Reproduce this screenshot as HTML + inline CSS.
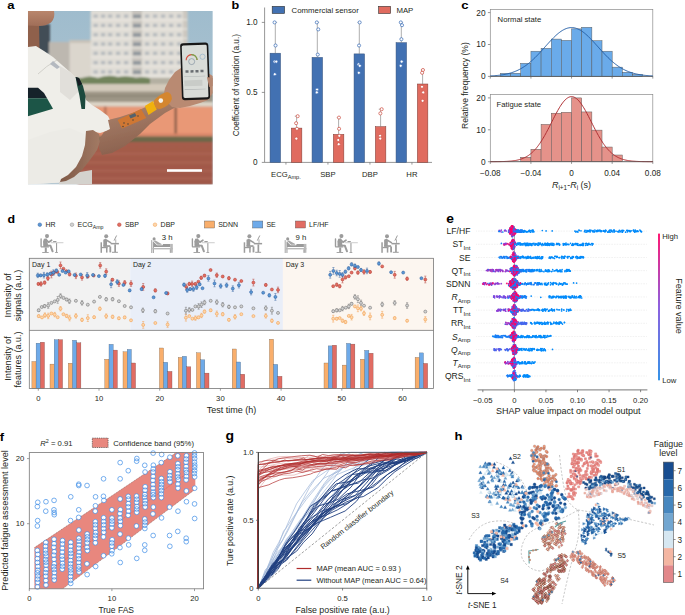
<!DOCTYPE html>
<html><head><meta charset="utf-8"><style>
html,body{margin:0;padding:0;background:#fff;}
svg{display:block;}
text{font-family:"Liberation Sans", sans-serif;}
</style></head><body>
<svg width="685" height="615" viewBox="0 0 685 615" font-family='"Liberation Sans", sans-serif'>
<rect width="685" height="615" fill="#fff"/>
<text transform="translate(7.3,9.2) scale(1.13,1)" font-size="11.6" font-weight="bold" fill="#000">a</text>
<defs><clipPath id="pc"><rect x="27.9" y="10.9" width="184.9" height="173.7"/></clipPath><filter id="bl1" x="-5%" y="-5%" width="110%" height="110%"><feGaussianBlur stdDeviation="0.8"/></filter><filter id="bl2" x="-5%" y="-5%" width="110%" height="110%"><feGaussianBlur stdDeviation="0.4"/></filter><linearGradient id="sky" x1="0" y1="0" x2="0" y2="1"><stop offset="0" stop-color="#9fbccd"/><stop offset="1" stop-color="#b6c8d2"/></linearGradient><linearGradient id="trk" x1="0" y1="0" x2="0" y2="1"><stop offset="0" stop-color="#a55c4b"/><stop offset="1" stop-color="#a05849"/></linearGradient><linearGradient id="farm" x1="0" y1="0" x2="0.3" y2="1"><stop offset="0" stop-color="#b38b74"/><stop offset="1" stop-color="#8a604d"/></linearGradient><linearGradient id="larm" x1="0" y1="0" x2="1" y2="0"><stop offset="0" stop-color="#7e5846"/><stop offset="1" stop-color="#a27a64"/></linearGradient><linearGradient id="chin" x1="0" y1="0" x2="0" y2="1"><stop offset="0" stop-color="#b9866c"/><stop offset="1" stop-color="#a06e58"/></linearGradient></defs>
<g clip-path="url(#pc)">
<rect x="27.9" y="10.9" width="184.9" height="173.7" fill="url(#sky)" stroke="none" stroke-width="0" />
<g filter="url(#bl1)">
<rect x="36.5" y="24" width="13.5" height="30" fill="#434d57" stroke="none" stroke-width="0" />
<rect x="49" y="42" width="22" height="40" fill="#bdb8b0" stroke="none" stroke-width="0" />
<rect x="69.6" y="40" width="21.5" height="42" fill="#dbd6cd" stroke="none" stroke-width="0" />
<rect x="69.6" y="40" width="21.5" height="3" fill="#c8c2b8" stroke="none" stroke-width="0" />
<rect x="90.7" y="10" width="96.5" height="74" fill="#e0ddd6" stroke="none" stroke-width="0" />
<rect x="132" y="10" width="10" height="74" fill="#c9c5be" stroke="none" stroke-width="0" />
<rect x="183" y="10" width="4.5" height="74" fill="#ccc7bf" stroke="none" stroke-width="0" />
<rect x="93.5" y="14.5" width="4.2" height="3.2" fill="#b3b8bc" stroke="none" stroke-width="0" />
<rect x="101" y="14.5" width="4.2" height="3.2" fill="#b3b8bc" stroke="none" stroke-width="0" />
<rect x="108" y="14.5" width="4.2" height="3.2" fill="#b3b8bc" stroke="none" stroke-width="0" />
<rect x="116" y="14.5" width="4.2" height="3.2" fill="#b3b8bc" stroke="none" stroke-width="0" />
<rect x="124" y="14.5" width="4.2" height="3.2" fill="#b3b8bc" stroke="none" stroke-width="0" />
<rect x="145" y="14.5" width="4.2" height="3.2" fill="#b3b8bc" stroke="none" stroke-width="0" />
<rect x="153" y="14.5" width="4.2" height="3.2" fill="#b3b8bc" stroke="none" stroke-width="0" />
<rect x="161" y="14.5" width="4.2" height="3.2" fill="#b3b8bc" stroke="none" stroke-width="0" />
<rect x="169" y="14.5" width="4.2" height="3.2" fill="#b3b8bc" stroke="none" stroke-width="0" />
<rect x="177" y="14.5" width="4.2" height="3.2" fill="#b3b8bc" stroke="none" stroke-width="0" />
<rect x="133" y="14.5" width="8" height="3.6" fill="#8f969c" stroke="none" stroke-width="0" />
<rect x="90.7" y="19.1" width="96.5" height="1.2" fill="#ebe8e2" stroke="none" stroke-width="0" />
<rect x="93.5" y="23.8" width="4.2" height="3.2" fill="#b3b8bc" stroke="none" stroke-width="0" />
<rect x="101" y="23.8" width="4.2" height="3.2" fill="#b3b8bc" stroke="none" stroke-width="0" />
<rect x="108" y="23.8" width="4.2" height="3.2" fill="#b3b8bc" stroke="none" stroke-width="0" />
<rect x="116" y="23.8" width="4.2" height="3.2" fill="#b3b8bc" stroke="none" stroke-width="0" />
<rect x="124" y="23.8" width="4.2" height="3.2" fill="#b3b8bc" stroke="none" stroke-width="0" />
<rect x="145" y="23.8" width="4.2" height="3.2" fill="#b3b8bc" stroke="none" stroke-width="0" />
<rect x="153" y="23.8" width="4.2" height="3.2" fill="#b3b8bc" stroke="none" stroke-width="0" />
<rect x="161" y="23.8" width="4.2" height="3.2" fill="#b3b8bc" stroke="none" stroke-width="0" />
<rect x="169" y="23.8" width="4.2" height="3.2" fill="#b3b8bc" stroke="none" stroke-width="0" />
<rect x="177" y="23.8" width="4.2" height="3.2" fill="#b3b8bc" stroke="none" stroke-width="0" />
<rect x="133" y="23.8" width="8" height="3.6" fill="#8f969c" stroke="none" stroke-width="0" />
<rect x="90.7" y="28.4" width="96.5" height="1.2" fill="#ebe8e2" stroke="none" stroke-width="0" />
<rect x="93.5" y="33.1" width="4.2" height="3.2" fill="#b3b8bc" stroke="none" stroke-width="0" />
<rect x="101" y="33.1" width="4.2" height="3.2" fill="#b3b8bc" stroke="none" stroke-width="0" />
<rect x="108" y="33.1" width="4.2" height="3.2" fill="#b3b8bc" stroke="none" stroke-width="0" />
<rect x="116" y="33.1" width="4.2" height="3.2" fill="#b3b8bc" stroke="none" stroke-width="0" />
<rect x="124" y="33.1" width="4.2" height="3.2" fill="#b3b8bc" stroke="none" stroke-width="0" />
<rect x="145" y="33.1" width="4.2" height="3.2" fill="#b3b8bc" stroke="none" stroke-width="0" />
<rect x="153" y="33.1" width="4.2" height="3.2" fill="#b3b8bc" stroke="none" stroke-width="0" />
<rect x="161" y="33.1" width="4.2" height="3.2" fill="#b3b8bc" stroke="none" stroke-width="0" />
<rect x="169" y="33.1" width="4.2" height="3.2" fill="#b3b8bc" stroke="none" stroke-width="0" />
<rect x="177" y="33.1" width="4.2" height="3.2" fill="#b3b8bc" stroke="none" stroke-width="0" />
<rect x="133" y="33.1" width="8" height="3.6" fill="#8f969c" stroke="none" stroke-width="0" />
<rect x="90.7" y="37.7" width="96.5" height="1.2" fill="#ebe8e2" stroke="none" stroke-width="0" />
<rect x="93.5" y="42.4" width="4.2" height="3.2" fill="#b3b8bc" stroke="none" stroke-width="0" />
<rect x="101" y="42.4" width="4.2" height="3.2" fill="#b3b8bc" stroke="none" stroke-width="0" />
<rect x="108" y="42.4" width="4.2" height="3.2" fill="#b3b8bc" stroke="none" stroke-width="0" />
<rect x="116" y="42.4" width="4.2" height="3.2" fill="#b3b8bc" stroke="none" stroke-width="0" />
<rect x="124" y="42.4" width="4.2" height="3.2" fill="#b3b8bc" stroke="none" stroke-width="0" />
<rect x="145" y="42.4" width="4.2" height="3.2" fill="#b3b8bc" stroke="none" stroke-width="0" />
<rect x="153" y="42.4" width="4.2" height="3.2" fill="#b3b8bc" stroke="none" stroke-width="0" />
<rect x="161" y="42.4" width="4.2" height="3.2" fill="#b3b8bc" stroke="none" stroke-width="0" />
<rect x="169" y="42.4" width="4.2" height="3.2" fill="#b3b8bc" stroke="none" stroke-width="0" />
<rect x="177" y="42.4" width="4.2" height="3.2" fill="#b3b8bc" stroke="none" stroke-width="0" />
<rect x="133" y="42.4" width="8" height="3.6" fill="#8f969c" stroke="none" stroke-width="0" />
<rect x="90.7" y="47" width="96.5" height="1.2" fill="#ebe8e2" stroke="none" stroke-width="0" />
<rect x="93.5" y="51.7" width="4.2" height="3.2" fill="#b3b8bc" stroke="none" stroke-width="0" />
<rect x="101" y="51.7" width="4.2" height="3.2" fill="#b3b8bc" stroke="none" stroke-width="0" />
<rect x="108" y="51.7" width="4.2" height="3.2" fill="#b3b8bc" stroke="none" stroke-width="0" />
<rect x="116" y="51.7" width="4.2" height="3.2" fill="#b3b8bc" stroke="none" stroke-width="0" />
<rect x="124" y="51.7" width="4.2" height="3.2" fill="#b3b8bc" stroke="none" stroke-width="0" />
<rect x="145" y="51.7" width="4.2" height="3.2" fill="#b3b8bc" stroke="none" stroke-width="0" />
<rect x="153" y="51.7" width="4.2" height="3.2" fill="#b3b8bc" stroke="none" stroke-width="0" />
<rect x="161" y="51.7" width="4.2" height="3.2" fill="#b3b8bc" stroke="none" stroke-width="0" />
<rect x="169" y="51.7" width="4.2" height="3.2" fill="#b3b8bc" stroke="none" stroke-width="0" />
<rect x="177" y="51.7" width="4.2" height="3.2" fill="#b3b8bc" stroke="none" stroke-width="0" />
<rect x="133" y="51.7" width="8" height="3.6" fill="#8f969c" stroke="none" stroke-width="0" />
<rect x="90.7" y="56.3" width="96.5" height="1.2" fill="#ebe8e2" stroke="none" stroke-width="0" />
<rect x="93.5" y="61" width="4.2" height="3.2" fill="#b3b8bc" stroke="none" stroke-width="0" />
<rect x="101" y="61" width="4.2" height="3.2" fill="#b3b8bc" stroke="none" stroke-width="0" />
<rect x="108" y="61" width="4.2" height="3.2" fill="#b3b8bc" stroke="none" stroke-width="0" />
<rect x="116" y="61" width="4.2" height="3.2" fill="#b3b8bc" stroke="none" stroke-width="0" />
<rect x="124" y="61" width="4.2" height="3.2" fill="#b3b8bc" stroke="none" stroke-width="0" />
<rect x="145" y="61" width="4.2" height="3.2" fill="#b3b8bc" stroke="none" stroke-width="0" />
<rect x="153" y="61" width="4.2" height="3.2" fill="#b3b8bc" stroke="none" stroke-width="0" />
<rect x="161" y="61" width="4.2" height="3.2" fill="#b3b8bc" stroke="none" stroke-width="0" />
<rect x="169" y="61" width="4.2" height="3.2" fill="#b3b8bc" stroke="none" stroke-width="0" />
<rect x="177" y="61" width="4.2" height="3.2" fill="#b3b8bc" stroke="none" stroke-width="0" />
<rect x="133" y="61" width="8" height="3.6" fill="#8f969c" stroke="none" stroke-width="0" />
<rect x="90.7" y="65.6" width="96.5" height="1.2" fill="#ebe8e2" stroke="none" stroke-width="0" />
<rect x="93.5" y="70.3" width="4.2" height="3.2" fill="#b3b8bc" stroke="none" stroke-width="0" />
<rect x="101" y="70.3" width="4.2" height="3.2" fill="#b3b8bc" stroke="none" stroke-width="0" />
<rect x="108" y="70.3" width="4.2" height="3.2" fill="#b3b8bc" stroke="none" stroke-width="0" />
<rect x="116" y="70.3" width="4.2" height="3.2" fill="#b3b8bc" stroke="none" stroke-width="0" />
<rect x="124" y="70.3" width="4.2" height="3.2" fill="#b3b8bc" stroke="none" stroke-width="0" />
<rect x="145" y="70.3" width="4.2" height="3.2" fill="#b3b8bc" stroke="none" stroke-width="0" />
<rect x="153" y="70.3" width="4.2" height="3.2" fill="#b3b8bc" stroke="none" stroke-width="0" />
<rect x="161" y="70.3" width="4.2" height="3.2" fill="#b3b8bc" stroke="none" stroke-width="0" />
<rect x="169" y="70.3" width="4.2" height="3.2" fill="#b3b8bc" stroke="none" stroke-width="0" />
<rect x="177" y="70.3" width="4.2" height="3.2" fill="#b3b8bc" stroke="none" stroke-width="0" />
<rect x="133" y="70.3" width="8" height="3.6" fill="#8f969c" stroke="none" stroke-width="0" />
<rect x="90.7" y="74.9" width="96.5" height="1.2" fill="#ebe8e2" stroke="none" stroke-width="0" />
<rect x="93.5" y="79.6" width="4.2" height="3.2" fill="#b3b8bc" stroke="none" stroke-width="0" />
<rect x="101" y="79.6" width="4.2" height="3.2" fill="#b3b8bc" stroke="none" stroke-width="0" />
<rect x="108" y="79.6" width="4.2" height="3.2" fill="#b3b8bc" stroke="none" stroke-width="0" />
<rect x="116" y="79.6" width="4.2" height="3.2" fill="#b3b8bc" stroke="none" stroke-width="0" />
<rect x="124" y="79.6" width="4.2" height="3.2" fill="#b3b8bc" stroke="none" stroke-width="0" />
<rect x="145" y="79.6" width="4.2" height="3.2" fill="#b3b8bc" stroke="none" stroke-width="0" />
<rect x="153" y="79.6" width="4.2" height="3.2" fill="#b3b8bc" stroke="none" stroke-width="0" />
<rect x="161" y="79.6" width="4.2" height="3.2" fill="#b3b8bc" stroke="none" stroke-width="0" />
<rect x="169" y="79.6" width="4.2" height="3.2" fill="#b3b8bc" stroke="none" stroke-width="0" />
<rect x="177" y="79.6" width="4.2" height="3.2" fill="#b3b8bc" stroke="none" stroke-width="0" />
<rect x="133" y="79.6" width="8" height="3.6" fill="#8f969c" stroke="none" stroke-width="0" />
<rect x="90.7" y="84.2" width="96.5" height="1.2" fill="#ebe8e2" stroke="none" stroke-width="0" />
<path d="M70,84 Q74,77 82,78 Q90,75 98,78 Q108,74 118,77 Q128,75 136,78 Q146,76 152,79 L160,82 L160,86 L70,86 Z" fill="#72845c" stroke="none" stroke-width="0" />
<rect x="150" y="78" width="63" height="8" fill="#b4b0a2" stroke="none" stroke-width="0" />
<rect x="78" y="84" width="135" height="8" fill="#d3cabb" stroke="none" stroke-width="0" />
<rect x="78" y="91.5" width="135" height="10.5" fill="#9d9686" stroke="none" stroke-width="0" />
<rect x="78" y="95" width="135" height="2" fill="#8f8878" stroke="none" stroke-width="0" />
<rect x="78" y="102" width="135" height="4.5" fill="#ddd4c6" stroke="none" stroke-width="0" />
<rect x="78" y="106.5" width="135" height="30" fill="#e99876" stroke="none" stroke-width="0" />
<rect x="104" y="106.5" width="2.5" height="30" fill="#b77259" stroke="none" stroke-width="0" />
<rect x="174.5" y="106.5" width="2.4" height="30" fill="#8a5e4c" stroke="none" stroke-width="0" />
<rect x="78" y="133.5" width="135" height="3" fill="#d88468" stroke="none" stroke-width="0" />
<rect x="78" y="136.5" width="135" height="5.5" fill="#6c6849" stroke="none" stroke-width="0" />
<rect x="78" y="142" width="135" height="43" fill="url(#trk)" stroke="none" stroke-width="0" />
<rect x="78" y="153.5" width="135" height="0.9" fill="#b46e5e" stroke="none" stroke-width="0" />
<rect x="78" y="162" width="135" height="0.9" fill="#b46e5e" stroke="none" stroke-width="0" />
<rect x="78" y="170.5" width="135" height="0.9" fill="#b46e5e" stroke="none" stroke-width="0" />
<rect x="78" y="178" width="135" height="0.9" fill="#b46e5e" stroke="none" stroke-width="0" />
</g>
<g filter="url(#bl2)">
<path d="M27.9,22 L39,22 L39.5,49 L27.9,50 Z" fill="#8f604c" stroke="none" stroke-width="0" />
<path d="M27.9,10.9 L54,10.9 Q55.5,18 51,22.5 Q45,26.5 38,26 L27.9,25.5 Z" fill="url(#chin)" stroke="none" stroke-width="0" />
<path d="M27.9,47 L36,46 L44,51 L53,57 L62,65 L70,72 L77,79 L82,88 L86,100 L92,105 L100,110 L108,116 L111,122 L110,130 L100,133 L90,131 L86,134 L86,148 L79,164 L68,176 L59,182.5 L27.9,184.6 Z" fill="#efeee9" stroke="none" stroke-width="0" />
<path d="M60,66 L70,72 L77,79 L80,90 L70,100 L60,92 Z" fill="#e1dfda" stroke="none" stroke-width="0" />
<path d="M27.9,140 L50,132 L70,128 L84,134 L86,148 L79,164 L68,176 L59,182.5 L27.9,184.6 Z" fill="#ecebe6" stroke="none" stroke-width="0" />
<path d="M38,74 Q46,66 57,60" fill="none" stroke="#c9c8c2" stroke-width="0.8" />
<path d="M50,64 L53,61 L60,67 L57,69 Z" fill="#b4b9c0" stroke="none" stroke-width="0" />
<path d="M27.9,87.7 L38,87.7 L44,93 L47,98.2 L27.9,98.2 Z" fill="#17202a" stroke="none" stroke-width="0" />
<path d="M27.9,98.2 L47,98.2 L53,108.8 L27.9,116.3 Z" fill="#1c5546" stroke="none" stroke-width="0" />
<path d="M75.6,77 L79,78 L83,86 L85.5,96 L85,109 L81.5,109 L79.5,96 L77,85 Z" fill="#1e4a3e" stroke="none" stroke-width="0" />
<path d="M75.6,77 L79,78 L82,84 L78.5,86 Z" fill="#141c20" stroke="none" stroke-width="0" />
<path d="M59,182.5 L68,176 L80,172 L92,170 L92,184.6 L59,184.6 Z" fill="#d4d2cd" stroke="none" stroke-width="0" />
<path d="M86,131 L93,130 L99,134 L100,142 L97,150 L90,160 L82,170 L74,177 L66,181 L60,182 L61,179 L68,175 L76,167 L82,156 L85,145 Z" fill="url(#larm)" stroke="none" stroke-width="0" />
<path d="M108,120 L120,117 L135,112 L150,105 L165,97 L172,95 L177,100 L176,107 L165,113 L150,124 L140,134 L125,146 L112,153 L102,155 L99,148 L100,138 L104,132 L110,129 Z" fill="url(#farm)" stroke="none" stroke-width="0" />
<path d="M163,98 L165,88 L169,80 L175,72 L181,68 L190,67 L200,70 L208,73 L212.8,76 L212.8,93 L208,100 L200,103 L190,106 L180,108 L172,107 Z" fill="#b98a72" stroke="none" stroke-width="0" />
</g>
<g transform="rotate(-2 195 71)">
<rect x="181" y="42.8" width="28.2" height="57" fill="#171717" stroke="none" stroke-width="0" rx="3"/>
<rect x="182.6" y="45" width="25" height="52.6" fill="#d9dcd8" stroke="none" stroke-width="0" rx="1.5"/>
<path d="M186.5,60 A5.5,5.5 0 0 1 197.5,60" fill="none" stroke="#d84a3a" stroke-width="1.1" />
<path d="M192,54.5 A5.5,5.5 0 0 1 197.5,60" fill="none" stroke="#6ab04c" stroke-width="1.1" />
<circle cx="192" cy="61.5" r="3" fill="none" stroke="#7a8a9a" stroke-width="0.6" />
<circle cx="203" cy="57" r="2.6" fill="none" stroke="#8aaec8" stroke-width="0.6" />
<rect x="185.5" y="70" width="3" height="2.5" fill="#6a6e72" stroke="none" stroke-width="0" />
<rect x="190.5" y="70" width="3" height="2.5" fill="#6a6e72" stroke="none" stroke-width="0" />
<rect x="195.5" y="70" width="3" height="2.5" fill="#6a6e72" stroke="none" stroke-width="0" />
<rect x="200.5" y="70" width="3" height="2.5" fill="#6a6e72" stroke="none" stroke-width="0" />
<rect x="184" y="76" width="21" height="0.6" fill="#b0b4b4" stroke="none" stroke-width="0" />
<rect x="184" y="89" width="21" height="0.6" fill="#b0b4b4" stroke="none" stroke-width="0" />
<rect x="184" y="80" width="18" height="6" fill="#c9ccc8" stroke="none" stroke-width="0" />
</g>
<path d="M207,77 L212.8,78 L212.8,86 L209,87 Z" fill="#b48670" stroke="none" stroke-width="0" />
<path d="M117.7,120 L141,109 L146.3,118 L122,128.5 Z" fill="#cf7733" stroke="none" stroke-width="0" />
<path d="M129,115.5 L135,113 L136.5,116 L130.5,118.5 Z" fill="#55626c" stroke="none" stroke-width="0" />
<circle cx="124" cy="123" r="0.7" fill="#3a3a3a" stroke="none" stroke-width="0" />
<circle cx="128" cy="124" r="0.7" fill="#3a3a3a" stroke="none" stroke-width="0" />
<circle cx="133" cy="120" r="0.7" fill="#3a3a3a" stroke="none" stroke-width="0" />
<circle cx="123" cy="126.5" r="0.7" fill="#3a3a3a" stroke="none" stroke-width="0" />
<circle cx="138" cy="116" r="0.7" fill="#3a3a3a" stroke="none" stroke-width="0" />
<path d="M144.8,106 L153,101 L156.8,109.5 L148.5,115 Z" fill="#f0b10e" stroke="none" stroke-width="0" />
<path d="M153.5,101 Q160,93.5 167,92 Q172,93 171.9,99 Q170,105.5 161,108.8 Q156,109.5 155,106 Z" fill="#d4862f" stroke="none" stroke-width="0" />
<circle cx="160.8" cy="100.6" r="2.3" fill="#f5f2ec" stroke="none" stroke-width="0" />
<rect x="167" y="169.2" width="35" height="2.6" fill="#ffffff" stroke="none" stroke-width="0" />
</g>
<text transform="translate(231.6,8.7) scale(1.13,1)" font-size="11.2" font-weight="bold" fill="#000">b</text>
<line x1="264.6" y1="7.5" x2="264.6" y2="162.4" stroke="#6a6a6a" stroke-width="0.7" />
<line x1="264.6" y1="162.4" x2="432" y2="162.4" stroke="#6a6a6a" stroke-width="0.7" />
<line x1="261.8" y1="22.4" x2="264.6" y2="22.4" stroke="#6a6a6a" stroke-width="0.7" />
<text x="257.6" y="25.3" font-size="8.2" text-anchor="end" fill="#231f20" font-weight="normal" >1.0</text>
<line x1="261.8" y1="92.4" x2="264.6" y2="92.4" stroke="#6a6a6a" stroke-width="0.7" />
<text x="257.6" y="95.3" font-size="8.2" text-anchor="end" fill="#231f20" font-weight="normal" >0.5</text>
<line x1="261.8" y1="162.4" x2="264.6" y2="162.4" stroke="#6a6a6a" stroke-width="0.7" />
<text x="257.6" y="165.3" font-size="8.2" text-anchor="end" fill="#231f20" font-weight="normal" >0</text>
<rect x="270.05" y="53.2" width="10.5" height="109.2" fill="#4271b2" stroke="#34507a" stroke-width="0.5" />
<rect x="291.35" y="128.1" width="10.5" height="34.3" fill="#e06b5f" stroke="#7a3a34" stroke-width="0.5" />
<line x1="275.3" y1="53.2" x2="275.3" y2="22.4" stroke="#777" stroke-width="0.6" />
<line x1="273.5" y1="22.4" x2="277.1" y2="22.4" stroke="#777" stroke-width="0.6" />
<line x1="296.6" y1="128.1" x2="296.6" y2="116.2" stroke="#777" stroke-width="0.6" />
<line x1="294.8" y1="116.2" x2="298.4" y2="116.2" stroke="#777" stroke-width="0.6" />
<circle cx="274.58" cy="22.4" r="1.55" fill="white" stroke="#3f70b8" stroke-width="0.75" />
<circle cx="275.54" cy="45.5" r="1.55" fill="white" stroke="#3f70b8" stroke-width="0.75" />
<circle cx="274.58" cy="61.6" r="1.55" fill="white" stroke="#3f70b8" stroke-width="0.75" />
<circle cx="276.26" cy="61.6" r="1.55" fill="white" stroke="#3f70b8" stroke-width="0.75" />
<circle cx="274.82" cy="74.2" r="1.55" fill="white" stroke="#3f70b8" stroke-width="0.75" />
<circle cx="297.68" cy="116.2" r="1.55" fill="white" stroke="#d0554a" stroke-width="0.75" />
<circle cx="296.12" cy="123.2" r="1.55" fill="white" stroke="#d0554a" stroke-width="0.75" />
<circle cx="296.96" cy="128.8" r="1.55" fill="white" stroke="#d0554a" stroke-width="0.75" />
<circle cx="296.36" cy="138.6" r="1.55" fill="white" stroke="#d0554a" stroke-width="0.75" />
<line x1="285.95" y1="162.4" x2="285.95" y2="164.6" stroke="#6a6a6a" stroke-width="0.7" />
<rect x="312.05" y="57.4" width="10.5" height="105" fill="#4271b2" stroke="#34507a" stroke-width="0.5" />
<rect x="333.35" y="134.4" width="10.5" height="28" fill="#e06b5f" stroke="#7a3a34" stroke-width="0.5" />
<line x1="317.3" y1="57.4" x2="317.3" y2="22.4" stroke="#777" stroke-width="0.6" />
<line x1="315.5" y1="22.4" x2="319.1" y2="22.4" stroke="#777" stroke-width="0.6" />
<line x1="338.6" y1="134.4" x2="338.6" y2="117.6" stroke="#777" stroke-width="0.6" />
<line x1="336.8" y1="117.6" x2="340.4" y2="117.6" stroke="#777" stroke-width="0.6" />
<circle cx="316.82" cy="22.4" r="1.55" fill="white" stroke="#3f70b8" stroke-width="0.75" />
<circle cx="318.26" cy="29.4" r="1.55" fill="white" stroke="#3f70b8" stroke-width="0.75" />
<circle cx="317.78" cy="54.6" r="1.55" fill="white" stroke="#3f70b8" stroke-width="0.75" />
<circle cx="317.06" cy="89.6" r="1.55" fill="white" stroke="#3f70b8" stroke-width="0.75" />
<circle cx="316.82" cy="92.4" r="1.55" fill="white" stroke="#3f70b8" stroke-width="0.75" />
<circle cx="338.96" cy="117.6" r="1.55" fill="white" stroke="#d0554a" stroke-width="0.75" />
<circle cx="339.08" cy="128.8" r="1.55" fill="white" stroke="#d0554a" stroke-width="0.75" />
<circle cx="339.32" cy="135.8" r="1.55" fill="white" stroke="#d0554a" stroke-width="0.75" />
<circle cx="338.24" cy="140" r="1.55" fill="white" stroke="#d0554a" stroke-width="0.75" />
<circle cx="338.72" cy="144.2" r="1.55" fill="white" stroke="#d0554a" stroke-width="0.75" />
<line x1="327.95" y1="162.4" x2="327.95" y2="164.6" stroke="#6a6a6a" stroke-width="0.7" />
<rect x="354.05" y="53.9" width="10.5" height="108.5" fill="#4271b2" stroke="#34507a" stroke-width="0.5" />
<rect x="375.35" y="126.7" width="10.5" height="35.7" fill="#e06b5f" stroke="#7a3a34" stroke-width="0.5" />
<line x1="359.3" y1="53.9" x2="359.3" y2="22.4" stroke="#777" stroke-width="0.6" />
<line x1="357.5" y1="22.4" x2="361.1" y2="22.4" stroke="#777" stroke-width="0.6" />
<line x1="380.6" y1="126.7" x2="380.6" y2="109.2" stroke="#777" stroke-width="0.6" />
<line x1="378.8" y1="109.2" x2="382.4" y2="109.2" stroke="#777" stroke-width="0.6" />
<circle cx="359.66" cy="22.4" r="1.55" fill="white" stroke="#3f70b8" stroke-width="0.75" />
<circle cx="359.06" cy="45.5" r="1.55" fill="white" stroke="#3f70b8" stroke-width="0.75" />
<circle cx="358.58" cy="64.4" r="1.55" fill="white" stroke="#3f70b8" stroke-width="0.75" />
<circle cx="359.78" cy="65.8" r="1.55" fill="white" stroke="#3f70b8" stroke-width="0.75" />
<circle cx="358.82" cy="72.8" r="1.55" fill="white" stroke="#3f70b8" stroke-width="0.75" />
<circle cx="381.68" cy="109.2" r="1.55" fill="white" stroke="#d0554a" stroke-width="0.75" />
<circle cx="380.36" cy="113.4" r="1.55" fill="white" stroke="#d0554a" stroke-width="0.75" />
<circle cx="380.12" cy="135.8" r="1.55" fill="white" stroke="#d0554a" stroke-width="0.75" />
<circle cx="380.24" cy="138.6" r="1.55" fill="white" stroke="#d0554a" stroke-width="0.75" />
<line x1="369.95" y1="162.4" x2="369.95" y2="164.6" stroke="#6a6a6a" stroke-width="0.7" />
<rect x="396.05" y="42.7" width="10.5" height="119.7" fill="#4271b2" stroke="#34507a" stroke-width="0.5" />
<rect x="417.35" y="84" width="10.5" height="78.4" fill="#e06b5f" stroke="#7a3a34" stroke-width="0.5" />
<line x1="401.3" y1="42.7" x2="401.3" y2="22.4" stroke="#777" stroke-width="0.6" />
<line x1="399.5" y1="22.4" x2="403.1" y2="22.4" stroke="#777" stroke-width="0.6" />
<line x1="422.6" y1="84" x2="422.6" y2="70" stroke="#777" stroke-width="0.6" />
<line x1="420.8" y1="70" x2="424.4" y2="70" stroke="#777" stroke-width="0.6" />
<circle cx="400.82" cy="22.4" r="1.55" fill="white" stroke="#3f70b8" stroke-width="0.75" />
<circle cx="402.02" cy="25.2" r="1.55" fill="white" stroke="#3f70b8" stroke-width="0.75" />
<circle cx="401.42" cy="39.2" r="1.55" fill="white" stroke="#3f70b8" stroke-width="0.75" />
<circle cx="401.66" cy="61.6" r="1.55" fill="white" stroke="#3f70b8" stroke-width="0.75" />
<circle cx="400.7" cy="65.8" r="1.55" fill="white" stroke="#3f70b8" stroke-width="0.75" />
<circle cx="422.96" cy="70" r="1.55" fill="white" stroke="#d0554a" stroke-width="0.75" />
<circle cx="422.12" cy="72.8" r="1.55" fill="white" stroke="#d0554a" stroke-width="0.75" />
<circle cx="422" cy="86.8" r="1.55" fill="white" stroke="#d0554a" stroke-width="0.75" />
<circle cx="423.2" cy="92.4" r="1.55" fill="white" stroke="#d0554a" stroke-width="0.75" />
<circle cx="422.6" cy="100.8" r="1.55" fill="white" stroke="#d0554a" stroke-width="0.75" />
<line x1="411.95" y1="162.4" x2="411.95" y2="164.6" stroke="#6a6a6a" stroke-width="0.7" />
<text x="285.9" y="177.3" font-size="7.7" text-anchor="middle" fill="#231f20" font-weight="normal" >ECG<tspan font-size="5.6" dy="1.8">Amp.</tspan></text>
<text x="327.9" y="177.3" font-size="7.7" text-anchor="middle" fill="#231f20" font-weight="normal" >SBP</text>
<text x="369.9" y="177.3" font-size="7.7" text-anchor="middle" fill="#231f20" font-weight="normal" >DBP</text>
<text x="411.9" y="177.3" font-size="7.7" text-anchor="middle" fill="#231f20" font-weight="normal" >HR</text>
<text x="0" y="0" font-size="8.2" text-anchor="middle" fill="#231f20" font-weight="normal" transform="translate(238.6,85.2) rotate(-90)">Coefficient of variation (a.u.)</text>
<rect x="272.2" y="6.3" width="12.4" height="7.2" fill="#4271b2" stroke="#333" stroke-width="0.6" />
<text x="291.6" y="12.7" font-size="7.8" text-anchor="start" fill="#231f20" font-weight="normal" >Commercial sensor</text>
<rect x="378.6" y="6.3" width="12" height="7.2" fill="#e06b5f" stroke="#333" stroke-width="0.6" />
<text x="396.4" y="12.7" font-size="7.8" text-anchor="start" fill="#231f20" font-weight="normal" >MAP</text>
<text transform="translate(461.3,9.2) scale(1.13,1)" font-size="11.6" font-weight="bold" fill="#000">c</text>
<rect x="490.3" y="9.6" width="162.5" height="66.8" fill="white" stroke="#8a8a8a" stroke-width="0.7" />
<rect x="500.46" y="73.37" width="10.16" height="3.03" fill="#6aabea" stroke="#555" stroke-width="0.45" />
<rect x="510.61" y="73.21" width="10.16" height="3.19" fill="#6aabea" stroke="#555" stroke-width="0.45" />
<rect x="520.77" y="63.32" width="10.16" height="13.08" fill="#6aabea" stroke="#555" stroke-width="0.45" />
<rect x="530.93" y="51.2" width="10.16" height="25.2" fill="#6aabea" stroke="#555" stroke-width="0.45" />
<rect x="541.08" y="48.33" width="10.16" height="28.07" fill="#6aabea" stroke="#555" stroke-width="0.45" />
<rect x="551.24" y="39.08" width="10.16" height="37.32" fill="#6aabea" stroke="#555" stroke-width="0.45" />
<rect x="561.39" y="40.35" width="10.16" height="36.05" fill="#6aabea" stroke="#555" stroke-width="0.45" />
<rect x="571.55" y="28.87" width="10.16" height="47.53" fill="#6aabea" stroke="#555" stroke-width="0.45" />
<rect x="581.71" y="27.27" width="10.16" height="49.13" fill="#6aabea" stroke="#555" stroke-width="0.45" />
<rect x="591.86" y="40.67" width="10.16" height="35.73" fill="#6aabea" stroke="#555" stroke-width="0.45" />
<rect x="602.02" y="51.2" width="10.16" height="25.2" fill="#6aabea" stroke="#555" stroke-width="0.45" />
<rect x="612.17" y="67.15" width="10.16" height="9.25" fill="#6aabea" stroke="#555" stroke-width="0.45" />
<rect x="622.33" y="72.25" width="10.16" height="4.15" fill="#6aabea" stroke="#555" stroke-width="0.45" />
<rect x="632.49" y="74.49" width="10.16" height="1.91" fill="#6aabea" stroke="#555" stroke-width="0.45" />
<polyline points="490.3,75.97 491.11,75.93 491.93,75.88 492.74,75.83 493.55,75.78 494.36,75.72 495.18,75.66 495.99,75.59 496.8,75.51 497.61,75.43 498.43,75.34 499.24,75.25 500.05,75.15 500.86,75.04 501.68,74.93 502.49,74.8 503.3,74.67 504.11,74.53 504.93,74.38 505.74,74.21 506.55,74.04 507.36,73.86 508.18,73.66 508.99,73.45 509.8,73.23 510.61,73 511.43,72.75 512.24,72.48 513.05,72.2 513.86,71.91 514.68,71.6 515.49,71.27 516.3,70.93 517.11,70.57 517.93,70.19 518.74,69.79 519.55,69.38 520.36,68.94 521.18,68.49 521.99,68.01 522.8,67.52 523.61,67.01 524.43,66.47 525.24,65.92 526.05,65.34 526.86,64.74 527.68,64.13 528.49,63.49 529.3,62.83 530.11,62.15 530.93,61.45 531.74,60.74 532.55,60 533.36,59.25 534.18,58.47 534.99,57.69 535.8,56.88 536.61,56.06 537.43,55.22 538.24,54.38 539.05,53.52 539.86,52.64 540.68,51.76 541.49,50.87 542.3,49.97 543.11,49.07 543.93,48.16 544.74,47.25 545.55,46.34 546.36,45.43 547.18,44.52 547.99,43.62 548.8,42.73 549.61,41.84 550.43,40.96 551.24,40.09 552.05,39.24 552.86,38.4 553.68,37.59 554.49,36.79 555.3,36.01 556.11,35.26 556.93,34.53 557.74,33.83 558.55,33.16 559.36,32.52 560.18,31.92 560.99,31.35 561.8,30.81 562.61,30.31 563.43,29.85 564.24,29.43 565.05,29.05 565.86,28.71 566.68,28.42 567.49,28.17 568.3,27.96 569.11,27.8 569.93,27.69 570.74,27.62 571.55,27.59 572.36,27.62 573.17,27.69 573.99,27.8 574.8,27.96 575.61,28.17 576.42,28.42 577.24,28.71 578.05,29.05 578.86,29.43 579.67,29.85 580.49,30.31 581.3,30.81 582.11,31.35 582.92,31.92 583.74,32.52 584.55,33.16 585.36,33.83 586.17,34.53 586.99,35.26 587.8,36.01 588.61,36.79 589.42,37.59 590.24,38.4 591.05,39.24 591.86,40.09 592.67,40.96 593.49,41.84 594.3,42.73 595.11,43.62 595.92,44.52 596.74,45.43 597.55,46.34 598.36,47.25 599.17,48.16 599.99,49.07 600.8,49.97 601.61,50.87 602.42,51.76 603.24,52.64 604.05,53.52 604.86,54.38 605.67,55.22 606.49,56.06 607.3,56.88 608.11,57.69 608.92,58.47 609.74,59.25 610.55,60 611.36,60.74 612.17,61.45 612.99,62.15 613.8,62.83 614.61,63.49 615.42,64.13 616.24,64.74 617.05,65.34 617.86,65.92 618.67,66.47 619.49,67.01 620.3,67.52 621.11,68.01 621.92,68.49 622.74,68.94 623.55,69.38 624.36,69.79 625.17,70.19 625.99,70.57 626.8,70.93 627.61,71.27 628.42,71.6 629.24,71.91 630.05,72.2 630.86,72.48 631.67,72.75 632.49,73 633.3,73.23 634.11,73.45 634.92,73.66 635.74,73.86 636.55,74.04 637.36,74.21 638.17,74.38 638.99,74.53 639.8,74.67 640.61,74.8 641.42,74.93 642.24,75.04 643.05,75.15 643.86,75.25 644.67,75.34 645.49,75.43 646.3,75.51 647.11,75.59 647.92,75.66 648.74,75.72 649.55,75.78 650.36,75.83 651.17,75.88 651.99,75.93 652.8,75.97" fill="none" stroke="#2560a8" stroke-width="1.0" />
<line x1="490.3" y1="76.4" x2="652.8" y2="76.4" stroke="#555" stroke-width="0.7" />
<line x1="487.9" y1="12.6" x2="490.3" y2="12.6" stroke="#6a6a6a" stroke-width="0.7" />
<text x="485.6" y="15.5" font-size="8.3" text-anchor="end" fill="#231f20" font-weight="normal" >20</text>
<line x1="487.9" y1="44.5" x2="490.3" y2="44.5" stroke="#6a6a6a" stroke-width="0.7" />
<text x="485.6" y="47.4" font-size="8.3" text-anchor="end" fill="#231f20" font-weight="normal" >10</text>
<line x1="487.9" y1="76.4" x2="490.3" y2="76.4" stroke="#6a6a6a" stroke-width="0.7" />
<text x="485.6" y="79.3" font-size="8.3" text-anchor="end" fill="#231f20" font-weight="normal" >0</text>
<line x1="490.3" y1="76.4" x2="490.3" y2="78.6" stroke="#6a6a6a" stroke-width="0.7" />
<line x1="530.93" y1="76.4" x2="530.93" y2="78.6" stroke="#6a6a6a" stroke-width="0.7" />
<line x1="571.55" y1="76.4" x2="571.55" y2="78.6" stroke="#6a6a6a" stroke-width="0.7" />
<line x1="612.17" y1="76.4" x2="612.17" y2="78.6" stroke="#6a6a6a" stroke-width="0.7" />
<line x1="652.8" y1="76.4" x2="652.8" y2="78.6" stroke="#6a6a6a" stroke-width="0.7" />
<text x="497.6" y="22.2" font-size="7.7" text-anchor="start" fill="#231f20" font-weight="normal" >Normal state</text>
<rect x="490.3" y="94.5" width="162.5" height="67.2" fill="white" stroke="#8a8a8a" stroke-width="0.7" />
<rect x="520.77" y="157.23" width="10.16" height="4.47" fill="#e5928a" stroke="#555" stroke-width="0.45" />
<rect x="530.93" y="149.26" width="10.16" height="12.44" fill="#e5928a" stroke="#555" stroke-width="0.45" />
<rect x="541.08" y="124.38" width="10.16" height="37.32" fill="#e5928a" stroke="#555" stroke-width="0.45" />
<rect x="551.24" y="113.21" width="10.16" height="48.49" fill="#e5928a" stroke="#555" stroke-width="0.45" />
<rect x="561.39" y="112.25" width="10.16" height="49.44" fill="#e5928a" stroke="#555" stroke-width="0.45" />
<rect x="571.55" y="97.9" width="10.16" height="63.8" fill="#e5928a" stroke="#555" stroke-width="0.45" />
<rect x="581.71" y="111.94" width="10.16" height="49.76" fill="#e5928a" stroke="#555" stroke-width="0.45" />
<rect x="591.86" y="130.12" width="10.16" height="31.58" fill="#e5928a" stroke="#555" stroke-width="0.45" />
<rect x="602.02" y="147.03" width="10.16" height="14.67" fill="#e5928a" stroke="#555" stroke-width="0.45" />
<rect x="612.17" y="155" width="10.16" height="6.7" fill="#e5928a" stroke="#555" stroke-width="0.45" />
<polyline points="490.3,161.68 491.11,161.68 491.93,161.68 492.74,161.67 493.55,161.67 494.36,161.66 495.18,161.66 495.99,161.65 496.8,161.64 497.61,161.63 498.43,161.62 499.24,161.61 500.05,161.6 500.86,161.58 501.68,161.56 502.49,161.54 503.3,161.52 504.11,161.49 504.93,161.46 505.74,161.42 506.55,161.39 507.36,161.34 508.18,161.29 508.99,161.23 509.8,161.17 510.61,161.1 511.43,161.02 512.24,160.93 513.05,160.83 513.86,160.72 514.68,160.6 515.49,160.47 516.3,160.32 517.11,160.15 517.93,159.97 518.74,159.77 519.55,159.55 520.36,159.31 521.18,159.05 521.99,158.77 522.8,158.46 523.61,158.12 524.43,157.75 525.24,157.35 526.05,156.93 526.86,156.46 527.68,155.97 528.49,155.43 529.3,154.86 530.11,154.24 530.93,153.59 531.74,152.89 532.55,152.15 533.36,151.37 534.18,150.53 534.99,149.65 535.8,148.73 536.61,147.75 537.43,146.73 538.24,145.66 539.05,144.54 539.86,143.37 540.68,142.15 541.49,140.89 542.3,139.59 543.11,138.24 543.93,136.86 544.74,135.43 545.55,133.97 546.36,132.47 547.18,130.95 547.99,129.4 548.8,127.83 549.61,126.24 550.43,124.64 551.24,123.03 552.05,121.42 552.86,119.82 553.68,118.22 554.49,116.63 555.3,115.06 556.11,113.52 556.93,112.02 557.74,110.55 558.55,109.12 559.36,107.75 560.18,106.43 560.99,105.17 561.8,103.98 562.61,102.86 563.43,101.83 564.24,100.87 565.05,100 565.86,99.23 566.68,98.55 567.49,97.97 568.3,97.49 569.11,97.11 569.93,96.84 570.74,96.68 571.55,96.62 572.36,96.68 573.17,96.84 573.99,97.11 574.8,97.49 575.61,97.97 576.42,98.55 577.24,99.23 578.05,100 578.86,100.87 579.67,101.83 580.49,102.86 581.3,103.98 582.11,105.17 582.92,106.43 583.74,107.75 584.55,109.12 585.36,110.55 586.17,112.02 586.99,113.52 587.8,115.06 588.61,116.63 589.42,118.22 590.24,119.82 591.05,121.42 591.86,123.03 592.67,124.64 593.49,126.24 594.3,127.83 595.11,129.4 595.92,130.95 596.74,132.47 597.55,133.97 598.36,135.43 599.17,136.86 599.99,138.24 600.8,139.59 601.61,140.89 602.42,142.15 603.24,143.37 604.05,144.54 604.86,145.66 605.67,146.73 606.49,147.75 607.3,148.73 608.11,149.65 608.92,150.53 609.74,151.37 610.55,152.15 611.36,152.89 612.17,153.59 612.99,154.24 613.8,154.86 614.61,155.43 615.42,155.97 616.24,156.46 617.05,156.93 617.86,157.35 618.67,157.75 619.49,158.12 620.3,158.46 621.11,158.77 621.92,159.05 622.74,159.31 623.55,159.55 624.36,159.77 625.17,159.97 625.99,160.15 626.8,160.32 627.61,160.47 628.42,160.6 629.24,160.72 630.05,160.83 630.86,160.93 631.67,161.02 632.49,161.1 633.3,161.17 634.11,161.23 634.92,161.29 635.74,161.34 636.55,161.39 637.36,161.42 638.17,161.46 638.99,161.49 639.8,161.52 640.61,161.54 641.42,161.56 642.24,161.58 643.05,161.6 643.86,161.61 644.67,161.62 645.49,161.63 646.3,161.64 647.11,161.65 647.92,161.66 648.74,161.66 649.55,161.67 650.36,161.67 651.17,161.68 651.99,161.68 652.8,161.68" fill="none" stroke="#b02f33" stroke-width="1.0" />
<line x1="490.3" y1="161.7" x2="652.8" y2="161.7" stroke="#555" stroke-width="0.7" />
<line x1="487.9" y1="97.9" x2="490.3" y2="97.9" stroke="#6a6a6a" stroke-width="0.7" />
<text x="485.6" y="100.8" font-size="8.3" text-anchor="end" fill="#231f20" font-weight="normal" >20</text>
<line x1="487.9" y1="129.8" x2="490.3" y2="129.8" stroke="#6a6a6a" stroke-width="0.7" />
<text x="485.6" y="132.7" font-size="8.3" text-anchor="end" fill="#231f20" font-weight="normal" >10</text>
<line x1="487.9" y1="161.7" x2="490.3" y2="161.7" stroke="#6a6a6a" stroke-width="0.7" />
<text x="485.6" y="164.6" font-size="8.3" text-anchor="end" fill="#231f20" font-weight="normal" >0</text>
<line x1="490.3" y1="161.7" x2="490.3" y2="163.9" stroke="#6a6a6a" stroke-width="0.7" />
<line x1="530.93" y1="161.7" x2="530.93" y2="163.9" stroke="#6a6a6a" stroke-width="0.7" />
<line x1="571.55" y1="161.7" x2="571.55" y2="163.9" stroke="#6a6a6a" stroke-width="0.7" />
<line x1="612.17" y1="161.7" x2="612.17" y2="163.9" stroke="#6a6a6a" stroke-width="0.7" />
<line x1="652.8" y1="161.7" x2="652.8" y2="163.9" stroke="#6a6a6a" stroke-width="0.7" />
<text x="496.6" y="107.1" font-size="7.7" text-anchor="start" fill="#231f20" font-weight="normal" >Fatigue state</text>
<text x="490.3" y="175.6" font-size="8.2" text-anchor="middle" fill="#231f20" font-weight="normal" >−0.08</text>
<text x="530.93" y="175.6" font-size="8.2" text-anchor="middle" fill="#231f20" font-weight="normal" >−0.04</text>
<text x="571.55" y="175.6" font-size="8.2" text-anchor="middle" fill="#231f20" font-weight="normal" >0</text>
<text x="612.17" y="175.6" font-size="8.2" text-anchor="middle" fill="#231f20" font-weight="normal" >0.04</text>
<text x="652.8" y="175.6" font-size="8.2" text-anchor="middle" fill="#231f20" font-weight="normal" >0.08</text>
<text x="571.5" y="188.2" font-size="9.0" text-anchor="middle" fill="#231f20" font-weight="normal" ><tspan font-style="italic">R</tspan><tspan font-size="6.4" dy="2.0">i+1</tspan><tspan dy="-2.0">-</tspan><tspan font-style="italic">R</tspan><tspan font-size="6.4" dy="2.0">i</tspan><tspan dy="-2.0" font-style="normal"> (s)</tspan></text>
<text x="0" y="0" font-size="8.6" text-anchor="middle" fill="#231f20" font-weight="normal" transform="translate(468.3,85.6) rotate(-90)">Relative frequency (%)</text>
<text transform="translate(7.5,223) scale(1.13,1)" font-size="11.0" font-weight="bold" fill="#000">d</text>
<rect x="29.3" y="258.3" width="100.9" height="72.1" fill="#f2f2f2" stroke="none" stroke-width="0" />
<rect x="130.2" y="258.3" width="152.7" height="72.1" fill="#e9eef8" stroke="none" stroke-width="0" />
<rect x="282.9" y="258.3" width="150.7" height="72.1" fill="#fcf6f0" stroke="none" stroke-width="0" />
<text x="32" y="266.9" font-size="7.0" text-anchor="start" fill="#231f20" font-weight="normal" >Day 1</text>
<text x="132.9" y="266.9" font-size="7.0" text-anchor="start" fill="#231f20" font-weight="normal" >Day 2</text>
<text x="285.8" y="266.9" font-size="7.0" text-anchor="start" fill="#231f20" font-weight="normal" >Day 3</text>
<path d="M38.7 309.1V311.5M37.6 309.1h2.2M37.6 311.5h2.2M44.6 304.5V307.7M43.5 304.5h2.2M43.5 307.7h2.2M48.2 302.7V308.3M47.1 302.7h2.2M47.1 308.3h2.2M57.7 296.5V303.3M56.6 296.5h2.2M56.6 303.3h2.2M60.5 293.8V298.2M59.4 293.8h2.2M59.4 298.2h2.2M66.6 298.3V300.7M65.5 298.3h2.2M65.5 300.7h2.2M69.4 299V303.4M68.3 299h2.2M68.3 303.4h2.2M82 300.7V305.1M80.9 300.7h2.2M80.9 305.1h2.2M106.2 297.7V300.9M105.1 297.7h2.2M105.1 300.9h2.2M112.6 297.6V300.8M111.5 297.6h2.2M111.5 300.8h2.2M142.9 308.1V312.5M141.8 308.1h2.2M141.8 312.5h2.2M155.3 309.6V312.8M154.2 309.6h2.2M154.2 312.8h2.2M185.9 307.3V314.1M184.8 307.3h2.2M184.8 314.1h2.2M189.3 307.7V312.1M188.2 307.7h2.2M188.2 312.1h2.2M198.6 303.6V309.2M197.5 303.6h2.2M197.5 309.2h2.2M201.5 301.9V307.5M200.4 301.9h2.2M200.4 307.5h2.2M204.5 300.3V304.7M203.4 300.3h2.2M203.4 304.7h2.2M216.8 299.9V304.3M215.7 299.9h2.2M215.7 304.3h2.2M222.7 302.5V306.9M221.6 302.5h2.2M221.6 306.9h2.2M228.9 305.2V308.4M227.8 305.2h2.2M227.8 308.4h2.2M265.8 305.9V310.3M264.7 305.9h2.2M264.7 310.3h2.2M271.9 307.3V314.1M270.8 307.3h2.2M270.8 314.1h2.2M333.2 310V312.4M332.1 310h2.2M332.1 312.4h2.2M336.7 308.7V311.9M335.6 308.7h2.2M335.6 311.9h2.2M342.5 306.4V310.8M341.4 306.4h2.2M341.4 310.8h2.2M348.8 304.2V308.6M347.7 304.2h2.2M347.7 308.6h2.2M351.6 302.6V305M350.5 302.6h2.2M350.5 305h2.2M354.9 294.7V299.1M353.8 294.7h2.2M353.8 299.1h2.2M357.9 295.8V302.6M356.8 295.8h2.2M356.8 302.6h2.2M361 300.1V305.7M359.9 300.1h2.2M359.9 305.7h2.2M382.2 302.2V306.6M381.1 302.2h2.2M381.1 306.6h2.2M394.7 300.7V305.1M393.6 300.7h2.2M393.6 305.1h2.2M407.1 302.7V308.3M406 302.7h2.2M406 308.3h2.2" stroke="#6e6e6e" stroke-width="0.45" fill="none"/>
<path d="M37.2 310.3a1.5 1.5 0 1 0 3.0 0a1.5 1.5 0 1 0 -3.0 0M40.2 307a1.5 1.5 0 1 0 3.0 0a1.5 1.5 0 1 0 -3.0 0M43.1 306.1a1.5 1.5 0 1 0 3.0 0a1.5 1.5 0 1 0 -3.0 0M46.7 305.5a1.5 1.5 0 1 0 3.0 0a1.5 1.5 0 1 0 -3.0 0M49.9 302.9a1.5 1.5 0 1 0 3.0 0a1.5 1.5 0 1 0 -3.0 0M53.2 301.4a1.5 1.5 0 1 0 3.0 0a1.5 1.5 0 1 0 -3.0 0M56.2 299.9a1.5 1.5 0 1 0 3.0 0a1.5 1.5 0 1 0 -3.0 0M59 296a1.5 1.5 0 1 0 3.0 0a1.5 1.5 0 1 0 -3.0 0M62 297.9a1.5 1.5 0 1 0 3.0 0a1.5 1.5 0 1 0 -3.0 0M65.1 299.5a1.5 1.5 0 1 0 3.0 0a1.5 1.5 0 1 0 -3.0 0M67.9 301.2a1.5 1.5 0 1 0 3.0 0a1.5 1.5 0 1 0 -3.0 0M74.4 300.8a1.5 1.5 0 1 0 3.0 0a1.5 1.5 0 1 0 -3.0 0M80.5 302.9a1.5 1.5 0 1 0 3.0 0a1.5 1.5 0 1 0 -3.0 0M86.3 304.7a1.5 1.5 0 1 0 3.0 0a1.5 1.5 0 1 0 -3.0 0M92.6 301.6a1.5 1.5 0 1 0 3.0 0a1.5 1.5 0 1 0 -3.0 0M98.4 296.9a1.5 1.5 0 1 0 3.0 0a1.5 1.5 0 1 0 -3.0 0M104.7 299.3a1.5 1.5 0 1 0 3.0 0a1.5 1.5 0 1 0 -3.0 0M111.1 299.2a1.5 1.5 0 1 0 3.0 0a1.5 1.5 0 1 0 -3.0 0M117.4 301.2a1.5 1.5 0 1 0 3.0 0a1.5 1.5 0 1 0 -3.0 0M123.2 306a1.5 1.5 0 1 0 3.0 0a1.5 1.5 0 1 0 -3.0 0M129.5 307.3a1.5 1.5 0 1 0 3.0 0a1.5 1.5 0 1 0 -3.0 0M141.4 310.3a1.5 1.5 0 1 0 3.0 0a1.5 1.5 0 1 0 -3.0 0M153.8 311.2a1.5 1.5 0 1 0 3.0 0a1.5 1.5 0 1 0 -3.0 0M166.1 313.5a1.5 1.5 0 1 0 3.0 0a1.5 1.5 0 1 0 -3.0 0M184.4 310.7a1.5 1.5 0 1 0 3.0 0a1.5 1.5 0 1 0 -3.0 0M187.8 309.9a1.5 1.5 0 1 0 3.0 0a1.5 1.5 0 1 0 -3.0 0M190.9 309.9a1.5 1.5 0 1 0 3.0 0a1.5 1.5 0 1 0 -3.0 0M193.9 306.4a1.5 1.5 0 1 0 3.0 0a1.5 1.5 0 1 0 -3.0 0M197.1 306.4a1.5 1.5 0 1 0 3.0 0a1.5 1.5 0 1 0 -3.0 0M200 304.7a1.5 1.5 0 1 0 3.0 0a1.5 1.5 0 1 0 -3.0 0M203 302.5a1.5 1.5 0 1 0 3.0 0a1.5 1.5 0 1 0 -3.0 0M209.2 300.8a1.5 1.5 0 1 0 3.0 0a1.5 1.5 0 1 0 -3.0 0M215.3 302.1a1.5 1.5 0 1 0 3.0 0a1.5 1.5 0 1 0 -3.0 0M221.2 304.7a1.5 1.5 0 1 0 3.0 0a1.5 1.5 0 1 0 -3.0 0M227.4 306.8a1.5 1.5 0 1 0 3.0 0a1.5 1.5 0 1 0 -3.0 0M233.5 307.3a1.5 1.5 0 1 0 3.0 0a1.5 1.5 0 1 0 -3.0 0M239.8 306.4a1.5 1.5 0 1 0 3.0 0a1.5 1.5 0 1 0 -3.0 0M251.9 308.3a1.5 1.5 0 1 0 3.0 0a1.5 1.5 0 1 0 -3.0 0M264.3 308.1a1.5 1.5 0 1 0 3.0 0a1.5 1.5 0 1 0 -3.0 0M270.4 310.7a1.5 1.5 0 1 0 3.0 0a1.5 1.5 0 1 0 -3.0 0M276.5 312.9a1.5 1.5 0 1 0 3.0 0a1.5 1.5 0 1 0 -3.0 0M331.7 311.2a1.5 1.5 0 1 0 3.0 0a1.5 1.5 0 1 0 -3.0 0M335.2 310.3a1.5 1.5 0 1 0 3.0 0a1.5 1.5 0 1 0 -3.0 0M338.2 310.3a1.5 1.5 0 1 0 3.0 0a1.5 1.5 0 1 0 -3.0 0M341 308.6a1.5 1.5 0 1 0 3.0 0a1.5 1.5 0 1 0 -3.0 0M344.3 307.7a1.5 1.5 0 1 0 3.0 0a1.5 1.5 0 1 0 -3.0 0M347.3 306.4a1.5 1.5 0 1 0 3.0 0a1.5 1.5 0 1 0 -3.0 0M350.1 303.8a1.5 1.5 0 1 0 3.0 0a1.5 1.5 0 1 0 -3.0 0M353.4 296.9a1.5 1.5 0 1 0 3.0 0a1.5 1.5 0 1 0 -3.0 0M356.4 299.2a1.5 1.5 0 1 0 3.0 0a1.5 1.5 0 1 0 -3.0 0M359.5 302.9a1.5 1.5 0 1 0 3.0 0a1.5 1.5 0 1 0 -3.0 0M362.5 305.7a1.5 1.5 0 1 0 3.0 0a1.5 1.5 0 1 0 -3.0 0M368.6 307.7a1.5 1.5 0 1 0 3.0 0a1.5 1.5 0 1 0 -3.0 0M380.7 304.4a1.5 1.5 0 1 0 3.0 0a1.5 1.5 0 1 0 -3.0 0M393.2 302.9a1.5 1.5 0 1 0 3.0 0a1.5 1.5 0 1 0 -3.0 0M405.6 305.5a1.5 1.5 0 1 0 3.0 0a1.5 1.5 0 1 0 -3.0 0M423.8 311.6a1.5 1.5 0 1 0 3.0 0a1.5 1.5 0 1 0 -3.0 0" fill="#d2d2d2" stroke="#6e6e6e" stroke-width="0.55"/>
<path d="M38.7 314.9V317.3M37.6 314.9h2.2M37.6 317.3h2.2M44.9 312.9V317.3M43.8 312.9h2.2M43.8 317.3h2.2M48.2 313.1V318.7M47.1 313.1h2.2M47.1 318.7h2.2M54.7 312.4V316.8M53.6 312.4h2.2M53.6 316.8h2.2M60.5 306.5V310.9M59.4 306.5h2.2M59.4 310.9h2.2M66.6 314.3V317.5M65.5 314.3h2.2M65.5 317.5h2.2M69.6 315.3V320.9M68.5 315.3h2.2M68.5 320.9h2.2M75.9 313.7V318.1M74.8 313.7h2.2M74.8 318.1h2.2M82 318.2V321.4M80.9 318.2h2.2M80.9 321.4h2.2M87.8 314.7V321.5M86.7 314.7h2.2M86.7 321.5h2.2M94.1 316V318.4M93 316h2.2M93 318.4h2.2M99.9 307.1V310.3M98.8 307.1h2.2M98.8 310.3h2.2M106.2 313.9V318.3M105.1 313.9h2.2M105.1 318.3h2.2M112.6 315.2V318.4M111.5 315.2h2.2M111.5 318.4h2.2M118.9 317.1V319.5M117.8 317.1h2.2M117.8 319.5h2.2M124.7 316.2V318.6M123.6 316.2h2.2M123.6 318.6h2.2M143.2 321.5V328.3M142.1 321.5h2.2M142.1 328.3h2.2M167.6 321.8V327.4M166.5 321.8h2.2M166.5 327.4h2.2M185.9 314.3V321.1M184.8 314.3h2.2M184.8 321.1h2.2M195.4 315.9V320.3M194.3 315.9h2.2M194.3 320.3h2.2M198.4 316.2V318.6M197.3 316.2h2.2M197.3 318.6h2.2M201.5 313.3V317.7M200.4 313.3h2.2M200.4 317.7h2.2M204.5 310V313.2M203.4 310h2.2M203.4 313.2h2.2M210.7 309.1V311.5M209.6 309.1h2.2M209.6 311.5h2.2M216.8 311V316.6M215.7 311h2.2M215.7 316.6h2.2M222.7 312.6V315.8M221.6 312.6h2.2M221.6 315.8h2.2M228.9 318.6V321M227.8 318.6h2.2M227.8 321h2.2M235 314.6V319M233.9 314.6h2.2M233.9 319h2.2M265.8 313.7V318.1M264.7 313.7h2.2M264.7 318.1h2.2M271.9 319.1V322.3M270.8 319.1h2.2M270.8 322.3h2.2M333.2 315.3V322.1M332.1 315.3h2.2M332.1 322.1h2.2M336.7 317.5V319.9M335.6 317.5h2.2M335.6 319.9h2.2M342.5 319.1V322.3M341.4 319.1h2.2M341.4 322.3h2.2M345.5 320.4V323.6M344.4 320.4h2.2M344.4 323.6h2.2M351.6 314.4V320M350.5 314.4h2.2M350.5 320h2.2M357.9 304.9V311.7M356.8 304.9h2.2M356.8 311.7h2.2M361 306.4V310.8M359.9 306.4h2.2M359.9 310.8h2.2M364 311.1V315.5M362.9 311.1h2.2M362.9 315.5h2.2M370.1 313V319.8M369 313h2.2M369 319.8h2.2M382.2 311.4V318.2M381.1 311.4h2.2M381.1 318.2h2.2M394.7 316.9V319.3M393.6 316.9h2.2M393.6 319.3h2.2M407.1 319.5V321.9M406 319.5h2.2M406 321.9h2.2M425.3 316.6V322.2M424.2 316.6h2.2M424.2 322.2h2.2" stroke="#f39c4a" stroke-width="0.45" fill="none"/>
<path d="M37.2 316.1a1.5 1.5 0 1 0 3.0 0a1.5 1.5 0 1 0 -3.0 0M40.5 317.4a1.5 1.5 0 1 0 3.0 0a1.5 1.5 0 1 0 -3.0 0M43.4 315.1a1.5 1.5 0 1 0 3.0 0a1.5 1.5 0 1 0 -3.0 0M46.7 315.9a1.5 1.5 0 1 0 3.0 0a1.5 1.5 0 1 0 -3.0 0M49.9 313.5a1.5 1.5 0 1 0 3.0 0a1.5 1.5 0 1 0 -3.0 0M53.2 314.6a1.5 1.5 0 1 0 3.0 0a1.5 1.5 0 1 0 -3.0 0M56.2 317.2a1.5 1.5 0 1 0 3.0 0a1.5 1.5 0 1 0 -3.0 0M59 308.7a1.5 1.5 0 1 0 3.0 0a1.5 1.5 0 1 0 -3.0 0M61.9 314.2a1.5 1.5 0 1 0 3.0 0a1.5 1.5 0 1 0 -3.0 0M65.1 315.9a1.5 1.5 0 1 0 3.0 0a1.5 1.5 0 1 0 -3.0 0M68.1 318.1a1.5 1.5 0 1 0 3.0 0a1.5 1.5 0 1 0 -3.0 0M74.4 315.9a1.5 1.5 0 1 0 3.0 0a1.5 1.5 0 1 0 -3.0 0M80.5 319.8a1.5 1.5 0 1 0 3.0 0a1.5 1.5 0 1 0 -3.0 0M86.3 318.1a1.5 1.5 0 1 0 3.0 0a1.5 1.5 0 1 0 -3.0 0M92.6 317.2a1.5 1.5 0 1 0 3.0 0a1.5 1.5 0 1 0 -3.0 0M98.4 308.7a1.5 1.5 0 1 0 3.0 0a1.5 1.5 0 1 0 -3.0 0M104.7 316.1a1.5 1.5 0 1 0 3.0 0a1.5 1.5 0 1 0 -3.0 0M111.1 316.8a1.5 1.5 0 1 0 3.0 0a1.5 1.5 0 1 0 -3.0 0M117.4 318.3a1.5 1.5 0 1 0 3.0 0a1.5 1.5 0 1 0 -3.0 0M123.2 317.4a1.5 1.5 0 1 0 3.0 0a1.5 1.5 0 1 0 -3.0 0M129.5 320.3a1.5 1.5 0 1 0 3.0 0a1.5 1.5 0 1 0 -3.0 0M141.7 324.9a1.5 1.5 0 1 0 3.0 0a1.5 1.5 0 1 0 -3.0 0M153.8 323a1.5 1.5 0 1 0 3.0 0a1.5 1.5 0 1 0 -3.0 0M166.1 324.6a1.5 1.5 0 1 0 3.0 0a1.5 1.5 0 1 0 -3.0 0M184.4 317.7a1.5 1.5 0 1 0 3.0 0a1.5 1.5 0 1 0 -3.0 0M187.8 316.1a1.5 1.5 0 1 0 3.0 0a1.5 1.5 0 1 0 -3.0 0M190.9 318.7a1.5 1.5 0 1 0 3.0 0a1.5 1.5 0 1 0 -3.0 0M193.9 318.1a1.5 1.5 0 1 0 3.0 0a1.5 1.5 0 1 0 -3.0 0M196.9 317.4a1.5 1.5 0 1 0 3.0 0a1.5 1.5 0 1 0 -3.0 0M200 315.5a1.5 1.5 0 1 0 3.0 0a1.5 1.5 0 1 0 -3.0 0M203 311.6a1.5 1.5 0 1 0 3.0 0a1.5 1.5 0 1 0 -3.0 0M209.2 310.3a1.5 1.5 0 1 0 3.0 0a1.5 1.5 0 1 0 -3.0 0M215.3 313.8a1.5 1.5 0 1 0 3.0 0a1.5 1.5 0 1 0 -3.0 0M221.2 314.2a1.5 1.5 0 1 0 3.0 0a1.5 1.5 0 1 0 -3.0 0M227.4 319.8a1.5 1.5 0 1 0 3.0 0a1.5 1.5 0 1 0 -3.0 0M233.5 316.8a1.5 1.5 0 1 0 3.0 0a1.5 1.5 0 1 0 -3.0 0M239.8 314.2a1.5 1.5 0 1 0 3.0 0a1.5 1.5 0 1 0 -3.0 0M251.9 316.1a1.5 1.5 0 1 0 3.0 0a1.5 1.5 0 1 0 -3.0 0M264.3 315.9a1.5 1.5 0 1 0 3.0 0a1.5 1.5 0 1 0 -3.0 0M270.4 320.7a1.5 1.5 0 1 0 3.0 0a1.5 1.5 0 1 0 -3.0 0M276.5 322.9a1.5 1.5 0 1 0 3.0 0a1.5 1.5 0 1 0 -3.0 0M331.7 318.7a1.5 1.5 0 1 0 3.0 0a1.5 1.5 0 1 0 -3.0 0M335.2 318.7a1.5 1.5 0 1 0 3.0 0a1.5 1.5 0 1 0 -3.0 0M338.2 318.1a1.5 1.5 0 1 0 3.0 0a1.5 1.5 0 1 0 -3.0 0M341 320.7a1.5 1.5 0 1 0 3.0 0a1.5 1.5 0 1 0 -3.0 0M344 322a1.5 1.5 0 1 0 3.0 0a1.5 1.5 0 1 0 -3.0 0M347.3 315.9a1.5 1.5 0 1 0 3.0 0a1.5 1.5 0 1 0 -3.0 0M350.1 317.2a1.5 1.5 0 1 0 3.0 0a1.5 1.5 0 1 0 -3.0 0M353.4 306.4a1.5 1.5 0 1 0 3.0 0a1.5 1.5 0 1 0 -3.0 0M356.4 308.3a1.5 1.5 0 1 0 3.0 0a1.5 1.5 0 1 0 -3.0 0M359.5 308.6a1.5 1.5 0 1 0 3.0 0a1.5 1.5 0 1 0 -3.0 0M362.5 313.3a1.5 1.5 0 1 0 3.0 0a1.5 1.5 0 1 0 -3.0 0M368.6 316.4a1.5 1.5 0 1 0 3.0 0a1.5 1.5 0 1 0 -3.0 0M380.7 314.8a1.5 1.5 0 1 0 3.0 0a1.5 1.5 0 1 0 -3.0 0M393.2 318.1a1.5 1.5 0 1 0 3.0 0a1.5 1.5 0 1 0 -3.0 0M405.6 320.7a1.5 1.5 0 1 0 3.0 0a1.5 1.5 0 1 0 -3.0 0M423.8 319.4a1.5 1.5 0 1 0 3.0 0a1.5 1.5 0 1 0 -3.0 0" fill="#fdd6ab" stroke="#f39c4a" stroke-width="0.55"/>
<path d="M38.4 282.7V285.1M37.3 282.7h2.2M37.3 285.1h2.2M41 281.7V286.1M39.9 281.7h2.2M39.9 286.1h2.2M44.6 281V284.2M43.5 281h2.2M43.5 284.2h2.2M47.9 276V280.4M46.8 276h2.2M46.8 280.4h2.2M51.4 271.1V277.9M50.3 271.1h2.2M50.3 277.9h2.2M54 271V274.2M52.9 271h2.2M52.9 274.2h2.2M60.5 262V268.8M59.4 262h2.2M59.4 268.8h2.2M66.4 270.1V272.5M65.3 270.1h2.2M65.3 272.5h2.2M69.6 272.7V275.9M68.5 272.7h2.2M68.5 275.9h2.2M75.9 273V278.6M74.8 273h2.2M74.8 278.6h2.2M82 274.6V280.2M80.9 274.6h2.2M80.9 280.2h2.2M100.2 262.6V268.2M99.1 262.6h2.2M99.1 268.2h2.2M106.2 268.8V274.4M105.1 268.8h2.2M105.1 274.4h2.2M112.4 278.5V280.9M111.3 278.5h2.2M111.3 280.9h2.2M118.9 280.8V286.4M117.8 280.8h2.2M117.8 286.4h2.2M124.7 280.5V284.9M123.6 280.5h2.2M123.6 284.9h2.2M131 280.8V286.4M129.9 280.8h2.2M129.9 286.4h2.2M143.2 283.5V290.3M142.1 283.5h2.2M142.1 290.3h2.2M155.3 288.8V292M154.2 288.8h2.2M154.2 292h2.2M167.6 292.2V294.6M166.5 292.2h2.2M166.5 294.6h2.2M186.3 284.1V289.7M185.2 284.1h2.2M185.2 289.7h2.2M189.3 282.3V285.5M188.2 282.3h2.2M188.2 285.5h2.2M192.1 281.1V286.7M191 281.1h2.2M191 286.7h2.2M195.4 282.7V285.1M194.3 282.7h2.2M194.3 285.1h2.2M201.2 276.2V279.4M200.1 276.2h2.2M200.1 279.4h2.2M204.5 274.4V276.8M203.4 274.4h2.2M203.4 276.8h2.2M216.8 273V277.4M215.7 273h2.2M215.7 277.4h2.2M228.9 276.6V279.8M227.8 276.6h2.2M227.8 279.8h2.2M253.4 279.2V286M252.3 279.2h2.2M252.3 286h2.2M265.8 283.7V286.1M264.7 283.7h2.2M264.7 286.1h2.2M278 287.1V292.7M276.9 287.1h2.2M276.9 292.7h2.2M336.7 283.1V286.3M335.6 283.1h2.2M335.6 286.3h2.2M339.7 284.6V287.8M338.6 284.6h2.2M338.6 287.8h2.2M342.5 276.1V282.9M341.4 276.1h2.2M341.4 282.9h2.2M345.5 275.8V279M344.4 275.8h2.2M344.4 279h2.2M354.9 266.7V269.9M353.8 266.7h2.2M353.8 269.9h2.2M357.9 271V274.2M356.8 271h2.2M356.8 274.2h2.2M364 269.7V274.1M362.9 269.7h2.2M362.9 274.1h2.2M370.1 270.7V273.1M369 270.7h2.2M369 273.1h2.2M394.7 271.4V278.2M393.6 271.4h2.2M393.6 278.2h2.2M407.1 277.1V280.3M406 277.1h2.2M406 280.3h2.2M425.3 276.1V282.9M424.2 276.1h2.2M424.2 282.9h2.2" stroke="#b23a31" stroke-width="0.45" fill="none"/>
<path d="M36.9 283.9a1.5 1.5 0 1 0 3.0 0a1.5 1.5 0 1 0 -3.0 0M39.5 283.9a1.5 1.5 0 1 0 3.0 0a1.5 1.5 0 1 0 -3.0 0M43.1 282.6a1.5 1.5 0 1 0 3.0 0a1.5 1.5 0 1 0 -3.0 0M46.4 278.2a1.5 1.5 0 1 0 3.0 0a1.5 1.5 0 1 0 -3.0 0M49.9 274.5a1.5 1.5 0 1 0 3.0 0a1.5 1.5 0 1 0 -3.0 0M52.5 272.6a1.5 1.5 0 1 0 3.0 0a1.5 1.5 0 1 0 -3.0 0M55.8 271.9a1.5 1.5 0 1 0 3.0 0a1.5 1.5 0 1 0 -3.0 0M59 265.4a1.5 1.5 0 1 0 3.0 0a1.5 1.5 0 1 0 -3.0 0M61.9 268.7a1.5 1.5 0 1 0 3.0 0a1.5 1.5 0 1 0 -3.0 0M64.9 271.3a1.5 1.5 0 1 0 3.0 0a1.5 1.5 0 1 0 -3.0 0M68.1 274.3a1.5 1.5 0 1 0 3.0 0a1.5 1.5 0 1 0 -3.0 0M74.4 275.8a1.5 1.5 0 1 0 3.0 0a1.5 1.5 0 1 0 -3.0 0M80.5 277.4a1.5 1.5 0 1 0 3.0 0a1.5 1.5 0 1 0 -3.0 0M86.3 276.5a1.5 1.5 0 1 0 3.0 0a1.5 1.5 0 1 0 -3.0 0M92.2 275.6a1.5 1.5 0 1 0 3.0 0a1.5 1.5 0 1 0 -3.0 0M98.7 265.4a1.5 1.5 0 1 0 3.0 0a1.5 1.5 0 1 0 -3.0 0M104.7 271.6a1.5 1.5 0 1 0 3.0 0a1.5 1.5 0 1 0 -3.0 0M110.9 279.7a1.5 1.5 0 1 0 3.0 0a1.5 1.5 0 1 0 -3.0 0M117.4 283.6a1.5 1.5 0 1 0 3.0 0a1.5 1.5 0 1 0 -3.0 0M123.2 282.7a1.5 1.5 0 1 0 3.0 0a1.5 1.5 0 1 0 -3.0 0M129.5 283.6a1.5 1.5 0 1 0 3.0 0a1.5 1.5 0 1 0 -3.0 0M141.7 286.9a1.5 1.5 0 1 0 3.0 0a1.5 1.5 0 1 0 -3.0 0M153.8 290.4a1.5 1.5 0 1 0 3.0 0a1.5 1.5 0 1 0 -3.0 0M166.1 293.4a1.5 1.5 0 1 0 3.0 0a1.5 1.5 0 1 0 -3.0 0M184.8 286.9a1.5 1.5 0 1 0 3.0 0a1.5 1.5 0 1 0 -3.0 0M187.8 283.9a1.5 1.5 0 1 0 3.0 0a1.5 1.5 0 1 0 -3.0 0M190.6 283.9a1.5 1.5 0 1 0 3.0 0a1.5 1.5 0 1 0 -3.0 0M193.9 283.9a1.5 1.5 0 1 0 3.0 0a1.5 1.5 0 1 0 -3.0 0M196.9 281.7a1.5 1.5 0 1 0 3.0 0a1.5 1.5 0 1 0 -3.0 0M199.7 277.8a1.5 1.5 0 1 0 3.0 0a1.5 1.5 0 1 0 -3.0 0M203 275.6a1.5 1.5 0 1 0 3.0 0a1.5 1.5 0 1 0 -3.0 0M209.1 270a1.5 1.5 0 1 0 3.0 0a1.5 1.5 0 1 0 -3.0 0M215.3 275.2a1.5 1.5 0 1 0 3.0 0a1.5 1.5 0 1 0 -3.0 0M221.2 276.5a1.5 1.5 0 1 0 3.0 0a1.5 1.5 0 1 0 -3.0 0M227.4 278.2a1.5 1.5 0 1 0 3.0 0a1.5 1.5 0 1 0 -3.0 0M233.5 279.7a1.5 1.5 0 1 0 3.0 0a1.5 1.5 0 1 0 -3.0 0M239.8 281a1.5 1.5 0 1 0 3.0 0a1.5 1.5 0 1 0 -3.0 0M251.9 282.6a1.5 1.5 0 1 0 3.0 0a1.5 1.5 0 1 0 -3.0 0M264.3 284.9a1.5 1.5 0 1 0 3.0 0a1.5 1.5 0 1 0 -3.0 0M270.4 289.5a1.5 1.5 0 1 0 3.0 0a1.5 1.5 0 1 0 -3.0 0M276.5 289.9a1.5 1.5 0 1 0 3.0 0a1.5 1.5 0 1 0 -3.0 0M331.7 286.2a1.5 1.5 0 1 0 3.0 0a1.5 1.5 0 1 0 -3.0 0M335.2 284.7a1.5 1.5 0 1 0 3.0 0a1.5 1.5 0 1 0 -3.0 0M338.2 286.2a1.5 1.5 0 1 0 3.0 0a1.5 1.5 0 1 0 -3.0 0M341 279.5a1.5 1.5 0 1 0 3.0 0a1.5 1.5 0 1 0 -3.0 0M344 277.4a1.5 1.5 0 1 0 3.0 0a1.5 1.5 0 1 0 -3.0 0M347.3 276.2a1.5 1.5 0 1 0 3.0 0a1.5 1.5 0 1 0 -3.0 0M350.1 272.6a1.5 1.5 0 1 0 3.0 0a1.5 1.5 0 1 0 -3.0 0M353.4 268.3a1.5 1.5 0 1 0 3.0 0a1.5 1.5 0 1 0 -3.0 0M356.4 272.6a1.5 1.5 0 1 0 3.0 0a1.5 1.5 0 1 0 -3.0 0M362.5 271.9a1.5 1.5 0 1 0 3.0 0a1.5 1.5 0 1 0 -3.0 0M368.6 271.9a1.5 1.5 0 1 0 3.0 0a1.5 1.5 0 1 0 -3.0 0M380.7 266.4a1.5 1.5 0 1 0 3.0 0a1.5 1.5 0 1 0 -3.0 0M393.2 274.8a1.5 1.5 0 1 0 3.0 0a1.5 1.5 0 1 0 -3.0 0M405.6 278.7a1.5 1.5 0 1 0 3.0 0a1.5 1.5 0 1 0 -3.0 0M423.8 279.5a1.5 1.5 0 1 0 3.0 0a1.5 1.5 0 1 0 -3.0 0" fill="#e36e62" stroke="#b23a31" stroke-width="0.55"/>
<path d="M37.8 273.2V277.6M36.7 273.2h2.2M36.7 277.6h2.2M40.6 274.2V276.6M39.5 274.2h2.2M39.5 276.6h2.2M43.9 272.4V278M42.8 272.4h2.2M42.8 278h2.2M47.3 272.9V276.1M46.2 272.9h2.2M46.2 276.1h2.2M50.4 272.4V274.8M49.3 272.4h2.2M49.3 274.8h2.2M53.4 269.8V275.4M52.3 269.8h2.2M52.3 275.4h2.2M56.4 269V272.2M55.3 269h2.2M55.3 272.2h2.2M87.2 272.6V278.2M86.1 272.6h2.2M86.1 278.2h2.2M105 274.2V277.4M103.9 274.2h2.2M103.9 277.4h2.2M111.1 280.9V287.7M110 280.9h2.2M110 287.7h2.2M117.2 279.7V284.1M116.1 279.7h2.2M116.1 284.1h2.2M129.7 289.2V291.6M128.6 289.2h2.2M128.6 291.6h2.2M141.6 287.9V290.3M140.5 287.9h2.2M140.5 290.3h2.2M184 283.1V286.3M182.9 283.1h2.2M182.9 286.3h2.2M187.2 287.9V292.3M186.1 287.9h2.2M186.1 292.3h2.2M190.2 287.9V290.3M189.1 287.9h2.2M189.1 290.3h2.2M193.4 286.9V291.3M192.3 286.9h2.2M192.3 291.3h2.2M196.7 285.1V289.5M195.6 285.1h2.2M195.6 289.5h2.2M199.7 283.1V285.5M198.6 283.1h2.2M198.6 285.5h2.2M208.4 275.6V281.2M207.3 275.6h2.2M207.3 281.2h2.2M214.5 280V286.8M213.4 280h2.2M213.4 286.8h2.2M220.7 283.8V288.2M219.6 283.8h2.2M219.6 288.2h2.2M226.6 283V287.4M225.5 283h2.2M225.5 287.4h2.2M232.8 285.8V291.4M231.7 285.8h2.2M231.7 291.4h2.2M238.9 282.4V288M237.8 282.4h2.2M237.8 288h2.2M251.1 289.3V294.9M250 289.3h2.2M250 294.9h2.2M269.3 293.7V296.9M268.2 293.7h2.2M268.2 296.9h2.2M275.4 293.5V300.3M274.3 293.5h2.2M274.3 300.3h2.2M330.2 271.4V278.2M329.1 271.4h2.2M329.1 278.2h2.2M333.4 267.5V274.3M332.3 267.5h2.2M332.3 274.3h2.2M336.7 270.2V275.8M335.6 270.2h2.2M335.6 275.8h2.2M339.7 270.5V277.3M338.6 270.5h2.2M338.6 277.3h2.2M342.5 272.6V277M341.4 272.6h2.2M341.4 277h2.2M345.4 270.1V273.3M344.3 270.1h2.2M344.3 273.3h2.2M348.6 266.7V269.9M347.5 266.7h2.2M347.5 269.9h2.2M351.6 262.8V266M350.5 262.8h2.2M350.5 266h2.2M354.9 264.1V267.3M353.8 264.1h2.2M353.8 267.3h2.2M361 268.4V271.6M359.9 268.4h2.2M359.9 271.6h2.2M367 268.1V273.7M365.9 268.1h2.2M365.9 273.7h2.2M378.9 261.9V265.1M377.8 261.9h2.2M377.8 265.1h2.2" stroke="#2c5d9e" stroke-width="0.45" fill="none"/>
<path d="M36.3 275.4a1.5 1.5 0 1 0 3.0 0a1.5 1.5 0 1 0 -3.0 0M39.1 275.4a1.5 1.5 0 1 0 3.0 0a1.5 1.5 0 1 0 -3.0 0M42.4 275.2a1.5 1.5 0 1 0 3.0 0a1.5 1.5 0 1 0 -3.0 0M45.8 274.5a1.5 1.5 0 1 0 3.0 0a1.5 1.5 0 1 0 -3.0 0M48.9 273.6a1.5 1.5 0 1 0 3.0 0a1.5 1.5 0 1 0 -3.0 0M51.9 272.6a1.5 1.5 0 1 0 3.0 0a1.5 1.5 0 1 0 -3.0 0M54.9 270.6a1.5 1.5 0 1 0 3.0 0a1.5 1.5 0 1 0 -3.0 0M57.7 274.8a1.5 1.5 0 1 0 3.0 0a1.5 1.5 0 1 0 -3.0 0M61 271a1.5 1.5 0 1 0 3.0 0a1.5 1.5 0 1 0 -3.0 0M64.2 272.6a1.5 1.5 0 1 0 3.0 0a1.5 1.5 0 1 0 -3.0 0M67.2 271.3a1.5 1.5 0 1 0 3.0 0a1.5 1.5 0 1 0 -3.0 0M73.1 274.9a1.5 1.5 0 1 0 3.0 0a1.5 1.5 0 1 0 -3.0 0M79.2 274.5a1.5 1.5 0 1 0 3.0 0a1.5 1.5 0 1 0 -3.0 0M85.7 275.4a1.5 1.5 0 1 0 3.0 0a1.5 1.5 0 1 0 -3.0 0M91.5 274.9a1.5 1.5 0 1 0 3.0 0a1.5 1.5 0 1 0 -3.0 0M97.4 276.1a1.5 1.5 0 1 0 3.0 0a1.5 1.5 0 1 0 -3.0 0M103.5 275.8a1.5 1.5 0 1 0 3.0 0a1.5 1.5 0 1 0 -3.0 0M109.6 284.3a1.5 1.5 0 1 0 3.0 0a1.5 1.5 0 1 0 -3.0 0M115.7 281.9a1.5 1.5 0 1 0 3.0 0a1.5 1.5 0 1 0 -3.0 0M121.9 284.9a1.5 1.5 0 1 0 3.0 0a1.5 1.5 0 1 0 -3.0 0M128.2 290.4a1.5 1.5 0 1 0 3.0 0a1.5 1.5 0 1 0 -3.0 0M140.1 289.1a1.5 1.5 0 1 0 3.0 0a1.5 1.5 0 1 0 -3.0 0M152.1 297.3a1.5 1.5 0 1 0 3.0 0a1.5 1.5 0 1 0 -3.0 0M164.6 293a1.5 1.5 0 1 0 3.0 0a1.5 1.5 0 1 0 -3.0 0M182.5 284.7a1.5 1.5 0 1 0 3.0 0a1.5 1.5 0 1 0 -3.0 0M185.7 290.1a1.5 1.5 0 1 0 3.0 0a1.5 1.5 0 1 0 -3.0 0M188.7 289.1a1.5 1.5 0 1 0 3.0 0a1.5 1.5 0 1 0 -3.0 0M191.9 289.1a1.5 1.5 0 1 0 3.0 0a1.5 1.5 0 1 0 -3.0 0M195.2 287.3a1.5 1.5 0 1 0 3.0 0a1.5 1.5 0 1 0 -3.0 0M198.2 284.3a1.5 1.5 0 1 0 3.0 0a1.5 1.5 0 1 0 -3.0 0M201 288.2a1.5 1.5 0 1 0 3.0 0a1.5 1.5 0 1 0 -3.0 0M206.9 278.4a1.5 1.5 0 1 0 3.0 0a1.5 1.5 0 1 0 -3.0 0M213 283.4a1.5 1.5 0 1 0 3.0 0a1.5 1.5 0 1 0 -3.0 0M219.2 286a1.5 1.5 0 1 0 3.0 0a1.5 1.5 0 1 0 -3.0 0M225.1 285.2a1.5 1.5 0 1 0 3.0 0a1.5 1.5 0 1 0 -3.0 0M231.3 288.6a1.5 1.5 0 1 0 3.0 0a1.5 1.5 0 1 0 -3.0 0M237.4 285.2a1.5 1.5 0 1 0 3.0 0a1.5 1.5 0 1 0 -3.0 0M249.6 292.1a1.5 1.5 0 1 0 3.0 0a1.5 1.5 0 1 0 -3.0 0M261.7 292.7a1.5 1.5 0 1 0 3.0 0a1.5 1.5 0 1 0 -3.0 0M267.8 295.3a1.5 1.5 0 1 0 3.0 0a1.5 1.5 0 1 0 -3.0 0M273.9 296.9a1.5 1.5 0 1 0 3.0 0a1.5 1.5 0 1 0 -3.0 0M328.7 274.8a1.5 1.5 0 1 0 3.0 0a1.5 1.5 0 1 0 -3.0 0M331.9 270.9a1.5 1.5 0 1 0 3.0 0a1.5 1.5 0 1 0 -3.0 0M335.2 273a1.5 1.5 0 1 0 3.0 0a1.5 1.5 0 1 0 -3.0 0M338.2 273.9a1.5 1.5 0 1 0 3.0 0a1.5 1.5 0 1 0 -3.0 0M341 274.8a1.5 1.5 0 1 0 3.0 0a1.5 1.5 0 1 0 -3.0 0M343.9 271.7a1.5 1.5 0 1 0 3.0 0a1.5 1.5 0 1 0 -3.0 0M347.1 268.3a1.5 1.5 0 1 0 3.0 0a1.5 1.5 0 1 0 -3.0 0M350.1 264.4a1.5 1.5 0 1 0 3.0 0a1.5 1.5 0 1 0 -3.0 0M353.4 265.7a1.5 1.5 0 1 0 3.0 0a1.5 1.5 0 1 0 -3.0 0M356.4 267a1.5 1.5 0 1 0 3.0 0a1.5 1.5 0 1 0 -3.0 0M359.5 270a1.5 1.5 0 1 0 3.0 0a1.5 1.5 0 1 0 -3.0 0M365.5 270.9a1.5 1.5 0 1 0 3.0 0a1.5 1.5 0 1 0 -3.0 0M377.4 263.5a1.5 1.5 0 1 0 3.0 0a1.5 1.5 0 1 0 -3.0 0M389.6 272.2a1.5 1.5 0 1 0 3.0 0a1.5 1.5 0 1 0 -3.0 0M401.7 272.6a1.5 1.5 0 1 0 3.0 0a1.5 1.5 0 1 0 -3.0 0M419.9 278.2a1.5 1.5 0 1 0 3.0 0a1.5 1.5 0 1 0 -3.0 0" fill="#5b98d6" stroke="#2c5d9e" stroke-width="0.55"/>
<rect x="31.9" y="361.5" width="4.2" height="27" fill="#f9ae6b" stroke="#6b5a4a" stroke-width="0.3" />
<rect x="36.1" y="343.2" width="4.2" height="45.3" fill="#6eaae9" stroke="#4a5a6b" stroke-width="0.3" />
<rect x="40.3" y="342.2" width="4.2" height="46.3" fill="#e16c63" stroke="#6b4a4a" stroke-width="0.3" />
<rect x="50" y="364.1" width="4.2" height="24.4" fill="#f9ae6b" stroke="#6b5a4a" stroke-width="0.3" />
<rect x="54.2" y="339.7" width="4.2" height="48.8" fill="#6eaae9" stroke="#4a5a6b" stroke-width="0.3" />
<rect x="58.4" y="339.7" width="4.2" height="48.8" fill="#e16c63" stroke="#6b4a4a" stroke-width="0.3" />
<rect x="68.3" y="363.2" width="4.2" height="25.3" fill="#f9ae6b" stroke="#6b5a4a" stroke-width="0.3" />
<rect x="72.5" y="340.3" width="4.2" height="48.2" fill="#6eaae9" stroke="#4a5a6b" stroke-width="0.3" />
<rect x="76.7" y="342.8" width="4.2" height="45.7" fill="#e16c63" stroke="#6b4a4a" stroke-width="0.3" />
<rect x="104.8" y="359.3" width="4.2" height="29.2" fill="#f9ae6b" stroke="#6b5a4a" stroke-width="0.3" />
<rect x="109" y="344.3" width="4.2" height="44.2" fill="#6eaae9" stroke="#4a5a6b" stroke-width="0.3" />
<rect x="113.2" y="350.1" width="4.2" height="38.4" fill="#e16c63" stroke="#6b4a4a" stroke-width="0.3" />
<rect x="123" y="351.8" width="4.2" height="36.7" fill="#f9ae6b" stroke="#6b5a4a" stroke-width="0.3" />
<rect x="127.2" y="349.4" width="4.2" height="39.1" fill="#6eaae9" stroke="#4a5a6b" stroke-width="0.3" />
<rect x="131.4" y="363" width="4.2" height="25.5" fill="#e16c63" stroke="#6b4a4a" stroke-width="0.3" />
<rect x="159.4" y="348" width="4.2" height="40.5" fill="#f9ae6b" stroke="#6b5a4a" stroke-width="0.3" />
<rect x="163.6" y="362.3" width="4.2" height="26.2" fill="#6eaae9" stroke="#4a5a6b" stroke-width="0.3" />
<rect x="167.8" y="371.4" width="4.2" height="17.1" fill="#e16c63" stroke="#6b4a4a" stroke-width="0.3" />
<rect x="178.2" y="357.4" width="4.2" height="31.1" fill="#f9ae6b" stroke="#6b5a4a" stroke-width="0.3" />
<rect x="182.4" y="356.3" width="4.2" height="32.2" fill="#6eaae9" stroke="#4a5a6b" stroke-width="0.3" />
<rect x="186.6" y="366.8" width="4.2" height="21.7" fill="#e16c63" stroke="#6b4a4a" stroke-width="0.3" />
<rect x="196.4" y="352.8" width="4.2" height="35.7" fill="#f9ae6b" stroke="#6b5a4a" stroke-width="0.3" />
<rect x="200.6" y="359.8" width="4.2" height="28.7" fill="#6eaae9" stroke="#4a5a6b" stroke-width="0.3" />
<rect x="204.8" y="373.1" width="4.2" height="15.4" fill="#e16c63" stroke="#6b4a4a" stroke-width="0.3" />
<rect x="232.2" y="349" width="4.2" height="39.5" fill="#f9ae6b" stroke="#6b5a4a" stroke-width="0.3" />
<rect x="236.4" y="362" width="4.2" height="26.5" fill="#6eaae9" stroke="#4a5a6b" stroke-width="0.3" />
<rect x="240.6" y="374.2" width="4.2" height="14.3" fill="#e16c63" stroke="#6b4a4a" stroke-width="0.3" />
<rect x="269.4" y="339.2" width="4.2" height="49.3" fill="#f9ae6b" stroke="#6b5a4a" stroke-width="0.3" />
<rect x="273.6" y="364.4" width="4.2" height="24.1" fill="#6eaae9" stroke="#4a5a6b" stroke-width="0.3" />
<rect x="277.8" y="376.3" width="4.2" height="12.2" fill="#e16c63" stroke="#6b4a4a" stroke-width="0.3" />
<rect x="324" y="363" width="4.2" height="25.5" fill="#f9ae6b" stroke="#6b5a4a" stroke-width="0.3" />
<rect x="328.2" y="345.9" width="4.2" height="42.6" fill="#6eaae9" stroke="#4a5a6b" stroke-width="0.3" />
<rect x="332.4" y="345.2" width="4.2" height="43.3" fill="#e16c63" stroke="#6b4a4a" stroke-width="0.3" />
<rect x="342.3" y="365.1" width="4.2" height="23.4" fill="#f9ae6b" stroke="#6b5a4a" stroke-width="0.3" />
<rect x="346.5" y="343.4" width="4.2" height="45.1" fill="#6eaae9" stroke="#4a5a6b" stroke-width="0.3" />
<rect x="350.7" y="344.1" width="4.2" height="44.4" fill="#e16c63" stroke="#6b4a4a" stroke-width="0.3" />
<rect x="360.5" y="359.2" width="4.2" height="29.3" fill="#f9ae6b" stroke="#6b5a4a" stroke-width="0.3" />
<rect x="364.7" y="350.4" width="4.2" height="38.1" fill="#6eaae9" stroke="#4a5a6b" stroke-width="0.3" />
<rect x="368.9" y="353.2" width="4.2" height="35.3" fill="#e16c63" stroke="#6b4a4a" stroke-width="0.3" />
<rect x="415.1" y="357.4" width="4.2" height="31.1" fill="#f9ae6b" stroke="#6b5a4a" stroke-width="0.3" />
<rect x="419.3" y="352.9" width="4.2" height="35.6" fill="#6eaae9" stroke="#4a5a6b" stroke-width="0.3" />
<rect x="423.5" y="363.4" width="4.2" height="25.1" fill="#e16c63" stroke="#6b4a4a" stroke-width="0.3" />
<rect x="29.3" y="258.3" width="404.3" height="130.2" fill="none" stroke="#777" stroke-width="0.8" />
<line x1="29.3" y1="330.4" x2="433.6" y2="330.4" stroke="#777" stroke-width="0.8" />
<line x1="38.3" y1="388.5" x2="38.3" y2="390.7" stroke="#777" stroke-width="0.7" />
<text x="38.3" y="401.2" font-size="7.7" text-anchor="middle" fill="#231f20" font-weight="normal" >0</text>
<line x1="99" y1="388.5" x2="99" y2="390.7" stroke="#777" stroke-width="0.7" />
<text x="99" y="401.2" font-size="7.7" text-anchor="middle" fill="#231f20" font-weight="normal" >10</text>
<line x1="159.7" y1="388.5" x2="159.7" y2="390.7" stroke="#777" stroke-width="0.7" />
<text x="159.7" y="401.2" font-size="7.7" text-anchor="middle" fill="#231f20" font-weight="normal" >20</text>
<line x1="220.4" y1="388.5" x2="220.4" y2="390.7" stroke="#777" stroke-width="0.7" />
<text x="220.4" y="401.2" font-size="7.7" text-anchor="middle" fill="#231f20" font-weight="normal" >30</text>
<line x1="281.1" y1="388.5" x2="281.1" y2="390.7" stroke="#777" stroke-width="0.7" />
<text x="281.1" y="401.2" font-size="7.7" text-anchor="middle" fill="#231f20" font-weight="normal" >40</text>
<line x1="341.8" y1="388.5" x2="341.8" y2="390.7" stroke="#777" stroke-width="0.7" />
<text x="341.8" y="401.2" font-size="7.7" text-anchor="middle" fill="#231f20" font-weight="normal" >50</text>
<line x1="402.5" y1="388.5" x2="402.5" y2="390.7" stroke="#777" stroke-width="0.7" />
<text x="402.5" y="401.2" font-size="7.7" text-anchor="middle" fill="#231f20" font-weight="normal" >60</text>
<text x="231.4" y="413" font-size="9.0" text-anchor="middle" fill="#231f20" font-weight="normal" >Test time (h)</text>
<text x="0" y="0" font-size="9.2" text-anchor="middle" fill="#231f20" font-weight="normal" transform="translate(10.9,295.3) rotate(-90)">Intensity of</text>
<text x="0" y="0" font-size="9.0" text-anchor="middle" fill="#231f20" font-weight="normal" transform="translate(20.8,295.4) rotate(-90)">signals (a.u.)</text>
<text x="0" y="0" font-size="9.2" text-anchor="middle" fill="#231f20" font-weight="normal" transform="translate(10.9,358.5) rotate(-90)">Intensity of</text>
<text x="0" y="0" font-size="9.0" text-anchor="middle" fill="#231f20" font-weight="normal" transform="translate(20.8,359.5) rotate(-90)">features (a.u.)</text>
<circle cx="39.8" cy="224.7" r="1.8" fill="#5b98d6" stroke="#2c5d9e" stroke-width="0.5" />
<text x="45.4" y="227.3" font-size="7.0" text-anchor="start" fill="#231f20" font-weight="normal" >HR</text>
<circle cx="72" cy="224.7" r="1.8" fill="#d2d2d2" stroke="#8a8a8a" stroke-width="0.5" />
<text x="77.6" y="227.3" font-size="7.0" text-anchor="start" fill="#231f20" font-weight="normal" >ECG<tspan font-size="5.2" dy="2.0">Amp</tspan></text>
<circle cx="119.3" cy="224.7" r="1.8" fill="#e36e62" stroke="#b23a31" stroke-width="0.5" />
<text x="124.9" y="227.3" font-size="7.0" text-anchor="start" fill="#231f20" font-weight="normal" >SBP</text>
<circle cx="155" cy="224.7" r="1.8" fill="#fdd6ab" stroke="#f39c4a" stroke-width="0.5" />
<text x="160.6" y="227.3" font-size="7.0" text-anchor="start" fill="#231f20" font-weight="normal" >DBP</text>
<rect x="204.4" y="221" width="10.2" height="7" fill="#f9ae6b" stroke="#555" stroke-width="0.4" />
<text x="218.2" y="227.3" font-size="7.0" text-anchor="start" fill="#231f20" font-weight="normal" >SDNN</text>
<rect x="252.6" y="221" width="10.2" height="7" fill="#6eaae9" stroke="#555" stroke-width="0.4" />
<text x="266.4" y="227.3" font-size="7.0" text-anchor="start" fill="#231f20" font-weight="normal" >SE</text>
<rect x="295.3" y="221" width="10.2" height="7" fill="#e16c63" stroke="#555" stroke-width="0.4" />
<text x="309.1" y="227.3" font-size="7.0" text-anchor="start" fill="#231f20" font-weight="normal" >LF/HF</text>
<g transform="translate(40.2,233.9)" fill="#9c9c9c" stroke="none"><circle cx="6.8" cy="2.2" r="2.05"/><path d="M3.7,4.9 L6.3,4.6 L7.0,6.2 L7.9,11.4 L3.1,11.6 L2.8,7.5 Z"/><path d="M5.8,5.6 L8.4,8.3 L11.4,6.3" fill="none" stroke="#9c9c9c" stroke-width="1.7" stroke-linejoin="round" stroke-linecap="round"/><path d="M3.1,10.6 L10.3,10.8 L11.0,12.4 L3.1,13.0 Z"/><path d="M10.3,12.0 L12.4,17.4" stroke="#9c9c9c" stroke-width="2.0" stroke-linecap="round"/><rect x="0.2" y="4.4" width="1.4" height="8.6" rx="0.6"/><rect x="0.6" y="12.3" width="8.2" height="1.4" rx="0.6"/><rect x="4.6" y="13.6" width="2.0" height="4.6"/><rect x="2.0" y="18.2" width="6.5" height="0.9"/><rect x="10.5" y="8.4" width="12.7" height="0.9" fill="#c6c6c6"/><rect x="15.8" y="9.2" width="1.1" height="9.1"/><rect x="14.9" y="18.2" width="2.8" height="0.9"/><rect x="12.9" y="7.1" width="3.3" height="1.1"/></g>
<g transform="translate(100.2,234)" fill="#9c9c9c" stroke="none"><circle cx="6.0" cy="2.3" r="2.0"/><path d="M3.1,5.7 L5.6,4.5 L6.9,7.0 L6.7,12.1 L3.1,12.1 Z"/><path d="M6.0,6.0 L10.4,8.6" stroke="#9c9c9c" stroke-width="1.6" stroke-linecap="round"/><rect x="3.1" y="11.2" width="7.0" height="1.7"/><rect x="9.2" y="12.5" width="1.8" height="5.9"/><rect x="0.3" y="8.3" width="1.5" height="10.5"/><rect x="1.6" y="12.9" width="5.9" height="1.3"/><rect x="5.8" y="13.7" width="1.5" height="4.9"/><path d="M16.4,1.5 L13.9,6.6" stroke="#9c9c9c" stroke-width="1.0"/><rect x="15.2" y="5.4" width="0.8" height="3.5"/><rect x="10.5" y="8.9" width="8.2" height="1.5"/><rect x="14.1" y="10.4" width="1.7" height="7.6"/><rect x="11.8" y="17.8" width="5.9" height="1.0"/></g>
<g transform="translate(151,237.5)" fill="#b9b9b9" stroke="none"><rect x="0" y="2.6" width="1.3" height="12.9"/><rect x="1.8" y="4.2" width="1.1" height="11.3" fill="#a4a4a4"/><rect x="19.3" y="6.4" width="2.5" height="8.9"/><rect x="1.3" y="10.5" width="20.5" height="1.4"/><path d="M2.4,4.2 L6.1,7.8 L11.6,7.8 L12,6.4 L19.3,6.4 L19.3,9.6 L2.4,9.6 Z" fill="#9a9a9a"/><circle cx="3.1" cy="1.4" r="1.55" fill="#9a9a9a"/><path d="M2.6,3.4 L4.4,2.9 L10.6,6.6 L10.6,7.3 L6.5,7.3 Z" fill="#a8a8a8"/><rect x="18.8" y="11.9" width="1.0" height="3.4" fill="#a4a4a4"/></g>
<text x="161.8" y="239.8" font-size="7.8" text-anchor="start" fill="#231f20" font-weight="normal" >3 h</text>
<g transform="translate(191.5,233.9)" fill="#9c9c9c" stroke="none"><circle cx="6.8" cy="2.2" r="2.05"/><path d="M3.7,4.9 L6.3,4.6 L7.0,6.2 L7.9,11.4 L3.1,11.6 L2.8,7.5 Z"/><path d="M5.8,5.6 L8.4,8.3 L11.4,6.3" fill="none" stroke="#9c9c9c" stroke-width="1.7" stroke-linejoin="round" stroke-linecap="round"/><path d="M3.1,10.6 L10.3,10.8 L11.0,12.4 L3.1,13.0 Z"/><path d="M10.3,12.0 L12.4,17.4" stroke="#9c9c9c" stroke-width="2.0" stroke-linecap="round"/><rect x="0.2" y="4.4" width="1.4" height="8.6" rx="0.6"/><rect x="0.6" y="12.3" width="8.2" height="1.4" rx="0.6"/><rect x="4.6" y="13.6" width="2.0" height="4.6"/><rect x="2.0" y="18.2" width="6.5" height="0.9"/><rect x="10.5" y="8.4" width="12.7" height="0.9" fill="#c6c6c6"/><rect x="15.8" y="9.2" width="1.1" height="9.1"/><rect x="14.9" y="18.2" width="2.8" height="0.9"/><rect x="12.9" y="7.1" width="3.3" height="1.1"/></g>
<g transform="translate(243.4,234)" fill="#9c9c9c" stroke="none"><circle cx="6.0" cy="2.3" r="2.0"/><path d="M3.1,5.7 L5.6,4.5 L6.9,7.0 L6.7,12.1 L3.1,12.1 Z"/><path d="M6.0,6.0 L10.4,8.6" stroke="#9c9c9c" stroke-width="1.6" stroke-linecap="round"/><rect x="3.1" y="11.2" width="7.0" height="1.7"/><rect x="9.2" y="12.5" width="1.8" height="5.9"/><rect x="0.3" y="8.3" width="1.5" height="10.5"/><rect x="1.6" y="12.9" width="5.9" height="1.3"/><rect x="5.8" y="13.7" width="1.5" height="4.9"/><path d="M16.4,1.5 L13.9,6.6" stroke="#9c9c9c" stroke-width="1.0"/><rect x="15.2" y="5.4" width="0.8" height="3.5"/><rect x="10.5" y="8.9" width="8.2" height="1.5"/><rect x="14.1" y="10.4" width="1.7" height="7.6"/><rect x="11.8" y="17.8" width="5.9" height="1.0"/></g>
<g transform="translate(284.6,237.5)" fill="#b9b9b9" stroke="none"><rect x="0" y="2.6" width="1.3" height="12.9"/><rect x="1.8" y="4.2" width="1.1" height="11.3" fill="#a4a4a4"/><rect x="19.3" y="6.4" width="2.5" height="8.9"/><rect x="1.3" y="10.5" width="20.5" height="1.4"/><path d="M2.4,4.2 L6.1,7.8 L11.6,7.8 L12,6.4 L19.3,6.4 L19.3,9.6 L2.4,9.6 Z" fill="#9a9a9a"/><circle cx="3.1" cy="1.4" r="1.55" fill="#9a9a9a"/><path d="M2.6,3.4 L4.4,2.9 L10.6,6.6 L10.6,7.3 L6.5,7.3 Z" fill="#a8a8a8"/><rect x="18.8" y="11.9" width="1.0" height="3.4" fill="#a4a4a4"/></g>
<text x="295.5" y="239.8" font-size="7.8" text-anchor="start" fill="#231f20" font-weight="normal" >9 h</text>
<g transform="translate(334.6,233.9)" fill="#9c9c9c" stroke="none"><circle cx="6.8" cy="2.2" r="2.05"/><path d="M3.7,4.9 L6.3,4.6 L7.0,6.2 L7.9,11.4 L3.1,11.6 L2.8,7.5 Z"/><path d="M5.8,5.6 L8.4,8.3 L11.4,6.3" fill="none" stroke="#9c9c9c" stroke-width="1.7" stroke-linejoin="round" stroke-linecap="round"/><path d="M3.1,10.6 L10.3,10.8 L11.0,12.4 L3.1,13.0 Z"/><path d="M10.3,12.0 L12.4,17.4" stroke="#9c9c9c" stroke-width="2.0" stroke-linecap="round"/><rect x="0.2" y="4.4" width="1.4" height="8.6" rx="0.6"/><rect x="0.6" y="12.3" width="8.2" height="1.4" rx="0.6"/><rect x="4.6" y="13.6" width="2.0" height="4.6"/><rect x="2.0" y="18.2" width="6.5" height="0.9"/><rect x="10.5" y="8.4" width="12.7" height="0.9" fill="#c6c6c6"/><rect x="15.8" y="9.2" width="1.1" height="9.1"/><rect x="14.9" y="18.2" width="2.8" height="0.9"/><rect x="12.9" y="7.1" width="3.3" height="1.1"/></g>
<g transform="translate(381,234)" fill="#9c9c9c" stroke="none"><circle cx="6.0" cy="2.3" r="2.0"/><path d="M3.1,5.7 L5.6,4.5 L6.9,7.0 L6.7,12.1 L3.1,12.1 Z"/><path d="M6.0,6.0 L10.4,8.6" stroke="#9c9c9c" stroke-width="1.6" stroke-linecap="round"/><rect x="3.1" y="11.2" width="7.0" height="1.7"/><rect x="9.2" y="12.5" width="1.8" height="5.9"/><rect x="0.3" y="8.3" width="1.5" height="10.5"/><rect x="1.6" y="12.9" width="5.9" height="1.3"/><rect x="5.8" y="13.7" width="1.5" height="4.9"/><path d="M16.4,1.5 L13.9,6.6" stroke="#9c9c9c" stroke-width="1.0"/><rect x="15.2" y="5.4" width="0.8" height="3.5"/><rect x="10.5" y="8.9" width="8.2" height="1.5"/><rect x="14.1" y="10.4" width="1.7" height="7.6"/><rect x="11.8" y="17.8" width="5.9" height="1.0"/></g>
<text transform="translate(446.3,223.3) scale(1.13,1)" font-size="12.2" font-weight="bold" fill="#000">e</text>
<line x1="476.5" y1="231.1" x2="647" y2="231.1" stroke="#c8c8c8" stroke-width="0.5" stroke-dasharray="0.5 1.1"/>
<text x="470.4" y="234.2" font-size="8.6" text-anchor="end" fill="#231f20" font-weight="normal" >LF/HF</text>
<line x1="476.5" y1="244.27" x2="647" y2="244.27" stroke="#c8c8c8" stroke-width="0.5" stroke-dasharray="0.5 1.1"/>
<text x="470.4" y="247.37" font-size="8.6" text-anchor="end" fill="#231f20" font-weight="normal" >ST<tspan font-size="6.2" dy="2.5">Int</tspan></text>
<line x1="476.5" y1="257.44" x2="647" y2="257.44" stroke="#c8c8c8" stroke-width="0.5" stroke-dasharray="0.5 1.1"/>
<text x="470.4" y="260.54" font-size="8.6" text-anchor="end" fill="#231f20" font-weight="normal" >SE</text>
<line x1="476.5" y1="270.61" x2="647" y2="270.61" stroke="#c8c8c8" stroke-width="0.5" stroke-dasharray="0.5 1.1"/>
<text x="470.4" y="273.71" font-size="8.6" text-anchor="end" fill="#231f20" font-weight="normal" >QT<tspan font-size="6.2" dy="2.5">Int</tspan></text>
<line x1="476.5" y1="283.78" x2="647" y2="283.78" stroke="#c8c8c8" stroke-width="0.5" stroke-dasharray="0.5 1.1"/>
<text x="470.4" y="286.88" font-size="8.6" text-anchor="end" fill="#231f20" font-weight="normal" >SDNN</text>
<line x1="476.5" y1="296.95" x2="647" y2="296.95" stroke="#c8c8c8" stroke-width="0.5" stroke-dasharray="0.5 1.1"/>
<text x="470.4" y="300.05" font-size="8.6" text-anchor="end" fill="#231f20" font-weight="normal" ><tspan font-style="italic">R</tspan><tspan font-size="6.2" dy="2.5">Amp</tspan></text>
<line x1="476.5" y1="310.12" x2="647" y2="310.12" stroke="#c8c8c8" stroke-width="0.5" stroke-dasharray="0.5 1.1"/>
<text x="470.4" y="313.22" font-size="8.6" text-anchor="end" fill="#231f20" font-weight="normal" >TT<tspan font-size="6.2" dy="2.5">Int</tspan></text>
<line x1="476.5" y1="323.29" x2="647" y2="323.29" stroke="#c8c8c8" stroke-width="0.5" stroke-dasharray="0.5 1.1"/>
<text x="470.4" y="326.39" font-size="8.6" text-anchor="end" fill="#231f20" font-weight="normal" >RR<tspan font-size="6.2" dy="2.5">Int</tspan></text>
<line x1="476.5" y1="336.46" x2="647" y2="336.46" stroke="#c8c8c8" stroke-width="0.5" stroke-dasharray="0.5 1.1"/>
<text x="470.4" y="339.56" font-size="8.6" text-anchor="end" fill="#231f20" font-weight="normal" ><tspan font-style="italic">S</tspan><tspan font-size="6.2" dy="2.5">Amp</tspan></text>
<line x1="476.5" y1="349.63" x2="647" y2="349.63" stroke="#c8c8c8" stroke-width="0.5" stroke-dasharray="0.5 1.1"/>
<text x="470.4" y="352.73" font-size="8.6" text-anchor="end" fill="#231f20" font-weight="normal" ><tspan font-style="italic">Q</tspan><tspan font-size="6.2" dy="2.5">Amp</tspan></text>
<line x1="476.5" y1="362.8" x2="647" y2="362.8" stroke="#c8c8c8" stroke-width="0.5" stroke-dasharray="0.5 1.1"/>
<text x="470.4" y="365.9" font-size="8.6" text-anchor="end" fill="#231f20" font-weight="normal" ><tspan font-style="italic">T</tspan><tspan font-size="6.2" dy="2.5">Amp</tspan></text>
<line x1="476.5" y1="375.97" x2="647" y2="375.97" stroke="#c8c8c8" stroke-width="0.5" stroke-dasharray="0.5 1.1"/>
<text x="470.4" y="379.07" font-size="8.6" text-anchor="end" fill="#231f20" font-weight="normal" >QRS<tspan font-size="6.2" dy="2.5">Int</tspan></text>
<line x1="514.4" y1="226" x2="514.4" y2="389.9" stroke="#9a9a9a" stroke-width="0.9" />
<path d="M589.8 231h0M597.4 230.4h0M533.4 231.2h0M524.9 230.9h0M609.5 231h0M627.5 231.8h0M622.5 231.8h0M532.2 230.2h0M577.4 231.6h0M512.3 226h0M520.9 230.7h0M515.5 232h0M611.3 230.5h0M612.8 231.8h0M635.3 231.2h0M524 230.8h0M623.7 230.5h0M519.6 231.6h0M627.6 230.8h0M614.2 230.2h0" stroke="#008afa" stroke-width="1.7" stroke-linecap="round" fill="none" />
<path d="M518.3 231.8h0M521.1 231.8h0M514.3 235h0M512.9 229.6h0M513.7 228.6h0M522.3 231.2h0" stroke="#177df5" stroke-width="1.7" stroke-linecap="round" fill="none" />
<path d="M498.9 231.4h0M513.8 234h0M513.8 232.3h0" stroke="#2f71f0" stroke-width="1.7" stroke-linecap="round" fill="none" />
<path d="M508.8 230.2h0" stroke="#4664ec" stroke-width="1.7" stroke-linecap="round" fill="none" />
<path d="M510.3 230.4h0M511.7 235.3h0M509.8 229.4h0" stroke="#764ce3" stroke-width="1.7" stroke-linecap="round" fill="none" />
<path d="M499.2 230.4h0M509.1 230.5h0" stroke="#8d3fd5" stroke-width="1.7" stroke-linecap="round" fill="none" />
<path d="M513 232.9h0" stroke="#ba26a8" stroke-width="1.7" stroke-linecap="round" fill="none" />
<path d="M510.3 231.9h0M514.4 231.1h0M513.2 232.3h0M512 230.8h0M515.4 230.3h0M513.9 231.3h0M514.2 232h0M511 231.8h0M512.6 231.2h0" stroke="#ff0064" stroke-width="1.7" stroke-linecap="round" fill="none" />
<path d="M516.5 230.1h0M526.6 231.6h0M577.3 231.5h0M604.7 231.6h0M600 231.3h0M630.3 231.7h0M514.3 230.6h0M588.9 230.7h0M641.5 231.8h0M529.4 231.2h0M598 231.3h0M511 230.2h0M620.7 231.7h0M614.4 231.7h0M604.2 231.1h0M597.7 231.1h0M619.4 230.3h0M552.2 230.9h0M610.3 232.1h0M608.2 231.9h0M524.8 231.5h0M542.3 230.5h0M594.7 231.5h0M513.7 231.2h0M516.2 231.2h0M584.9 230.4h0" stroke="#008afa" stroke-width="1.7" stroke-linecap="round" fill="none" />
<path d="M519.7 231.3h0M521.6 230.9h0M516.5 230.4h0M516 231.7h0M517.8 230.6h0M518.7 230.6h0M516.6 231.6h0M523.6 231.5h0" stroke="#177df5" stroke-width="1.7" stroke-linecap="round" fill="none" />
<path d="M512.9 233.3h0M515.3 233h0M511.9 234.8h0" stroke="#8d3fd5" stroke-width="1.7" stroke-linecap="round" fill="none" />
<path d="M514.9 230.7h0" stroke="#ba26a8" stroke-width="1.7" stroke-linecap="round" fill="none" />
<path d="M509.1 232.5h0M511.4 231.5h0M511.6 226.2h0M510.1 233.4h0M511.4 227.4h0M512.8 232.1h0M510.6 230.7h0" stroke="#ff0064" stroke-width="1.7" stroke-linecap="round" fill="none" />
<path d="M512.9 227.8h0M584.5 231.7h0M546.1 230.9h0M587.3 231h0M523 231h0M593.1 230.6h0M527.9 231.8h0M639.9 230.1h0M581 230.8h0M526.5 231.9h0M635.5 231.3h0M530.1 230.6h0M640.7 231h0M605.7 230.9h0M635.3 230.2h0" stroke="#008afa" stroke-width="1.7" stroke-linecap="round" fill="none" />
<path d="M519.6 232.1h0M521.5 230.4h0M523.5 231.4h0M520.6 232.2h0M515.4 230.4h0M513.4 228.8h0M522 230.1h0" stroke="#177df5" stroke-width="1.7" stroke-linecap="round" fill="none" />
<path d="M512.4 230.2h0M515.4 229.6h0M511.9 230.6h0M512.9 230.8h0" stroke="#2f71f0" stroke-width="1.7" stroke-linecap="round" fill="none" />
<path d="M511.7 227.2h0M506.4 231h0M513.2 231.2h0" stroke="#764ce3" stroke-width="1.7" stroke-linecap="round" fill="none" />
<path d="M500.3 231h0M511.4 228.1h0" stroke="#8d3fd5" stroke-width="1.7" stroke-linecap="round" fill="none" />
<path d="M510 229.3h0" stroke="#ba26a8" stroke-width="1.7" stroke-linecap="round" fill="none" />
<path d="M511.6 226.9h0M514.1 230.9h0M510.6 230.6h0M511.1 234.1h0M513.9 233.1h0M512.4 236.1h0M512.7 226.1h0M514 228.9h0M512.9 232.5h0M512.3 236.5h0M512.5 226.2h0M511.7 228.8h0M511.5 232.9h0" stroke="#ff0064" stroke-width="1.7" stroke-linecap="round" fill="none" />
<path d="M528.7 231h0M523.8 232.1h0M529.3 230.3h0M605.3 230.3h0M575.8 232h0M592.6 231.4h0M530.3 232.2h0M598.4 230.6h0M598.3 230.3h0M532.2 231.9h0M516.9 232h0M640.6 231.3h0M627.7 230.5h0M579.4 230.5h0M637 231.1h0M517.9 231.8h0M611.6 231.4h0M629.4 231.3h0M609.2 232.1h0M594.2 232h0M529.6 231h0M594.9 230.1h0M586 232.2h0" stroke="#008afa" stroke-width="1.7" stroke-linecap="round" fill="none" />
<path d="M513.2 235.2h0M521.7 230.4h0M515.2 231.2h0M517.3 231.6h0M518.4 230.3h0M521.9 230.2h0M515.9 230.3h0M521.3 230.8h0" stroke="#177df5" stroke-width="1.7" stroke-linecap="round" fill="none" />
<path d="M510.6 227.9h0" stroke="#2f71f0" stroke-width="1.7" stroke-linecap="round" fill="none" />
<path d="M511.4 232.4h0M513.1 229.6h0" stroke="#764ce3" stroke-width="1.7" stroke-linecap="round" fill="none" />
<path d="M513.7 233.6h0" stroke="#8d3fd5" stroke-width="1.7" stroke-linecap="round" fill="none" />
<path d="M515.1 232.7h0" stroke="#ba26a8" stroke-width="1.7" stroke-linecap="round" fill="none" />
<path d="M510.2 227.9h0M511.4 231.1h0M510.5 230.6h0M512.1 232.7h0M509.9 233.5h0M512.8 234.3h0M511.8 226.9h0M516.3 230.8h0M513.4 233.6h0" stroke="#ff0064" stroke-width="1.7" stroke-linecap="round" fill="none" />
<path d="M609.1 230.6h0M634 231.3h0M603.3 231.2h0M616 231.2h0M637.6 231h0M633.7 230.1h0M597.1 231.5h0M611 230.2h0M621.2 230.7h0M622.3 232.2h0M588.8 231.3h0M518.7 231.3h0M601.7 230.8h0M637.3 230.8h0M587.5 231.4h0M623.2 230.7h0M634.8 232.2h0M593.1 231.7h0M523.7 232h0M587 231.8h0M590 230.7h0" stroke="#008afa" stroke-width="1.7" stroke-linecap="round" fill="none" />
<path d="M508.6 232.1h0M519.6 231.4h0M516.8 231.8h0M511.9 233.3h0M519.8 232.1h0M521.4 232h0" stroke="#177df5" stroke-width="1.7" stroke-linecap="round" fill="none" />
<path d="M512.4 229.3h0" stroke="#2f71f0" stroke-width="1.7" stroke-linecap="round" fill="none" />
<path d="M513.6 227.5h0" stroke="#764ce3" stroke-width="1.7" stroke-linecap="round" fill="none" />
<path d="M508.9 231.6h0M512.3 232.3h0M510.4 233.8h0" stroke="#8d3fd5" stroke-width="1.7" stroke-linecap="round" fill="none" />
<path d="M511 231.5h0M510.5 230.1h0" stroke="#ba26a8" stroke-width="1.7" stroke-linecap="round" fill="none" />
<path d="M514.1 231.1h0M512.3 228.7h0M512.6 226.7h0M511.1 233.5h0M510.3 234.1h0M510.1 233.8h0M510.4 229.7h0M512.4 228.2h0M511.6 233.9h0M511.4 226.3h0M511 228.8h0" stroke="#ff0064" stroke-width="1.7" stroke-linecap="round" fill="none" />
<path d="M609.9 230.1h0M522.5 231.8h0M591.1 230.4h0M613.8 230.2h0M617.8 231.7h0M627.6 230.5h0M513.3 227.4h0M592.7 231.2h0M533.1 230.2h0M510.5 227.6h0M512.7 226h0M601.2 231.4h0M603.8 230.6h0M590.3 230.7h0M599.8 230.2h0M605.9 230.4h0M578 232h0M513.9 235.4h0M622.3 230.3h0M631.2 230.8h0M532.5 230.7h0M527.8 231.5h0M626.8 230.4h0" stroke="#008afa" stroke-width="1.7" stroke-linecap="round" fill="none" />
<path d="M519.6 231.8h0M514.5 228.8h0M515.5 231.8h0M518 231.2h0M516.3 230.1h0M515.1 230.2h0" stroke="#177df5" stroke-width="1.7" stroke-linecap="round" fill="none" />
<path d="M512.9 226.7h0M512 236.4h0" stroke="#2f71f0" stroke-width="1.7" stroke-linecap="round" fill="none" />
<path d="M505.2 230.1h0" stroke="#4664ec" stroke-width="1.7" stroke-linecap="round" fill="none" />
<path d="M509 231.2h0" stroke="#5e58e7" stroke-width="1.7" stroke-linecap="round" fill="none" />
<path d="M512.8 231.6h0M512.1 231h0M510.4 230.6h0" stroke="#764ce3" stroke-width="1.7" stroke-linecap="round" fill="none" />
<path d="M511.2 234.3h0M504.6 230.6h0" stroke="#8d3fd5" stroke-width="1.7" stroke-linecap="round" fill="none" />
<path d="M509.7 232.5h0" stroke="#ba26a8" stroke-width="1.7" stroke-linecap="round" fill="none" />
<path d="M511.8 228.2h0M511 227.4h0M516.7 230.9h0M513.1 235.5h0M511.8 232.5h0M510.7 229.4h0" stroke="#ff0064" stroke-width="1.7" stroke-linecap="round" fill="none" />
<path d="M605.2 231.7h0M517.9 230.2h0M619.1 231.9h0M589.8 230.2h0M634.1 231h0M524.6 230.7h0M625.6 232.2h0M596.3 230.8h0M578.9 230.1h0M532.3 230.7h0M520.4 230.3h0M618.6 231.7h0M525.9 231.6h0M513.6 227.2h0M641.4 231.5h0M600.5 230.7h0M529.3 230.7h0M586.1 230.6h0M513.8 229.4h0M614.1 231.8h0M586 230.5h0" stroke="#008afa" stroke-width="1.7" stroke-linecap="round" fill="none" />
<path d="M512.5 236.5h0M518 230.4h0M515 230.6h0M518.9 230.5h0M513.9 231.6h0M518.4 231.7h0M521.6 231.9h0M517.3 230.3h0M517.1 230.3h0M521.4 231.8h0" stroke="#177df5" stroke-width="1.7" stroke-linecap="round" fill="none" />
<path d="M512 227.6h0" stroke="#2f71f0" stroke-width="1.7" stroke-linecap="round" fill="none" />
<path d="M511.4 227.5h0" stroke="#764ce3" stroke-width="1.7" stroke-linecap="round" fill="none" />
<path d="M505 230.8h0M513 229.9h0M501.3 232h0" stroke="#8d3fd5" stroke-width="1.7" stroke-linecap="round" fill="none" />
<path d="M512.6 231.1h0" stroke="#ba26a8" stroke-width="1.7" stroke-linecap="round" fill="none" />
<path d="M512.6 226.5h0M511 231.7h0M512.3 232.5h0M511 232.3h0M512 232.2h0M511.4 233h0M514.8 234.2h0M511.8 226.4h0" stroke="#ff0064" stroke-width="1.7" stroke-linecap="round" fill="none" />
<path d="M596.3 231.4h0M533.6 231.8h0M590.1 232h0M587.8 230.6h0M633.2 230.4h0M574.9 231.1h0M516.7 230.5h0M636.7 231.6h0M638.1 231.4h0M514.6 230.4h0M502.8 232h0M629.9 230.6h0M601 231.5h0M611.9 230.6h0M531.1 230.8h0M518.4 230.6h0M628.6 230.5h0M596.3 230.9h0M533.9 231.8h0" stroke="#008afa" stroke-width="1.7" stroke-linecap="round" fill="none" />
<path d="M520.3 230.2h0M516.4 231.5h0M521.7 230.5h0M517.8 230.9h0M521.1 231.3h0M516.6 230h0M519.5 231.6h0" stroke="#177df5" stroke-width="1.7" stroke-linecap="round" fill="none" />
<path d="M514.3 234.5h0" stroke="#2f71f0" stroke-width="1.7" stroke-linecap="round" fill="none" />
<path d="M512.1 228.5h0M513.2 232.5h0" stroke="#764ce3" stroke-width="1.7" stroke-linecap="round" fill="none" />
<path d="M514 231.4h0M510.9 233.4h0M501.3 230.1h0M515.4 229.5h0" stroke="#8d3fd5" stroke-width="1.7" stroke-linecap="round" fill="none" />
<path d="M511.6 235.8h0M513.5 227.3h0M513.3 235h0" stroke="#ba26a8" stroke-width="1.7" stroke-linecap="round" fill="none" />
<path d="M512 228.9h0M510 228.4h0M515.6 233.2h0M511.1 228.7h0M510.4 233.1h0M511.7 229.9h0M510.5 230.5h0M514.4 234.6h0M515.5 229.3h0" stroke="#ff0064" stroke-width="1.7" stroke-linecap="round" fill="none" />
<path d="M607.7 232.1h0M499.4 231.3h0M576.1 231.3h0M618.7 231.3h0M517.4 230.9h0M513.9 231.4h0M605.6 230.7h0" stroke="#008afa" stroke-width="1.7" stroke-linecap="round" fill="none" />
<path d="M514.6 231.1h0M515.6 231h0M517 232.2h0M516.8 230.8h0M515.5 231.4h0" stroke="#177df5" stroke-width="1.7" stroke-linecap="round" fill="none" />
<path d="M514.6 230.3h0" stroke="#8d3fd5" stroke-width="1.7" stroke-linecap="round" fill="none" />
<path d="M513.3 232.7h0" stroke="#ba26a8" stroke-width="1.7" stroke-linecap="round" fill="none" />
<path d="M511.4 232.1h0M512.6 227.4h0M512.5 225.8h0" stroke="#ff0064" stroke-width="1.7" stroke-linecap="round" fill="none" />
<path d="M518.8 243.9h0M558.9 243.7h0M581.4 245.1h0M548.8 244.9h0M564.7 243.9h0M566.4 244.7h0M582.9 243.4h0M545.6 243.7h0M525.7 244.4h0M588 244h0M542.1 244.1h0M554.1 244.1h0M563.5 245.1h0M531.7 244h0M567.9 244.5h0M538.2 243.2h0M526.2 243.6h0M545.2 243.7h0M540.3 243.3h0M521.5 244.2h0M525.5 244.1h0M593 244h0M544.1 244.9h0M518.4 244.5h0M534 243.4h0M572.7 243.6h0M527 244.2h0M551.5 244.6h0M588.1 243.8h0M556.9 243.3h0M577.8 243.7h0M513.4 248.6h0M520.1 245.1h0" stroke="#008afa" stroke-width="1.7" stroke-linecap="round" fill="none" />
<path d="M515.1 242.4h0" stroke="#177df5" stroke-width="1.7" stroke-linecap="round" fill="none" />
<path d="M513.2 240.1h0" stroke="#2f71f0" stroke-width="1.7" stroke-linecap="round" fill="none" />
<path d="M514.6 246.2h0M512.9 249.5h0M512.6 243.1h0" stroke="#764ce3" stroke-width="1.7" stroke-linecap="round" fill="none" />
<path d="M511.6 246.3h0" stroke="#8d3fd5" stroke-width="1.7" stroke-linecap="round" fill="none" />
<path d="M513.8 242.5h0" stroke="#ba26a8" stroke-width="1.7" stroke-linecap="round" fill="none" />
<path d="M515.7 243.5h0M511.9 242.1h0M510.9 243.2h0M514.9 242.4h0M513.4 244.4h0" stroke="#ff0064" stroke-width="1.7" stroke-linecap="round" fill="none" />
<path d="M577.6 244.1h0M583.2 244.5h0M513.6 248.8h0M572.4 244.5h0M592.2 245.1h0M537 244.4h0M585.5 245.3h0M592.7 243.6h0M512 240.4h0M519 243.3h0M543.4 244.8h0M567.9 244.1h0M529.7 243.7h0M531.8 245.2h0M517.5 243.5h0M519.4 243.2h0M535.3 244.3h0M547.5 244.6h0M547.2 244.6h0M556.4 244.4h0M524.5 243.7h0M573.5 244.6h0M524.1 243.9h0M518.2 244h0" stroke="#008afa" stroke-width="1.7" stroke-linecap="round" fill="none" />
<path d="M510.6 246.1h0M513.6 242.4h0M513.4 240.9h0" stroke="#764ce3" stroke-width="1.7" stroke-linecap="round" fill="none" />
<path d="M504.1 243.9h0M506 243.7h0M513.2 245.9h0M512.7 242.9h0" stroke="#8d3fd5" stroke-width="1.7" stroke-linecap="round" fill="none" />
<path d="M513.4 245.6h0M513.3 242.8h0" stroke="#ba26a8" stroke-width="1.7" stroke-linecap="round" fill="none" />
<path d="M504.7 244.5h0" stroke="#d11991" stroke-width="1.7" stroke-linecap="round" fill="none" />
<path d="M507.1 243.5h0" stroke="#e80c7a" stroke-width="1.7" stroke-linecap="round" fill="none" />
<path d="M510.9 245.3h0M512.8 244.5h0M512.5 247.3h0M511.8 241.1h0M512.1 242.6h0M512.9 246h0M512.7 245.5h0M511.6 242.4h0M512.2 248.7h0M514.4 244.4h0" stroke="#ff0064" stroke-width="1.7" stroke-linecap="round" fill="none" />
<path d="M591.6 243.7h0M580.3 245.3h0M538.2 243.7h0M514.4 247.8h0M545.8 243.9h0M588.9 243.3h0M572.7 245.1h0M520.4 243.2h0M519.9 243.3h0M534.2 244.8h0M512.7 240.2h0M533.6 243.6h0M587.5 244.6h0M578.2 245.3h0M589.3 244.3h0M530.7 244.6h0M582.2 245.1h0M520.6 244.1h0M542 245.4h0M523 244.9h0M540.9 244.5h0M548.3 244.5h0M547.5 243.2h0M566 243.2h0M542.2 244.6h0M588.1 244.7h0M535.4 244.9h0M517.1 243.4h0" stroke="#008afa" stroke-width="1.7" stroke-linecap="round" fill="none" />
<path d="M513.3 247.7h0M516 244.6h0" stroke="#177df5" stroke-width="1.7" stroke-linecap="round" fill="none" />
<path d="M512.7 239.4h0" stroke="#2f71f0" stroke-width="1.7" stroke-linecap="round" fill="none" />
<path d="M514.4 241.2h0" stroke="#764ce3" stroke-width="1.7" stroke-linecap="round" fill="none" />
<path d="M511.9 245.1h0M512.2 242.2h0" stroke="#8d3fd5" stroke-width="1.7" stroke-linecap="round" fill="none" />
<path d="M505.7 243.7h0" stroke="#a432be" stroke-width="1.7" stroke-linecap="round" fill="none" />
<path d="M512.2 249.3h0M513.1 239.6h0M512.9 243.5h0M514.5 243.2h0" stroke="#ba26a8" stroke-width="1.7" stroke-linecap="round" fill="none" />
<path d="M510.2 244.3h0M505.9 244.5h0" stroke="#e80c7a" stroke-width="1.7" stroke-linecap="round" fill="none" />
<path d="M513.6 244.2h0M512.2 244.3h0M510.4 243.1h0M511.5 247.4h0" stroke="#ff0064" stroke-width="1.7" stroke-linecap="round" fill="none" />
<path d="M538.9 243.3h0M517.7 243.6h0M545.9 245.2h0M513 249.1h0M547.8 245.3h0M568.9 244.6h0M518.5 243.2h0M552.3 244.7h0M535.9 243.5h0M546.2 244.7h0M585.3 243.7h0M527.5 245.3h0M582.5 244.1h0M588.1 243.9h0M546 244.3h0M525.3 243.5h0M512.2 247.9h0M531.5 244.6h0M573.6 244.7h0M529.8 244h0M523.7 243.5h0M546.2 244h0M540 243.2h0M522.5 243.9h0M565.7 244.7h0M582.9 245.4h0M521 244h0M531.6 245.4h0M580 244.7h0M557.3 243.8h0M513.8 244.8h0M571.7 245.1h0M537.9 245.1h0" stroke="#008afa" stroke-width="1.7" stroke-linecap="round" fill="none" />
<path d="M513.4 246.7h0" stroke="#2f71f0" stroke-width="1.7" stroke-linecap="round" fill="none" />
<path d="M514.9 246.7h0M513 246.8h0M513.7 245.8h0" stroke="#8d3fd5" stroke-width="1.7" stroke-linecap="round" fill="none" />
<path d="M513.6 240h0" stroke="#ba26a8" stroke-width="1.7" stroke-linecap="round" fill="none" />
<path d="M511.5 244.2h0M513.8 247.9h0M512.1 241h0M514.1 241.1h0M512.6 241.3h0M511.6 248.4h0M512.3 247.1h0" stroke="#ff0064" stroke-width="1.7" stroke-linecap="round" fill="none" />
<path d="M516.7 245.2h0M542.6 243.5h0M538.1 245.3h0M536 244.1h0M532.3 243.7h0M559.7 244.4h0M527 243.7h0M525.5 245.3h0M528.9 245.3h0M522 244.7h0M575.9 244.6h0M570.5 243.3h0M553.3 243.7h0M509.2 244.7h0M587.4 245.1h0M544.9 243.4h0M574.1 244.3h0M528.6 244.1h0M579.9 245.3h0M539.3 244.6h0M581.2 244.9h0M514.3 242.1h0M590.5 244.6h0M563.2 243.6h0M548.7 243.6h0M586.4 243.4h0M563.3 244.7h0" stroke="#008afa" stroke-width="1.7" stroke-linecap="round" fill="none" />
<path d="M512.9 246h0" stroke="#2f71f0" stroke-width="1.7" stroke-linecap="round" fill="none" />
<path d="M514 242.7h0" stroke="#8d3fd5" stroke-width="1.7" stroke-linecap="round" fill="none" />
<path d="M511.8 242.7h0M511.3 246h0M511.2 244.3h0" stroke="#ba26a8" stroke-width="1.7" stroke-linecap="round" fill="none" />
<path d="M508 243.9h0" stroke="#e80c7a" stroke-width="1.7" stroke-linecap="round" fill="none" />
<path d="M514.1 240.6h0M513.5 244.7h0M511.4 248h0M514.4 243.3h0M511.9 245.7h0M510.8 246.3h0M513.5 243.2h0M514.2 240.5h0M510.6 245.8h0M512.5 239.8h0M510.3 242.7h0M512.2 244.6h0" stroke="#ff0064" stroke-width="1.7" stroke-linecap="round" fill="none" />
<path d="M576.3 243.7h0M553.8 245.3h0M551.9 244.7h0M527.3 243.6h0M549.6 245.3h0M587.1 244.9h0M525.4 244.8h0M528 243.4h0M551 243.3h0M564.8 243.8h0M531.4 245.2h0M583.1 245.3h0M564.8 244.6h0M525.4 245.3h0M525.4 243.6h0M530.2 244.7h0M551.3 244.4h0M514.6 244.2h0M557.8 244.4h0M519.3 243.5h0M513.2 242.1h0M521.2 244.7h0M575.5 243.7h0M559.5 245.1h0M526.3 245.4h0M551.2 244.7h0M557.2 244.1h0M536 244.3h0M550.1 244.5h0M552.4 244.4h0M549.6 243.8h0" stroke="#008afa" stroke-width="1.7" stroke-linecap="round" fill="none" />
<path d="M512.8 246.2h0" stroke="#177df5" stroke-width="1.7" stroke-linecap="round" fill="none" />
<path d="M512.5 245.2h0M513.6 241.4h0" stroke="#764ce3" stroke-width="1.7" stroke-linecap="round" fill="none" />
<path d="M513.6 240.8h0M504.2 243.5h0M504.6 244.8h0" stroke="#8d3fd5" stroke-width="1.7" stroke-linecap="round" fill="none" />
<path d="M512.7 248.8h0M510.4 245.1h0M509.2 244.6h0M512.5 246h0M513 241.5h0M513 240.1h0M511.4 241.8h0M512.9 243.9h0" stroke="#ff0064" stroke-width="1.7" stroke-linecap="round" fill="none" />
<path d="M530.2 243.6h0M583.2 243.5h0M580.3 244.8h0M546.5 244h0M577.5 245.2h0M524.7 243.4h0M517.8 243.7h0M558.3 243.5h0M575.2 243.5h0M546 245h0M527.8 244.9h0M552.5 245.1h0M526.9 243.3h0M572.9 245.3h0M577 244.5h0M528.7 245.3h0M531.1 244.4h0M526.4 244h0M581.3 244.4h0M552.2 243.4h0" stroke="#008afa" stroke-width="1.7" stroke-linecap="round" fill="none" />
<path d="M513.3 248.1h0M501.4 243.4h0" stroke="#177df5" stroke-width="1.7" stroke-linecap="round" fill="none" />
<path d="M514.9 243.3h0" stroke="#2f71f0" stroke-width="1.7" stroke-linecap="round" fill="none" />
<path d="M511.5 243.6h0" stroke="#764ce3" stroke-width="1.7" stroke-linecap="round" fill="none" />
<path d="M505.9 243.4h0M510.6 244.2h0M511.6 243.2h0" stroke="#8d3fd5" stroke-width="1.7" stroke-linecap="round" fill="none" />
<path d="M503.9 244.8h0" stroke="#e80c7a" stroke-width="1.7" stroke-linecap="round" fill="none" />
<path d="M512.1 245.3h0M511 245.7h0" stroke="#ff0064" stroke-width="1.7" stroke-linecap="round" fill="none" />
<path d="M554.5 258.5h0M513.7 257.4h0M514.4 255.3h0M570.7 258.4h0M568.1 256.6h0M552 257.1h0M527.9 257.2h0M580.7 256.5h0M567.7 257.9h0M575.9 257.6h0M515.8 257h0M513 260.6h0M530.6 258.1h0M536.9 258.2h0M514.4 257.5h0M558.9 257.6h0M567.3 256.9h0M542.4 258.2h0M541.7 258.4h0M582 256.6h0M522.2 256.5h0M522.1 257.5h0M577.8 257.5h0M573.2 257.3h0M580.8 257.8h0M583.3 257.6h0M517 256.8h0M533.6 257.8h0M537.7 256.5h0" stroke="#008afa" stroke-width="1.7" stroke-linecap="round" fill="none" />
<path d="M507.9 257.9h0M510.5 258.4h0M503.3 257.1h0M506 256.6h0M502 258h0" stroke="#177df5" stroke-width="1.7" stroke-linecap="round" fill="none" />
<path d="M514 261.5h0" stroke="#2f71f0" stroke-width="1.7" stroke-linecap="round" fill="none" />
<path d="M514.1 255h0M515.1 259h0" stroke="#764ce3" stroke-width="1.7" stroke-linecap="round" fill="none" />
<path d="M514.2 257.9h0" stroke="#8d3fd5" stroke-width="1.7" stroke-linecap="round" fill="none" />
<path d="M513.2 260.8h0" stroke="#ba26a8" stroke-width="1.7" stroke-linecap="round" fill="none" />
<path d="M512.3 259.5h0M513.3 258.9h0M514.4 259h0M511.8 258.6h0M515.7 255.5h0M515 258.8h0" stroke="#ff0064" stroke-width="1.7" stroke-linecap="round" fill="none" />
<path d="M516.5 257.7h0M550.1 257.7h0M578 257.9h0M577.1 258.5h0M515.7 257.3h0M532.8 257.9h0M530.5 256.7h0M580 257.1h0M511.7 258.8h0M539.5 256.5h0M528.4 257.1h0M526.1 257.5h0M506.2 256.6h0M537.4 258.4h0M514.3 260.9h0M527.8 258h0M552.5 257.5h0M522.7 256.4h0M535 258.1h0M517.3 258.1h0M542 256.8h0M582.7 257.5h0M569.3 256.5h0M527.3 257.8h0M572.2 258.3h0M542.6 257h0M515.4 257.4h0" stroke="#008afa" stroke-width="1.7" stroke-linecap="round" fill="none" />
<path d="M504.1 256.7h0M510.3 257.1h0M507.1 258.3h0M507.1 258.1h0M499.1 257.3h0M503.5 257.2h0" stroke="#177df5" stroke-width="1.7" stroke-linecap="round" fill="none" />
<path d="M511.9 259.4h0" stroke="#2f71f0" stroke-width="1.7" stroke-linecap="round" fill="none" />
<path d="M513.2 255.7h0" stroke="#764ce3" stroke-width="1.7" stroke-linecap="round" fill="none" />
<path d="M514.1 260.3h0" stroke="#ba26a8" stroke-width="1.7" stroke-linecap="round" fill="none" />
<path d="M513 260.9h0M514.6 252.5h0M514.4 260.8h0M513.7 255.5h0M514.9 261.3h0M512.7 261.1h0M513.4 258.8h0M516.6 257.8h0M513.9 261.4h0" stroke="#ff0064" stroke-width="1.7" stroke-linecap="round" fill="none" />
<path d="M512.7 259h0M528 256.4h0M580.7 257.8h0M523 257.3h0M515.8 259.8h0M536.7 258.3h0M527 257.5h0M514.2 261.4h0M527.8 258.1h0M520.2 258.3h0M535.3 257h0M520.9 256.9h0M550.6 258.3h0M531.4 258.3h0M532.7 257.7h0M515.6 256.5h0M540 257.9h0M517.8 256.7h0M564.4 258.1h0M522.9 256.6h0M518.5 256.4h0M541.6 257h0M523.6 257.7h0M525.4 257.1h0M540 258.3h0M527.8 257.3h0M549.5 257.1h0" stroke="#008afa" stroke-width="1.7" stroke-linecap="round" fill="none" />
<path d="M507.1 256.9h0M504 257.8h0M500.2 256.6h0" stroke="#177df5" stroke-width="1.7" stroke-linecap="round" fill="none" />
<path d="M514.7 258.4h0" stroke="#2f71f0" stroke-width="1.7" stroke-linecap="round" fill="none" />
<path d="M515.9 259.7h0M512.9 254.5h0" stroke="#764ce3" stroke-width="1.7" stroke-linecap="round" fill="none" />
<path d="M514.3 261.8h0M512.9 260.8h0" stroke="#8d3fd5" stroke-width="1.7" stroke-linecap="round" fill="none" />
<path d="M515.5 258.7h0" stroke="#ba26a8" stroke-width="1.7" stroke-linecap="round" fill="none" />
<path d="M512.5 254.5h0M510.8 256.7h0M512.8 261.2h0M514.3 256.4h0M514.7 258.1h0M513.5 255.7h0M515.8 259.5h0M513.8 259.5h0M513.7 253.8h0" stroke="#ff0064" stroke-width="1.7" stroke-linecap="round" fill="none" />
<path d="M527.6 257.6h0M542.6 256.8h0M577.7 256.9h0M561.9 258.4h0M514.5 259.7h0M526.3 258.4h0M576.6 256.3h0M529 257.9h0M517.5 257.1h0M535.2 257.1h0M529.5 257.6h0M549.1 258.1h0M523.9 257.4h0M527.4 257.4h0M557 256.4h0M562.8 256.6h0M570.8 257.7h0M576 256.7h0M554.8 256.4h0M536.2 257.6h0M519.8 257h0M535.9 258.1h0M541.6 258.4h0M518 257.1h0M565.1 256.4h0M563.8 258.1h0M577.4 258h0M567.4 256.9h0M579.2 258h0" stroke="#008afa" stroke-width="1.7" stroke-linecap="round" fill="none" />
<path d="M509.6 257.4h0M507.9 257.7h0M513.4 256h0" stroke="#177df5" stroke-width="1.7" stroke-linecap="round" fill="none" />
<path d="M514.9 258.7h0M514.5 259.8h0" stroke="#2f71f0" stroke-width="1.7" stroke-linecap="round" fill="none" />
<path d="M514.8 253.8h0" stroke="#ba26a8" stroke-width="1.7" stroke-linecap="round" fill="none" />
<path d="M514.9 260h0M512.8 261.3h0M513.8 260.5h0M513.4 260.5h0M513.6 255.3h0M513 254.8h0M513.3 258.8h0M512.8 253h0M513.1 258.3h0M513.7 254.5h0" stroke="#ff0064" stroke-width="1.7" stroke-linecap="round" fill="none" />
<path d="M515.3 257h0M530.8 257.5h0M520.8 258h0M514.2 253.7h0M523 257.3h0M550.5 257.5h0M583.2 257.6h0M514.1 254.2h0M539.8 258.5h0M533.5 257.4h0M553.1 257.9h0M529.9 257.2h0M520.2 257.3h0M517.4 256.4h0M524.8 257.7h0M553.6 258h0M567.9 256.5h0M583.5 257.2h0M573.5 256.9h0M530.4 256.7h0M564.1 257.7h0M583.5 257.4h0M579.2 257.7h0M536.5 257.1h0M556.8 257.3h0M517.4 256.6h0M538.2 257.2h0M557.2 256.8h0M516.2 256.5h0" stroke="#008afa" stroke-width="1.7" stroke-linecap="round" fill="none" />
<path d="M504.1 257.1h0M511.5 257.7h0M504.6 257.7h0M502.3 257.9h0M514.9 256.4h0M504.9 258.1h0" stroke="#177df5" stroke-width="1.7" stroke-linecap="round" fill="none" />
<path d="M514.5 253.1h0" stroke="#2f71f0" stroke-width="1.7" stroke-linecap="round" fill="none" />
<path d="M514.7 254.4h0" stroke="#8d3fd5" stroke-width="1.7" stroke-linecap="round" fill="none" />
<path d="M513.1 254h0M514.3 261.1h0" stroke="#ba26a8" stroke-width="1.7" stroke-linecap="round" fill="none" />
<path d="M513.9 261.6h0M512.4 257.3h0M513.5 252.2h0M512.9 258.6h0M514.1 259h0M512.5 254.6h0" stroke="#ff0064" stroke-width="1.7" stroke-linecap="round" fill="none" />
<path d="M527.5 256.9h0M523.2 256.6h0M572.2 256.5h0M556.9 256.8h0M561.4 257.1h0M516.1 258.4h0M583 256.8h0M562.9 256.9h0M527.1 256.9h0M555.7 256.3h0M500 258.1h0M517.4 258.3h0M564.6 256.4h0M579.9 258.1h0M581.1 256.9h0M517.3 258.5h0M515.9 258h0M538.5 258.1h0M559.6 257.7h0M512.5 259.1h0M583.1 257.2h0M572.3 256.9h0M515.6 256.9h0M561.7 256.4h0M516.7 257.3h0M550.1 257.4h0M518.9 257.5h0M518.9 258.2h0" stroke="#008afa" stroke-width="1.7" stroke-linecap="round" fill="none" />
<path d="M507.6 258.2h0M509.1 257.7h0M501.3 257h0M503.6 256.6h0" stroke="#177df5" stroke-width="1.7" stroke-linecap="round" fill="none" />
<path d="M514.2 260.7h0M514.9 253.4h0M514.1 254.8h0" stroke="#2f71f0" stroke-width="1.7" stroke-linecap="round" fill="none" />
<path d="M513.2 255.2h0" stroke="#764ce3" stroke-width="1.7" stroke-linecap="round" fill="none" />
<path d="M516 255h0M513.2 258.5h0" stroke="#8d3fd5" stroke-width="1.7" stroke-linecap="round" fill="none" />
<path d="M515.8 258.2h0" stroke="#ba26a8" stroke-width="1.7" stroke-linecap="round" fill="none" />
<path d="M510.4 257.4h0M513.8 261.9h0M511.1 256.4h0M515.1 260.4h0M517.7 257.6h0M513.9 259.4h0" stroke="#ff0064" stroke-width="1.7" stroke-linecap="round" fill="none" />
<path d="M516.5 257.9h0M551.4 257.1h0M522.1 256.5h0M580.2 257h0M571.3 258.2h0M541.1 258.4h0M573.1 256.6h0" stroke="#008afa" stroke-width="1.7" stroke-linecap="round" fill="none" />
<path d="M511.5 257.1h0M508.8 257.7h0M501.2 256.6h0" stroke="#177df5" stroke-width="1.7" stroke-linecap="round" fill="none" />
<path d="M514.1 252.4h0" stroke="#2f71f0" stroke-width="1.7" stroke-linecap="round" fill="none" />
<path d="M513.2 256.7h0M513.1 257.1h0" stroke="#764ce3" stroke-width="1.7" stroke-linecap="round" fill="none" />
<path d="M514.4 254.5h0" stroke="#ba26a8" stroke-width="1.7" stroke-linecap="round" fill="none" />
<path d="M511 257h0M513.9 253.3h0M513.5 254.9h0M510.5 257h0M512.9 259.7h0M515.1 257.8h0" stroke="#ff0064" stroke-width="1.7" stroke-linecap="round" fill="none" />
<path d="M516.7 273.9h0M516.5 268.9h0M548.9 270h0M512.9 273.6h0M518 270h0M519.2 270.6h0M548 270.2h0M560.7 271.6h0M545.8 270h0M549.9 271.3h0M548.5 271.3h0M541.1 269.7h0M534.4 270.3h0M548.9 271.5h0M558.2 271.3h0M570.1 271.2h0" stroke="#008afa" stroke-width="1.7" stroke-linecap="round" fill="none" />
<path d="M521.3 271.4h0M531.8 269.8h0M528.7 270.2h0M525.5 271.1h0M514.9 266.1h0M528.1 269.7h0M525.4 270.1h0M517.2 271.5h0" stroke="#177df5" stroke-width="1.7" stroke-linecap="round" fill="none" />
<path d="M499.5 269.6h0M517.1 274.7h0" stroke="#2f71f0" stroke-width="1.7" stroke-linecap="round" fill="none" />
<path d="M514.2 267.9h0M515.2 270.5h0M515.1 273.2h0" stroke="#764ce3" stroke-width="1.7" stroke-linecap="round" fill="none" />
<path d="M514.8 270.2h0M515.3 271.1h0M496.5 270.6h0" stroke="#8d3fd5" stroke-width="1.7" stroke-linecap="round" fill="none" />
<path d="M488.7 269.9h0M492.1 270.9h0M487.6 269.7h0" stroke="#a432be" stroke-width="1.7" stroke-linecap="round" fill="none" />
<path d="M515.3 270.8h0" stroke="#ba26a8" stroke-width="1.7" stroke-linecap="round" fill="none" />
<path d="M512.5 267.6h0M518 267.8h0M515.4 271.2h0M513.8 274.5h0M512.7 271.3h0M509.9 271.6h0M516 273.6h0M513.2 269.2h0M515.3 269.6h0" stroke="#ff0064" stroke-width="1.7" stroke-linecap="round" fill="none" />
<path d="M516.1 271.6h0M561.9 271.7h0M523.6 270.7h0M515.1 270.7h0M565.1 270.6h0M559.9 270.7h0M536.4 270.7h0M567.8 269.8h0M518 268.3h0M534.3 270.5h0" stroke="#008afa" stroke-width="1.7" stroke-linecap="round" fill="none" />
<path d="M514.5 270.3h0M512.4 273.5h0M530.9 270h0M518.4 270h0M528.3 270.3h0M518.9 270.1h0M532.7 270.2h0M529 271.1h0" stroke="#177df5" stroke-width="1.7" stroke-linecap="round" fill="none" />
<path d="M517.1 270.8h0M516.8 272.2h0M520.9 271.5h0" stroke="#2f71f0" stroke-width="1.7" stroke-linecap="round" fill="none" />
<path d="M492.2 269.5h0" stroke="#4664ec" stroke-width="1.7" stroke-linecap="round" fill="none" />
<path d="M514.5 274.9h0M507.5 270.7h0M516.8 266.7h0" stroke="#764ce3" stroke-width="1.7" stroke-linecap="round" fill="none" />
<path d="M507.1 270.4h0M513.8 274h0M511.5 269.1h0M519.1 272.1h0M518.1 272.6h0M516.7 266.4h0" stroke="#8d3fd5" stroke-width="1.7" stroke-linecap="round" fill="none" />
<path d="M495.8 269.8h0M505.3 271.5h0M492.7 269.6h0" stroke="#a432be" stroke-width="1.7" stroke-linecap="round" fill="none" />
<path d="M517.1 271.9h0M515.9 265.5h0" stroke="#ba26a8" stroke-width="1.7" stroke-linecap="round" fill="none" />
<path d="M515 274h0M512.1 271.2h0M512.5 270.1h0M513.7 275.4h0M521.6 271.1h0M513.3 274.1h0M515 274.6h0M515.7 274.3h0M514.1 268.2h0" stroke="#ff0064" stroke-width="1.7" stroke-linecap="round" fill="none" />
<path d="M570.3 271.1h0M548.1 270.1h0M551.6 271.6h0M512.4 272h0M542.1 271.3h0M521.5 270.7h0M558.1 270.9h0M516.4 270h0M562.1 269.7h0M525.5 271.5h0M541.9 271h0M512.6 270.9h0M534.6 269.8h0" stroke="#008afa" stroke-width="1.7" stroke-linecap="round" fill="none" />
<path d="M513.6 271.3h0M523.5 269.6h0M518.7 269.6h0M526.6 271.6h0M533 270.3h0M514.9 270.3h0" stroke="#177df5" stroke-width="1.7" stroke-linecap="round" fill="none" />
<path d="M515.1 268.8h0M521.6 270.5h0M514.9 266.3h0" stroke="#2f71f0" stroke-width="1.7" stroke-linecap="round" fill="none" />
<path d="M518 272.1h0" stroke="#764ce3" stroke-width="1.7" stroke-linecap="round" fill="none" />
<path d="M513.5 268.6h0M518.5 269.5h0M515.7 270.7h0M493.5 270.2h0M512.8 269.4h0M515.8 266.7h0M512.7 267.6h0M512.2 268.9h0" stroke="#8d3fd5" stroke-width="1.7" stroke-linecap="round" fill="none" />
<path d="M490.6 270.4h0M495.4 271.6h0" stroke="#a432be" stroke-width="1.7" stroke-linecap="round" fill="none" />
<path d="M517.2 268.5h0M517.1 274.6h0" stroke="#ba26a8" stroke-width="1.7" stroke-linecap="round" fill="none" />
<path d="M512 267.8h0M512.7 270.5h0M515.9 273.8h0M514.4 268h0M517.7 271.7h0M515.5 273.5h0M516.8 270h0M510.6 270.9h0M511.6 269.8h0M513.8 270.7h0" stroke="#ff0064" stroke-width="1.7" stroke-linecap="round" fill="none" />
<path d="M567.5 270.3h0M533.2 271.1h0M518.6 273.3h0M515.6 271.7h0M540.5 271.4h0M566.4 270.7h0M566.4 271.4h0M561 270.8h0M537.8 270.6h0M512.2 272.1h0M530.2 270.5h0M534.7 270.7h0M556.5 270.6h0M518.3 269.7h0M522 269.5h0" stroke="#008afa" stroke-width="1.7" stroke-linecap="round" fill="none" />
<path d="M516.7 270.2h0M529.8 271.5h0M531.1 271.6h0M518 270.2h0M518.7 273.2h0M519.2 270.1h0M516.6 265.9h0" stroke="#177df5" stroke-width="1.7" stroke-linecap="round" fill="none" />
<path d="M515.9 269.3h0M514.3 265.4h0" stroke="#2f71f0" stroke-width="1.7" stroke-linecap="round" fill="none" />
<path d="M512.4 270.3h0M515.1 270.4h0M515.6 268.9h0M511.8 269.8h0" stroke="#764ce3" stroke-width="1.7" stroke-linecap="round" fill="none" />
<path d="M490.9 270h0M515.6 271.1h0M514.3 267.8h0" stroke="#8d3fd5" stroke-width="1.7" stroke-linecap="round" fill="none" />
<path d="M499.3 269.8h0M506 269.9h0M487.6 270.4h0M501 270.1h0M498.5 270.9h0M487.9 270.9h0M502.5 270.3h0" stroke="#a432be" stroke-width="1.7" stroke-linecap="round" fill="none" />
<path d="M512.4 268.8h0M513.4 268.6h0M514.3 274.4h0M515.5 273.3h0M514.5 267h0M513.8 268.4h0M516.9 268.2h0" stroke="#ff0064" stroke-width="1.7" stroke-linecap="round" fill="none" />
<path d="M514.8 275.4h0M539.4 271.5h0M543.9 271.7h0M517.3 274.5h0M560.4 270.3h0M526.3 271.1h0M560.7 271.1h0M567.8 269.6h0M516 265.7h0M559.9 271.4h0M526 271.5h0M559.7 270.6h0M569.1 269.7h0M545.4 270.2h0M564.9 271.6h0M569.4 270.9h0M556.9 269.7h0M518.7 270.6h0M536.3 269.8h0" stroke="#008afa" stroke-width="1.7" stroke-linecap="round" fill="none" />
<path d="M519 271.7h0M516.6 269.3h0M522.7 270h0M515.2 268.3h0M529 270.2h0M532.2 269.6h0M531.7 270.7h0" stroke="#177df5" stroke-width="1.7" stroke-linecap="round" fill="none" />
<path d="M515.9 268.3h0M488.5 269.7h0" stroke="#2f71f0" stroke-width="1.7" stroke-linecap="round" fill="none" />
<path d="M493.4 271.2h0" stroke="#4664ec" stroke-width="1.7" stroke-linecap="round" fill="none" />
<path d="M508.4 271.2h0M513.1 274.3h0M516.7 274.5h0" stroke="#764ce3" stroke-width="1.7" stroke-linecap="round" fill="none" />
<path d="M514.8 270.9h0M498.9 269.9h0M493.3 269.9h0" stroke="#8d3fd5" stroke-width="1.7" stroke-linecap="round" fill="none" />
<path d="M500.4 271.5h0" stroke="#a432be" stroke-width="1.7" stroke-linecap="round" fill="none" />
<path d="M513.4 273.1h0M510.4 268.7h0" stroke="#ba26a8" stroke-width="1.7" stroke-linecap="round" fill="none" />
<path d="M512.8 268.3h0M514.6 275.6h0M512.7 269.6h0M516 267.4h0M520.3 271.4h0M514.3 274.1h0M511.5 268.2h0" stroke="#ff0064" stroke-width="1.7" stroke-linecap="round" fill="none" />
<path d="M553 271h0M512.8 267.8h0M539.2 271h0M510.9 270.1h0M516.6 271.9h0M530.2 271.3h0M560 270h0M520.1 271.6h0M546.4 270.6h0M555.7 270.4h0M568.8 270.5h0M514.2 273h0M549.3 270.8h0M516.7 266.2h0M537.2 269.7h0M539.5 270h0M532.1 270.2h0M515.1 270h0M516.7 270.4h0" stroke="#008afa" stroke-width="1.7" stroke-linecap="round" fill="none" />
<path d="M515.2 266h0M526.2 269.8h0M521.9 271.4h0M514.9 275.7h0M515.8 270.5h0M517.2 269.7h0" stroke="#177df5" stroke-width="1.7" stroke-linecap="round" fill="none" />
<path d="M513.2 270.6h0M510.3 268.9h0" stroke="#2f71f0" stroke-width="1.7" stroke-linecap="round" fill="none" />
<path d="M512.4 269.5h0M516 268.6h0" stroke="#764ce3" stroke-width="1.7" stroke-linecap="round" fill="none" />
<path d="M497.5 270.7h0M515.6 266.1h0M486.4 270.5h0" stroke="#8d3fd5" stroke-width="1.7" stroke-linecap="round" fill="none" />
<path d="M492 271.6h0M500.5 270.3h0" stroke="#a432be" stroke-width="1.7" stroke-linecap="round" fill="none" />
<path d="M513.9 271.4h0M518.1 269.1h0M517 266.5h0M516.2 270.5h0" stroke="#ba26a8" stroke-width="1.7" stroke-linecap="round" fill="none" />
<path d="M514.8 274.5h0M516.4 268.5h0M511.5 273.3h0M513.4 274.7h0M515.8 270h0M514.2 275.3h0M510.3 270.9h0" stroke="#ff0064" stroke-width="1.7" stroke-linecap="round" fill="none" />
<path d="M557.9 271.6h0M548.8 270.2h0M521 270h0M545.4 271.1h0M566.7 271.2h0M548.8 270.6h0M514.5 268.4h0M567.9 269.8h0M569.2 270.9h0M545.9 270.5h0M567.9 270.5h0M524.7 270.9h0M531.5 271.3h0M547.8 271.7h0" stroke="#008afa" stroke-width="1.7" stroke-linecap="round" fill="none" />
<path d="M518.4 269.9h0M528.4 271h0M532.9 271.6h0M519.5 270.7h0M514.5 271.5h0M518.1 270.8h0M517.7 271.4h0M520.7 269.9h0M522.7 269.7h0M519.3 270.8h0M518.7 272.4h0M518.6 271h0" stroke="#177df5" stroke-width="1.7" stroke-linecap="round" fill="none" />
<path d="M517.8 273.2h0" stroke="#2f71f0" stroke-width="1.7" stroke-linecap="round" fill="none" />
<path d="M502.2 270.6h0" stroke="#764ce3" stroke-width="1.7" stroke-linecap="round" fill="none" />
<path d="M517.4 273.1h0M513.6 269.3h0M517.7 271.6h0M518.4 271.2h0" stroke="#8d3fd5" stroke-width="1.7" stroke-linecap="round" fill="none" />
<path d="M506.1 270.9h0M491 269.6h0M489.6 269.8h0" stroke="#a432be" stroke-width="1.7" stroke-linecap="round" fill="none" />
<path d="M512.5 270.8h0M514.3 265.5h0M517.7 272h0" stroke="#ba26a8" stroke-width="1.7" stroke-linecap="round" fill="none" />
<path d="M516.5 271.8h0M513.5 266.4h0M515 269.8h0M514 269.4h0M514.3 265.7h0M513.2 270.5h0M514.1 271.8h0" stroke="#ff0064" stroke-width="1.7" stroke-linecap="round" fill="none" />
<path d="M567.2 271.2h0M523.6 271.4h0M533.2 270.1h0M557.2 270.3h0M552.7 269.5h0M511.3 267.9h0M539.3 269.6h0M530.2 271h0M529.7 269.6h0M566.6 269.5h0M541.2 270.9h0M546.7 271.3h0M558.7 271.1h0" stroke="#008afa" stroke-width="1.7" stroke-linecap="round" fill="none" />
<path d="M514.2 270.6h0M522.5 270.8h0M516.2 270.1h0M519.7 269.7h0M516.1 270.2h0M517 268.7h0M526.9 269.6h0M521 270.2h0M529.8 269.8h0M526.5 271.6h0M529.4 271.1h0" stroke="#177df5" stroke-width="1.7" stroke-linecap="round" fill="none" />
<path d="M511.5 271h0" stroke="#2f71f0" stroke-width="1.7" stroke-linecap="round" fill="none" />
<path d="M494.1 271.5h0" stroke="#5e58e7" stroke-width="1.7" stroke-linecap="round" fill="none" />
<path d="M512.5 269.9h0M511.9 272.3h0M498.5 271.5h0" stroke="#764ce3" stroke-width="1.7" stroke-linecap="round" fill="none" />
<path d="M496.4 270.2h0M518.1 269.9h0M505.6 271.5h0M502.9 271h0M500.6 269.6h0M517.5 272.8h0M498.1 269.7h0" stroke="#8d3fd5" stroke-width="1.7" stroke-linecap="round" fill="none" />
<path d="M497.2 270h0M502.8 271.4h0M490.4 270.9h0" stroke="#a432be" stroke-width="1.7" stroke-linecap="round" fill="none" />
<path d="M513.7 274.2h0" stroke="#ba26a8" stroke-width="1.7" stroke-linecap="round" fill="none" />
<path d="M514.9 274h0M514.2 267h0M516.5 272.9h0M513.8 272.2h0M517.7 271.3h0" stroke="#ff0064" stroke-width="1.7" stroke-linecap="round" fill="none" />
<path d="M539.3 269.6h0M554.6 270.9h0M510.4 270.2h0M518 270.5h0M517 270.1h0" stroke="#008afa" stroke-width="1.7" stroke-linecap="round" fill="none" />
<path d="M514.8 273.1h0" stroke="#764ce3" stroke-width="1.7" stroke-linecap="round" fill="none" />
<path d="M514.3 268.8h0M498.2 270.4h0" stroke="#8d3fd5" stroke-width="1.7" stroke-linecap="round" fill="none" />
<path d="M496.7 269.7h0" stroke="#a432be" stroke-width="1.7" stroke-linecap="round" fill="none" />
<path d="M514.4 274.3h0" stroke="#ff0064" stroke-width="1.7" stroke-linecap="round" fill="none" />
<path d="M556 283h0M552.6 284.2h0M516.5 283.3h0M544.5 283.4h0M545.3 284.7h0M525.2 282.8h0M546.9 284.8h0M547.8 283.5h0M511.8 280.7h0M566.8 284.2h0M515.1 288h0M552 283.8h0M548.4 282.9h0M518.4 285h0M512.8 287.5h0M517.4 281.8h0M510.5 281.7h0" stroke="#008afa" stroke-width="1.7" stroke-linecap="round" fill="none" />
<path d="M515.2 282.2h0M515 283.2h0M517.4 283.2h0M509.6 281.5h0M509.8 281.4h0" stroke="#177df5" stroke-width="1.7" stroke-linecap="round" fill="none" />
<path d="M515 282.3h0" stroke="#2f71f0" stroke-width="1.7" stroke-linecap="round" fill="none" />
<path d="M510.3 282.2h0" stroke="#764ce3" stroke-width="1.7" stroke-linecap="round" fill="none" />
<path d="M492.9 283.7h0M489.6 284.3h0M515.1 286.8h0M485 283.1h0M501.2 283.7h0" stroke="#8d3fd5" stroke-width="1.7" stroke-linecap="round" fill="none" />
<path d="M497.3 283.8h0M497.9 283.7h0" stroke="#a432be" stroke-width="1.7" stroke-linecap="round" fill="none" />
<path d="M514.9 283.6h0" stroke="#ba26a8" stroke-width="1.7" stroke-linecap="round" fill="none" />
<path d="M483.4 284h0" stroke="#e80c7a" stroke-width="1.7" stroke-linecap="round" fill="none" />
<path d="M515.7 279.3h0M512.6 287.1h0M513.2 279.6h0M513.1 287.1h0M513.8 284.7h0M511.7 283.5h0M519.5 284.8h0M512.1 286.6h0M515.9 281.7h0M511.8 286.3h0M516.9 284.1h0M516 286h0" stroke="#ff0064" stroke-width="1.7" stroke-linecap="round" fill="none" />
<path d="M552.3 283.6h0M553.4 283.3h0M518.2 283.2h0M560.7 283.8h0M558.5 284.8h0M539.6 282.9h0M546.7 284.8h0M515.2 287.6h0M556.8 283.7h0M542.1 284.6h0M516.5 280.6h0M520.1 284.7h0M515.5 286.1h0M565.2 284.1h0M576.6 283.1h0M573.6 282.9h0" stroke="#008afa" stroke-width="1.7" stroke-linecap="round" fill="none" />
<path d="M522.5 284h0M521.6 283.9h0M538.3 284.7h0M515.1 284.9h0M538 284.5h0" stroke="#177df5" stroke-width="1.7" stroke-linecap="round" fill="none" />
<path d="M513.1 288.5h0" stroke="#2f71f0" stroke-width="1.7" stroke-linecap="round" fill="none" />
<path d="M510.6 285.4h0M511.4 285.6h0" stroke="#764ce3" stroke-width="1.7" stroke-linecap="round" fill="none" />
<path d="M494.9 284.4h0M514.9 281.2h0M508.7 284.1h0M515.7 280.5h0M484.5 283.5h0" stroke="#8d3fd5" stroke-width="1.7" stroke-linecap="round" fill="none" />
<path d="M495.3 283.3h0" stroke="#a432be" stroke-width="1.7" stroke-linecap="round" fill="none" />
<path d="M512.3 287.1h0" stroke="#ba26a8" stroke-width="1.7" stroke-linecap="round" fill="none" />
<path d="M511.3 285.2h0M518.1 282.4h0M512.7 286.4h0M513.4 286h0M517 283.3h0M512.1 282.1h0M509 283.8h0M515.7 284.8h0M512.1 287.7h0M518 284.1h0M511.7 283.2h0M510.7 281h0M510.2 286.4h0M517 281.4h0" stroke="#ff0064" stroke-width="1.7" stroke-linecap="round" fill="none" />
<path d="M553.1 283.3h0M544.6 284.2h0M565.4 283.1h0M515.9 281.8h0M526.5 283.8h0M515.2 280.6h0M516 285.4h0M516.6 286.2h0M561.1 283.6h0M517.5 282.3h0M518.5 284.2h0M529.6 283.4h0M517.4 281.2h0" stroke="#008afa" stroke-width="1.7" stroke-linecap="round" fill="none" />
<path d="M535.8 282.9h0M518.1 283.3h0M535.1 283.1h0M516.9 282.3h0M531.3 283.9h0M514.2 286.3h0M516.7 283.9h0" stroke="#177df5" stroke-width="1.7" stroke-linecap="round" fill="none" />
<path d="M498.2 283.7h0" stroke="#5e58e7" stroke-width="1.7" stroke-linecap="round" fill="none" />
<path d="M512.5 285.2h0M516.7 285.2h0M513.9 280h0M516 281.2h0" stroke="#764ce3" stroke-width="1.7" stroke-linecap="round" fill="none" />
<path d="M519.7 284.6h0M513.4 281.8h0M510.9 286.8h0M513 281.3h0" stroke="#8d3fd5" stroke-width="1.7" stroke-linecap="round" fill="none" />
<path d="M514 285.5h0M511.5 282.1h0" stroke="#ba26a8" stroke-width="1.7" stroke-linecap="round" fill="none" />
<path d="M489.4 284.8h0" stroke="#e80c7a" stroke-width="1.7" stroke-linecap="round" fill="none" />
<path d="M515.2 280.8h0M512.7 280.7h0M514.7 282.9h0M514.2 280.4h0M517.1 287h0M511.5 283.5h0M509.9 282.3h0M510.5 280.9h0M514.9 288.8h0M512.9 288.7h0M517.3 282.3h0M511.5 286.8h0M511.1 282.1h0" stroke="#ff0064" stroke-width="1.7" stroke-linecap="round" fill="none" />
<path d="M553 284.7h0M515.3 279.3h0M515.9 283.4h0M520.2 282.9h0M559.4 283.9h0M527.1 283.9h0M531.2 283.9h0M511.9 282.6h0M562.3 284.9h0" stroke="#008afa" stroke-width="1.7" stroke-linecap="round" fill="none" />
<path d="M537 283.7h0M522.1 283.5h0M513.5 282.5h0M537.5 283.5h0M516.7 284.7h0M512 279.9h0M527.6 284.2h0M531.2 284.1h0" stroke="#177df5" stroke-width="1.7" stroke-linecap="round" fill="none" />
<path d="M514.9 282.6h0M514.5 287.6h0" stroke="#2f71f0" stroke-width="1.7" stroke-linecap="round" fill="none" />
<path d="M510.7 286.6h0M519.7 283.9h0M509.3 283.3h0M514.1 284.9h0M514.3 287.4h0" stroke="#764ce3" stroke-width="1.7" stroke-linecap="round" fill="none" />
<path d="M515.2 280.9h0M514.2 288.1h0M518.4 283.6h0M517.2 281.1h0M483.6 282.9h0" stroke="#8d3fd5" stroke-width="1.7" stroke-linecap="round" fill="none" />
<path d="M499.1 283.8h0" stroke="#a432be" stroke-width="1.7" stroke-linecap="round" fill="none" />
<path d="M490.8 283.2h0M514 287.1h0M513.5 287.1h0M517.3 280.9h0" stroke="#ba26a8" stroke-width="1.7" stroke-linecap="round" fill="none" />
<path d="M483.5 284.2h0M492.9 282.8h0M485.6 282.9h0M491.3 284.5h0" stroke="#e80c7a" stroke-width="1.7" stroke-linecap="round" fill="none" />
<path d="M513.6 288.6h0M512.5 286.1h0M513.6 279.5h0M515.6 284h0M516.1 284.9h0M510.9 283.6h0M512.2 286.6h0" stroke="#ff0064" stroke-width="1.7" stroke-linecap="round" fill="none" />
<path d="M545.9 283.1h0M512.7 281.8h0M512.9 282.8h0M538.9 282.9h0M547.9 284.3h0M550.6 282.7h0M512.6 281h0M550.5 284.8h0M518.9 283.8h0M556.4 284.2h0M559.8 283.6h0M531.1 282.7h0M518 283.4h0M517 281.2h0" stroke="#008afa" stroke-width="1.7" stroke-linecap="round" fill="none" />
<path d="M534.6 283h0M524.2 284.5h0M528.6 284.1h0M511.1 287.6h0M539.3 283.5h0M526.3 284.8h0M530.3 282.8h0M531.2 284.6h0M517 284.7h0M515.5 283.3h0M519.1 284.5h0" stroke="#177df5" stroke-width="1.7" stroke-linecap="round" fill="none" />
<path d="M491.7 283.3h0" stroke="#5e58e7" stroke-width="1.7" stroke-linecap="round" fill="none" />
<path d="M495.2 284.1h0M483.4 283.1h0M510.5 286.4h0" stroke="#8d3fd5" stroke-width="1.7" stroke-linecap="round" fill="none" />
<path d="M515 282.5h0M516.4 287.4h0M511.7 286h0M513.3 278.5h0" stroke="#ba26a8" stroke-width="1.7" stroke-linecap="round" fill="none" />
<path d="M484.5 284.1h0M491.3 284.6h0M482.9 283.9h0" stroke="#e80c7a" stroke-width="1.7" stroke-linecap="round" fill="none" />
<path d="M512.8 289h0M510.1 282.3h0M514.4 285.2h0M512.2 279.6h0M516.4 287h0M515.1 279.4h0M514.7 280.8h0M512.7 280.5h0M512.1 281.6h0" stroke="#ff0064" stroke-width="1.7" stroke-linecap="round" fill="none" />
<path d="M516 280.3h0M552.2 283.3h0M519.9 283.9h0M508.7 285.5h0M528.1 283.7h0M564.3 282.8h0M540.6 283.9h0M560.8 284.1h0M515 279.9h0M567.1 284.1h0M514.2 280.7h0M528 283.6h0M562.8 284.2h0M516.4 282.8h0" stroke="#008afa" stroke-width="1.7" stroke-linecap="round" fill="none" />
<path d="M516.3 283.7h0M537.7 284.4h0M538.2 283.3h0M516 284.5h0M513.8 278.6h0M515 283.5h0M536.9 284.8h0M514.6 285.2h0M534.1 284.6h0M520.4 283.3h0M521.9 283.6h0" stroke="#177df5" stroke-width="1.7" stroke-linecap="round" fill="none" />
<path d="M511.3 285.8h0M514.1 280.5h0M491.7 284.9h0" stroke="#2f71f0" stroke-width="1.7" stroke-linecap="round" fill="none" />
<path d="M511.4 285.3h0M516.4 287.3h0" stroke="#764ce3" stroke-width="1.7" stroke-linecap="round" fill="none" />
<path d="M517.3 285.7h0" stroke="#8d3fd5" stroke-width="1.7" stroke-linecap="round" fill="none" />
<path d="M510.1 285.3h0" stroke="#ba26a8" stroke-width="1.7" stroke-linecap="round" fill="none" />
<path d="M491.3 284.3h0M490.7 284.1h0M486.6 284.4h0" stroke="#e80c7a" stroke-width="1.7" stroke-linecap="round" fill="none" />
<path d="M513.4 285.5h0M513.3 282.4h0M514.1 287.4h0M513.1 279.3h0M514 285.6h0M506.9 283.4h0M513.7 281.6h0M510.9 281.3h0M513.2 283.9h0M513.2 288.2h0" stroke="#ff0064" stroke-width="1.7" stroke-linecap="round" fill="none" />
<path d="M512.6 288.4h0M514.8 284.6h0M540.5 284.4h0M541.8 283.3h0M559.4 283.2h0M555.3 283.2h0M515.3 279.4h0M563.3 283.8h0M513.2 280.7h0M546.5 284.8h0M553.4 283.3h0M519.2 284.9h0M537.5 282.9h0M489.2 283.4h0" stroke="#008afa" stroke-width="1.7" stroke-linecap="round" fill="none" />
<path d="M528 283.2h0M533.1 284.7h0M524.5 283.5h0M515.6 284.5h0M539.1 284.2h0M520.3 284.5h0" stroke="#177df5" stroke-width="1.7" stroke-linecap="round" fill="none" />
<path d="M514.7 279.6h0M514.4 288.5h0" stroke="#2f71f0" stroke-width="1.7" stroke-linecap="round" fill="none" />
<path d="M516.2 284.2h0M510.9 281h0M517.8 283.9h0" stroke="#764ce3" stroke-width="1.7" stroke-linecap="round" fill="none" />
<path d="M491.2 284.3h0M496.7 283.4h0M497.7 282.9h0M487.5 283.7h0M512.8 286.3h0" stroke="#8d3fd5" stroke-width="1.7" stroke-linecap="round" fill="none" />
<path d="M484.5 283.7h0" stroke="#e80c7a" stroke-width="1.7" stroke-linecap="round" fill="none" />
<path d="M513 280.7h0M510.8 285.2h0M510.4 283.7h0M512.6 278.8h0M517.8 285.7h0M510.8 282.2h0M516.7 284.3h0M509.5 286.1h0M510.3 283.3h0M511.3 284.3h0M515.3 287.4h0M513.1 280.3h0M511.7 284.3h0M511.9 281.6h0" stroke="#ff0064" stroke-width="1.7" stroke-linecap="round" fill="none" />
<path d="M522.7 283.8h0M526.5 284.2h0M545 284.6h0M537.9 282.8h0M554 282.8h0M562.7 284.8h0M515.2 284.3h0M545.3 283.8h0M513.2 286.3h0M563.6 283h0M553.8 282.7h0M515 285.5h0" stroke="#008afa" stroke-width="1.7" stroke-linecap="round" fill="none" />
<path d="M525.1 283.6h0M529.5 283.7h0M513.3 285.4h0" stroke="#177df5" stroke-width="1.7" stroke-linecap="round" fill="none" />
<path d="M512.3 282h0M513.9 284.9h0" stroke="#2f71f0" stroke-width="1.7" stroke-linecap="round" fill="none" />
<path d="M513.9 279.8h0" stroke="#764ce3" stroke-width="1.7" stroke-linecap="round" fill="none" />
<path d="M484.5 284.6h0M484.7 283.3h0M490.1 283.5h0" stroke="#8d3fd5" stroke-width="1.7" stroke-linecap="round" fill="none" />
<path d="M511.2 281.1h0" stroke="#ba26a8" stroke-width="1.7" stroke-linecap="round" fill="none" />
<path d="M492.8 283.6h0M488.8 284.8h0" stroke="#e80c7a" stroke-width="1.7" stroke-linecap="round" fill="none" />
<path d="M510 281.4h0M520.4 283.2h0M513.4 283.4h0" stroke="#ff0064" stroke-width="1.7" stroke-linecap="round" fill="none" />
<path d="M576.5 296.6h0M512.3 296.1h0M563.2 296.7h0M568.9 296.3h0M561.9 297.6h0M517.4 296.3h0M581.7 298h0M517.5 297.3h0M553.9 296.3h0M512.2 298.2h0M576.3 296.5h0M576 297.9h0M571.5 297.5h0M572.7 297h0" stroke="#008afa" stroke-width="1.7" stroke-linecap="round" fill="none" />
<path d="M518.8 297.1h0M523.8 297.3h0M519.9 296.7h0M524.1 296.3h0M524.9 295.9h0M522.7 296.6h0" stroke="#177df5" stroke-width="1.7" stroke-linecap="round" fill="none" />
<path d="M493.7 296.1h0M515.3 295.2h0M514.9 302.1h0" stroke="#2f71f0" stroke-width="1.7" stroke-linecap="round" fill="none" />
<path d="M509.2 296.5h0M516.6 297.4h0M509.8 296h0M514.4 297.8h0M504 297.1h0M515.8 301.4h0" stroke="#764ce3" stroke-width="1.7" stroke-linecap="round" fill="none" />
<path d="M515.3 298.4h0M513.5 301.1h0M518.5 296.9h0M505.2 297.9h0M513.6 294.4h0M499.3 297.8h0M499.3 296.7h0M496.9 296.4h0" stroke="#8d3fd5" stroke-width="1.7" stroke-linecap="round" fill="none" />
<path d="M512.4 294.9h0M515.8 295.7h0M515.9 301.1h0M515.8 297.5h0M514.6 296.6h0M515.4 291.7h0M513.1 298.5h0M515 296.6h0" stroke="#ff0064" stroke-width="1.7" stroke-linecap="round" fill="none" />
<path d="M551.2 297.9h0M560.5 296.5h0M514.5 297.8h0M580.4 295.9h0M579.6 296.6h0M549.2 296.6h0M550 296.2h0M515.8 298.4h0M569.5 297.5h0M571.1 297.6h0M552.7 297h0M515.1 298.1h0M549.2 297.6h0M573.7 297.6h0M556.8 296.4h0M512 298h0M557.8 296.3h0M580.1 297.7h0" stroke="#008afa" stroke-width="1.7" stroke-linecap="round" fill="none" />
<path d="M517.3 299.6h0M522.3 296.5h0M521.9 296.7h0M522.6 297.4h0M515.9 296.2h0M525.2 296.5h0M525.9 297.8h0M522.8 297h0" stroke="#177df5" stroke-width="1.7" stroke-linecap="round" fill="none" />
<path d="M515.1 296.1h0" stroke="#2f71f0" stroke-width="1.7" stroke-linecap="round" fill="none" />
<path d="M503.3 297.7h0" stroke="#5e58e7" stroke-width="1.7" stroke-linecap="round" fill="none" />
<path d="M498.5 296.5h0M514 296.1h0M513.7 300.3h0M516.1 293.8h0M499.7 296.1h0" stroke="#764ce3" stroke-width="1.7" stroke-linecap="round" fill="none" />
<path d="M516.5 299.5h0M515.3 300.8h0M507.8 297.4h0" stroke="#8d3fd5" stroke-width="1.7" stroke-linecap="round" fill="none" />
<path d="M513 300.6h0M515.1 301.2h0M515.3 292.9h0" stroke="#ba26a8" stroke-width="1.7" stroke-linecap="round" fill="none" />
<path d="M512.5 296.8h0M515.5 296.6h0M513.2 293.4h0M515.7 295.6h0M515.3 296.8h0M513.9 298.9h0" stroke="#ff0064" stroke-width="1.7" stroke-linecap="round" fill="none" />
<path d="M550.9 296.7h0M568.4 296.8h0M579.5 296.3h0M552.5 297.3h0M549.2 296h0M516.7 297.1h0M550.9 296.9h0M574.4 296.2h0M574.4 297.7h0M540.8 297.3h0M516.3 293.6h0M564 296.4h0M563.1 296.9h0M514.8 300.2h0M525.1 296h0" stroke="#008afa" stroke-width="1.7" stroke-linecap="round" fill="none" />
<path d="M519.7 297.3h0M520.1 296.8h0M515.6 297.2h0M515.9 297.6h0M516.1 296.4h0M516.2 296h0M521.5 296.3h0M521.3 297.5h0" stroke="#177df5" stroke-width="1.7" stroke-linecap="round" fill="none" />
<path d="M515.3 291.8h0M517.5 296.3h0M511.9 299h0" stroke="#2f71f0" stroke-width="1.7" stroke-linecap="round" fill="none" />
<path d="M510 297.6h0M494.1 296.5h0M500.1 296.2h0M502.1 297.4h0" stroke="#764ce3" stroke-width="1.7" stroke-linecap="round" fill="none" />
<path d="M510.2 297.1h0M504.2 296.4h0M504.3 296.1h0M494.7 296.2h0" stroke="#8d3fd5" stroke-width="1.7" stroke-linecap="round" fill="none" />
<path d="M516.2 296.7h0M517.1 298.8h0M517 298.1h0M513.4 295.3h0" stroke="#ba26a8" stroke-width="1.7" stroke-linecap="round" fill="none" />
<path d="M514.5 297.5h0M510.7 296.3h0M515.1 293.8h0M515.2 300.8h0M514.7 296.6h0M516.7 296.4h0M514.5 299.8h0" stroke="#ff0064" stroke-width="1.7" stroke-linecap="round" fill="none" />
<path d="M560 297.2h0M517.3 297.1h0M522.2 297.9h0M552.7 296.5h0M515.8 296.3h0M517 300.6h0M556.2 296.7h0M565.8 296.4h0M558.8 296.4h0M516.1 297.7h0M553.4 297.1h0M561 297.5h0M516.7 300.5h0M515.1 297.3h0M575 297.1h0M514.8 300.2h0M572.1 295.9h0M560.8 296.9h0M508.3 297.9h0M556.4 296.5h0M514.4 293.4h0M565.9 297.9h0" stroke="#008afa" stroke-width="1.7" stroke-linecap="round" fill="none" />
<path d="M516.2 300.3h0M514.1 292.3h0M519.7 297.9h0M515.9 295.2h0M514.4 297.2h0M526.4 296.7h0M517.9 297.9h0M519.3 296.3h0M524 296.4h0" stroke="#177df5" stroke-width="1.7" stroke-linecap="round" fill="none" />
<path d="M509.2 296h0" stroke="#5e58e7" stroke-width="1.7" stroke-linecap="round" fill="none" />
<path d="M513.8 298.7h0" stroke="#764ce3" stroke-width="1.7" stroke-linecap="round" fill="none" />
<path d="M518.9 297.1h0M510.8 297.8h0M493.9 296.2h0" stroke="#8d3fd5" stroke-width="1.7" stroke-linecap="round" fill="none" />
<path d="M512.2 296.3h0M516.9 295.1h0M514.7 299.8h0M512.7 295.4h0" stroke="#ba26a8" stroke-width="1.7" stroke-linecap="round" fill="none" />
<path d="M515.5 295.5h0M515.5 299h0M515.7 293.1h0M511.7 298.8h0M512.5 294.8h0" stroke="#ff0064" stroke-width="1.7" stroke-linecap="round" fill="none" />
<path d="M552.5 297.7h0M563.7 297.4h0M565.9 296.8h0M516.6 297.8h0M564.1 296.6h0M560.8 296.7h0M553.3 297.4h0M561.2 296.3h0M578 297.6h0M555.9 297.7h0M516.7 297.9h0M574.9 297h0M565.3 297.6h0M552.7 296.8h0M518 295.2h0M516.8 297.6h0M579.2 297.2h0M561.1 297.4h0M562.9 296.4h0" stroke="#008afa" stroke-width="1.7" stroke-linecap="round" fill="none" />
<path d="M513.7 300h0M520.6 296.1h0" stroke="#177df5" stroke-width="1.7" stroke-linecap="round" fill="none" />
<path d="M510.4 297.4h0M513.9 298.4h0" stroke="#2f71f0" stroke-width="1.7" stroke-linecap="round" fill="none" />
<path d="M497.2 297.2h0M499.4 296.2h0M493.7 297.2h0M494.7 297.8h0M515.5 297.4h0M496.8 296.1h0M511.9 296.5h0" stroke="#764ce3" stroke-width="1.7" stroke-linecap="round" fill="none" />
<path d="M511.5 296.6h0M507.3 297.4h0M497.3 296.3h0M514.3 298.8h0M516.3 295.4h0M513.6 295.2h0M518.3 298.6h0" stroke="#8d3fd5" stroke-width="1.7" stroke-linecap="round" fill="none" />
<path d="M518.8 296.3h0M514 300.2h0M512.4 295.1h0M514.6 295.8h0M515.1 291.6h0M514.9 293.2h0M516.9 298.9h0M516.4 297.5h0" stroke="#ff0064" stroke-width="1.7" stroke-linecap="round" fill="none" />
<path d="M554.3 296.8h0M559.6 297.4h0M531.2 296.1h0M570.1 296.6h0M570.4 297.8h0M563.9 297.7h0M558.6 297.7h0M553.1 296.7h0M581.1 296.7h0M579.9 296h0M511.8 295.7h0M553 296.3h0M520.9 296.1h0" stroke="#008afa" stroke-width="1.7" stroke-linecap="round" fill="none" />
<path d="M520.4 297.3h0M517.6 297.8h0M516.2 301.4h0M524.9 297.4h0M516.8 296.7h0M522.7 296.2h0" stroke="#177df5" stroke-width="1.7" stroke-linecap="round" fill="none" />
<path d="M515.6 293.1h0M513.2 295.6h0M512.8 293.9h0M515.5 300.9h0" stroke="#2f71f0" stroke-width="1.7" stroke-linecap="round" fill="none" />
<path d="M499.5 296.8h0" stroke="#4664ec" stroke-width="1.7" stroke-linecap="round" fill="none" />
<path d="M503.4 296.2h0" stroke="#5e58e7" stroke-width="1.7" stroke-linecap="round" fill="none" />
<path d="M514.3 293h0M501.1 296.8h0M499.9 296.8h0M517.6 294.8h0" stroke="#764ce3" stroke-width="1.7" stroke-linecap="round" fill="none" />
<path d="M518.6 297.5h0M515.3 294.7h0" stroke="#8d3fd5" stroke-width="1.7" stroke-linecap="round" fill="none" />
<path d="M520.3 296.6h0M513.1 294.1h0M516.8 296.9h0" stroke="#ba26a8" stroke-width="1.7" stroke-linecap="round" fill="none" />
<path d="M512.7 296.5h0M515.7 293.8h0M514.1 297.1h0M514.9 300.4h0M516.5 295.5h0M518.4 295.6h0M514 299.6h0M512.7 296.8h0M513.6 293.6h0M516.6 293.1h0M513.4 298.1h0" stroke="#ff0064" stroke-width="1.7" stroke-linecap="round" fill="none" />
<path d="M560.5 297.3h0M519.5 297.7h0M515.2 296.8h0M564.1 296.9h0M579.8 297.5h0M552.5 297.2h0M556.4 297.1h0M565.5 296h0M580.1 296.6h0M572.2 296.7h0M519.3 298h0M569.8 297.5h0M517.3 299.6h0M572.6 296h0M578.7 296.7h0M566.7 296.3h0M566.3 297.8h0M563.7 298h0" stroke="#008afa" stroke-width="1.7" stroke-linecap="round" fill="none" />
<path d="M517.1 297.5h0M521.4 297.2h0M526.1 298h0M516.9 296.8h0M505.5 297.9h0" stroke="#177df5" stroke-width="1.7" stroke-linecap="round" fill="none" />
<path d="M514.5 297.3h0" stroke="#2f71f0" stroke-width="1.7" stroke-linecap="round" fill="none" />
<path d="M507.8 296.2h0M505.3 297.5h0M505.4 296.8h0M515.2 298.7h0" stroke="#764ce3" stroke-width="1.7" stroke-linecap="round" fill="none" />
<path d="M504.5 296.9h0" stroke="#8d3fd5" stroke-width="1.7" stroke-linecap="round" fill="none" />
<path d="M515.4 301.3h0" stroke="#ba26a8" stroke-width="1.7" stroke-linecap="round" fill="none" />
<path d="M514.4 296.9h0M514.5 297.7h0M511.4 298.4h0M516.6 293.9h0M511.6 295.6h0M517.4 295.4h0M517 300.5h0" stroke="#ff0064" stroke-width="1.7" stroke-linecap="round" fill="none" />
<path d="M539.2 309.9h0M546.6 309.5h0M552.6 310.8h0M564 310.1h0M548.8 310.7h0M515.8 310h0M537.8 309.4h0M551 310.3h0M536 310.1h0M568.9 309.8h0M563.8 309.9h0M551.7 309.2h0M547.1 309.2h0M539.6 310.5h0M514.5 307.5h0M535.4 310h0M534.2 310.4h0" stroke="#008afa" stroke-width="1.7" stroke-linecap="round" fill="none" />
<path d="M514.6 310.9h0M514.5 305.3h0M513.3 313.5h0M515.1 311.8h0M512.3 306.9h0" stroke="#177df5" stroke-width="1.7" stroke-linecap="round" fill="none" />
<path d="M514.4 313h0M516.4 309.9h0M511.9 312.1h0M513.4 308.5h0" stroke="#2f71f0" stroke-width="1.7" stroke-linecap="round" fill="none" />
<path d="M524.5 310.8h0M515.5 311.1h0M526.4 309.5h0" stroke="#4664ec" stroke-width="1.7" stroke-linecap="round" fill="none" />
<path d="M498.2 309.6h0" stroke="#5e58e7" stroke-width="1.7" stroke-linecap="round" fill="none" />
<path d="M505.7 309.1h0M497.2 310.7h0" stroke="#8d3fd5" stroke-width="1.7" stroke-linecap="round" fill="none" />
<path d="M514.8 309.5h0M514.3 314.4h0M516 314h0" stroke="#ba26a8" stroke-width="1.7" stroke-linecap="round" fill="none" />
<path d="M516.1 313.9h0M512 312.3h0M513.1 313.6h0M514.9 305.3h0M511.8 312.4h0M515.7 311.5h0M519 310.2h0M514.8 306.3h0M514.2 307h0M514.8 310.8h0" stroke="#ff0064" stroke-width="1.7" stroke-linecap="round" fill="none" />
<path d="M516.2 306.9h0M542.9 309.6h0M515.4 306.8h0M511.7 309.3h0M569.7 310.3h0M549.5 310.2h0M552.5 310.4h0M568.7 310.8h0M545.5 309.7h0M514.8 306.9h0M510.7 311.6h0" stroke="#008afa" stroke-width="1.7" stroke-linecap="round" fill="none" />
<path d="M514.4 312.4h0M523.2 310.1h0M514.9 311.5h0M517.9 311.1h0M514.3 309.7h0M513.7 305.1h0M514.7 309.1h0" stroke="#177df5" stroke-width="1.7" stroke-linecap="round" fill="none" />
<path d="M518.3 311.1h0M514 313.4h0" stroke="#2f71f0" stroke-width="1.7" stroke-linecap="round" fill="none" />
<path d="M523 309.4h0M528 310.7h0M517.8 311.2h0M514.6 309.3h0" stroke="#4664ec" stroke-width="1.7" stroke-linecap="round" fill="none" />
<path d="M512.5 308.6h0" stroke="#764ce3" stroke-width="1.7" stroke-linecap="round" fill="none" />
<path d="M508.2 309.2h0M512.7 309.2h0M499.3 309.8h0M504 310h0M503.8 309.5h0M515 308.3h0" stroke="#8d3fd5" stroke-width="1.7" stroke-linecap="round" fill="none" />
<path d="M514.6 311.1h0" stroke="#ba26a8" stroke-width="1.7" stroke-linecap="round" fill="none" />
<path d="M514.1 307.6h0M514.3 314h0M513.7 305.1h0M517.4 309.5h0M513.3 309.8h0M515.8 307.1h0M517.8 311.6h0M513.5 305.9h0M514.5 305.9h0M515.8 310.9h0M516.7 311.6h0M513 308.6h0M513.8 312h0" stroke="#ff0064" stroke-width="1.7" stroke-linecap="round" fill="none" />
<path d="M548.4 311.1h0M530.8 309.8h0M542.6 311h0M561.7 309.8h0M528.2 309.1h0M534 309.9h0M570.9 310h0M517 311.3h0M538.6 310.3h0M568.3 309.5h0M516.8 310.3h0M545.5 311h0M558.1 309.8h0M551.6 309.1h0M513.1 311.1h0" stroke="#008afa" stroke-width="1.7" stroke-linecap="round" fill="none" />
<path d="M516.4 312.3h0M528.5 309.5h0M515.3 314.9h0" stroke="#177df5" stroke-width="1.7" stroke-linecap="round" fill="none" />
<path d="M515.3 309.2h0M513.5 312.5h0M516.7 307.9h0" stroke="#2f71f0" stroke-width="1.7" stroke-linecap="round" fill="none" />
<path d="M514.6 310.8h0M518.9 309.7h0M516.8 310h0M519.4 309.1h0M521.4 309.6h0" stroke="#4664ec" stroke-width="1.7" stroke-linecap="round" fill="none" />
<path d="M515 305.2h0" stroke="#764ce3" stroke-width="1.7" stroke-linecap="round" fill="none" />
<path d="M503.9 309.5h0M508.3 311.1h0M498.6 309.8h0M514.1 307.2h0M508.3 310h0M504.2 309.7h0" stroke="#8d3fd5" stroke-width="1.7" stroke-linecap="round" fill="none" />
<path d="M515.5 309.5h0M513.2 310.3h0M513.6 313.7h0" stroke="#ba26a8" stroke-width="1.7" stroke-linecap="round" fill="none" />
<path d="M509.7 309.4h0M514.4 310.9h0M517.9 308.5h0M514.5 309h0M514.3 308.1h0M513.4 313.7h0M518 309.6h0M513 310.7h0M514.6 313.6h0" stroke="#ff0064" stroke-width="1.7" stroke-linecap="round" fill="none" />
<path d="M561.7 309.1h0M512.7 309h0M515.3 307.9h0M515.5 306.1h0M554.4 309.7h0M543 311.1h0M498.8 309.5h0M513.5 314.6h0M539 310.3h0M545.6 310.3h0M544.9 309.1h0M554.4 310.8h0M561.6 311h0M515.4 313.5h0M569.1 310.1h0M549 310.9h0M538.5 309.6h0M543.4 309.7h0M515.6 306.3h0" stroke="#008afa" stroke-width="1.7" stroke-linecap="round" fill="none" />
<path d="M517 309h0M511.8 311.9h0" stroke="#177df5" stroke-width="1.7" stroke-linecap="round" fill="none" />
<path d="M521 310.9h0M520.1 309.9h0M525.5 310.9h0M522.3 310.2h0M521.4 309.9h0M517.6 309.8h0M529.5 309.5h0" stroke="#4664ec" stroke-width="1.7" stroke-linecap="round" fill="none" />
<path d="M512.6 306.9h0M517.3 311h0M515.9 314.4h0M513.9 307.5h0" stroke="#764ce3" stroke-width="1.7" stroke-linecap="round" fill="none" />
<path d="M500.1 309.2h0M510.3 309.9h0M498.3 309.4h0M500.1 310.6h0M499.7 309.5h0" stroke="#8d3fd5" stroke-width="1.7" stroke-linecap="round" fill="none" />
<path d="M515 311.6h0M514.5 306.2h0M514.4 310.2h0" stroke="#ba26a8" stroke-width="1.7" stroke-linecap="round" fill="none" />
<path d="M513.5 313h0M512.9 314.3h0M516.4 311.9h0M514.4 307.1h0M514 308.2h0" stroke="#ff0064" stroke-width="1.7" stroke-linecap="round" fill="none" />
<path d="M515.7 308.3h0M539.4 309.8h0M544.8 309.2h0M512.2 313h0M570.2 309.1h0M551.2 309.6h0M551.1 310.1h0M556.9 309.4h0M532 309.8h0M510.4 311.3h0M513.6 309.4h0M544.8 310.1h0M513.6 310.9h0M537.3 309.4h0" stroke="#008afa" stroke-width="1.7" stroke-linecap="round" fill="none" />
<path d="M505 309.5h0M522.3 310.5h0M514.2 309h0" stroke="#177df5" stroke-width="1.7" stroke-linecap="round" fill="none" />
<path d="M514.9 309.2h0" stroke="#2f71f0" stroke-width="1.7" stroke-linecap="round" fill="none" />
<path d="M528.5 311h0M518.5 310.1h0M521.6 310.9h0M522.5 310.6h0M527.2 310.9h0M516 309.9h0M501.6 309.7h0M530 310.4h0" stroke="#4664ec" stroke-width="1.7" stroke-linecap="round" fill="none" />
<path d="M514.6 308.4h0M517.3 308.9h0" stroke="#764ce3" stroke-width="1.7" stroke-linecap="round" fill="none" />
<path d="M503.5 309.9h0M511.1 310.2h0M497.1 310.9h0M505.2 310.6h0M496.8 310.9h0M500.3 310.7h0M503.6 309.9h0M498.5 310.6h0M505.8 311.2h0" stroke="#8d3fd5" stroke-width="1.7" stroke-linecap="round" fill="none" />
<path d="M515 306.6h0M513.9 314.5h0M514.1 305h0M513.7 313.4h0M514.9 306.5h0" stroke="#ba26a8" stroke-width="1.7" stroke-linecap="round" fill="none" />
<path d="M513.7 311.3h0M514.9 314.7h0M515.2 308.5h0" stroke="#ff0064" stroke-width="1.7" stroke-linecap="round" fill="none" />
<path d="M554 309.9h0M568.7 310.3h0M538.3 309.3h0M517.8 311.9h0M533.5 309.6h0M545.3 309.5h0M542.6 309.4h0M514.9 309.8h0M552.9 310h0M570.8 310.3h0M537 310.2h0M514.7 309.3h0M532.1 309.4h0M515.9 310.1h0M538.5 309.3h0M566.5 311.1h0M512.5 308.2h0" stroke="#008afa" stroke-width="1.7" stroke-linecap="round" fill="none" />
<path d="M514.7 308.2h0M515.2 305.8h0" stroke="#177df5" stroke-width="1.7" stroke-linecap="round" fill="none" />
<path d="M516.4 311.2h0M513.3 313.7h0" stroke="#2f71f0" stroke-width="1.7" stroke-linecap="round" fill="none" />
<path d="M524 310.7h0M522.4 309.6h0M516 309.7h0M515.8 311h0M523.1 309.7h0" stroke="#4664ec" stroke-width="1.7" stroke-linecap="round" fill="none" />
<path d="M500.7 310.7h0" stroke="#5e58e7" stroke-width="1.7" stroke-linecap="round" fill="none" />
<path d="M514.4 313.8h0M512.1 312.4h0M515.4 314.2h0" stroke="#764ce3" stroke-width="1.7" stroke-linecap="round" fill="none" />
<path d="M514.1 305.8h0M498 310.9h0M512.4 309.1h0M508.6 309.2h0M503.3 309.7h0M503.8 310.4h0" stroke="#8d3fd5" stroke-width="1.7" stroke-linecap="round" fill="none" />
<path d="M514.2 305.3h0M514.7 305.4h0M513.1 313.6h0" stroke="#ba26a8" stroke-width="1.7" stroke-linecap="round" fill="none" />
<path d="M514.6 310.5h0M512 309.2h0M519.4 310.3h0M513.7 313.9h0M513.2 306.1h0M514 308.1h0" stroke="#ff0064" stroke-width="1.7" stroke-linecap="round" fill="none" />
<path d="M511.5 312.3h0M566.9 309.4h0M541.5 310.1h0M513.3 312.3h0M559.5 309.8h0M531.4 310h0M538.6 309.6h0" stroke="#008afa" stroke-width="1.7" stroke-linecap="round" fill="none" />
<path d="M517.8 310.7h0" stroke="#177df5" stroke-width="1.7" stroke-linecap="round" fill="none" />
<path d="M513 314.5h0" stroke="#2f71f0" stroke-width="1.7" stroke-linecap="round" fill="none" />
<path d="M518.2 309.7h0" stroke="#4664ec" stroke-width="1.7" stroke-linecap="round" fill="none" />
<path d="M503.8 310h0M514.5 312.6h0M512.3 307h0" stroke="#8d3fd5" stroke-width="1.7" stroke-linecap="round" fill="none" />
<path d="M516.9 310.5h0" stroke="#ba26a8" stroke-width="1.7" stroke-linecap="round" fill="none" />
<path d="M509 310.4h0" stroke="#ff0064" stroke-width="1.7" stroke-linecap="round" fill="none" />
<path d="M553.5 323.4h0M556.2 324h0M544.8 322.6h0M539.5 323.9h0M557.6 323.3h0M514.9 321.6h0M531.4 323.5h0M515 326.3h0M559.8 322.6h0M540.6 322.5h0M514.2 325.1h0M514 318.2h0M542.1 324.3h0M556.5 322.8h0M550.9 324.3h0M564.5 322.6h0M538 323h0M560.5 322.6h0" stroke="#008afa" stroke-width="1.7" stroke-linecap="round" fill="none" />
<path d="M513.4 328.3h0M514.4 328.2h0" stroke="#177df5" stroke-width="1.7" stroke-linecap="round" fill="none" />
<path d="M521.8 324h0M513.6 318.4h0" stroke="#2f71f0" stroke-width="1.7" stroke-linecap="round" fill="none" />
<path d="M525.2 324h0M518.5 322.2h0M517.2 323.9h0M514.8 323.5h0M522.1 324.2h0M526.1 324.3h0M521 322.3h0M526.5 323.8h0" stroke="#4664ec" stroke-width="1.7" stroke-linecap="round" fill="none" />
<path d="M513.3 322.5h0M512.7 326.8h0M513.9 327.8h0" stroke="#764ce3" stroke-width="1.7" stroke-linecap="round" fill="none" />
<path d="M509.1 323.2h0" stroke="#8d3fd5" stroke-width="1.7" stroke-linecap="round" fill="none" />
<path d="M514.1 319.5h0M513.5 326.6h0M516.9 321.8h0M515.7 319.7h0M509.9 324.1h0M514.3 324h0M510.9 321.6h0M512 322.1h0M515.2 322.2h0M514.2 326.3h0M515 327.9h0" stroke="#ff0064" stroke-width="1.7" stroke-linecap="round" fill="none" />
<path d="M537.9 322.6h0M546.6 322.9h0M530.7 322.6h0M535 324.1h0M515.2 323.1h0M514.6 322.7h0M548 323.2h0M544.3 322.5h0M548 324.1h0M560.9 322.7h0M544.5 324.1h0M531.3 322.9h0M514.9 324h0M547 323h0M524.4 322.3h0" stroke="#008afa" stroke-width="1.7" stroke-linecap="round" fill="none" />
<path d="M512.5 325.3h0M517.7 324h0" stroke="#177df5" stroke-width="1.7" stroke-linecap="round" fill="none" />
<path d="M512.7 324.2h0M512.4 326.3h0M521.5 322.9h0M514.1 328.3h0M521.3 322.9h0" stroke="#2f71f0" stroke-width="1.7" stroke-linecap="round" fill="none" />
<path d="M505.3 324.2h0M524 323.9h0M518.7 323h0M520.1 323h0M523.1 323.1h0M525.6 323.3h0M520.4 323.6h0" stroke="#4664ec" stroke-width="1.7" stroke-linecap="round" fill="none" />
<path d="M516.4 324.1h0" stroke="#764ce3" stroke-width="1.7" stroke-linecap="round" fill="none" />
<path d="M513.6 320h0M510.2 324.4h0M511.4 323.4h0" stroke="#8d3fd5" stroke-width="1.7" stroke-linecap="round" fill="none" />
<path d="M511.5 324.2h0" stroke="#a432be" stroke-width="1.7" stroke-linecap="round" fill="none" />
<path d="M513 319.7h0M515 319.2h0" stroke="#ba26a8" stroke-width="1.7" stroke-linecap="round" fill="none" />
<path d="M514.5 319.8h0M513.3 321h0M513.2 318.8h0M512.5 319.2h0M517 324.3h0M511.5 322.8h0M514.5 327.6h0M511.7 325.4h0M512.7 323.6h0" stroke="#ff0064" stroke-width="1.7" stroke-linecap="round" fill="none" />
<path d="M513.1 325.2h0M555.1 323.1h0M536.8 323.3h0M514.6 320.9h0M564.4 322.3h0M515.1 319.8h0M544.7 322.4h0M542.7 323.6h0M516.5 325.4h0M540.1 323.1h0M542.4 324.2h0M559 322.6h0M557.3 323h0M557.8 323.6h0M559 324h0M539 322.4h0" stroke="#008afa" stroke-width="1.7" stroke-linecap="round" fill="none" />
<path d="M511.4 321.6h0M514 319.8h0" stroke="#177df5" stroke-width="1.7" stroke-linecap="round" fill="none" />
<path d="M513.9 323.4h0M514 328.3h0M513.9 320.1h0M516 321.6h0" stroke="#2f71f0" stroke-width="1.7" stroke-linecap="round" fill="none" />
<path d="M524.9 323.2h0M523.3 324.1h0M525.2 324.1h0M524.7 323.2h0M522 322.5h0M516.5 322.6h0M521.6 324.3h0M518 324.4h0" stroke="#4664ec" stroke-width="1.7" stroke-linecap="round" fill="none" />
<path d="M514.7 327.4h0" stroke="#764ce3" stroke-width="1.7" stroke-linecap="round" fill="none" />
<path d="M515.6 326.8h0M513.8 326h0M512.2 324.5h0M514.2 322.2h0M513.4 323.9h0M507.5 324.3h0M510.2 323.9h0" stroke="#8d3fd5" stroke-width="1.7" stroke-linecap="round" fill="none" />
<path d="M506.2 324.3h0" stroke="#a432be" stroke-width="1.7" stroke-linecap="round" fill="none" />
<path d="M513.6 327.1h0M512.8 327.6h0M511.5 322.4h0M513 318.9h0M512.9 324.5h0M514.1 327.1h0" stroke="#ff0064" stroke-width="1.7" stroke-linecap="round" fill="none" />
<path d="M514.1 318.4h0M515.1 319.8h0M555.4 322.9h0M532 323.9h0M514.1 323.2h0M550.9 323.3h0M541.5 322.7h0M545.6 323.8h0M547.6 322.2h0M537.1 322.2h0M562.5 324.1h0M534.7 322.3h0M510.8 321.9h0M540.8 322.8h0M531.1 323h0M560.1 322.4h0M513 324h0M542 322.6h0" stroke="#008afa" stroke-width="1.7" stroke-linecap="round" fill="none" />
<path d="M512.1 325.5h0M513.1 318.6h0M516.2 321.1h0M514.4 327.1h0" stroke="#177df5" stroke-width="1.7" stroke-linecap="round" fill="none" />
<path d="M513.8 318.2h0" stroke="#2f71f0" stroke-width="1.7" stroke-linecap="round" fill="none" />
<path d="M526.7 322.9h0M517.1 323h0M514.9 323h0" stroke="#4664ec" stroke-width="1.7" stroke-linecap="round" fill="none" />
<path d="M514.3 321.4h0M514.2 325.9h0M514.3 328.1h0M514.6 327.8h0M512.6 322.3h0" stroke="#764ce3" stroke-width="1.7" stroke-linecap="round" fill="none" />
<path d="M512.3 320.9h0M516.4 325.5h0" stroke="#8d3fd5" stroke-width="1.7" stroke-linecap="round" fill="none" />
<path d="M510.3 324h0M508.1 322.9h0" stroke="#a432be" stroke-width="1.7" stroke-linecap="round" fill="none" />
<path d="M514.1 324.9h0M515.6 325.3h0" stroke="#ba26a8" stroke-width="1.7" stroke-linecap="round" fill="none" />
<path d="M512.6 325.2h0M511 321.5h0M512.7 320.4h0M512.2 326.7h0M513 321.3h0M516.8 321.7h0M514.9 320.6h0M512.5 327.5h0" stroke="#ff0064" stroke-width="1.7" stroke-linecap="round" fill="none" />
<path d="M561.6 323.1h0M515 327.6h0M535.5 323.1h0M552 324.1h0M512.5 319.1h0M559.3 323.9h0M536.2 323.1h0M516 324.9h0M556.9 322.8h0M534.2 323.1h0M539.7 323.7h0M551 323.3h0M513.6 323.1h0M559.2 322.2h0M513.4 326.4h0M545.8 324.2h0M539.2 322.8h0M556.4 322.2h0M515.3 322.8h0M515.1 323.5h0M553.9 322.2h0" stroke="#008afa" stroke-width="1.7" stroke-linecap="round" fill="none" />
<path d="M512.9 321.7h0M512.7 319.3h0" stroke="#177df5" stroke-width="1.7" stroke-linecap="round" fill="none" />
<path d="M516.5 324.5h0M513.8 319.3h0M524.8 323.1h0M509.6 323.9h0" stroke="#2f71f0" stroke-width="1.7" stroke-linecap="round" fill="none" />
<path d="M520.9 323.7h0M526.1 323.2h0M524.7 322.6h0M522.8 322.4h0" stroke="#4664ec" stroke-width="1.7" stroke-linecap="round" fill="none" />
<path d="M514.3 323.8h0M512.7 325.5h0" stroke="#764ce3" stroke-width="1.7" stroke-linecap="round" fill="none" />
<path d="M515.2 326.1h0" stroke="#8d3fd5" stroke-width="1.7" stroke-linecap="round" fill="none" />
<path d="M506.9 322.9h0" stroke="#a432be" stroke-width="1.7" stroke-linecap="round" fill="none" />
<path d="M514 319.2h0M516.4 321h0" stroke="#ba26a8" stroke-width="1.7" stroke-linecap="round" fill="none" />
<path d="M514.9 323.7h0M512.9 323.4h0M510.8 325.3h0M513.9 319.8h0M514.3 322.4h0M512.4 318.9h0M515.5 323.9h0M517 324.1h0" stroke="#ff0064" stroke-width="1.7" stroke-linecap="round" fill="none" />
<path d="M548.2 322.7h0M542.1 324.2h0M550.2 322.3h0M538.3 323.3h0M543.8 323.6h0M560.8 322.2h0M511.3 321.4h0" stroke="#008afa" stroke-width="1.7" stroke-linecap="round" fill="none" />
<path d="M519.5 323.9h0" stroke="#2f71f0" stroke-width="1.7" stroke-linecap="round" fill="none" />
<path d="M517.2 324.2h0" stroke="#4664ec" stroke-width="1.7" stroke-linecap="round" fill="none" />
<path d="M515 322h0M512.7 320.6h0" stroke="#8d3fd5" stroke-width="1.7" stroke-linecap="round" fill="none" />
<path d="M505.8 322.3h0M509.1 323.5h0" stroke="#a432be" stroke-width="1.7" stroke-linecap="round" fill="none" />
<path d="M512.4 322.3h0M514.1 327.7h0" stroke="#ba26a8" stroke-width="1.7" stroke-linecap="round" fill="none" />
<path d="M515.1 324.5h0M513.7 321.4h0M515.9 320.6h0M514.9 319.6h0" stroke="#ff0064" stroke-width="1.7" stroke-linecap="round" fill="none" />
<path d="M543.7 337.1h0M516.5 336.4h0M515.5 335.5h0M542.5 337.3h0M518.4 335.9h0M517.1 336.2h0M514.6 335.9h0M529.3 336.6h0M512.5 335.8h0M542.1 337.4h0M545 335.7h0M540.7 337.5h0M514.7 337h0M524.9 337h0M516.3 336.3h0M534.1 336.9h0M539.1 337.1h0M515.3 338.7h0M531 337.1h0M521.2 335.7h0M522.2 337.4h0" stroke="#008afa" stroke-width="1.7" stroke-linecap="round" fill="none" />
<path d="M497.9 335.7h0M500 336.3h0M497 337.4h0M509.5 337.5h0M508.1 336.5h0M505.4 335.6h0M506.2 336.8h0M513.9 337.1h0M495.7 336.6h0M514.5 336.9h0M516 338h0M512.3 337.7h0" stroke="#177df5" stroke-width="1.7" stroke-linecap="round" fill="none" />
<path d="M511.1 336.3h0" stroke="#764ce3" stroke-width="1.7" stroke-linecap="round" fill="none" />
<path d="M513 336.5h0M513.1 335.4h0M516.2 336.7h0M511.6 334.1h0" stroke="#8d3fd5" stroke-width="1.7" stroke-linecap="round" fill="none" />
<path d="M514.7 332.9h0M515.2 334.7h0" stroke="#ba26a8" stroke-width="1.7" stroke-linecap="round" fill="none" />
<path d="M511.8 333.5h0M510.4 335.4h0M514.6 338.7h0M509.1 336.5h0M512.6 337.7h0" stroke="#ff0064" stroke-width="1.7" stroke-linecap="round" fill="none" />
<path d="M512.9 338.2h0M531 337.5h0M524.2 337.1h0M515.2 336h0M547 336h0M517.7 337.5h0M532.7 336h0M511.9 335.2h0M535.3 336.8h0M532.2 337.2h0M526.4 337.5h0M529.3 336h0M521.6 337.2h0M539.1 336.3h0M523.1 336.4h0M529.2 337.3h0M514.7 333h0M516.4 336.1h0" stroke="#008afa" stroke-width="1.7" stroke-linecap="round" fill="none" />
<path d="M495.8 337.3h0M513.4 335.4h0M515.9 338.8h0M517.7 337.2h0M506.7 336.7h0M509.3 336.7h0M500.9 337.5h0M502.5 337.4h0" stroke="#177df5" stroke-width="1.7" stroke-linecap="round" fill="none" />
<path d="M513.2 341.2h0" stroke="#2f71f0" stroke-width="1.7" stroke-linecap="round" fill="none" />
<path d="M513 336.6h0M512.4 333.8h0" stroke="#764ce3" stroke-width="1.7" stroke-linecap="round" fill="none" />
<path d="M513.4 339.8h0" stroke="#8d3fd5" stroke-width="1.7" stroke-linecap="round" fill="none" />
<path d="M512.4 340.3h0M513.2 335.9h0M513.6 335h0" stroke="#ba26a8" stroke-width="1.7" stroke-linecap="round" fill="none" />
<path d="M515.6 337.4h0M511.4 338.5h0M514.7 331.8h0M513.2 339.7h0M511.9 333.1h0M513.4 341.2h0M513.2 332.1h0M514.5 333.3h0M513.1 340.7h0M513.7 339.9h0M514.7 338.8h0M515.3 340.1h0" stroke="#ff0064" stroke-width="1.7" stroke-linecap="round" fill="none" />
<path d="M520.6 336.5h0M514.5 333.9h0M514.6 336.2h0M535.7 337.4h0M543.6 335.5h0M527.7 336.1h0M492.9 336.2h0M510 336h0M544.9 337.6h0M528.5 337.4h0M516.5 336h0M532.9 335.8h0M514.7 339.1h0M522.1 336h0" stroke="#008afa" stroke-width="1.7" stroke-linecap="round" fill="none" />
<path d="M507.7 336.8h0M495.5 335.4h0M508.9 336.1h0M498 335.6h0M502.2 337.4h0M494.1 336.5h0M511.8 333.7h0" stroke="#177df5" stroke-width="1.7" stroke-linecap="round" fill="none" />
<path d="M515.7 334.6h0M517.5 336.8h0M515.4 335.5h0" stroke="#2f71f0" stroke-width="1.7" stroke-linecap="round" fill="none" />
<path d="M515.4 334.4h0M513.7 341.8h0M515.4 336.8h0M514.6 333.6h0M516.9 336.5h0" stroke="#764ce3" stroke-width="1.7" stroke-linecap="round" fill="none" />
<path d="M512.9 337h0M514.1 340.5h0M511.7 335.6h0M513.2 332.9h0" stroke="#8d3fd5" stroke-width="1.7" stroke-linecap="round" fill="none" />
<path d="M514.2 341.3h0M516.7 335.3h0M515.2 335.6h0M513 335.5h0" stroke="#ba26a8" stroke-width="1.7" stroke-linecap="round" fill="none" />
<path d="M512 338.1h0M513.7 339.1h0M510.4 335.2h0M516.7 335.2h0M515.1 333.5h0M514.3 336.3h0M514.4 340.5h0M510.6 337.6h0" stroke="#ff0064" stroke-width="1.7" stroke-linecap="round" fill="none" />
<path d="M517.8 336.3h0M513.3 340.2h0M535.9 336.3h0M544.7 337.3h0M534.3 336.4h0M524.6 337.4h0M533.7 336h0M536.2 335.9h0M519.5 337.1h0M518.5 336.3h0M544.8 336h0M512 336.3h0M511.3 338h0M529 336.1h0M515 334.4h0M515.6 337h0M536.2 335.5h0M525.3 336.8h0M494.7 337h0M526.7 336.2h0" stroke="#008afa" stroke-width="1.7" stroke-linecap="round" fill="none" />
<path d="M504.8 336h0M493.2 336.6h0M509.9 336.9h0M499.7 337.3h0M504.1 335.7h0M503.1 335.6h0M497 336.6h0M501.3 335.9h0M513.1 341.4h0" stroke="#177df5" stroke-width="1.7" stroke-linecap="round" fill="none" />
<path d="M515.6 337.8h0" stroke="#2f71f0" stroke-width="1.7" stroke-linecap="round" fill="none" />
<path d="M515.5 333.4h0M513.1 341.1h0" stroke="#764ce3" stroke-width="1.7" stroke-linecap="round" fill="none" />
<path d="M512.7 341.2h0" stroke="#8d3fd5" stroke-width="1.7" stroke-linecap="round" fill="none" />
<path d="M511.8 333.9h0M512.7 334.5h0M514 333h0" stroke="#ba26a8" stroke-width="1.7" stroke-linecap="round" fill="none" />
<path d="M514.2 333h0M513.4 331.3h0M513.2 340.1h0M513.8 338.2h0M513.1 333.8h0M516 335.3h0M513.5 334.5h0M512.6 332.9h0M513.6 333.4h0" stroke="#ff0064" stroke-width="1.7" stroke-linecap="round" fill="none" />
<path d="M514.6 332.1h0M548.6 336.4h0M527.2 337.1h0M514.4 338.4h0M539.9 336.5h0M537.3 337.1h0M544.9 337.4h0M537 337.4h0M538 336.9h0M541 337.3h0M550.5 335.6h0M518.3 337.1h0M520.7 337h0M536 335.8h0M534.9 336.1h0M529.7 336.5h0M539.7 336.4h0M541.4 336.4h0M523 336h0" stroke="#008afa" stroke-width="1.7" stroke-linecap="round" fill="none" />
<path d="M514.1 332.8h0M507.7 336.7h0M498.5 337.4h0M498.7 336.2h0M500.1 337h0M500.3 337h0M496.6 335.5h0M495.4 335.4h0M505.8 336.4h0" stroke="#177df5" stroke-width="1.7" stroke-linecap="round" fill="none" />
<path d="M513.3 339.9h0M516.4 336.7h0" stroke="#8d3fd5" stroke-width="1.7" stroke-linecap="round" fill="none" />
<path d="M514.4 337.9h0" stroke="#ba26a8" stroke-width="1.7" stroke-linecap="round" fill="none" />
<path d="M516.3 336.7h0M513.6 337h0M513.1 337.6h0M514.6 334.1h0M513.8 333.8h0M513.2 335.9h0M513.2 337.5h0M513.8 334.4h0M513.7 337.5h0M513.4 339.1h0M512.2 332.8h0M515.3 339.5h0M513.9 331.8h0M513.3 336.2h0" stroke="#ff0064" stroke-width="1.7" stroke-linecap="round" fill="none" />
<path d="M543.8 335.9h0M520.3 337.4h0M547.5 335.6h0M549.5 336.2h0M546.8 337.2h0M540.5 335.5h0M539 335.7h0M527.8 335.6h0M550.9 335.9h0" stroke="#008afa" stroke-width="1.7" stroke-linecap="round" fill="none" />
<path d="M496.6 337.1h0M502.1 335.8h0" stroke="#177df5" stroke-width="1.7" stroke-linecap="round" fill="none" />
<path d="M513.8 334.2h0" stroke="#2f71f0" stroke-width="1.7" stroke-linecap="round" fill="none" />
<path d="M516 336.9h0" stroke="#8d3fd5" stroke-width="1.7" stroke-linecap="round" fill="none" />
<path d="M512.8 340.1h0M513.2 333.3h0" stroke="#ff0064" stroke-width="1.7" stroke-linecap="round" fill="none" />
<path d="M515.2 351.3h0M519.1 349.7h0M515.3 351.7h0M514.4 353.7h0M521.9 350.1h0M515.8 349.2h0M524.9 349.1h0M534 348.6h0M529.7 350.4h0M523.7 349.5h0M520 348.9h0M540.8 348.9h0M545.4 350.7h0M543.8 349.4h0M522 350.3h0M514.9 353.2h0M524.2 349.2h0M516.2 347.1h0M532.3 348.6h0" stroke="#008afa" stroke-width="1.7" stroke-linecap="round" fill="none" />
<path d="M515 347.8h0M514.4 346.6h0M515.6 346.6h0" stroke="#177df5" stroke-width="1.7" stroke-linecap="round" fill="none" />
<path d="M494.7 350.5h0M514.5 344.9h0M505.8 350.3h0" stroke="#2f71f0" stroke-width="1.7" stroke-linecap="round" fill="none" />
<path d="M499.1 348.8h0M500.1 349h0M511.2 349.7h0M499.3 350.5h0M507.1 349.1h0M509.1 349.5h0" stroke="#5e58e7" stroke-width="1.7" stroke-linecap="round" fill="none" />
<path d="M513.5 351.7h0M518.6 349.1h0" stroke="#764ce3" stroke-width="1.7" stroke-linecap="round" fill="none" />
<path d="M512.7 352.6h0M514.5 354.6h0M512.1 349.9h0M516.3 349.4h0" stroke="#8d3fd5" stroke-width="1.7" stroke-linecap="round" fill="none" />
<path d="M516 348.3h0M515.3 347.8h0M514.8 353.8h0" stroke="#ba26a8" stroke-width="1.7" stroke-linecap="round" fill="none" />
<path d="M513.2 348.7h0M516.6 352.5h0M513 350.6h0M514.7 353.8h0M514.9 347.5h0" stroke="#ff0064" stroke-width="1.7" stroke-linecap="round" fill="none" />
<path d="M524.3 349.7h0M515.7 350.5h0M517 350.3h0M541.5 350.7h0M540.8 348.7h0M532.2 349.5h0M529 348.7h0M516.8 350.6h0M514.9 351.5h0M516.1 348.8h0M512.7 352.9h0M543.4 350.6h0M541.8 350.6h0M518.6 349.5h0M516.7 350.6h0M523 348.6h0M501.2 349.5h0M515.6 346.4h0" stroke="#008afa" stroke-width="1.7" stroke-linecap="round" fill="none" />
<path d="M500.6 349.4h0M499.2 349.1h0M516.9 348.3h0M515.5 347.6h0" stroke="#2f71f0" stroke-width="1.7" stroke-linecap="round" fill="none" />
<path d="M494 348.9h0" stroke="#4664ec" stroke-width="1.7" stroke-linecap="round" fill="none" />
<path d="M494.8 348.9h0M498.4 349h0M494 350.1h0M505 349.7h0M496.8 349h0M506.6 349.2h0M495.4 349.8h0M508.3 349.6h0" stroke="#5e58e7" stroke-width="1.7" stroke-linecap="round" fill="none" />
<path d="M511.7 347.5h0M517.6 349.4h0M517.7 348.4h0M514.2 344.7h0" stroke="#764ce3" stroke-width="1.7" stroke-linecap="round" fill="none" />
<path d="M514.9 349.1h0" stroke="#8d3fd5" stroke-width="1.7" stroke-linecap="round" fill="none" />
<path d="M514.9 347.6h0M515.5 345h0M512.8 351.4h0M514 348.4h0" stroke="#ba26a8" stroke-width="1.7" stroke-linecap="round" fill="none" />
<path d="M514.3 345.2h0M513.4 345.3h0M515.3 348.8h0M512.6 346.5h0M515.2 345h0" stroke="#ff0064" stroke-width="1.7" stroke-linecap="round" fill="none" />
<path d="M515.6 345.4h0M541.7 350.5h0M519.7 350.1h0M516 347.4h0M527.5 350.1h0M528.1 350.3h0M525.5 349.8h0M534.1 349.2h0M537.2 349.6h0M536.8 350.2h0M512.7 347.1h0M542 348.6h0M531.6 348.9h0M521.3 349.7h0M514.2 351.6h0M529 350.6h0M518.1 349.3h0M538 350h0" stroke="#008afa" stroke-width="1.7" stroke-linecap="round" fill="none" />
<path d="M512.4 347.5h0M515.6 349.3h0M513.1 349.2h0M515.3 352.8h0" stroke="#177df5" stroke-width="1.7" stroke-linecap="round" fill="none" />
<path d="M513.6 344.7h0M507.3 349.2h0M517.3 349.7h0M516.6 351.8h0" stroke="#2f71f0" stroke-width="1.7" stroke-linecap="round" fill="none" />
<path d="M499.3 350.5h0M509.9 348.8h0M507.8 350.3h0" stroke="#5e58e7" stroke-width="1.7" stroke-linecap="round" fill="none" />
<path d="M515.9 348h0M512.8 352.2h0M513.1 354h0" stroke="#764ce3" stroke-width="1.7" stroke-linecap="round" fill="none" />
<path d="M517.3 349.9h0M514.2 351.5h0" stroke="#8d3fd5" stroke-width="1.7" stroke-linecap="round" fill="none" />
<path d="M512.7 350.8h0M515.4 347.6h0M516.4 353.1h0" stroke="#ba26a8" stroke-width="1.7" stroke-linecap="round" fill="none" />
<path d="M513.9 346.9h0M514.2 346.3h0M514.3 353.2h0M513.6 347.8h0M512.3 350.9h0M515.4 350.5h0M515 353.4h0M517.6 348.8h0" stroke="#ff0064" stroke-width="1.7" stroke-linecap="round" fill="none" />
<path d="M515.9 348.1h0M531.5 349.6h0M528.6 349.5h0M525.8 349.8h0M525.8 349.9h0M537.8 350.3h0M521.3 349.5h0M534.2 349.3h0M517.6 348.7h0M530 350.3h0M515.8 354h0M528.6 349.8h0M524.9 349.4h0M516.8 349.7h0M544.3 348.8h0M542.1 348.8h0M531.8 350.7h0M541.8 349.8h0M526.5 348.8h0M543.8 350.2h0M521.3 348.6h0M539.9 350h0M534.2 349.3h0M534.5 349.3h0" stroke="#008afa" stroke-width="1.7" stroke-linecap="round" fill="none" />
<path d="M514.3 352.5h0M495.3 350h0M514 348.2h0" stroke="#177df5" stroke-width="1.7" stroke-linecap="round" fill="none" />
<path d="M496.1 350.4h0M500.8 349.4h0" stroke="#5e58e7" stroke-width="1.7" stroke-linecap="round" fill="none" />
<path d="M515.8 350.1h0M513.9 346.5h0M514 352.1h0" stroke="#764ce3" stroke-width="1.7" stroke-linecap="round" fill="none" />
<path d="M513.9 352h0" stroke="#8d3fd5" stroke-width="1.7" stroke-linecap="round" fill="none" />
<path d="M517.4 347.9h0M516.4 350.1h0M512.7 348.4h0" stroke="#ba26a8" stroke-width="1.7" stroke-linecap="round" fill="none" />
<path d="M515.4 346.2h0M514.1 353.3h0M513.2 346.9h0M513.9 346.8h0M514.3 349.9h0M514.9 346.9h0M513 350.7h0M514.1 347.3h0M516.1 352.6h0" stroke="#ff0064" stroke-width="1.7" stroke-linecap="round" fill="none" />
<path d="M532.4 349.8h0M529.8 350.5h0M513.8 351h0M538.9 349.6h0M515.2 350.1h0M515.4 350.9h0M518.2 350.3h0M537.3 349.4h0M519.9 348.9h0M545.2 349.9h0M541 350.4h0M531.6 349.3h0M530.8 348.7h0M552.5 349.4h0M514.5 351.7h0M514 348h0" stroke="#008afa" stroke-width="1.7" stroke-linecap="round" fill="none" />
<path d="M514.5 347.6h0M516.8 352.1h0" stroke="#177df5" stroke-width="1.7" stroke-linecap="round" fill="none" />
<path d="M507.9 350.7h0M515.2 350.3h0M514 353.8h0" stroke="#2f71f0" stroke-width="1.7" stroke-linecap="round" fill="none" />
<path d="M499.3 349.3h0M498.8 349.3h0" stroke="#5e58e7" stroke-width="1.7" stroke-linecap="round" fill="none" />
<path d="M513.8 349h0M513.4 352.1h0M514.6 351.7h0M517.4 348.9h0" stroke="#764ce3" stroke-width="1.7" stroke-linecap="round" fill="none" />
<path d="M514.5 344.9h0M515.6 352.9h0M515.9 349h0" stroke="#ba26a8" stroke-width="1.7" stroke-linecap="round" fill="none" />
<path d="M516.2 349.3h0M516.1 350.8h0M513.2 354.2h0M511.4 348.6h0M514.5 345.7h0M513.6 347.9h0M517.2 349.5h0M513.8 350.8h0M513.4 351.5h0M516.2 351.8h0M515.3 347h0" stroke="#ff0064" stroke-width="1.7" stroke-linecap="round" fill="none" />
<path d="M512 363h0M516.9 363.8h0M519.8 362.9h0M512.5 366.2h0M516.8 363h0M513 358.3h0M514.9 367.2h0M528.4 362.6h0M529.4 362.7h0M535 361.9h0M526.2 363.9h0M533.7 362.3h0M528.2 363.2h0M528.6 361.8h0M526.3 363.3h0M521.1 363.7h0M512.1 363.1h0M515.2 364.3h0M533.6 363.2h0M524.7 361.9h0" stroke="#008afa" stroke-width="1.7" stroke-linecap="round" fill="none" />
<path d="M513.2 360.4h0" stroke="#177df5" stroke-width="1.7" stroke-linecap="round" fill="none" />
<path d="M513.9 363.3h0M516.7 363.8h0" stroke="#2f71f0" stroke-width="1.7" stroke-linecap="round" fill="none" />
<path d="M510.7 363.7h0M515.3 360.7h0M513.4 368.1h0M513.4 359.6h0" stroke="#764ce3" stroke-width="1.7" stroke-linecap="round" fill="none" />
<path d="M514.7 358.5h0M515.7 364.6h0M513.5 367h0M506.7 363h0M513.9 367.6h0" stroke="#8d3fd5" stroke-width="1.7" stroke-linecap="round" fill="none" />
<path d="M511.8 360h0" stroke="#ba26a8" stroke-width="1.7" stroke-linecap="round" fill="none" />
<path d="M508.2 363.8h0M505.2 362.3h0M505.3 361.8h0M505.6 363.3h0" stroke="#d11991" stroke-width="1.7" stroke-linecap="round" fill="none" />
<path d="M514.6 363.9h0M514.4 364h0M513.2 362.7h0M514.6 361h0M513.9 366.3h0M512.7 363.9h0M512.7 358.8h0M514.5 359.2h0" stroke="#ff0064" stroke-width="1.7" stroke-linecap="round" fill="none" />
<path d="M523.1 362.9h0M512 360.6h0M519.5 362.8h0M510.9 362.8h0M515.2 360.2h0M524.9 363.6h0M520.1 363.2h0M524.8 362.9h0M521.5 362.3h0M525.1 362.8h0M522.5 361.8h0M527.3 363.3h0M514.7 358.4h0M522.9 363.6h0M530.9 363.1h0M527.7 362.4h0M525 363.8h0M529.8 363.3h0M510.5 361.7h0M522.6 363.3h0M518.6 361.8h0M532.1 363.1h0" stroke="#008afa" stroke-width="1.7" stroke-linecap="round" fill="none" />
<path d="M514.2 363.8h0" stroke="#177df5" stroke-width="1.7" stroke-linecap="round" fill="none" />
<path d="M515.8 362.6h0" stroke="#2f71f0" stroke-width="1.7" stroke-linecap="round" fill="none" />
<path d="M515.2 363.8h0" stroke="#764ce3" stroke-width="1.7" stroke-linecap="round" fill="none" />
<path d="M511.5 363.6h0M515.8 363.5h0M512.5 359.5h0M512.7 361.6h0" stroke="#8d3fd5" stroke-width="1.7" stroke-linecap="round" fill="none" />
<path d="M512.8 365.6h0M513.7 364.9h0M511.5 365h0M512.7 362.8h0M514 364.8h0" stroke="#ba26a8" stroke-width="1.7" stroke-linecap="round" fill="none" />
<path d="M505 362.4h0" stroke="#d11991" stroke-width="1.7" stroke-linecap="round" fill="none" />
<path d="M511.6 362.6h0M513.3 365.4h0M512 359.4h0M515.1 365.1h0M514.9 366.7h0M515 365.2h0M513.2 364.6h0M514 367.8h0M515.2 360h0M512 362.9h0" stroke="#ff0064" stroke-width="1.7" stroke-linecap="round" fill="none" />
<path d="M531.4 363.6h0M521.7 362.5h0M517.6 361.9h0M519 363.2h0M513.1 367.2h0M519.7 363.8h0M529.8 361.9h0M517 362.8h0M515.5 365h0M518.5 362.2h0M514.7 365.4h0M527.6 362.3h0M520.1 363h0M514 366.9h0M527.7 362.8h0M519.2 363.6h0M513.3 364.6h0M515 362.2h0M515.2 359.8h0M525.3 361.8h0" stroke="#008afa" stroke-width="1.7" stroke-linecap="round" fill="none" />
<path d="M513.8 357.7h0M514.6 360h0" stroke="#177df5" stroke-width="1.7" stroke-linecap="round" fill="none" />
<path d="M515.8 363.7h0M513.3 364.1h0M514.3 365.8h0M513.7 357.9h0" stroke="#2f71f0" stroke-width="1.7" stroke-linecap="round" fill="none" />
<path d="M516.1 363.8h0" stroke="#764ce3" stroke-width="1.7" stroke-linecap="round" fill="none" />
<path d="M514.7 367.1h0M507.8 361.7h0M511.7 365.3h0M509.1 362.3h0M513.9 357.4h0M508.5 363.6h0" stroke="#8d3fd5" stroke-width="1.7" stroke-linecap="round" fill="none" />
<path d="M511.7 360.3h0" stroke="#ba26a8" stroke-width="1.7" stroke-linecap="round" fill="none" />
<path d="M509.4 363.5h0M505 362.6h0" stroke="#d11991" stroke-width="1.7" stroke-linecap="round" fill="none" />
<path d="M512.4 359.6h0M512.7 361.5h0M512.2 364.8h0M514.3 367.6h0M514.3 358.7h0M511.2 361.4h0M513.7 359.5h0M515.3 362.1h0M514.2 359.9h0" stroke="#ff0064" stroke-width="1.7" stroke-linecap="round" fill="none" />
<path d="M532.2 361.8h0M524.9 362.9h0M511.5 362.7h0M514.7 362.4h0M534 362.9h0M514.2 360.1h0M521.5 363.2h0M515.7 362.3h0" stroke="#008afa" stroke-width="1.7" stroke-linecap="round" fill="none" />
<path d="M515.4 363.8h0" stroke="#177df5" stroke-width="1.7" stroke-linecap="round" fill="none" />
<path d="M513.3 362.4h0" stroke="#2f71f0" stroke-width="1.7" stroke-linecap="round" fill="none" />
<path d="M514.1 359.7h0M515.7 365.9h0" stroke="#764ce3" stroke-width="1.7" stroke-linecap="round" fill="none" />
<path d="M515.9 361.3h0M514.2 364.5h0M510.6 362.6h0M512.7 364.7h0M505.7 363.7h0M507.1 362.9h0" stroke="#8d3fd5" stroke-width="1.7" stroke-linecap="round" fill="none" />
<path d="M515.8 364.1h0" stroke="#ba26a8" stroke-width="1.7" stroke-linecap="round" fill="none" />
<path d="M512.9 363.6h0M512.2 363.6h0M510.5 363.5h0M514.4 358.2h0M512.2 359.9h0M512.8 359.8h0" stroke="#ff0064" stroke-width="1.7" stroke-linecap="round" fill="none" />
<path d="M514.8 376.7h0M517.6 376.8h0M523.7 375.6h0M527.6 375h0M525.8 375h0M523.3 376.2h0M515.5 378.7h0M529.4 376.1h0M513.8 377.8h0M509.3 375.9h0M513.3 376.5h0M528.1 375.4h0M527.2 376.7h0M523.7 376.7h0M514.8 377.2h0M513.9 371.5h0M523.6 375.3h0M515.4 379.5h0M525.5 376h0M527.7 376.9h0M513.1 375.5h0M529 376.7h0M512.5 375.4h0M514.7 376.7h0M525.6 377h0" stroke="#008afa" stroke-width="1.7" stroke-linecap="round" fill="none" />
<path d="M514.5 377.2h0M514.7 377.5h0M510.1 376.1h0M514.9 372.9h0M507.7 375.7h0M513.6 380.5h0M512.9 379.1h0" stroke="#177df5" stroke-width="1.7" stroke-linecap="round" fill="none" />
<path d="M516.8 375.8h0M514 373.7h0M513.7 372.3h0M514.6 376.5h0M514.2 372.5h0" stroke="#2f71f0" stroke-width="1.7" stroke-linecap="round" fill="none" />
<path d="M513.2 371.7h0M515.4 373.2h0M514.7 370.7h0" stroke="#764ce3" stroke-width="1.7" stroke-linecap="round" fill="none" />
<path d="M514.9 374h0" stroke="#8d3fd5" stroke-width="1.7" stroke-linecap="round" fill="none" />
<path d="M513.8 373.5h0" stroke="#ba26a8" stroke-width="1.7" stroke-linecap="round" fill="none" />
<path d="M513.7 375.5h0M514.7 373.9h0M514 378.8h0" stroke="#ff0064" stroke-width="1.7" stroke-linecap="round" fill="none" />
<path d="M526.8 375.2h0M515.3 376.4h0M515.4 380h0M511.8 375.8h0M524.8 375.8h0M516.2 375.2h0M529.9 376.4h0M523.6 375.7h0M514.6 373.5h0M524.3 375h0M513.6 380.1h0M511.2 376.3h0M517 376.2h0M515.6 376.1h0M528.1 377.1h0M512 374.8h0M527.1 376.6h0M520 375.4h0M523.5 376.7h0M511.3 374.9h0M513.9 373.7h0M515.5 376.8h0M526.7 375.9h0M520.3 376.2h0" stroke="#008afa" stroke-width="1.7" stroke-linecap="round" fill="none" />
<path d="M509.6 375.6h0M511.1 376.7h0M506.9 375.7h0M511.8 376.9h0M514.3 378.9h0M515 376.2h0M510.8 376.3h0M510.6 375.6h0M507.8 375.2h0M508 375.9h0" stroke="#177df5" stroke-width="1.7" stroke-linecap="round" fill="none" />
<path d="M514.4 373.1h0M515.3 379.3h0" stroke="#2f71f0" stroke-width="1.7" stroke-linecap="round" fill="none" />
<path d="M514.2 380.5h0" stroke="#764ce3" stroke-width="1.7" stroke-linecap="round" fill="none" />
<path d="M516.5 376.5h0" stroke="#8d3fd5" stroke-width="1.7" stroke-linecap="round" fill="none" />
<path d="M515 375.4h0M517.5 376.2h0M513.7 376.7h0" stroke="#ba26a8" stroke-width="1.7" stroke-linecap="round" fill="none" />
<path d="M512.4 378h0M516.1 375.8h0M516.4 378h0M513.7 373.1h0" stroke="#ff0064" stroke-width="1.7" stroke-linecap="round" fill="none" />
<path d="M516 379.4h0M519.2 376.9h0M517.1 376.1h0M527.6 375h0M512.2 375.5h0M527.3 375h0M514 371.1h0M515.6 372.8h0M523.3 376.3h0M513.7 372.8h0M514.6 380.1h0M517.6 376.7h0M527.7 375.5h0M526.9 376.3h0M512.2 376.9h0M525.4 375.9h0M524.3 375.2h0M526.2 376h0M519.5 375.4h0M519.1 375.9h0M524 376.4h0M515.8 379.3h0M519.2 376.7h0" stroke="#008afa" stroke-width="1.7" stroke-linecap="round" fill="none" />
<path d="M513.2 378.8h0M507.8 376.8h0M509.9 375.1h0M515.2 375.3h0M508.5 376.1h0M513.2 376.3h0M514.5 370.6h0M514.8 376.3h0" stroke="#177df5" stroke-width="1.7" stroke-linecap="round" fill="none" />
<path d="M515.1 372.6h0M515.9 375.4h0M515.6 374.6h0M513.1 374.8h0M513.7 372.9h0M514 372.8h0M516.2 375.1h0" stroke="#2f71f0" stroke-width="1.7" stroke-linecap="round" fill="none" />
<path d="M514 374h0M512.8 373.2h0" stroke="#8d3fd5" stroke-width="1.7" stroke-linecap="round" fill="none" />
<path d="M514.1 372.5h0M514.8 375.9h0" stroke="#ba26a8" stroke-width="1.7" stroke-linecap="round" fill="none" />
<path d="M513.6 373.3h0M512.4 378.6h0M512.6 377.1h0" stroke="#ff0064" stroke-width="1.7" stroke-linecap="round" fill="none" />
<path d="M511.4 376.3h0" stroke="#008afa" stroke-width="1.7" stroke-linecap="round" fill="none" />
<path d="M515 380h0" stroke="#177df5" stroke-width="1.7" stroke-linecap="round" fill="none" />
<path d="M513.8 375.2h0M514.9 370.9h0" stroke="#764ce3" stroke-width="1.7" stroke-linecap="round" fill="none" />
<path d="M514.4 374.2h0" stroke="#ba26a8" stroke-width="1.7" stroke-linecap="round" fill="none" />
<line x1="477.6" y1="389.9" x2="647.4" y2="389.9" stroke="#555" stroke-width="0.8" />
<line x1="482.85" y1="389.9" x2="482.85" y2="392.2" stroke="#555" stroke-width="0.7" />
<text x="482.85" y="402.6" font-size="7.7" text-anchor="middle" fill="#231f20" font-weight="normal" >−0.05</text>
<line x1="514.4" y1="389.9" x2="514.4" y2="392.2" stroke="#555" stroke-width="0.7" />
<text x="514.4" y="402.6" font-size="7.7" text-anchor="middle" fill="#231f20" font-weight="normal" >0</text>
<line x1="545.95" y1="389.9" x2="545.95" y2="392.2" stroke="#555" stroke-width="0.7" />
<text x="545.95" y="402.6" font-size="7.7" text-anchor="middle" fill="#231f20" font-weight="normal" >0.05</text>
<line x1="577.5" y1="389.9" x2="577.5" y2="392.2" stroke="#555" stroke-width="0.7" />
<text x="577.5" y="402.6" font-size="7.7" text-anchor="middle" fill="#231f20" font-weight="normal" >0.10</text>
<line x1="609.05" y1="389.9" x2="609.05" y2="392.2" stroke="#555" stroke-width="0.7" />
<text x="609.05" y="402.6" font-size="7.7" text-anchor="middle" fill="#231f20" font-weight="normal" >0.15</text>
<line x1="640.6" y1="389.9" x2="640.6" y2="392.2" stroke="#555" stroke-width="0.7" />
<text x="640.6" y="402.6" font-size="7.7" text-anchor="middle" fill="#231f20" font-weight="normal" >0.20</text>
<text x="568.3" y="414.4" font-size="9.0" text-anchor="middle" fill="#231f20" font-weight="normal" >SHAP value impact on model output</text>
<defs><linearGradient id="shapg" x1="0" y1="0" x2="0" y2="1"><stop offset="0" stop-color="#ff0064"/><stop offset="0.5" stop-color="#8050dc"/><stop offset="1" stop-color="#1e88e5"/></linearGradient></defs>
<rect x="658.1" y="233.6" width="1.8" height="146.7" fill="url(#shapg)" stroke="none" stroke-width="0" />
<text x="662.3" y="239.2" font-size="7.7" text-anchor="start" fill="#231f20" font-weight="normal" >High</text>
<text x="662.3" y="383.2" font-size="7.7" text-anchor="start" fill="#231f20" font-weight="normal" >Low</text>
<text x="0" y="0" font-size="9.1" text-anchor="middle" fill="#231f20" font-weight="normal" transform="translate(676.2,306.0) rotate(90)">Feature value</text>
<text transform="translate(-0.3,440.6) scale(1.13,1)" font-size="11.4" font-weight="bold" fill="#000">f</text>
<polygon points="34.42,547.59 176.33,452.6 195.33,452.6 195.33,489.2 62.67,588.8 34.42,588.8" fill="#e8877e" stroke="none" stroke-width="0" />
<polyline points="34.42,547.59 176.33,452.6" fill="none" stroke="#6a4a48" stroke-width="0.45" stroke-dasharray="1.2 0.8"/>
<polyline points="195.33,489.2 62.67,588.8" fill="none" stroke="#6a4a48" stroke-width="0.45" stroke-dasharray="1.2 0.8"/>
<line x1="34.42" y1="580.99" x2="195.33" y2="467.71" stroke="#e0443a" stroke-width="0.45" stroke-dasharray="1.2 1"/>
<path d="M35.4 502.3a2.35 2.35 0 1 0 4.7 0a2.35 2.35 0 1 0 -4.7 0M35 506.6a2.35 2.35 0 1 0 4.7 0a2.35 2.35 0 1 0 -4.7 0M35.3 520.6a2.35 2.35 0 1 0 4.7 0a2.35 2.35 0 1 0 -4.7 0M35 526a2.35 2.35 0 1 0 4.7 0a2.35 2.35 0 1 0 -4.7 0M35 550.4a2.35 2.35 0 1 0 4.7 0a2.35 2.35 0 1 0 -4.7 0M35.4 554.4a2.35 2.35 0 1 0 4.7 0a2.35 2.35 0 1 0 -4.7 0M35.1 558.7a2.35 2.35 0 1 0 4.7 0a2.35 2.35 0 1 0 -4.7 0M35.1 562.5a2.35 2.35 0 1 0 4.7 0a2.35 2.35 0 1 0 -4.7 0M35.5 566.5a2.35 2.35 0 1 0 4.7 0a2.35 2.35 0 1 0 -4.7 0M35.4 570.3a2.35 2.35 0 1 0 4.7 0a2.35 2.35 0 1 0 -4.7 0M35.1 572.8a2.35 2.35 0 1 0 4.7 0a2.35 2.35 0 1 0 -4.7 0M35.4 575.9a2.35 2.35 0 1 0 4.7 0a2.35 2.35 0 1 0 -4.7 0M35.2 579.2a2.35 2.35 0 1 0 4.7 0a2.35 2.35 0 1 0 -4.7 0M35.3 582.4a2.35 2.35 0 1 0 4.7 0a2.35 2.35 0 1 0 -4.7 0M35.1 586.9a2.35 2.35 0 1 0 4.7 0a2.35 2.35 0 1 0 -4.7 0M43.6 501.7a2.35 2.35 0 1 0 4.7 0a2.35 2.35 0 1 0 -4.7 0M43.4 511.2a2.35 2.35 0 1 0 4.7 0a2.35 2.35 0 1 0 -4.7 0M43.5 542.5a2.35 2.35 0 1 0 4.7 0a2.35 2.35 0 1 0 -4.7 0M43.2 546.3a2.35 2.35 0 1 0 4.7 0a2.35 2.35 0 1 0 -4.7 0M43.2 550.1a2.35 2.35 0 1 0 4.7 0a2.35 2.35 0 1 0 -4.7 0M43.3 553.3a2.35 2.35 0 1 0 4.7 0a2.35 2.35 0 1 0 -4.7 0M43.7 556.1a2.35 2.35 0 1 0 4.7 0a2.35 2.35 0 1 0 -4.7 0M43.3 559.6a2.35 2.35 0 1 0 4.7 0a2.35 2.35 0 1 0 -4.7 0M43.6 562.2a2.35 2.35 0 1 0 4.7 0a2.35 2.35 0 1 0 -4.7 0M43.7 565.2a2.35 2.35 0 1 0 4.7 0a2.35 2.35 0 1 0 -4.7 0M43.7 569.4a2.35 2.35 0 1 0 4.7 0a2.35 2.35 0 1 0 -4.7 0M43.4 572.6a2.35 2.35 0 1 0 4.7 0a2.35 2.35 0 1 0 -4.7 0M43.4 576.2a2.35 2.35 0 1 0 4.7 0a2.35 2.35 0 1 0 -4.7 0M43.5 580.5a2.35 2.35 0 1 0 4.7 0a2.35 2.35 0 1 0 -4.7 0M43.6 585a2.35 2.35 0 1 0 4.7 0a2.35 2.35 0 1 0 -4.7 0M51.7 500.4a2.35 2.35 0 1 0 4.7 0a2.35 2.35 0 1 0 -4.7 0M51.6 509.8a2.35 2.35 0 1 0 4.7 0a2.35 2.35 0 1 0 -4.7 0M51.8 512.5a2.35 2.35 0 1 0 4.7 0a2.35 2.35 0 1 0 -4.7 0M51.9 514.7a2.35 2.35 0 1 0 4.7 0a2.35 2.35 0 1 0 -4.7 0M51.7 539.3a2.35 2.35 0 1 0 4.7 0a2.35 2.35 0 1 0 -4.7 0M51.7 543.6a2.35 2.35 0 1 0 4.7 0a2.35 2.35 0 1 0 -4.7 0M51.5 547.3a2.35 2.35 0 1 0 4.7 0a2.35 2.35 0 1 0 -4.7 0M51.9 551.7a2.35 2.35 0 1 0 4.7 0a2.35 2.35 0 1 0 -4.7 0M51.5 555.2a2.35 2.35 0 1 0 4.7 0a2.35 2.35 0 1 0 -4.7 0M51.7 559.3a2.35 2.35 0 1 0 4.7 0a2.35 2.35 0 1 0 -4.7 0M51.9 563.7a2.35 2.35 0 1 0 4.7 0a2.35 2.35 0 1 0 -4.7 0M51.5 566.7a2.35 2.35 0 1 0 4.7 0a2.35 2.35 0 1 0 -4.7 0M51.8 569.5a2.35 2.35 0 1 0 4.7 0a2.35 2.35 0 1 0 -4.7 0M52 572.7a2.35 2.35 0 1 0 4.7 0a2.35 2.35 0 1 0 -4.7 0M51.8 576.8a2.35 2.35 0 1 0 4.7 0a2.35 2.35 0 1 0 -4.7 0M51.9 580a2.35 2.35 0 1 0 4.7 0a2.35 2.35 0 1 0 -4.7 0M60.2 540.6a2.35 2.35 0 1 0 4.7 0a2.35 2.35 0 1 0 -4.7 0M60.1 544a2.35 2.35 0 1 0 4.7 0a2.35 2.35 0 1 0 -4.7 0M60 548.2a2.35 2.35 0 1 0 4.7 0a2.35 2.35 0 1 0 -4.7 0M59.9 552.1a2.35 2.35 0 1 0 4.7 0a2.35 2.35 0 1 0 -4.7 0M59.8 556.2a2.35 2.35 0 1 0 4.7 0a2.35 2.35 0 1 0 -4.7 0M59.9 559.3a2.35 2.35 0 1 0 4.7 0a2.35 2.35 0 1 0 -4.7 0M60.1 563.2a2.35 2.35 0 1 0 4.7 0a2.35 2.35 0 1 0 -4.7 0M60.2 566.3a2.35 2.35 0 1 0 4.7 0a2.35 2.35 0 1 0 -4.7 0M59.9 569.2a2.35 2.35 0 1 0 4.7 0a2.35 2.35 0 1 0 -4.7 0M68.4 496.8a2.35 2.35 0 1 0 4.7 0a2.35 2.35 0 1 0 -4.7 0M68.2 520.6a2.35 2.35 0 1 0 4.7 0a2.35 2.35 0 1 0 -4.7 0M68.4 542.4a2.35 2.35 0 1 0 4.7 0a2.35 2.35 0 1 0 -4.7 0M68.4 546.3a2.35 2.35 0 1 0 4.7 0a2.35 2.35 0 1 0 -4.7 0M68.3 550.2a2.35 2.35 0 1 0 4.7 0a2.35 2.35 0 1 0 -4.7 0M68.5 553.4a2.35 2.35 0 1 0 4.7 0a2.35 2.35 0 1 0 -4.7 0M68.5 556.4a2.35 2.35 0 1 0 4.7 0a2.35 2.35 0 1 0 -4.7 0M68.3 560.5a2.35 2.35 0 1 0 4.7 0a2.35 2.35 0 1 0 -4.7 0M68.3 563.8a2.35 2.35 0 1 0 4.7 0a2.35 2.35 0 1 0 -4.7 0M68.1 567.3a2.35 2.35 0 1 0 4.7 0a2.35 2.35 0 1 0 -4.7 0M68.4 569.9a2.35 2.35 0 1 0 4.7 0a2.35 2.35 0 1 0 -4.7 0M68.5 573a2.35 2.35 0 1 0 4.7 0a2.35 2.35 0 1 0 -4.7 0M68.2 576.5a2.35 2.35 0 1 0 4.7 0a2.35 2.35 0 1 0 -4.7 0M68.3 580.3a2.35 2.35 0 1 0 4.7 0a2.35 2.35 0 1 0 -4.7 0M68.4 583.4a2.35 2.35 0 1 0 4.7 0a2.35 2.35 0 1 0 -4.7 0M76.4 484.2a2.35 2.35 0 1 0 4.7 0a2.35 2.35 0 1 0 -4.7 0M76.4 485.5a2.35 2.35 0 1 0 4.7 0a2.35 2.35 0 1 0 -4.7 0M76.4 509.8a2.35 2.35 0 1 0 4.7 0a2.35 2.35 0 1 0 -4.7 0M76.3 517.4a2.35 2.35 0 1 0 4.7 0a2.35 2.35 0 1 0 -4.7 0M76.5 530.1a2.35 2.35 0 1 0 4.7 0a2.35 2.35 0 1 0 -4.7 0M76.5 538.3a2.35 2.35 0 1 0 4.7 0a2.35 2.35 0 1 0 -4.7 0M76.6 541.2a2.35 2.35 0 1 0 4.7 0a2.35 2.35 0 1 0 -4.7 0M76.6 544.8a2.35 2.35 0 1 0 4.7 0a2.35 2.35 0 1 0 -4.7 0M76.4 548.2a2.35 2.35 0 1 0 4.7 0a2.35 2.35 0 1 0 -4.7 0M76.7 552.2a2.35 2.35 0 1 0 4.7 0a2.35 2.35 0 1 0 -4.7 0M76.3 555.7a2.35 2.35 0 1 0 4.7 0a2.35 2.35 0 1 0 -4.7 0M76.5 558.8a2.35 2.35 0 1 0 4.7 0a2.35 2.35 0 1 0 -4.7 0M76.4 562.5a2.35 2.35 0 1 0 4.7 0a2.35 2.35 0 1 0 -4.7 0M76.5 566.5a2.35 2.35 0 1 0 4.7 0a2.35 2.35 0 1 0 -4.7 0M76.3 569.1a2.35 2.35 0 1 0 4.7 0a2.35 2.35 0 1 0 -4.7 0M76.7 571.9a2.35 2.35 0 1 0 4.7 0a2.35 2.35 0 1 0 -4.7 0M84.7 485.5a2.35 2.35 0 1 0 4.7 0a2.35 2.35 0 1 0 -4.7 0M84.6 563.8a2.35 2.35 0 1 0 4.7 0a2.35 2.35 0 1 0 -4.7 0M84.8 574.6a2.35 2.35 0 1 0 4.7 0a2.35 2.35 0 1 0 -4.7 0M84.8 534a2.35 2.35 0 1 0 4.7 0a2.35 2.35 0 1 0 -4.7 0M85 536.8a2.35 2.35 0 1 0 4.7 0a2.35 2.35 0 1 0 -4.7 0M85 539.6a2.35 2.35 0 1 0 4.7 0a2.35 2.35 0 1 0 -4.7 0M84.8 542.8a2.35 2.35 0 1 0 4.7 0a2.35 2.35 0 1 0 -4.7 0M84.7 547.3a2.35 2.35 0 1 0 4.7 0a2.35 2.35 0 1 0 -4.7 0M85 550.6a2.35 2.35 0 1 0 4.7 0a2.35 2.35 0 1 0 -4.7 0M93.2 496.8a2.35 2.35 0 1 0 4.7 0a2.35 2.35 0 1 0 -4.7 0M93.1 505.8a2.35 2.35 0 1 0 4.7 0a2.35 2.35 0 1 0 -4.7 0M92.9 511.2a2.35 2.35 0 1 0 4.7 0a2.35 2.35 0 1 0 -4.7 0M93.3 566.5a2.35 2.35 0 1 0 4.7 0a2.35 2.35 0 1 0 -4.7 0M93 521.7a2.35 2.35 0 1 0 4.7 0a2.35 2.35 0 1 0 -4.7 0M93 524.8a2.35 2.35 0 1 0 4.7 0a2.35 2.35 0 1 0 -4.7 0M92.9 528.3a2.35 2.35 0 1 0 4.7 0a2.35 2.35 0 1 0 -4.7 0M93.3 532.4a2.35 2.35 0 1 0 4.7 0a2.35 2.35 0 1 0 -4.7 0M93 535.4a2.35 2.35 0 1 0 4.7 0a2.35 2.35 0 1 0 -4.7 0M92.9 538.4a2.35 2.35 0 1 0 4.7 0a2.35 2.35 0 1 0 -4.7 0M93 542.8a2.35 2.35 0 1 0 4.7 0a2.35 2.35 0 1 0 -4.7 0M101.2 478.8a2.35 2.35 0 1 0 4.7 0a2.35 2.35 0 1 0 -4.7 0M101.1 496.3a2.35 2.35 0 1 0 4.7 0a2.35 2.35 0 1 0 -4.7 0M101.5 500.4a2.35 2.35 0 1 0 4.7 0a2.35 2.35 0 1 0 -4.7 0M101.2 555.7a2.35 2.35 0 1 0 4.7 0a2.35 2.35 0 1 0 -4.7 0M101.3 517.7a2.35 2.35 0 1 0 4.7 0a2.35 2.35 0 1 0 -4.7 0M101.3 521.6a2.35 2.35 0 1 0 4.7 0a2.35 2.35 0 1 0 -4.7 0M101.4 524.9a2.35 2.35 0 1 0 4.7 0a2.35 2.35 0 1 0 -4.7 0M101.3 528.6a2.35 2.35 0 1 0 4.7 0a2.35 2.35 0 1 0 -4.7 0M101.4 532.3a2.35 2.35 0 1 0 4.7 0a2.35 2.35 0 1 0 -4.7 0M101.1 536.9a2.35 2.35 0 1 0 4.7 0a2.35 2.35 0 1 0 -4.7 0M109.5 509.8a2.35 2.35 0 1 0 4.7 0a2.35 2.35 0 1 0 -4.7 0M109.6 518.1a2.35 2.35 0 1 0 4.7 0a2.35 2.35 0 1 0 -4.7 0M109.7 521.1a2.35 2.35 0 1 0 4.7 0a2.35 2.35 0 1 0 -4.7 0M109.6 524.1a2.35 2.35 0 1 0 4.7 0a2.35 2.35 0 1 0 -4.7 0M109.5 527.8a2.35 2.35 0 1 0 4.7 0a2.35 2.35 0 1 0 -4.7 0M109.8 539.7a2.35 2.35 0 1 0 4.7 0a2.35 2.35 0 1 0 -4.7 0M109.5 542.9a2.35 2.35 0 1 0 4.7 0a2.35 2.35 0 1 0 -4.7 0M109.5 546.2a2.35 2.35 0 1 0 4.7 0a2.35 2.35 0 1 0 -4.7 0M109.7 550.7a2.35 2.35 0 1 0 4.7 0a2.35 2.35 0 1 0 -4.7 0M109.4 553.8a2.35 2.35 0 1 0 4.7 0a2.35 2.35 0 1 0 -4.7 0M117.8 462.6a2.35 2.35 0 1 0 4.7 0a2.35 2.35 0 1 0 -4.7 0M117.8 478.8a2.35 2.35 0 1 0 4.7 0a2.35 2.35 0 1 0 -4.7 0M117.8 499a2.35 2.35 0 1 0 4.7 0a2.35 2.35 0 1 0 -4.7 0M117.7 534.1a2.35 2.35 0 1 0 4.7 0a2.35 2.35 0 1 0 -4.7 0M117.6 547.6a2.35 2.35 0 1 0 4.7 0a2.35 2.35 0 1 0 -4.7 0M117.9 562.5a2.35 2.35 0 1 0 4.7 0a2.35 2.35 0 1 0 -4.7 0M118 509.7a2.35 2.35 0 1 0 4.7 0a2.35 2.35 0 1 0 -4.7 0M117.6 513.6a2.35 2.35 0 1 0 4.7 0a2.35 2.35 0 1 0 -4.7 0M117.7 518.1a2.35 2.35 0 1 0 4.7 0a2.35 2.35 0 1 0 -4.7 0M118 521.3a2.35 2.35 0 1 0 4.7 0a2.35 2.35 0 1 0 -4.7 0M118 525.6a2.35 2.35 0 1 0 4.7 0a2.35 2.35 0 1 0 -4.7 0M125.9 470.7a2.35 2.35 0 1 0 4.7 0a2.35 2.35 0 1 0 -4.7 0M126 538.2a2.35 2.35 0 1 0 4.7 0a2.35 2.35 0 1 0 -4.7 0M126.3 544.9a2.35 2.35 0 1 0 4.7 0a2.35 2.35 0 1 0 -4.7 0M125.9 496.4a2.35 2.35 0 1 0 4.7 0a2.35 2.35 0 1 0 -4.7 0M126.1 499.1a2.35 2.35 0 1 0 4.7 0a2.35 2.35 0 1 0 -4.7 0M126 503.6a2.35 2.35 0 1 0 4.7 0a2.35 2.35 0 1 0 -4.7 0M125.9 506.9a2.35 2.35 0 1 0 4.7 0a2.35 2.35 0 1 0 -4.7 0M126.1 511.1a2.35 2.35 0 1 0 4.7 0a2.35 2.35 0 1 0 -4.7 0M125.8 515.3a2.35 2.35 0 1 0 4.7 0a2.35 2.35 0 1 0 -4.7 0M134.5 458.5a2.35 2.35 0 1 0 4.7 0a2.35 2.35 0 1 0 -4.7 0M134.3 461.2a2.35 2.35 0 1 0 4.7 0a2.35 2.35 0 1 0 -4.7 0M134.1 526a2.35 2.35 0 1 0 4.7 0a2.35 2.35 0 1 0 -4.7 0M134.4 558.4a2.35 2.35 0 1 0 4.7 0a2.35 2.35 0 1 0 -4.7 0M134.2 496.1a2.35 2.35 0 1 0 4.7 0a2.35 2.35 0 1 0 -4.7 0M134.4 499.3a2.35 2.35 0 1 0 4.7 0a2.35 2.35 0 1 0 -4.7 0M134.3 502.3a2.35 2.35 0 1 0 4.7 0a2.35 2.35 0 1 0 -4.7 0M134.5 506.5a2.35 2.35 0 1 0 4.7 0a2.35 2.35 0 1 0 -4.7 0M134.4 509a2.35 2.35 0 1 0 4.7 0a2.35 2.35 0 1 0 -4.7 0M134.4 512.3a2.35 2.35 0 1 0 4.7 0a2.35 2.35 0 1 0 -4.7 0M142.4 465.3a2.35 2.35 0 1 0 4.7 0a2.35 2.35 0 1 0 -4.7 0M142.7 472a2.35 2.35 0 1 0 4.7 0a2.35 2.35 0 1 0 -4.7 0M142.4 544.9a2.35 2.35 0 1 0 4.7 0a2.35 2.35 0 1 0 -4.7 0M142.4 550.3a2.35 2.35 0 1 0 4.7 0a2.35 2.35 0 1 0 -4.7 0M142.8 486.7a2.35 2.35 0 1 0 4.7 0a2.35 2.35 0 1 0 -4.7 0M142.7 490.3a2.35 2.35 0 1 0 4.7 0a2.35 2.35 0 1 0 -4.7 0M142.5 494.4a2.35 2.35 0 1 0 4.7 0a2.35 2.35 0 1 0 -4.7 0M142.4 497.1a2.35 2.35 0 1 0 4.7 0a2.35 2.35 0 1 0 -4.7 0M142.8 500.7a2.35 2.35 0 1 0 4.7 0a2.35 2.35 0 1 0 -4.7 0M142.7 503.6a2.35 2.35 0 1 0 4.7 0a2.35 2.35 0 1 0 -4.7 0M142.8 507a2.35 2.35 0 1 0 4.7 0a2.35 2.35 0 1 0 -4.7 0M142.4 519a2.35 2.35 0 1 0 4.7 0a2.35 2.35 0 1 0 -4.7 0M142.7 522.1a2.35 2.35 0 1 0 4.7 0a2.35 2.35 0 1 0 -4.7 0M142.5 525.3a2.35 2.35 0 1 0 4.7 0a2.35 2.35 0 1 0 -4.7 0M142.5 528.5a2.35 2.35 0 1 0 4.7 0a2.35 2.35 0 1 0 -4.7 0M150.8 453.1a2.35 2.35 0 1 0 4.7 0a2.35 2.35 0 1 0 -4.7 0M151 507.1a2.35 2.35 0 1 0 4.7 0a2.35 2.35 0 1 0 -4.7 0M150.6 513.9a2.35 2.35 0 1 0 4.7 0a2.35 2.35 0 1 0 -4.7 0M150.8 535.5a2.35 2.35 0 1 0 4.7 0a2.35 2.35 0 1 0 -4.7 0M151 465.2a2.35 2.35 0 1 0 4.7 0a2.35 2.35 0 1 0 -4.7 0M150.9 468.9a2.35 2.35 0 1 0 4.7 0a2.35 2.35 0 1 0 -4.7 0M150.8 472a2.35 2.35 0 1 0 4.7 0a2.35 2.35 0 1 0 -4.7 0M150.8 476.4a2.35 2.35 0 1 0 4.7 0a2.35 2.35 0 1 0 -4.7 0M150.6 480.4a2.35 2.35 0 1 0 4.7 0a2.35 2.35 0 1 0 -4.7 0M150.7 484.5a2.35 2.35 0 1 0 4.7 0a2.35 2.35 0 1 0 -4.7 0M150.7 488.2a2.35 2.35 0 1 0 4.7 0a2.35 2.35 0 1 0 -4.7 0M150.8 492.1a2.35 2.35 0 1 0 4.7 0a2.35 2.35 0 1 0 -4.7 0M150.8 494.6a2.35 2.35 0 1 0 4.7 0a2.35 2.35 0 1 0 -4.7 0M151 497.6a2.35 2.35 0 1 0 4.7 0a2.35 2.35 0 1 0 -4.7 0M159.3 454.5a2.35 2.35 0 1 0 4.7 0a2.35 2.35 0 1 0 -4.7 0M158.9 462.6a2.35 2.35 0 1 0 4.7 0a2.35 2.35 0 1 0 -4.7 0M159.2 517.9a2.35 2.35 0 1 0 4.7 0a2.35 2.35 0 1 0 -4.7 0M159 478.5a2.35 2.35 0 1 0 4.7 0a2.35 2.35 0 1 0 -4.7 0M159.2 481.7a2.35 2.35 0 1 0 4.7 0a2.35 2.35 0 1 0 -4.7 0M159.2 484.6a2.35 2.35 0 1 0 4.7 0a2.35 2.35 0 1 0 -4.7 0M158.9 487.7a2.35 2.35 0 1 0 4.7 0a2.35 2.35 0 1 0 -4.7 0M159 490.6a2.35 2.35 0 1 0 4.7 0a2.35 2.35 0 1 0 -4.7 0M158.9 493.9a2.35 2.35 0 1 0 4.7 0a2.35 2.35 0 1 0 -4.7 0M159 497.6a2.35 2.35 0 1 0 4.7 0a2.35 2.35 0 1 0 -4.7 0M167.5 457.2a2.35 2.35 0 1 0 4.7 0a2.35 2.35 0 1 0 -4.7 0M167.2 507.1a2.35 2.35 0 1 0 4.7 0a2.35 2.35 0 1 0 -4.7 0M167.2 535.5a2.35 2.35 0 1 0 4.7 0a2.35 2.35 0 1 0 -4.7 0M167.5 546.3a2.35 2.35 0 1 0 4.7 0a2.35 2.35 0 1 0 -4.7 0M167.6 471.8a2.35 2.35 0 1 0 4.7 0a2.35 2.35 0 1 0 -4.7 0M167.4 475.6a2.35 2.35 0 1 0 4.7 0a2.35 2.35 0 1 0 -4.7 0M167.3 478.5a2.35 2.35 0 1 0 4.7 0a2.35 2.35 0 1 0 -4.7 0M167.6 481.9a2.35 2.35 0 1 0 4.7 0a2.35 2.35 0 1 0 -4.7 0M175.4 455.8a2.35 2.35 0 1 0 4.7 0a2.35 2.35 0 1 0 -4.7 0M175.6 511.2a2.35 2.35 0 1 0 4.7 0a2.35 2.35 0 1 0 -4.7 0M175.4 531.4a2.35 2.35 0 1 0 4.7 0a2.35 2.35 0 1 0 -4.7 0M175.5 463.6a2.35 2.35 0 1 0 4.7 0a2.35 2.35 0 1 0 -4.7 0M175.6 466.8a2.35 2.35 0 1 0 4.7 0a2.35 2.35 0 1 0 -4.7 0M175.5 469.7a2.35 2.35 0 1 0 4.7 0a2.35 2.35 0 1 0 -4.7 0M175.4 473.8a2.35 2.35 0 1 0 4.7 0a2.35 2.35 0 1 0 -4.7 0M175.4 477a2.35 2.35 0 1 0 4.7 0a2.35 2.35 0 1 0 -4.7 0M175.9 479.6a2.35 2.35 0 1 0 4.7 0a2.35 2.35 0 1 0 -4.7 0M175.5 484.1a2.35 2.35 0 1 0 4.7 0a2.35 2.35 0 1 0 -4.7 0M175.6 488.1a2.35 2.35 0 1 0 4.7 0a2.35 2.35 0 1 0 -4.7 0M184 490.9a2.35 2.35 0 1 0 4.7 0a2.35 2.35 0 1 0 -4.7 0M184.1 501.7a2.35 2.35 0 1 0 4.7 0a2.35 2.35 0 1 0 -4.7 0M183.8 538.2a2.35 2.35 0 1 0 4.7 0a2.35 2.35 0 1 0 -4.7 0M183.9 541.7a2.35 2.35 0 1 0 4.7 0a2.35 2.35 0 1 0 -4.7 0M184.1 455.7a2.35 2.35 0 1 0 4.7 0a2.35 2.35 0 1 0 -4.7 0M183.8 459.1a2.35 2.35 0 1 0 4.7 0a2.35 2.35 0 1 0 -4.7 0M183.7 462.3a2.35 2.35 0 1 0 4.7 0a2.35 2.35 0 1 0 -4.7 0M183.8 466.4a2.35 2.35 0 1 0 4.7 0a2.35 2.35 0 1 0 -4.7 0M183.7 470a2.35 2.35 0 1 0 4.7 0a2.35 2.35 0 1 0 -4.7 0M184 472.5a2.35 2.35 0 1 0 4.7 0a2.35 2.35 0 1 0 -4.7 0M184 476.3a2.35 2.35 0 1 0 4.7 0a2.35 2.35 0 1 0 -4.7 0M183.8 479.9a2.35 2.35 0 1 0 4.7 0a2.35 2.35 0 1 0 -4.7 0M192.3 488.2a2.35 2.35 0 1 0 4.7 0a2.35 2.35 0 1 0 -4.7 0M192.2 503.9a2.35 2.35 0 1 0 4.7 0a2.35 2.35 0 1 0 -4.7 0M192.3 518.5a2.35 2.35 0 1 0 4.7 0a2.35 2.35 0 1 0 -4.7 0M192.2 452.9a2.35 2.35 0 1 0 4.7 0a2.35 2.35 0 1 0 -4.7 0M192.1 455.7a2.35 2.35 0 1 0 4.7 0a2.35 2.35 0 1 0 -4.7 0M192.3 458.6a2.35 2.35 0 1 0 4.7 0a2.35 2.35 0 1 0 -4.7 0M192.2 462.1a2.35 2.35 0 1 0 4.7 0a2.35 2.35 0 1 0 -4.7 0M192.4 465.1a2.35 2.35 0 1 0 4.7 0a2.35 2.35 0 1 0 -4.7 0M192.3 467.5a2.35 2.35 0 1 0 4.7 0a2.35 2.35 0 1 0 -4.7 0M192.3 470.7a2.35 2.35 0 1 0 4.7 0a2.35 2.35 0 1 0 -4.7 0M192 473.5a2.35 2.35 0 1 0 4.7 0a2.35 2.35 0 1 0 -4.7 0M192.3 476.8a2.35 2.35 0 1 0 4.7 0a2.35 2.35 0 1 0 -4.7 0" fill="#fff" stroke="#3c8de6" stroke-width="0.7"/>
<rect x="29.3" y="452.6" width="174.3" height="136.2" fill="none" stroke="#777" stroke-width="0.8" />
<line x1="27" y1="523.7" x2="29.3" y2="523.7" stroke="#777" stroke-width="0.7" />
<text x="24.3" y="526.4" font-size="7.7" text-anchor="end" fill="#231f20" font-weight="normal" >10</text>
<line x1="27" y1="458.6" x2="29.3" y2="458.6" stroke="#777" stroke-width="0.7" />
<text x="24.3" y="461.3" font-size="7.7" text-anchor="end" fill="#231f20" font-weight="normal" >20</text>
<line x1="29.3" y1="588.8" x2="29.3" y2="591.1" stroke="#777" stroke-width="0.7" />
<text x="29.3" y="601" font-size="7.7" text-anchor="middle" fill="#231f20" font-weight="normal" >0</text>
<line x1="111.9" y1="588.8" x2="111.9" y2="591.1" stroke="#777" stroke-width="0.7" />
<text x="111.9" y="601" font-size="7.7" text-anchor="middle" fill="#231f20" font-weight="normal" >10</text>
<line x1="194.5" y1="588.8" x2="194.5" y2="591.1" stroke="#777" stroke-width="0.7" />
<text x="194.5" y="601" font-size="7.7" text-anchor="middle" fill="#231f20" font-weight="normal" >20</text>
<text x="116.2" y="613.3" font-size="8.5" text-anchor="middle" fill="#231f20" font-weight="normal" >True FAS</text>
<text x="0" y="0" font-size="9.1" text-anchor="middle" fill="#231f20" font-weight="normal" transform="translate(8.2,520.5) rotate(-90)">Predicted fatigue assessment level</text>
<text x="40.3" y="446.3" font-size="7.7" text-anchor="start" fill="#231f20" font-weight="normal" ><tspan font-style="italic">R</tspan><tspan font-size="5.4" dy="-3">2</tspan><tspan dy="3"> = 0.91</tspan></text>
<rect x="92.3" y="438.1" width="15.8" height="9.4" fill="#e8877e" stroke="#333" stroke-width="0.6" stroke-dasharray="1.3 0.9"/>
<text x="113.2" y="446.3" font-size="7.7" text-anchor="start" fill="#231f20" font-weight="normal" >Confidence band (95%)</text>
<text transform="translate(225.5,439.8) scale(1.13,1)" font-size="12.4" font-weight="bold" fill="#000">g</text>
<polyline points="258.3,588.2 262.53,580.12 264.49,578.72 269.7,569.28 272.38,562.64 276.04,557.51 279.73,552.58 282.05,549.13 287.39,541.51 300.16,521.48 306.65,510.99 318.03,495.09 324.21,484.72 334.49,473.57 348.53,463.88 362.97,460.78 376.29,458.35 390.85,453.31 397.66,453.79 405.56,452.4 415.5,452.4 424.19,452.4 426.8,452.4" fill="none" stroke="#9fb6d8" stroke-width="0.7" />
<polyline points="258.3,588.2 262.86,577.36 268.15,566.85 272.66,561.01 277.97,548.25 283.47,538.71 288.16,530.36 301.77,502.91 310.3,492.16 324.12,477.96 330.83,475.08 340.54,470.69 349.16,460.04 363.14,452.4 374.73,452.4 387.29,452.4 401.35,452.4 411.93,452.4 420.7,452.4 426.8,452.4" fill="none" stroke="#9fb6d8" stroke-width="0.7" />
<polyline points="258.3,588.2 260.64,585.23 265.98,574.8 271.71,563.63 274.98,560.13 278.86,553.99 283.05,548.46 287.35,541.32 297.95,527.79 310.52,508.55 319.21,492.52 329.93,480.06 335.94,475 347.21,470.43 358.82,465.98 365.27,464.64 375.49,460.84 384.65,455.99 397.39,452.4 403.85,452.4 418.67,452.4 426.8,452.4" fill="none" stroke="#9fb6d8" stroke-width="0.7" />
<polyline points="258.3,588.2 261.54,581.3 264.49,576.24 269.43,568.26 273.51,558.92 276.5,555.73 281.57,547.94 284.05,543.74 296.41,528.41 305.3,516.39 318.92,498.15 332.74,480.42 341.76,467.76 355.86,455.35 363.84,452.4 374.65,452.4 388.02,452.4 395.62,452.4 409,452.4 422.37,452.4 426.8,452.4" fill="none" stroke="#9fb6d8" stroke-width="0.7" />
<polyline points="258.3,588.2 261.74,579.91 265.15,570.1 267.49,567.66 273.15,552.4 278.99,542.17 284.68,530.3 292.64,518.16 306.29,499.45 317,486.54 326.06,474.59 332.58,464.64 341.14,452.96 347.46,452.4 359.78,452.4 373.99,452.4 385.23,452.4 398.04,452.4 406.71,452.4 417.48,452.4 426.8,452.4" fill="none" stroke="#9fb6d8" stroke-width="0.7" />
<polyline points="258.3,588.2 262,579.56 265.16,575.12 269.1,565.66 271.51,561.47 277.07,552.4 282.23,547.56 286.56,538.94 292.92,532.39 301.31,519.38 311.13,503.24 324.22,483.52 330.62,475.42 337.68,470.19 352.61,463.89 359.3,463.83 368.13,460.81 377.28,453.57 388.62,452.4 396.28,452.4 403.33,452.4 415.86,452.4 422.5,452.4 426.8,452.4" fill="none" stroke="#9fb6d8" stroke-width="0.7" />
<polyline points="258.3,588.2 262.61,578.1 265.86,570.58 270.51,561.12 275.12,552.11 277.84,546.9 282.45,540.25 285.92,533.02 299.97,505.6 309.34,487.65 322.57,468.08 332.77,458.75 346.2,452.4 360.32,452.4 372.4,452.4 383.53,452.4 394.87,452.4 402.1,452.4 408.41,452.4 415.23,452.4 422.78,452.4 426.8,452.4" fill="none" stroke="#9fb6d8" stroke-width="0.7" />
<polyline points="258.3,588.2 264,575.07 269.05,565.83 273.96,553.6 278.66,544.59 283.5,531.15 285.44,528.82 296.57,503.78 304.71,491.98 312.92,480.48 325.81,471.43 335.11,464.87 344.25,456.11 350.92,452.4 365.84,452.4 378.66,452.4 390.96,452.4 403.1,452.4 413.48,452.4 426.8,452.4" fill="none" stroke="#9fb6d8" stroke-width="0.7" />
<polyline points="258.3,588.2 262.16,582.07 266.88,575.19 269.69,570.45 273.84,562.93 276.5,557.01 282.21,548.1 286.86,539.55 300.67,519.15 309.04,512.9 315.16,508.1 324.6,502.84 333.84,493.29 346.91,476.4 361.99,459.64 373.44,456.66 387.08,456.39 398.14,455.91 410.71,452.4 420.32,452.4 426.8,452.4" fill="none" stroke="#9fb6d8" stroke-width="0.7" />
<polyline points="258.3,588.2 262.83,580.74 268.11,576.48 270.6,573.53 273.07,569.35 278.37,563.42 281.13,561.06 284.14,559.99 296.79,551.03 303.54,542.29 312.15,533.87 323.42,517.42 329.38,510.56 339.32,499.39 347.17,493.85 361.92,490.09 372.86,487.33 381.3,480.34 388.25,473.93 402.56,464.41 417.19,455.76 426.8,452.4" fill="none" stroke="#203f80" stroke-width="0.9" />
<polyline points="258.3,588.2 263.38,583.32 268.24,575.73 272.76,572.04 274.92,569.65 278.09,565.09 282.64,559.79 285.09,556.27 296.83,541.69 310.98,523.78 318.02,517.45 325.22,515.62 337.8,509.7 348.84,502.89 358.98,494.44 366.51,486.82 379.04,471.6 389.97,464.23 399.2,462.39 408.65,458.01 414.94,457.33 423.12,453.22 426.8,452.4" fill="none" stroke="#203f80" stroke-width="0.9" />
<polyline points="258.3,588.2 261.47,583.1 263.63,582.41 265.73,580.5 270.7,573 273.16,572.06 276.6,566.44 281.73,560.44 285.9,557.13 295.49,543.58 306.28,527.01 314.05,518.92 327.19,510.48 340.53,503.05 355.23,495.45 366.25,483.1 378.02,469.27 390.28,463.39 404.15,459.38 415.62,455.94 421.54,453.67 426.8,452.4" fill="none" stroke="#203f80" stroke-width="0.9" />
<polyline points="258.3,588.2 262.22,584.22 266.01,577.2 269.57,572.99 275.29,565.16 277.55,562.95 281.86,560.7 285.06,556.74 291.68,548.94 306.19,534.39 320.16,517.06 327.3,507.88 338.77,494.09 351.3,481.85 360.38,474.43 374.91,466.65 384.86,463.85 395.25,463.39 401.55,461.89 409.3,459.38 419.81,454.14 426.8,452.4" fill="none" stroke="#203f80" stroke-width="0.9" />
<polyline points="258.3,588.2 263.17,580.85 265.62,575.55 270.34,570.58 273.58,565.75 277.78,561.58 279.48,559.65 284.46,554.41 294.62,544.08 302.46,536.29 312.1,525.51 318.25,518 325.71,506.86 332.16,499.81 342.21,486.51 354.63,477.15 364.26,471.58 370.4,468.12 378.33,469.46 388.63,466.92 400.29,462.13 407.34,460.01 419.98,454.5 426.8,452.4" fill="none" stroke="#203f80" stroke-width="0.9" />
<polyline points="258.3,588.2 261.1,582.17 265.44,576.23 267.52,571.67 273.29,562.9 274.99,562.2 277.05,558.77 278.89,556.59 283.33,547.97 285.87,544.58 296.18,533.5 310.58,518.39 316.8,514.03 328.32,499.25 335.03,493.59 348.8,478.48 358.31,468.4 370.51,457.73 378.03,455.05 390.73,452.4 401.75,452.4 411.01,453.12 419.04,452.4 426.8,452.4" fill="none" stroke="#203f80" stroke-width="0.9" />
<polyline points="258.3,588.2 262.98,583.75 266.72,580.65 271.39,576.08 275.05,569.57 279.58,566.31 282.27,560.53 286.66,554.75 300.64,538.28 314.85,523.97 323.84,520.14 330.41,517.35 345.16,510.98 356.33,501.4 362.98,492.45 371.1,485.23 378.42,475.77 389.74,469.27 397.77,462.41 405.71,461.05 415.49,456.91 426.8,452.4" fill="none" stroke="#203f80" stroke-width="0.9" />
<polyline points="258.3,588.2 260.32,584.05 262.48,583.39 268.23,574.24 273.68,566.83 277.33,561.42 282.51,553.49 286.89,547.8 300.87,535.06 312.36,525.4 319.28,518.93 330.69,510.22 338.49,504.54 348.69,494.52 355.31,489.34 365.7,480.24 376.72,468.64 386.53,462.35 398.04,458.61 407.19,453.67 416.19,454.04 422.87,453.85 426.8,452.4" fill="none" stroke="#203f80" stroke-width="0.9" />
<polyline points="258.3,588.2 262.56,580.49 266.51,576.1 272.18,565.42 277.87,557.59 282.81,550.27 288.7,540.71 297.3,532.03 304.91,529.31 317.5,518.81 328.21,504.24 334.49,494.46 342.94,483.75 352.04,474.54 364.85,472.93 371.71,472.64 381.42,470.82 388.73,464.33 401.12,455.16 416.1,452.4 425.45,453.48 426.8,452.4" fill="none" stroke="#203f80" stroke-width="0.9" />
<polyline points="258.3,588.2 263.58,581.93 267.21,575.46 272.3,571.38 275.01,566.63 276.73,566.87 280.65,561.14 283.04,560.03 285.58,554.77 295.79,541.83 308.97,524.43 315.2,518.59 321.21,509.93 330.25,500.65 341.21,490.81 349.99,485.15 363.32,479.76 371.63,478.46 381.51,472.81 393.67,465.64 407.06,460.2 414.21,455.13 426.8,452.4" fill="none" stroke="#203f80" stroke-width="0.9" />
<polyline points="258.3,588.2 260.7,586.06 265.09,576.69 270.59,570.43 275.08,562.97 280.19,557.45 283.63,553.36 291.11,544.85 303.34,525.8 314.31,512.41 323.47,499.9 336.8,484.61 351.59,474.43 360.41,469.43 370.12,465.71 383.69,462.42 395.26,462.05 406.49,456.58 416.9,454.45 426.8,452.4" fill="none" stroke="#203f80" stroke-width="0.9" />
<polyline points="258.3,588.2 262.15,583.1 267.88,578.39 270.39,575.08 272.84,574.44 278.01,569.46 280.84,564.44 286.5,560.25 296.03,548.96 303.15,540.18 318.13,523.34 326.16,515.58 332.79,509.75 345.58,502.32 357.32,497.65 363.27,496.59 378.08,487.59 386.45,479.25 394.83,471.75 401.17,467.55 415.94,458.24 426.8,452.4" fill="none" stroke="#203f80" stroke-width="0.9" />
<polyline points="258.3,588.2 260.58,586.01 265.47,578.05 267.95,572.16 273.32,566.46 279.05,555.84 282.35,551.87 285.68,543.48 294.18,532.05 301.42,520.63 310.58,506.02 317.19,501.96 331.8,490.79 346.78,485.6 355.96,476.05 366.35,466.73 375.15,460.83 384.25,452.52 397.39,452.4 407.59,452.4 417.59,452.4 426.8,452.4" fill="none" stroke="#203f80" stroke-width="0.9" />
<polyline points="258.3,588.2 260.74,583.23 265.96,578.13 268.77,573.76 270.68,568.3 274.09,563.4 276.26,562.9 281.6,552.57 287.47,545.38 298.23,534.76 304.99,530.78 314.97,524.98 326.43,512.41 337.02,497.55 345.87,485.84 357.34,473.97 371.91,470.95 385.55,470.31 400.5,462.17 407.54,457.24 420.22,453.45 426.8,452.4" fill="none" stroke="#203f80" stroke-width="0.9" />
<polyline points="258.3,588.2 262.22,580.33 268.06,572.32 271.61,566.88 273.59,564.76 278.84,556.59 280.78,553.83 284.08,549.18 293.37,539.59 304.36,522 314.25,507.3 326.74,491.5 335.42,481.5 345.02,474.84 356.96,468.75 368.27,468.83 376.2,466.09 387.8,462.38 394.45,458.69 402.97,455.96 413.86,452.4 424.71,452.4 426.8,452.4" fill="none" stroke="#203f80" stroke-width="0.9" />
<polyline points="258.3,588.2 260.49,583.26 263.77,579.31 269.21,571.87 271.69,566.68 275.9,563.5 277.7,560.31 279.42,556.54 281.88,555.21 285.2,550.12 295.11,535.97 307.12,517.9 313.91,505.64 326.22,493.21 336.21,483.8 351.3,481.29 357.28,478.12 367.09,471.88 380.65,463.47 390.43,455.61 404.52,452.4 414.05,452.4 425.89,453.87 426.8,452.4" fill="none" stroke="#203f80" stroke-width="0.9" />
<polyline points="258.3,588.2 261.96,581.51 265.92,577.39 271.74,567.42 275.65,563.18 278.59,556.71 280.84,554.78 285.13,549.6 298.15,532.69 312,521.18 319.78,517.87 329.69,510.4 337.39,503.12 345.29,497.06 359.87,486.26 374.24,472.26 382.1,466.79 388.35,461.76 397.81,456.2 411.42,455.5 421.04,453.32 426.8,452.4" fill="none" stroke="#203f80" stroke-width="0.9" />
<polyline points="258.3,588.2 260.45,586.74 264,581.79 266.72,578.44 269.31,575.76 273.56,572.77 278.41,566.64 282.37,561.39 286.7,556.67 293.12,547.47 306.98,530.57 318.25,518.3 332.47,504.95 340.43,500.05 355.46,495.33 370.59,487.43 378.14,481.64 387.18,474.67 398.48,467.84 409.27,458.28 419.6,454.52 426.8,452.4" fill="none" stroke="#203f80" stroke-width="0.9" />
<polyline points="258.3,588.2 260.84,586.24 265.73,578.78 268.69,574.18 274.1,568.92 279.95,560.62 284.79,555.81 290.79,545.77 303.5,528.39 313.83,516.53 322.04,510.9 333.15,507.7 340.07,503.92 348.93,496.56 356.42,489.51 364.14,480.16 375.38,469.79 381.78,464.58 389.55,462.04 397,462.36 407.88,457.85 421.82,454.18 426.8,452.4" fill="none" stroke="#203f80" stroke-width="0.9" />
<polyline points="258.3,588.2 260.48,583.83 264.17,580.8 266.96,575.77 269.43,574.31 273.27,571.61 275.89,566.58 280.91,562.96 286.4,560.12 298.81,544.11 306.8,533.68 321.73,514.33 334.69,506.73 346.77,503.59 357.38,497.69 371.35,481.7 381.92,470.46 391.78,463.55 400.06,461.86 411.39,459.67 417.72,457.95 426.8,452.4" fill="none" stroke="#203f80" stroke-width="0.9" />
<polyline points="258.3,588.2 263.56,579.67 266.81,577.46 270.84,569.92 276.41,564.51 278.76,558.84 283.56,553.73 288.35,547.54 299.29,528.1 310.79,513.93 317.95,506.21 332.04,501.82 338.01,499.36 351.18,486.94 361.3,472.47 372.87,463.46 385.26,460.16 393.77,457.96 401.25,459.87 411.95,456.48 426.8,452.4" fill="none" stroke="#203f80" stroke-width="0.9" />
<polyline points="258.3,588.2 261.86,581.85 264.92,578.6 268.51,571.59 271.65,569.26 275.09,565.37 278.1,560.17 282.09,555.34 284.99,553.7 291.14,544.83 298.85,533 307.21,519.2 318.68,502.65 331.4,491.31 341.25,488.2 347.73,485.04 358.26,483.12 372.74,469.8 384.42,459.81 391.49,453.69 398.94,453.52 414.1,454.14 424.63,452.68 426.8,452.4" fill="none" stroke="#203f80" stroke-width="0.9" />
<polyline points="258.3,588.2 258.3,478.61 267.39,474.44 278.31,473.96 287.1,471.45 294.01,470.18 299.36,469.71 307.69,468.48 319.15,466.88 330.61,464.86 333.91,462.91 341.36,461.85 348.6,461.29 351.89,460.75 359.17,459.05 361.76,461.16 370.55,457.75 376.99,457.56 384.71,457.51 391.55,456.14 394.34,456.62 403.71,455.66 410.62,454.88 416.47,453.15 425.89,452.4 426.8,452.4" fill="none" stroke="#e0a0a0" stroke-width="0.6" />
<polyline points="258.3,588.2 258.3,480.82 266.49,479.36 270.7,478.84 274.88,476.92 279.78,475.02 287.54,475.26 294.06,475.1 303.38,471.83 309.28,471.05 314.33,471.7 318.97,471.09 327.12,468.69 336.39,468.77 346.02,466.27 352.05,465.26 358.59,465.04 364.78,462.82 373.93,460.58 378.26,459.92 388.21,458.71 399.81,458.25 409.54,454.45 413.2,454.62 424.5,453.39 426.8,452.4" fill="none" stroke="#e0a0a0" stroke-width="0.6" />
<polyline points="258.3,588.2 258.3,478.02 264.74,476.45 271.37,473.23 276.25,474.81 287.58,472.37 293.68,469.85 298.82,471.67 309.57,470.04 314.15,467.64 318.81,467.2 324.42,468.17 328.95,466.98 336.67,466.42 343.9,465.77 354.19,462.67 363.69,461.65 366.88,462.74 371.29,462.36 382.79,458.59 393.79,457.81 397.4,457.58 400.45,455.79 405.44,456.64 416.73,454.97 426.8,452.4" fill="none" stroke="#e0a0a0" stroke-width="0.6" />
<polyline points="258.3,588.2 258.3,471.46 264.03,470.16 272.05,470.06 275.73,468.65 278.49,467.46 284.2,468.59 289.77,468.02 295.23,466.18 301.53,465.98 306.75,464.96 316.49,463.99 326.14,462.81 329.78,463.27 340.16,461.33 346.23,460.6 356.6,459.92 362.48,459.34 365.11,458.59 372.08,458.01 378.79,457.4 387.95,457.25 399.57,456.26 410.13,455.03 420.03,453.79 423.28,452.7 426.8,452.4" fill="none" stroke="#e0a0a0" stroke-width="0.6" />
<polyline points="258.3,588.2 258.3,465.41 261.82,462.14 268.53,459.3 278.43,456.77 287.23,456.38 294.84,458.15 305.63,457.71 308.95,455.59 314.08,455.87 316.87,457 326.03,457.17 333.29,454.48 337.8,454.96 347.23,454.87 356.86,454.33 359.51,455.62 367.01,453.24 371.55,454.13 375.27,453.29 381.92,453.94 390.65,454.68 399.93,452.55 410.43,453.58 415.13,453.73 425.99,452.6 426.8,452.4" fill="none" stroke="#e0a0a0" stroke-width="0.6" />
<polyline points="258.3,588.2 258.3,470.5 268.03,468.45 271.24,466.07 280.53,465.45 286.8,463.66 293.32,464.96 296.78,464.26 304.87,463.49 316.18,461.78 322.95,461.21 331.06,460.69 338.17,460.38 345.25,458.98 349.56,458.75 354.85,458.14 358.05,458.86 364.69,457.68 369.09,458.52 372.85,457.38 380.72,458.2 384.9,457.28 396.29,455.53 404.06,455.24 412.7,452.97 421.45,454.3 426.8,452.4" fill="none" stroke="#e0a0a0" stroke-width="0.6" />
<polyline points="258.3,588.2 258.3,489.15 266.62,478.58 273.75,471.93 281.09,469.12 284.21,467.17 290.11,465.1 295.85,464.95 298.73,463.88 302.13,461.31 310.04,461.68 319.15,459.46 322.26,458.81 326.9,457.69 330.75,459.28 335.58,457.32 345.7,457.32 349.6,457.46 358.64,457.85 369.7,455.01 380.86,454.7 389.11,453.43 394.11,454.94 397.78,455.06 407.71,454.68 417.13,453.28 426.8,452.4" fill="none" stroke="#e0a0a0" stroke-width="0.6" />
<polyline points="258.3,588.2 258.3,470.84 264.24,464.93 272.98,459.73 282.37,457.9 291.35,458.67 298.58,457.19 308.66,457.74 314.48,456.82 319.12,455.89 321.65,456.42 328.68,457.35 336.49,456.27 347.94,454.67 355.9,454.38 366.62,455.84 376.81,453.6 388.52,453.31 394.68,454.55 403.26,454.18 412.81,452.79 422.99,452.95 426.8,452.4" fill="none" stroke="#e0a0a0" stroke-width="0.6" />
<polyline points="258.3,588.2 258.3,471.53 266.79,469.21 271.96,466.78 282.69,465.37 287.8,466.1 297.1,463.11 305.68,463.74 314.88,461.91 320.87,461.14 327.55,460.35 337.05,458.59 340.61,459.39 351.89,458.2 359.79,457 362.61,456.93 370.92,456.81 376.32,456.27 380.01,456.22 384.93,454.72 394.91,455.14 404.44,454.59 411.82,454.58 422.29,452.4 426.8,452.4" fill="none" stroke="#e0a0a0" stroke-width="0.6" />
<polyline points="258.3,588.2 258.3,467.06 261.38,466.86 272.13,464.98 277.57,463.87 283.39,463.05 289.63,464.67 301.16,463.66 306.04,461.35 309.63,461.67 320.12,460.7 325.87,459.79 336.05,459.47 344.39,459.52 350.69,457.21 362.23,459 366.57,458.05 376.45,457.33 380.55,455.47 384.64,454.57 391.39,454.24 401.51,455.3 411.32,453.93 415.91,454.55 424.95,452.4 426.8,452.4" fill="none" stroke="#e0a0a0" stroke-width="0.6" />
<polyline points="258.3,588.2 258.3,484.8 269.03,474.01 272.98,472.71 281.48,469.86 292.23,468.47 302.81,465.57 312.95,465.17 316.12,465.32 324.46,464.83 328.01,462.4 338.67,461.07 348.96,460.79 359.6,459.26 367.29,459.17 370.04,459.78 374.89,458.25 378.54,456.47 386.41,456.23 397.21,456.44 407.95,453.26 412.95,454.97 422.89,452.4 426.8,452.4" fill="none" stroke="#e0a0a0" stroke-width="0.6" />
<polyline points="258.3,588.2 258.3,473.25 267.73,471.8 278.86,469.89 290.37,467.76 300.49,465.01 311.86,464.74 320.87,464.3 331.11,463.75 341.83,461.33 344.93,460.06 350.39,461.87 355.32,461.46 360.45,459.07 372.14,458.04 382.58,456.4 391.73,456.6 396.59,456.69 404.19,455.72 413.57,454.37 421.47,452.87 426.8,452.4" fill="none" stroke="#e0a0a0" stroke-width="0.6" />
<polyline points="258.3,588.2 258.3,483.12 269.77,472.86 281.21,467.16 292.49,464.77 301.99,462.96 306.33,462.91 314.24,462.27 322.89,460.3 332.78,459.76 336.64,459.74 344.98,458.43 347.53,460.31 359.1,458.82 368.17,457.47 374.38,457.36 382.12,455.2 389.59,455.07 394.93,454.81 403.06,453.98 413.74,454.79 425.23,452.4 426.8,452.4" fill="none" stroke="#b02c2c" stroke-width="0.7" />
<polyline points="258.3,588.2 258.3,487.66 268.86,484.77 272.39,483.04 279.51,480 284.8,478.47 292.74,477.69 302.57,476.03 310.59,474.04 313.51,472.67 320.85,470.88 326.86,468.9 336.65,469.24 339.22,466.59 345.56,467.81 349.74,465.47 353.9,465.64 362.7,464.19 371.28,461.1 381.16,460.27 389.49,459.7 397.95,457.3 405.92,456.32 415.41,455.4 424.55,452.4 426.8,452.4" fill="none" stroke="#b02c2c" stroke-width="0.7" />
<polyline points="258.3,588.2 258.3,462.31 261.47,461.67 264.07,460.84 269.4,460.17 280.25,461.45 286.51,460.96 296.06,460.48 299.27,460.22 309.76,459.24 315.28,458.39 322.92,458.06 334.22,457.65 341.16,455.87 345.95,457.5 356.22,456.59 367.02,454.66 373,455.68 376.47,454.04 383.1,455.14 387.26,455.24 397.89,454.95 405.55,453.21 412.9,453.16 419.12,453.67 426.8,452.4" fill="none" stroke="#b02c2c" stroke-width="0.7" />
<polyline points="258.3,588.2 258.3,474.34 262.41,472.94 272.64,470.77 276.19,468.94 280.16,469.9 291.85,466.64 301.38,467.11 311.8,464.77 314.43,463.36 325.58,463.97 332.31,460.85 337.92,461.83 347.67,460.38 359.45,458.01 369.93,457.34 374.26,456.96 382.15,456.74 389.93,456.47 394.29,454.4 400.22,456.03 411.8,453.84 420.59,453.49 424.49,453.15 426.8,452.4" fill="none" stroke="#b02c2c" stroke-width="0.7" />
<polyline points="258.3,588.2 258.3,464.41 264.94,464.42 268.84,462.82 274.75,462.05 279.29,462.15 284.8,459.97 288.07,460.96 298.52,459.59 303.42,458.03 306.95,460.09 309.63,459.06 320.12,458.74 325.29,456.99 328.54,458.9 337.22,458.17 344.63,457.58 352.73,455.2 359.46,456.4 367.76,454.8 370.82,455.89 376.84,454.85 381.9,454.18 386.8,453.27 392.58,454.84 395.84,454.94 400.36,452.66 406.75,453.55 418.17,452.4 426.8,452.4" fill="none" stroke="#b02c2c" stroke-width="0.7" />
<polyline points="258.3,588.2 258.3,481.09 262.8,478.25 272.27,472.08 278.93,470.02 287.14,467.3 289.88,466.29 296.69,466.42 308.1,463.67 313.88,464.96 320.46,463.1 326.46,463.39 334.33,462.16 343.92,460.46 349.16,459.14 355.84,460.5 360.96,460.09 367.47,457.13 378.71,456.73 382.67,457.47 387.08,456.67 395.52,456.8 402.58,455.01 411.24,453.06 417.45,453.05 422.49,452.95 426.8,452.4" fill="none" stroke="#b02c2c" stroke-width="0.7" />
<polyline points="258.3,588.2 258.3,475.77 268.47,469.84 272.78,468.34 280.13,465.98 285.92,465.04 290.45,463.82 298.54,463.91 306.54,462.47 318.13,459.71 321.88,460.05 327.61,461.16 338.25,458.15 348.07,458.11 359.66,457.43 368.45,456.49 378.94,455.13 384.29,456.47 391.87,454.85 397.67,453.67 408.07,453.34 415.56,452.74 419.89,452.4 423.6,452.4 426.8,452.4" fill="none" stroke="#b02c2c" stroke-width="0.7" />
<polyline points="258.3,588.2 258.3,484.99 261.73,481.36 268.24,478.41 277.61,473.51 284.26,471.99 291.11,470.75 296,467.42 299.65,468.65 310.03,466 317.47,464.31 326.65,463.83 336.32,463.55 346.7,461.56 355.02,460.69 364.49,459.5 372.6,458.8 382.84,456.49 387.24,456.08 398.5,456.28 402.79,453.93 414.24,454.84 423.96,452.4 426.8,452.4" fill="none" stroke="#b02c2c" stroke-width="0.7" />
<polyline points="258.3,588.2 258.3,481.95 261.98,478.71 271,474.18 273.95,473.28 278.88,468.71 288.3,465.82 297.77,465.54 303.88,462.12 314.3,460.35 324.42,459.84 334.03,458.28 340.53,460.07 345.95,459.65 351.01,457.66 356.09,458.18 359.49,457.62 366.8,456.44 378.07,457.03 382.96,456.66 394.11,454.36 402.72,453.26 405.27,452.84 410.88,453.19 417.15,452.43 422.47,453.33 426.8,452.4" fill="none" stroke="#b02c2c" stroke-width="0.7" />
<polyline points="258.3,588.2 258.3,477.42 264.28,475.45 274.62,472.94 284.57,472.07 295.16,468.75 302.6,470.23 305.92,467.8 316.49,466.55 323.72,466.15 327.32,465.54 339.11,465.13 347.3,462.35 355.85,462.61 360.58,460.95 371.71,459.09 377.95,458.62 387.99,458.25 397.52,456.9 401.91,457.34 411.15,453.98 414.07,455.44 419.56,454.25 426.8,452.4" fill="none" stroke="#b02c2c" stroke-width="0.7" />
<polyline points="258.3,588.2 258.3,473.74 264.88,470.71 273.58,468.18 277.83,465.65 287.33,464.98 294.45,463.78 299.71,464.64 307.29,461.62 310.74,461.08 316.73,460.51 326.39,461.7 330.89,459.67 342.49,458.99 350.43,459.08 360.21,457.54 370.47,458.15 380.66,455.48 388.52,457.35 392.79,455.23 399.26,453.91 407.73,453.72 411.66,453.82 420.77,452.4 426.8,452.4" fill="none" stroke="#b02c2c" stroke-width="0.7" />
<polyline points="258.3,588.2 258.3,476.11 262.51,469.04 268.05,463.82 278.25,458.8 281.14,458.41 291.07,456.86 301.6,455.73 309.82,455.18 317.39,456.92 322.56,454.49 328.21,455.54 338.82,454.6 348.68,454.86 355.91,455.7 360.29,455.34 367.8,454.11 370.99,453.71 374.46,454.28 377.24,453.95 381.11,452.57 386.99,452.69 393.61,453.86 403.93,453.69 411.23,452.48 422.97,452.4 425.97,452.54 426.8,452.4" fill="none" stroke="#b02c2c" stroke-width="0.7" />
<polyline points="258.3,588.2 258.3,479.9 262.5,477.53 267.49,476.77 276.45,476.13 283.78,473.87 288.8,473.39 297.15,471.1 302.3,472.56 309.53,470.48 316.57,468.71 320.97,469.24 327.87,469.16 334.61,467.55 340.62,465.85 352.28,463.63 356.83,464.57 368.16,463.62 371.52,463.14 382.94,460.09 389.48,460.11 400.2,455.85 409.1,454.5 416.9,454.73 421.09,453.99 425,453.09 426.8,452.4" fill="none" stroke="#b02c2c" stroke-width="0.7" />
<polyline points="258.3,588.2 258.3,464.83 265,463.44 274.83,462.51 282.1,460.87 292.42,460.24 294.98,459.84 305.7,459.5 314.03,458.97 319.07,457.28 322.55,457.51 330.52,457.19 340.05,455.4 345.17,455.36 354.7,455.32 362.7,455.01 372.09,454.25 377.13,454.13 386.24,454.24 397.07,454.18 404.71,453.17 412.83,453.88 421.55,453.71 426.8,452.4" fill="none" stroke="#b02c2c" stroke-width="0.7" />
<polyline points="258.3,588.2 258.3,470.59 269.26,467.58 276.46,467.06 286.96,464.49 292.05,463.41 296.75,462.73 301.95,461.32 307.81,459.95 318.98,458.21 324.99,458.29 334.3,457.34 340.53,458.28 350.08,456.31 355.87,455.88 359.02,455.36 369.87,454.18 373.46,454.73 383.23,455.69 391.41,455.12 395.96,455.33 401.09,452.85 409.05,452.61 420.58,453.82 426.8,452.4" fill="none" stroke="#b02c2c" stroke-width="0.7" />
<polyline points="258.3,588.2 258.3,471.91 264.28,469.88 273.06,466.33 277.98,466.62 285.13,464.08 293.83,463.27 304.67,461.94 311.29,461.41 319.98,461.8 324.06,461.38 333.24,459.63 338.58,459.77 341.8,459.35 348.49,458.35 359,459.43 370.47,458.16 381.93,454.98 386.52,456.48 390.39,454.46 399.93,453.49 409.93,454.27 419.64,453.42 425.22,452.74 426.8,452.4" fill="none" stroke="#b02c2c" stroke-width="0.7" />
<line x1="258.3" y1="588.2" x2="426.8" y2="452.4" stroke="#777" stroke-width="0.7" stroke-dasharray="2.5 1.8"/>
<text x="0" y="0" font-size="7.3" text-anchor="middle" fill="#231f20" font-weight="normal" transform="translate(358.5,521.5) rotate(-38.2)">Random classifier boundary</text>
<rect x="258.3" y="452.4" width="168.5" height="135.8" fill="none" stroke="#555" stroke-width="0.8" />
<line x1="258.3" y1="452.4" x2="258.3" y2="588.2" stroke="#333" stroke-width="0.9" />
<line x1="256" y1="452.4" x2="258.3" y2="452.4" stroke="#555" stroke-width="0.7" />
<text x="253.6" y="455.1" font-size="7.7" text-anchor="end" fill="#231f20" font-weight="normal" >1.0</text>
<line x1="256" y1="520.3" x2="258.3" y2="520.3" stroke="#555" stroke-width="0.7" />
<text x="253.6" y="523" font-size="7.7" text-anchor="end" fill="#231f20" font-weight="normal" >0.5</text>
<line x1="256" y1="588.2" x2="258.3" y2="588.2" stroke="#555" stroke-width="0.7" />
<text x="253.6" y="590.9" font-size="7.7" text-anchor="end" fill="#231f20" font-weight="normal" >0</text>
<line x1="258.3" y1="588.2" x2="258.3" y2="590.5" stroke="#555" stroke-width="0.7" />
<text x="258.3" y="601" font-size="7.7" text-anchor="middle" fill="#231f20" font-weight="normal" >0</text>
<line x1="342.55" y1="588.2" x2="342.55" y2="590.5" stroke="#555" stroke-width="0.7" />
<text x="342.55" y="601" font-size="7.7" text-anchor="middle" fill="#231f20" font-weight="normal" >0.5</text>
<line x1="426.8" y1="588.2" x2="426.8" y2="590.5" stroke="#555" stroke-width="0.7" />
<text x="426.8" y="601" font-size="7.7" text-anchor="middle" fill="#231f20" font-weight="normal" >1.0</text>
<text x="342.6" y="613" font-size="8.8" text-anchor="middle" fill="#231f20" font-weight="normal" >False positive rate (a.u.)</text>
<text x="0" y="0" font-size="8.8" text-anchor="middle" fill="#231f20" font-weight="normal" transform="translate(233.0,520.8) rotate(-90)">Ture positive rate (a.u.)</text>
<line x1="296.6" y1="568.5" x2="311.3" y2="568.5" stroke="#b02c2c" stroke-width="1.2" />
<text x="316.4" y="571.3" font-size="7.5" text-anchor="start" fill="#231f20" font-weight="normal" >MAP (mean AUC = 0.93 )</text>
<line x1="296.6" y1="580.2" x2="311.3" y2="580.2" stroke="#203f80" stroke-width="1.2" />
<text x="316.4" y="583" font-size="7.5" text-anchor="start" fill="#231f20" font-weight="normal" >Without MAP (mean AUC = 0.64)</text>
<text transform="translate(454.4,440.2) scale(1.13,1)" font-size="11.5" font-weight="bold" fill="#000">h</text>
<path d="M496,462 Q520,470 527,492 Q531,506 528,518" fill="none" stroke="#a0a0a0" stroke-width="0.6" stroke-dasharray="2.2 1.6"/>
<path d="M559.5,455 Q562,480 566,497 Q570,506 578,510" fill="none" stroke="#a0a0a0" stroke-width="0.6" stroke-dasharray="2.2 1.6"/>
<path d="M578,510 Q612,515 654,525" fill="none" stroke="#a0a0a0" stroke-width="0.6" stroke-dasharray="2.2 1.6"/>
<path d="M578,510 Q565,518 552,522 Q538,526 528,534 Q519,546 522,558 Q528,570 540,571 Q552,569 557,560" fill="none" stroke="#a0a0a0" stroke-width="0.6" stroke-dasharray="2.2 1.6"/>
<path d="M578,510 Q581,530 576,547 Q569,570 562,604" fill="none" stroke="#a0a0a0" stroke-width="0.6" stroke-dasharray="2.2 1.6"/>
<path d="M469,540 Q476,526 490,522 Q505,519 515,524" fill="none" stroke="#a0a0a0" stroke-width="0.6" stroke-dasharray="2.2 1.6"/>
<path d="M487.1 494.8l1.54 2.8h-3.08zM510.1 484.3l1.54 2.8h-3.08zM488.2 462.2l1.54 2.8h-3.08zM507.5 496.8l1.54 2.8h-3.08zM499.1 478.6l1.54 2.8h-3.08zM506.3 491.5l1.54 2.8h-3.08zM494 465.5l1.54 2.8h-3.08zM517.1 479.1l1.54 2.8h-3.08zM522.3 484.9l1.54 2.8h-3.08zM497.4 472.7l1.54 2.8h-3.08zM499.9 489.4l1.54 2.8h-3.08zM494.4 462.4l1.54 2.8h-3.08zM481.4 482l1.54 2.8h-3.08zM519 496.5l1.54 2.8h-3.08zM501.3 472.1l1.54 2.8h-3.08zM503.1 496.2l1.54 2.8h-3.08zM497.9 491.1l1.54 2.8h-3.08zM515.4 483.4l1.54 2.8h-3.08zM495.4 492.4l1.54 2.8h-3.08zM515.6 498.3l1.54 2.8h-3.08zM518.9 490.6l1.54 2.8h-3.08zM509.4 483.9l1.54 2.8h-3.08zM482.3 485.9l1.54 2.8h-3.08zM489.5 462.3l1.54 2.8h-3.08zM496.3 486.9l1.54 2.8h-3.08zM518.5 505.6l1.54 2.8h-3.08zM512.3 471.2l1.54 2.8h-3.08zM500.1 479.2l1.54 2.8h-3.08zM503.5 483.4l1.54 2.8h-3.08zM520.5 504.8l1.54 2.8h-3.08zM497 470l1.54 2.8h-3.08zM513.1 481l1.54 2.8h-3.08zM510.2 492.1l1.54 2.8h-3.08zM516 492.1l1.54 2.8h-3.08z" fill="#184d90" stroke="#184d90" stroke-width="0.35"/>
<path d="M489.6 500l1.54 2.8h-3.08zM518.6 485.9l1.54 2.8h-3.08zM503.7 472.1l1.54 2.8h-3.08zM490.4 462.4l1.54 2.8h-3.08zM503.4 466.1l1.54 2.8h-3.08zM495.8 484.6l1.54 2.8h-3.08zM485 484.1l1.54 2.8h-3.08zM524.2 504.7l1.54 2.8h-3.08zM504.8 496.8l1.54 2.8h-3.08zM480.4 470.9l1.54 2.8h-3.08zM520.1 500.1l1.54 2.8h-3.08zM503.2 471.3l1.54 2.8h-3.08zM503.7 487.8l1.54 2.8h-3.08zM504.4 479.8l1.54 2.8h-3.08zM497.9 484.7l1.54 2.8h-3.08zM498.2 467.6l1.54 2.8h-3.08zM512.4 473.4l1.54 2.8h-3.08zM497.8 473.9l1.54 2.8h-3.08zM483.6 475.8l1.54 2.8h-3.08zM492.2 478l1.54 2.8h-3.08zM499 494.9l1.54 2.8h-3.08zM509.8 469l1.54 2.8h-3.08zM513.8 485l1.54 2.8h-3.08zM517.1 505.5l1.54 2.8h-3.08zM505.1 505.7l1.54 2.8h-3.08zM485.4 461.7l1.54 2.8h-3.08zM516.8 497.9l1.54 2.8h-3.08zM511.6 489.4l1.54 2.8h-3.08zM503.4 496l1.54 2.8h-3.08zM489.7 494.6l1.54 2.8h-3.08zM495.4 492.8l1.54 2.8h-3.08zM501.4 486l1.54 2.8h-3.08zM507.8 489.5l1.54 2.8h-3.08z" fill="#2768aa" stroke="#2768aa" stroke-width="0.35"/>
<path d="M479.2 478.9l1.54 2.8h-3.08zM526.5 505l1.54 2.8h-3.08zM480.3 465l1.54 2.8h-3.08zM489.9 490.8l1.54 2.8h-3.08zM487.9 468.8l1.54 2.8h-3.08zM482.4 477.2l1.54 2.8h-3.08zM515.5 484.3l1.54 2.8h-3.08zM512.6 508l1.54 2.8h-3.08zM510.5 502.9l1.54 2.8h-3.08zM480.2 482.7l1.54 2.8h-3.08zM505.4 476.5l1.54 2.8h-3.08zM497.5 495.8l1.54 2.8h-3.08zM513.8 504l1.54 2.8h-3.08zM498.1 475.8l1.54 2.8h-3.08zM508.5 485.7l1.54 2.8h-3.08zM484.3 464.1l1.54 2.8h-3.08zM510 508.5l1.54 2.8h-3.08zM522.6 499.3l1.54 2.8h-3.08zM511.7 503.3l1.54 2.8h-3.08zM513.3 494.5l1.54 2.8h-3.08zM494.3 475.9l1.54 2.8h-3.08zM486.5 494.4l1.54 2.8h-3.08zM492.6 479.3l1.54 2.8h-3.08zM518.3 502.5l1.54 2.8h-3.08zM518.2 477.2l1.54 2.8h-3.08zM493.6 491.7l1.54 2.8h-3.08zM480.8 485.1l1.54 2.8h-3.08zM512.4 493l1.54 2.8h-3.08zM517 497.3l1.54 2.8h-3.08zM483.1 480.6l1.54 2.8h-3.08zM518.9 478.4l1.54 2.8h-3.08zM522.9 486l1.54 2.8h-3.08zM510.9 473l1.54 2.8h-3.08zM515 500.9l1.54 2.8h-3.08zM497.2 501.6l1.54 2.8h-3.08zM508.3 495l1.54 2.8h-3.08zM517.3 500l1.54 2.8h-3.08zM489.7 470.7l1.54 2.8h-3.08zM485.9 463.2l1.54 2.8h-3.08zM490 499.8l1.54 2.8h-3.08z" fill="#72a6d0" stroke="#72a6d0" stroke-width="0.35"/>
<path d="M521.9 491.1l1.54 2.8h-3.08zM480.7 476.8l1.54 2.8h-3.08zM501.2 487.9l1.54 2.8h-3.08zM516 498.5l1.54 2.8h-3.08zM496 490.2l1.54 2.8h-3.08zM516.9 484.5l1.54 2.8h-3.08zM491.6 474.8l1.54 2.8h-3.08zM499.6 468.9l1.54 2.8h-3.08zM522.2 490.4l1.54 2.8h-3.08zM483.6 465l1.54 2.8h-3.08zM491.4 495.2l1.54 2.8h-3.08zM510.6 482.5l1.54 2.8h-3.08zM498.7 471.6l1.54 2.8h-3.08zM491.1 495.5l1.54 2.8h-3.08zM483.2 484.3l1.54 2.8h-3.08zM524.8 495.5l1.54 2.8h-3.08zM501.3 505l1.54 2.8h-3.08zM488.2 480.5l1.54 2.8h-3.08zM488.2 463.3l1.54 2.8h-3.08zM486.8 465.5l1.54 2.8h-3.08zM508.8 498.1l1.54 2.8h-3.08zM487.7 487.3l1.54 2.8h-3.08zM499.8 492.4l1.54 2.8h-3.08zM505.4 483.3l1.54 2.8h-3.08zM507.7 500.5l1.54 2.8h-3.08zM488.6 471.7l1.54 2.8h-3.08zM498.1 491.7l1.54 2.8h-3.08zM482.8 475.7l1.54 2.8h-3.08zM512.4 475.1l1.54 2.8h-3.08zM501.3 471.4l1.54 2.8h-3.08z" fill="#4787bf" stroke="#4787bf" stroke-width="0.35"/>
<path d="M501.1 479.6l1.54 2.8h-3.08zM512.5 494.1l1.54 2.8h-3.08zM505.2 474.1l1.54 2.8h-3.08zM507.6 473.2l1.54 2.8h-3.08zM487.1 469.5l1.54 2.8h-3.08zM516.9 499.9l1.54 2.8h-3.08zM515 508.7l1.54 2.8h-3.08zM494.2 495.3l1.54 2.8h-3.08zM491.5 502.6l1.54 2.8h-3.08zM488.8 490.2l1.54 2.8h-3.08zM500.4 491.2l1.54 2.8h-3.08zM480.9 490.7l1.54 2.8h-3.08zM513.3 472.3l1.54 2.8h-3.08zM506 471.6l1.54 2.8h-3.08zM524.3 504.5l1.54 2.8h-3.08zM514.7 486.5l1.54 2.8h-3.08zM496.2 491l1.54 2.8h-3.08zM489.3 465.7l1.54 2.8h-3.08zM485 472.3l1.54 2.8h-3.08zM497.4 472.8l1.54 2.8h-3.08zM514.5 490.1l1.54 2.8h-3.08zM500.7 485.4l1.54 2.8h-3.08zM496.9 477.6l1.54 2.8h-3.08z" fill="#d6e7f1" stroke="#d6e7f1" stroke-width="0.35"/>
<path d="M503.3 484.9l1.54 2.8h-3.08zM506 497.7l1.54 2.8h-3.08zM487.6 495.9l1.54 2.8h-3.08zM504.8 488.4l1.54 2.8h-3.08zM516.2 482.7l1.54 2.8h-3.08zM509.7 498.2l1.54 2.8h-3.08zM519.4 508.5l1.54 2.8h-3.08zM492.8 469l1.54 2.8h-3.08zM497.1 467.1l1.54 2.8h-3.08zM517.8 501.4l1.54 2.8h-3.08zM492.2 463.3l1.54 2.8h-3.08zM499.7 489.3l1.54 2.8h-3.08zM503 473.6l1.54 2.8h-3.08zM515.1 496.9l1.54 2.8h-3.08zM521.4 497.9l1.54 2.8h-3.08z" fill="#f4b6a2" stroke="#f4b6a2" stroke-width="0.35"/>
<path d="M510.5 456.8l1.54 2.8h-3.08zM513 460.8l1.54 2.8h-3.08z" fill="#184d90" stroke="#184d90" stroke-width="0.35"/>
<path d="M535.2 467.1a1.3 1.3 0 1 0 2.6 0a1.3 1.3 0 1 0 -2.6 0M534.5 449.9a1.3 1.3 0 1 0 2.6 0a1.3 1.3 0 1 0 -2.6 0M540 473.1a1.3 1.3 0 1 0 2.6 0a1.3 1.3 0 1 0 -2.6 0M544.5 479.2a1.3 1.3 0 1 0 2.6 0a1.3 1.3 0 1 0 -2.6 0M542.6 448.6a1.3 1.3 0 1 0 2.6 0a1.3 1.3 0 1 0 -2.6 0M543.9 455.8a1.3 1.3 0 1 0 2.6 0a1.3 1.3 0 1 0 -2.6 0M538.3 449.4a1.3 1.3 0 1 0 2.6 0a1.3 1.3 0 1 0 -2.6 0M551.7 477.8a1.3 1.3 0 1 0 2.6 0a1.3 1.3 0 1 0 -2.6 0M553.6 479.5a1.3 1.3 0 1 0 2.6 0a1.3 1.3 0 1 0 -2.6 0M540.8 472.7a1.3 1.3 0 1 0 2.6 0a1.3 1.3 0 1 0 -2.6 0M550.8 484.7a1.3 1.3 0 1 0 2.6 0a1.3 1.3 0 1 0 -2.6 0M539.5 478.9a1.3 1.3 0 1 0 2.6 0a1.3 1.3 0 1 0 -2.6 0M532.1 456.8a1.3 1.3 0 1 0 2.6 0a1.3 1.3 0 1 0 -2.6 0M536.7 478.6a1.3 1.3 0 1 0 2.6 0a1.3 1.3 0 1 0 -2.6 0M546.7 467.8a1.3 1.3 0 1 0 2.6 0a1.3 1.3 0 1 0 -2.6 0M549.6 469.4a1.3 1.3 0 1 0 2.6 0a1.3 1.3 0 1 0 -2.6 0M532.2 470a1.3 1.3 0 1 0 2.6 0a1.3 1.3 0 1 0 -2.6 0M539 461.1a1.3 1.3 0 1 0 2.6 0a1.3 1.3 0 1 0 -2.6 0M544.6 470.3a1.3 1.3 0 1 0 2.6 0a1.3 1.3 0 1 0 -2.6 0M538.2 475.3a1.3 1.3 0 1 0 2.6 0a1.3 1.3 0 1 0 -2.6 0M548.9 484.1a1.3 1.3 0 1 0 2.6 0a1.3 1.3 0 1 0 -2.6 0M545.4 456.6a1.3 1.3 0 1 0 2.6 0a1.3 1.3 0 1 0 -2.6 0M545.8 452.3a1.3 1.3 0 1 0 2.6 0a1.3 1.3 0 1 0 -2.6 0M543.8 479a1.3 1.3 0 1 0 2.6 0a1.3 1.3 0 1 0 -2.6 0M548.4 478.6a1.3 1.3 0 1 0 2.6 0a1.3 1.3 0 1 0 -2.6 0M542.5 478.7a1.3 1.3 0 1 0 2.6 0a1.3 1.3 0 1 0 -2.6 0M546.8 481.6a1.3 1.3 0 1 0 2.6 0a1.3 1.3 0 1 0 -2.6 0M536.3 473.6a1.3 1.3 0 1 0 2.6 0a1.3 1.3 0 1 0 -2.6 0M535.6 451.7a1.3 1.3 0 1 0 2.6 0a1.3 1.3 0 1 0 -2.6 0M547 485.8a1.3 1.3 0 1 0 2.6 0a1.3 1.3 0 1 0 -2.6 0M534.1 467.8a1.3 1.3 0 1 0 2.6 0a1.3 1.3 0 1 0 -2.6 0M536.7 446.7a1.3 1.3 0 1 0 2.6 0a1.3 1.3 0 1 0 -2.6 0M533.2 460a1.3 1.3 0 1 0 2.6 0a1.3 1.3 0 1 0 -2.6 0M537.8 461.6a1.3 1.3 0 1 0 2.6 0a1.3 1.3 0 1 0 -2.6 0M538.9 468.6a1.3 1.3 0 1 0 2.6 0a1.3 1.3 0 1 0 -2.6 0M543.9 480.8a1.3 1.3 0 1 0 2.6 0a1.3 1.3 0 1 0 -2.6 0M543.7 463.7a1.3 1.3 0 1 0 2.6 0a1.3 1.3 0 1 0 -2.6 0M542.9 471.2a1.3 1.3 0 1 0 2.6 0a1.3 1.3 0 1 0 -2.6 0M539.9 448.3a1.3 1.3 0 1 0 2.6 0a1.3 1.3 0 1 0 -2.6 0M553.6 479.7a1.3 1.3 0 1 0 2.6 0a1.3 1.3 0 1 0 -2.6 0M550.4 481.9a1.3 1.3 0 1 0 2.6 0a1.3 1.3 0 1 0 -2.6 0M545.1 480.2a1.3 1.3 0 1 0 2.6 0a1.3 1.3 0 1 0 -2.6 0M539.8 474.1a1.3 1.3 0 1 0 2.6 0a1.3 1.3 0 1 0 -2.6 0M531.7 453.9a1.3 1.3 0 1 0 2.6 0a1.3 1.3 0 1 0 -2.6 0M548.5 484.8a1.3 1.3 0 1 0 2.6 0a1.3 1.3 0 1 0 -2.6 0M550.8 481.5a1.3 1.3 0 1 0 2.6 0a1.3 1.3 0 1 0 -2.6 0M539.3 462a1.3 1.3 0 1 0 2.6 0a1.3 1.3 0 1 0 -2.6 0M544.8 464.4a1.3 1.3 0 1 0 2.6 0a1.3 1.3 0 1 0 -2.6 0M537.9 472.6a1.3 1.3 0 1 0 2.6 0a1.3 1.3 0 1 0 -2.6 0M546.9 464.7a1.3 1.3 0 1 0 2.6 0a1.3 1.3 0 1 0 -2.6 0M538.1 465.7a1.3 1.3 0 1 0 2.6 0a1.3 1.3 0 1 0 -2.6 0M544.6 463.6a1.3 1.3 0 1 0 2.6 0a1.3 1.3 0 1 0 -2.6 0M547.5 479.9a1.3 1.3 0 1 0 2.6 0a1.3 1.3 0 1 0 -2.6 0M539.1 464.1a1.3 1.3 0 1 0 2.6 0a1.3 1.3 0 1 0 -2.6 0M532.5 460.1a1.3 1.3 0 1 0 2.6 0a1.3 1.3 0 1 0 -2.6 0M545.9 464.2a1.3 1.3 0 1 0 2.6 0a1.3 1.3 0 1 0 -2.6 0M541.4 457.3a1.3 1.3 0 1 0 2.6 0a1.3 1.3 0 1 0 -2.6 0M539.8 456.9a1.3 1.3 0 1 0 2.6 0a1.3 1.3 0 1 0 -2.6 0M539.5 470.7a1.3 1.3 0 1 0 2.6 0a1.3 1.3 0 1 0 -2.6 0M542.6 458.9a1.3 1.3 0 1 0 2.6 0a1.3 1.3 0 1 0 -2.6 0M542.8 447.7a1.3 1.3 0 1 0 2.6 0a1.3 1.3 0 1 0 -2.6 0M540.9 473.1a1.3 1.3 0 1 0 2.6 0a1.3 1.3 0 1 0 -2.6 0M535 471.5a1.3 1.3 0 1 0 2.6 0a1.3 1.3 0 1 0 -2.6 0M544.3 473.1a1.3 1.3 0 1 0 2.6 0a1.3 1.3 0 1 0 -2.6 0M554.6 486a1.3 1.3 0 1 0 2.6 0a1.3 1.3 0 1 0 -2.6 0M532.9 453.8a1.3 1.3 0 1 0 2.6 0a1.3 1.3 0 1 0 -2.6 0M544 471.3a1.3 1.3 0 1 0 2.6 0a1.3 1.3 0 1 0 -2.6 0M539.3 471.6a1.3 1.3 0 1 0 2.6 0a1.3 1.3 0 1 0 -2.6 0M543.8 465.1a1.3 1.3 0 1 0 2.6 0a1.3 1.3 0 1 0 -2.6 0M533.3 453.8a1.3 1.3 0 1 0 2.6 0a1.3 1.3 0 1 0 -2.6 0M554.1 480.1a1.3 1.3 0 1 0 2.6 0a1.3 1.3 0 1 0 -2.6 0M539.7 476.3a1.3 1.3 0 1 0 2.6 0a1.3 1.3 0 1 0 -2.6 0M544.8 481.6a1.3 1.3 0 1 0 2.6 0a1.3 1.3 0 1 0 -2.6 0M541.8 460.4a1.3 1.3 0 1 0 2.6 0a1.3 1.3 0 1 0 -2.6 0M539.4 454.8a1.3 1.3 0 1 0 2.6 0a1.3 1.3 0 1 0 -2.6 0M534.5 460.9a1.3 1.3 0 1 0 2.6 0a1.3 1.3 0 1 0 -2.6 0M547.7 476a1.3 1.3 0 1 0 2.6 0a1.3 1.3 0 1 0 -2.6 0M542.3 457.2a1.3 1.3 0 1 0 2.6 0a1.3 1.3 0 1 0 -2.6 0M535.7 447.8a1.3 1.3 0 1 0 2.6 0a1.3 1.3 0 1 0 -2.6 0M545 467.9a1.3 1.3 0 1 0 2.6 0a1.3 1.3 0 1 0 -2.6 0M536.4 460.2a1.3 1.3 0 1 0 2.6 0a1.3 1.3 0 1 0 -2.6 0M535.7 448.7a1.3 1.3 0 1 0 2.6 0a1.3 1.3 0 1 0 -2.6 0M543.5 463.2a1.3 1.3 0 1 0 2.6 0a1.3 1.3 0 1 0 -2.6 0M544.4 464.5a1.3 1.3 0 1 0 2.6 0a1.3 1.3 0 1 0 -2.6 0M531.9 466.4a1.3 1.3 0 1 0 2.6 0a1.3 1.3 0 1 0 -2.6 0M550 478.5a1.3 1.3 0 1 0 2.6 0a1.3 1.3 0 1 0 -2.6 0" fill="#e8845c" stroke="#9c7a7a" stroke-width="0.3"/>
<path d="M538.8 449.9a1.3 1.3 0 1 0 2.6 0a1.3 1.3 0 1 0 -2.6 0M550 486.9a1.3 1.3 0 1 0 2.6 0a1.3 1.3 0 1 0 -2.6 0M539.4 466.4a1.3 1.3 0 1 0 2.6 0a1.3 1.3 0 1 0 -2.6 0M540.5 473.2a1.3 1.3 0 1 0 2.6 0a1.3 1.3 0 1 0 -2.6 0M542.5 456.7a1.3 1.3 0 1 0 2.6 0a1.3 1.3 0 1 0 -2.6 0M547.6 484a1.3 1.3 0 1 0 2.6 0a1.3 1.3 0 1 0 -2.6 0M538.6 454.8a1.3 1.3 0 1 0 2.6 0a1.3 1.3 0 1 0 -2.6 0M533.5 468.5a1.3 1.3 0 1 0 2.6 0a1.3 1.3 0 1 0 -2.6 0M543 483.9a1.3 1.3 0 1 0 2.6 0a1.3 1.3 0 1 0 -2.6 0M543 462.9a1.3 1.3 0 1 0 2.6 0a1.3 1.3 0 1 0 -2.6 0M535.3 452.2a1.3 1.3 0 1 0 2.6 0a1.3 1.3 0 1 0 -2.6 0M545.9 470.7a1.3 1.3 0 1 0 2.6 0a1.3 1.3 0 1 0 -2.6 0M554.6 474.6a1.3 1.3 0 1 0 2.6 0a1.3 1.3 0 1 0 -2.6 0M542.8 461.5a1.3 1.3 0 1 0 2.6 0a1.3 1.3 0 1 0 -2.6 0M542.6 473.1a1.3 1.3 0 1 0 2.6 0a1.3 1.3 0 1 0 -2.6 0M530.7 456.3a1.3 1.3 0 1 0 2.6 0a1.3 1.3 0 1 0 -2.6 0M536.5 465.9a1.3 1.3 0 1 0 2.6 0a1.3 1.3 0 1 0 -2.6 0M542.7 456.1a1.3 1.3 0 1 0 2.6 0a1.3 1.3 0 1 0 -2.6 0M544 472.3a1.3 1.3 0 1 0 2.6 0a1.3 1.3 0 1 0 -2.6 0M546.1 469.7a1.3 1.3 0 1 0 2.6 0a1.3 1.3 0 1 0 -2.6 0M541.2 456.4a1.3 1.3 0 1 0 2.6 0a1.3 1.3 0 1 0 -2.6 0M542.4 474a1.3 1.3 0 1 0 2.6 0a1.3 1.3 0 1 0 -2.6 0M531.5 459.4a1.3 1.3 0 1 0 2.6 0a1.3 1.3 0 1 0 -2.6 0M541.5 474.9a1.3 1.3 0 1 0 2.6 0a1.3 1.3 0 1 0 -2.6 0M551.7 476a1.3 1.3 0 1 0 2.6 0a1.3 1.3 0 1 0 -2.6 0M551.2 470.8a1.3 1.3 0 1 0 2.6 0a1.3 1.3 0 1 0 -2.6 0M540.4 471.7a1.3 1.3 0 1 0 2.6 0a1.3 1.3 0 1 0 -2.6 0M542.9 471.3a1.3 1.3 0 1 0 2.6 0a1.3 1.3 0 1 0 -2.6 0M546.5 471.9a1.3 1.3 0 1 0 2.6 0a1.3 1.3 0 1 0 -2.6 0M548.9 467.9a1.3 1.3 0 1 0 2.6 0a1.3 1.3 0 1 0 -2.6 0M550.3 482.7a1.3 1.3 0 1 0 2.6 0a1.3 1.3 0 1 0 -2.6 0M553.1 476.1a1.3 1.3 0 1 0 2.6 0a1.3 1.3 0 1 0 -2.6 0M532.9 464.2a1.3 1.3 0 1 0 2.6 0a1.3 1.3 0 1 0 -2.6 0M544.9 451.2a1.3 1.3 0 1 0 2.6 0a1.3 1.3 0 1 0 -2.6 0M538 463.7a1.3 1.3 0 1 0 2.6 0a1.3 1.3 0 1 0 -2.6 0M537.2 468.7a1.3 1.3 0 1 0 2.6 0a1.3 1.3 0 1 0 -2.6 0M553.3 479.2a1.3 1.3 0 1 0 2.6 0a1.3 1.3 0 1 0 -2.6 0M539.6 464.6a1.3 1.3 0 1 0 2.6 0a1.3 1.3 0 1 0 -2.6 0M547.8 475.2a1.3 1.3 0 1 0 2.6 0a1.3 1.3 0 1 0 -2.6 0M555.2 485.8a1.3 1.3 0 1 0 2.6 0a1.3 1.3 0 1 0 -2.6 0M533.3 446.2a1.3 1.3 0 1 0 2.6 0a1.3 1.3 0 1 0 -2.6 0M544.9 481.9a1.3 1.3 0 1 0 2.6 0a1.3 1.3 0 1 0 -2.6 0M542.9 446.3a1.3 1.3 0 1 0 2.6 0a1.3 1.3 0 1 0 -2.6 0M540.8 480.5a1.3 1.3 0 1 0 2.6 0a1.3 1.3 0 1 0 -2.6 0M545.7 478a1.3 1.3 0 1 0 2.6 0a1.3 1.3 0 1 0 -2.6 0M537 459.2a1.3 1.3 0 1 0 2.6 0a1.3 1.3 0 1 0 -2.6 0M550.2 484.5a1.3 1.3 0 1 0 2.6 0a1.3 1.3 0 1 0 -2.6 0M532.4 467.7a1.3 1.3 0 1 0 2.6 0a1.3 1.3 0 1 0 -2.6 0M532.7 458.9a1.3 1.3 0 1 0 2.6 0a1.3 1.3 0 1 0 -2.6 0M530.5 450.5a1.3 1.3 0 1 0 2.6 0a1.3 1.3 0 1 0 -2.6 0M540.6 463.6a1.3 1.3 0 1 0 2.6 0a1.3 1.3 0 1 0 -2.6 0M532.8 470.9a1.3 1.3 0 1 0 2.6 0a1.3 1.3 0 1 0 -2.6 0" fill="#f09c78" stroke="#9c7a7a" stroke-width="0.3"/>
<path d="M551 486.8a1.3 1.3 0 1 0 2.6 0a1.3 1.3 0 1 0 -2.6 0M542.6 472.9a1.3 1.3 0 1 0 2.6 0a1.3 1.3 0 1 0 -2.6 0M530.2 455.6a1.3 1.3 0 1 0 2.6 0a1.3 1.3 0 1 0 -2.6 0M543.8 479a1.3 1.3 0 1 0 2.6 0a1.3 1.3 0 1 0 -2.6 0M532.3 452.6a1.3 1.3 0 1 0 2.6 0a1.3 1.3 0 1 0 -2.6 0M546.1 463.9a1.3 1.3 0 1 0 2.6 0a1.3 1.3 0 1 0 -2.6 0M533.6 455.5a1.3 1.3 0 1 0 2.6 0a1.3 1.3 0 1 0 -2.6 0" fill="#4787bf" stroke="#9c7a7a" stroke-width="0.3"/>
<path d="M535.8 456.9a1.3 1.3 0 1 0 2.6 0a1.3 1.3 0 1 0 -2.6 0M547.1 473.3a1.3 1.3 0 1 0 2.6 0a1.3 1.3 0 1 0 -2.6 0M555.1 481.7a1.3 1.3 0 1 0 2.6 0a1.3 1.3 0 1 0 -2.6 0M542.8 479.9a1.3 1.3 0 1 0 2.6 0a1.3 1.3 0 1 0 -2.6 0M531.9 461.3a1.3 1.3 0 1 0 2.6 0a1.3 1.3 0 1 0 -2.6 0" fill="#2768aa" stroke="#9c7a7a" stroke-width="0.3"/>
<path d="M555.2 508.5a1.45 1.45 0 1 0 2.9 0a1.45 1.45 0 1 0 -2.9 0M531.8 492.2a1.45 1.45 0 1 0 2.9 0a1.45 1.45 0 1 0 -2.9 0M556.5 505.8a1.45 1.45 0 1 0 2.9 0a1.45 1.45 0 1 0 -2.9 0M532.9 518.8a1.45 1.45 0 1 0 2.9 0a1.45 1.45 0 1 0 -2.9 0M527.9 493.1a1.45 1.45 0 1 0 2.9 0a1.45 1.45 0 1 0 -2.9 0M521.5 518.6a1.45 1.45 0 1 0 2.9 0a1.45 1.45 0 1 0 -2.9 0M543.5 520.4a1.45 1.45 0 1 0 2.9 0a1.45 1.45 0 1 0 -2.9 0M530 492.6a1.45 1.45 0 1 0 2.9 0a1.45 1.45 0 1 0 -2.9 0M533.3 487a1.45 1.45 0 1 0 2.9 0a1.45 1.45 0 1 0 -2.9 0M529.2 500.1a1.45 1.45 0 1 0 2.9 0a1.45 1.45 0 1 0 -2.9 0M518.9 512.6a1.45 1.45 0 1 0 2.9 0a1.45 1.45 0 1 0 -2.9 0" fill="#184d90" stroke="#184d90" stroke-width="0.35"/>
<path d="M531.3 500.5a1.45 1.45 0 1 0 2.9 0a1.45 1.45 0 1 0 -2.9 0M543.3 515.1a1.45 1.45 0 1 0 2.9 0a1.45 1.45 0 1 0 -2.9 0M551.1 492.3a1.45 1.45 0 1 0 2.9 0a1.45 1.45 0 1 0 -2.9 0M527.3 514.6a1.45 1.45 0 1 0 2.9 0a1.45 1.45 0 1 0 -2.9 0M535.9 491a1.45 1.45 0 1 0 2.9 0a1.45 1.45 0 1 0 -2.9 0M543.7 498.1a1.45 1.45 0 1 0 2.9 0a1.45 1.45 0 1 0 -2.9 0M540.5 524.6a1.45 1.45 0 1 0 2.9 0a1.45 1.45 0 1 0 -2.9 0M531.7 494.7a1.45 1.45 0 1 0 2.9 0a1.45 1.45 0 1 0 -2.9 0M528.7 521.5a1.45 1.45 0 1 0 2.9 0a1.45 1.45 0 1 0 -2.9 0M528.6 487.4a1.45 1.45 0 1 0 2.9 0a1.45 1.45 0 1 0 -2.9 0M547.7 504.1a1.45 1.45 0 1 0 2.9 0a1.45 1.45 0 1 0 -2.9 0M524.3 492.4a1.45 1.45 0 1 0 2.9 0a1.45 1.45 0 1 0 -2.9 0M560.9 509.4a1.45 1.45 0 1 0 2.9 0a1.45 1.45 0 1 0 -2.9 0M535.1 508.7a1.45 1.45 0 1 0 2.9 0a1.45 1.45 0 1 0 -2.9 0M551.7 505.6a1.45 1.45 0 1 0 2.9 0a1.45 1.45 0 1 0 -2.9 0M546 495.1a1.45 1.45 0 1 0 2.9 0a1.45 1.45 0 1 0 -2.9 0M552.7 489.4a1.45 1.45 0 1 0 2.9 0a1.45 1.45 0 1 0 -2.9 0M541.9 506.2a1.45 1.45 0 1 0 2.9 0a1.45 1.45 0 1 0 -2.9 0M522.5 502.2a1.45 1.45 0 1 0 2.9 0a1.45 1.45 0 1 0 -2.9 0M551.4 513a1.45 1.45 0 1 0 2.9 0a1.45 1.45 0 1 0 -2.9 0" fill="#2768aa" stroke="#2768aa" stroke-width="0.35"/>
<path d="M546.1 508.4a1.45 1.45 0 1 0 2.9 0a1.45 1.45 0 1 0 -2.9 0M550.8 490.9a1.45 1.45 0 1 0 2.9 0a1.45 1.45 0 1 0 -2.9 0M558.2 507.5a1.45 1.45 0 1 0 2.9 0a1.45 1.45 0 1 0 -2.9 0M532.8 507.8a1.45 1.45 0 1 0 2.9 0a1.45 1.45 0 1 0 -2.9 0M547.9 497.2a1.45 1.45 0 1 0 2.9 0a1.45 1.45 0 1 0 -2.9 0M549.8 493.8a1.45 1.45 0 1 0 2.9 0a1.45 1.45 0 1 0 -2.9 0M542.7 515.8a1.45 1.45 0 1 0 2.9 0a1.45 1.45 0 1 0 -2.9 0" fill="#4787bf" stroke="#4787bf" stroke-width="0.35"/>
<path d="M557 512a1.45 1.45 0 1 0 2.9 0a1.45 1.45 0 1 0 -2.9 0M546.2 508.2a1.45 1.45 0 1 0 2.9 0a1.45 1.45 0 1 0 -2.9 0" fill="#d6e7f1" stroke="#d6e7f1" stroke-width="0.35"/>
<path d="M561.4 509.8a1.45 1.45 0 1 0 2.9 0a1.45 1.45 0 1 0 -2.9 0M535.8 520.2a1.45 1.45 0 1 0 2.9 0a1.45 1.45 0 1 0 -2.9 0M519.6 514.1a1.45 1.45 0 1 0 2.9 0a1.45 1.45 0 1 0 -2.9 0" fill="#72a6d0" stroke="#72a6d0" stroke-width="0.35"/>
<path d="M533.1 484.4a1.45 1.45 0 1 0 2.9 0a1.45 1.45 0 1 0 -2.9 0M520.6 527.7a1.45 1.45 0 1 0 2.9 0a1.45 1.45 0 1 0 -2.9 0M531.2 487.5a1.45 1.45 0 1 0 2.9 0a1.45 1.45 0 1 0 -2.9 0M529.7 503.2a1.45 1.45 0 1 0 2.9 0a1.45 1.45 0 1 0 -2.9 0M553 498a1.45 1.45 0 1 0 2.9 0a1.45 1.45 0 1 0 -2.9 0M531.5 517.7a1.45 1.45 0 1 0 2.9 0a1.45 1.45 0 1 0 -2.9 0M538.6 486.5a1.45 1.45 0 1 0 2.9 0a1.45 1.45 0 1 0 -2.9 0M521.9 497a1.45 1.45 0 1 0 2.9 0a1.45 1.45 0 1 0 -2.9 0M560.3 494.7a1.45 1.45 0 1 0 2.9 0a1.45 1.45 0 1 0 -2.9 0M529.9 502.1a1.45 1.45 0 1 0 2.9 0a1.45 1.45 0 1 0 -2.9 0M520.5 519.3a1.45 1.45 0 1 0 2.9 0a1.45 1.45 0 1 0 -2.9 0M520.7 512.4a1.45 1.45 0 1 0 2.9 0a1.45 1.45 0 1 0 -2.9 0M519.6 518a1.45 1.45 0 1 0 2.9 0a1.45 1.45 0 1 0 -2.9 0M537.8 528.3a1.45 1.45 0 1 0 2.9 0a1.45 1.45 0 1 0 -2.9 0M554.4 513.4a1.45 1.45 0 1 0 2.9 0a1.45 1.45 0 1 0 -2.9 0M525.6 509.6a1.45 1.45 0 1 0 2.9 0a1.45 1.45 0 1 0 -2.9 0M523.1 511.6a1.45 1.45 0 1 0 2.9 0a1.45 1.45 0 1 0 -2.9 0M527.2 508.3a1.45 1.45 0 1 0 2.9 0a1.45 1.45 0 1 0 -2.9 0M539.9 485.6a1.45 1.45 0 1 0 2.9 0a1.45 1.45 0 1 0 -2.9 0M524.3 509a1.45 1.45 0 1 0 2.9 0a1.45 1.45 0 1 0 -2.9 0M547.3 487.7a1.45 1.45 0 1 0 2.9 0a1.45 1.45 0 1 0 -2.9 0M550.2 499.6a1.45 1.45 0 1 0 2.9 0a1.45 1.45 0 1 0 -2.9 0M537.7 506.5a1.45 1.45 0 1 0 2.9 0a1.45 1.45 0 1 0 -2.9 0M520.8 514.8a1.45 1.45 0 1 0 2.9 0a1.45 1.45 0 1 0 -2.9 0M523.8 508.3a1.45 1.45 0 1 0 2.9 0a1.45 1.45 0 1 0 -2.9 0M553.4 489.6a1.45 1.45 0 1 0 2.9 0a1.45 1.45 0 1 0 -2.9 0M559.1 503.1a1.45 1.45 0 1 0 2.9 0a1.45 1.45 0 1 0 -2.9 0M563.4 504.3a1.45 1.45 0 1 0 2.9 0a1.45 1.45 0 1 0 -2.9 0M561 510.6a1.45 1.45 0 1 0 2.9 0a1.45 1.45 0 1 0 -2.9 0" fill="#184d90" stroke="#184d90" stroke-width="0.35"/>
<path d="M532 494.3a1.45 1.45 0 1 0 2.9 0a1.45 1.45 0 1 0 -2.9 0M556.8 510a1.45 1.45 0 1 0 2.9 0a1.45 1.45 0 1 0 -2.9 0M555.1 505.8a1.45 1.45 0 1 0 2.9 0a1.45 1.45 0 1 0 -2.9 0M525.8 500.5a1.45 1.45 0 1 0 2.9 0a1.45 1.45 0 1 0 -2.9 0M539.8 521a1.45 1.45 0 1 0 2.9 0a1.45 1.45 0 1 0 -2.9 0M522.3 514.9a1.45 1.45 0 1 0 2.9 0a1.45 1.45 0 1 0 -2.9 0M540.6 521.8a1.45 1.45 0 1 0 2.9 0a1.45 1.45 0 1 0 -2.9 0M528.2 513.4a1.45 1.45 0 1 0 2.9 0a1.45 1.45 0 1 0 -2.9 0M550.5 495.1a1.45 1.45 0 1 0 2.9 0a1.45 1.45 0 1 0 -2.9 0" fill="#72a6d0" stroke="#72a6d0" stroke-width="0.35"/>
<path d="M543.5 486.4a1.45 1.45 0 1 0 2.9 0a1.45 1.45 0 1 0 -2.9 0M543.4 515.7a1.45 1.45 0 1 0 2.9 0a1.45 1.45 0 1 0 -2.9 0M553.1 501.9a1.45 1.45 0 1 0 2.9 0a1.45 1.45 0 1 0 -2.9 0M557.1 518.1a1.45 1.45 0 1 0 2.9 0a1.45 1.45 0 1 0 -2.9 0M544.1 502.3a1.45 1.45 0 1 0 2.9 0a1.45 1.45 0 1 0 -2.9 0M539.2 489.8a1.45 1.45 0 1 0 2.9 0a1.45 1.45 0 1 0 -2.9 0M550.4 493.5a1.45 1.45 0 1 0 2.9 0a1.45 1.45 0 1 0 -2.9 0M545.1 502.7a1.45 1.45 0 1 0 2.9 0a1.45 1.45 0 1 0 -2.9 0M549.8 496.8a1.45 1.45 0 1 0 2.9 0a1.45 1.45 0 1 0 -2.9 0M530.5 524.1a1.45 1.45 0 1 0 2.9 0a1.45 1.45 0 1 0 -2.9 0M530.3 524a1.45 1.45 0 1 0 2.9 0a1.45 1.45 0 1 0 -2.9 0M545.8 504.9a1.45 1.45 0 1 0 2.9 0a1.45 1.45 0 1 0 -2.9 0M542.4 505.2a1.45 1.45 0 1 0 2.9 0a1.45 1.45 0 1 0 -2.9 0M524.5 525.9a1.45 1.45 0 1 0 2.9 0a1.45 1.45 0 1 0 -2.9 0M523.2 514.5a1.45 1.45 0 1 0 2.9 0a1.45 1.45 0 1 0 -2.9 0M523.2 495.3a1.45 1.45 0 1 0 2.9 0a1.45 1.45 0 1 0 -2.9 0M556 490.7a1.45 1.45 0 1 0 2.9 0a1.45 1.45 0 1 0 -2.9 0M526.5 497.3a1.45 1.45 0 1 0 2.9 0a1.45 1.45 0 1 0 -2.9 0M527.9 488.5a1.45 1.45 0 1 0 2.9 0a1.45 1.45 0 1 0 -2.9 0" fill="#2768aa" stroke="#2768aa" stroke-width="0.35"/>
<path d="M543.2 513.2a1.45 1.45 0 1 0 2.9 0a1.45 1.45 0 1 0 -2.9 0M549.1 497.5a1.45 1.45 0 1 0 2.9 0a1.45 1.45 0 1 0 -2.9 0M538.5 512.5a1.45 1.45 0 1 0 2.9 0a1.45 1.45 0 1 0 -2.9 0M530.5 525.9a1.45 1.45 0 1 0 2.9 0a1.45 1.45 0 1 0 -2.9 0M523.7 504.3a1.45 1.45 0 1 0 2.9 0a1.45 1.45 0 1 0 -2.9 0M530.7 511.5a1.45 1.45 0 1 0 2.9 0a1.45 1.45 0 1 0 -2.9 0M524.4 493a1.45 1.45 0 1 0 2.9 0a1.45 1.45 0 1 0 -2.9 0M540 489.5a1.45 1.45 0 1 0 2.9 0a1.45 1.45 0 1 0 -2.9 0M553.1 502.3a1.45 1.45 0 1 0 2.9 0a1.45 1.45 0 1 0 -2.9 0M560.5 511.4a1.45 1.45 0 1 0 2.9 0a1.45 1.45 0 1 0 -2.9 0M528.1 516.6a1.45 1.45 0 1 0 2.9 0a1.45 1.45 0 1 0 -2.9 0M544 485.6a1.45 1.45 0 1 0 2.9 0a1.45 1.45 0 1 0 -2.9 0M536.5 491.6a1.45 1.45 0 1 0 2.9 0a1.45 1.45 0 1 0 -2.9 0M552.2 505.5a1.45 1.45 0 1 0 2.9 0a1.45 1.45 0 1 0 -2.9 0" fill="#4787bf" stroke="#4787bf" stroke-width="0.35"/>
<path d="M556.5 493.3a1.45 1.45 0 1 0 2.9 0a1.45 1.45 0 1 0 -2.9 0M535.4 497.8a1.45 1.45 0 1 0 2.9 0a1.45 1.45 0 1 0 -2.9 0M536.4 511.6a1.45 1.45 0 1 0 2.9 0a1.45 1.45 0 1 0 -2.9 0M548.3 489.6a1.45 1.45 0 1 0 2.9 0a1.45 1.45 0 1 0 -2.9 0M521.8 525.8a1.45 1.45 0 1 0 2.9 0a1.45 1.45 0 1 0 -2.9 0M540.8 524a1.45 1.45 0 1 0 2.9 0a1.45 1.45 0 1 0 -2.9 0M536.3 524.9a1.45 1.45 0 1 0 2.9 0a1.45 1.45 0 1 0 -2.9 0M528.6 508.2a1.45 1.45 0 1 0 2.9 0a1.45 1.45 0 1 0 -2.9 0" fill="#f4b6a2" stroke="#f4b6a2" stroke-width="0.35"/>
<path d="M539.3 493.1a1.45 1.45 0 1 0 2.9 0a1.45 1.45 0 1 0 -2.9 0M540.4 488.5a1.45 1.45 0 1 0 2.9 0a1.45 1.45 0 1 0 -2.9 0" fill="#d6e7f1" stroke="#d6e7f1" stroke-width="0.35"/>
<path d="M534.9 494.6a1.45 1.45 0 1 0 2.9 0a1.45 1.45 0 1 0 -2.9 0M547.4 499.6a1.45 1.45 0 1 0 2.9 0a1.45 1.45 0 1 0 -2.9 0M563.9 507.6a1.45 1.45 0 1 0 2.9 0a1.45 1.45 0 1 0 -2.9 0M535 490.5a1.45 1.45 0 1 0 2.9 0a1.45 1.45 0 1 0 -2.9 0M541.2 514.5a1.45 1.45 0 1 0 2.9 0a1.45 1.45 0 1 0 -2.9 0M538.5 528.7a1.45 1.45 0 1 0 2.9 0a1.45 1.45 0 1 0 -2.9 0M520.9 508.7a1.45 1.45 0 1 0 2.9 0a1.45 1.45 0 1 0 -2.9 0M543.4 518.3a1.45 1.45 0 1 0 2.9 0a1.45 1.45 0 1 0 -2.9 0M544.1 516.6a1.45 1.45 0 1 0 2.9 0a1.45 1.45 0 1 0 -2.9 0M547.4 512.6a1.45 1.45 0 1 0 2.9 0a1.45 1.45 0 1 0 -2.9 0M548.9 503a1.45 1.45 0 1 0 2.9 0a1.45 1.45 0 1 0 -2.9 0" fill="#72a6d0" stroke="#72a6d0" stroke-width="0.35"/>
<path d="M548.8 503.6a1.45 1.45 0 1 0 2.9 0a1.45 1.45 0 1 0 -2.9 0M539.5 523.4a1.45 1.45 0 1 0 2.9 0a1.45 1.45 0 1 0 -2.9 0M543.7 498.2a1.45 1.45 0 1 0 2.9 0a1.45 1.45 0 1 0 -2.9 0M547.3 507.9a1.45 1.45 0 1 0 2.9 0a1.45 1.45 0 1 0 -2.9 0M551.7 506.5a1.45 1.45 0 1 0 2.9 0a1.45 1.45 0 1 0 -2.9 0M540.8 499a1.45 1.45 0 1 0 2.9 0a1.45 1.45 0 1 0 -2.9 0M541.5 508.8a1.45 1.45 0 1 0 2.9 0a1.45 1.45 0 1 0 -2.9 0M535.6 487.5a1.45 1.45 0 1 0 2.9 0a1.45 1.45 0 1 0 -2.9 0M520.4 523a1.45 1.45 0 1 0 2.9 0a1.45 1.45 0 1 0 -2.9 0M532.8 497.7a1.45 1.45 0 1 0 2.9 0a1.45 1.45 0 1 0 -2.9 0M554.7 518.9a1.45 1.45 0 1 0 2.9 0a1.45 1.45 0 1 0 -2.9 0M556.1 490.7a1.45 1.45 0 1 0 2.9 0a1.45 1.45 0 1 0 -2.9 0M522.3 506.8a1.45 1.45 0 1 0 2.9 0a1.45 1.45 0 1 0 -2.9 0M563.1 498.8a1.45 1.45 0 1 0 2.9 0a1.45 1.45 0 1 0 -2.9 0M534.6 496.2a1.45 1.45 0 1 0 2.9 0a1.45 1.45 0 1 0 -2.9 0" fill="#184d90" stroke="#184d90" stroke-width="0.35"/>
<path d="M553.1 510.4a1.45 1.45 0 1 0 2.9 0a1.45 1.45 0 1 0 -2.9 0M561.8 497.6a1.45 1.45 0 1 0 2.9 0a1.45 1.45 0 1 0 -2.9 0M539.5 497.5a1.45 1.45 0 1 0 2.9 0a1.45 1.45 0 1 0 -2.9 0M538.9 523.1a1.45 1.45 0 1 0 2.9 0a1.45 1.45 0 1 0 -2.9 0M554.4 517.9a1.45 1.45 0 1 0 2.9 0a1.45 1.45 0 1 0 -2.9 0M560.9 511.6a1.45 1.45 0 1 0 2.9 0a1.45 1.45 0 1 0 -2.9 0M533.3 500.5a1.45 1.45 0 1 0 2.9 0a1.45 1.45 0 1 0 -2.9 0M542.7 516.5a1.45 1.45 0 1 0 2.9 0a1.45 1.45 0 1 0 -2.9 0M545.8 519.9a1.45 1.45 0 1 0 2.9 0a1.45 1.45 0 1 0 -2.9 0M553.9 508.7a1.45 1.45 0 1 0 2.9 0a1.45 1.45 0 1 0 -2.9 0M546.6 514a1.45 1.45 0 1 0 2.9 0a1.45 1.45 0 1 0 -2.9 0M563.4 498.8a1.45 1.45 0 1 0 2.9 0a1.45 1.45 0 1 0 -2.9 0M544.8 520a1.45 1.45 0 1 0 2.9 0a1.45 1.45 0 1 0 -2.9 0M539.3 486.4a1.45 1.45 0 1 0 2.9 0a1.45 1.45 0 1 0 -2.9 0M535.6 516.4a1.45 1.45 0 1 0 2.9 0a1.45 1.45 0 1 0 -2.9 0M557.7 499.6a1.45 1.45 0 1 0 2.9 0a1.45 1.45 0 1 0 -2.9 0M523.3 493.8a1.45 1.45 0 1 0 2.9 0a1.45 1.45 0 1 0 -2.9 0M541.8 496.6a1.45 1.45 0 1 0 2.9 0a1.45 1.45 0 1 0 -2.9 0M563.8 498.9a1.45 1.45 0 1 0 2.9 0a1.45 1.45 0 1 0 -2.9 0M544.8 514a1.45 1.45 0 1 0 2.9 0a1.45 1.45 0 1 0 -2.9 0" fill="#2768aa" stroke="#2768aa" stroke-width="0.35"/>
<path d="M534.1 502a1.45 1.45 0 1 0 2.9 0a1.45 1.45 0 1 0 -2.9 0M534.8 523.2a1.45 1.45 0 1 0 2.9 0a1.45 1.45 0 1 0 -2.9 0M524.5 493.3a1.45 1.45 0 1 0 2.9 0a1.45 1.45 0 1 0 -2.9 0" fill="#f4b6a2" stroke="#f4b6a2" stroke-width="0.35"/>
<path d="M561.5 497.1a1.45 1.45 0 1 0 2.9 0a1.45 1.45 0 1 0 -2.9 0M531.5 497.8a1.45 1.45 0 1 0 2.9 0a1.45 1.45 0 1 0 -2.9 0M559.4 511.2a1.45 1.45 0 1 0 2.9 0a1.45 1.45 0 1 0 -2.9 0M534.4 498.4a1.45 1.45 0 1 0 2.9 0a1.45 1.45 0 1 0 -2.9 0M535.8 505.1a1.45 1.45 0 1 0 2.9 0a1.45 1.45 0 1 0 -2.9 0" fill="#4787bf" stroke="#4787bf" stroke-width="0.35"/>
<path d="M556.4 510.4a1.45 1.45 0 1 0 2.9 0a1.45 1.45 0 1 0 -2.9 0M537.8 493a1.45 1.45 0 1 0 2.9 0a1.45 1.45 0 1 0 -2.9 0" fill="#d6e7f1" stroke="#d6e7f1" stroke-width="0.35"/>
<path d="M590.4 471.7h1.9v1.9h-1.9zM578.5 480.8h1.9v1.9h-1.9zM595.2 474.1h1.9v1.9h-1.9zM579 482.8h1.9v1.9h-1.9zM565.7 487.9h1.9v1.9h-1.9zM587.6 452.8h1.9v1.9h-1.9zM569.9 483.1h1.9v1.9h-1.9zM580.3 458.1h1.9v1.9h-1.9zM569.6 495.8h1.9v1.9h-1.9zM575.2 469.3h1.9v1.9h-1.9zM568.7 495.5h1.9v1.9h-1.9zM571.2 463h1.9v1.9h-1.9zM574.5 488.1h1.9v1.9h-1.9zM573.6 462.8h1.9v1.9h-1.9zM599.3 460.4h1.9v1.9h-1.9z" fill="#f1aaa4" stroke="#dc6a66" stroke-width="0.45"/>
<path d="M585.7 451.6h1.9v1.9h-1.9zM586.4 467.5h1.9v1.9h-1.9zM576.3 458.2h1.9v1.9h-1.9zM566.1 481.9h1.9v1.9h-1.9zM570.4 482.7h1.9v1.9h-1.9zM576.4 479.8h1.9v1.9h-1.9z" fill="#e98d88" stroke="#dc6a66" stroke-width="0.45"/>
<path d="M573.9 459.7h1.9v1.9h-1.9zM588.4 476.4h1.9v1.9h-1.9zM588.5 449.8h1.9v1.9h-1.9zM588.5 476.3h1.9v1.9h-1.9zM569.7 469.4h1.9v1.9h-1.9zM582.8 454.8h1.9v1.9h-1.9z" fill="#e98d88" stroke="#dc6a66" stroke-width="0.45"/>
<path d="M585.7 470.2h1.9v1.9h-1.9zM573.5 458.5h1.9v1.9h-1.9zM589.9 464.9h1.9v1.9h-1.9zM572.5 488.3h1.9v1.9h-1.9zM571.5 482.5h1.9v1.9h-1.9zM592.2 461.6h1.9v1.9h-1.9zM581.9 465.1h1.9v1.9h-1.9zM581.7 449.6h1.9v1.9h-1.9zM590.5 476.4h1.9v1.9h-1.9zM574.9 467.2h1.9v1.9h-1.9zM566.8 480.3h1.9v1.9h-1.9zM581.4 452.5h1.9v1.9h-1.9zM583.3 463.1h1.9v1.9h-1.9z" fill="#f1aaa4" stroke="#dc6a66" stroke-width="0.45"/>
<path d="M596.8 459.1h1.9v1.9h-1.9zM575.4 478.5h1.9v1.9h-1.9zM589.8 450.1h1.9v1.9h-1.9zM577.6 461.4h1.9v1.9h-1.9zM576.7 467.3h1.9v1.9h-1.9zM593.2 470.9h1.9v1.9h-1.9zM596.4 462.2h1.9v1.9h-1.9zM572.2 498.1h1.9v1.9h-1.9zM569.8 489.3h1.9v1.9h-1.9zM580.5 459.3h1.9v1.9h-1.9zM580 481.7h1.9v1.9h-1.9zM596.8 470.3h1.9v1.9h-1.9zM572.1 472.9h1.9v1.9h-1.9zM572.8 470.2h1.9v1.9h-1.9zM569.8 471.3h1.9v1.9h-1.9zM575.9 482.4h1.9v1.9h-1.9zM577.8 481.3h1.9v1.9h-1.9zM580.1 469.4h1.9v1.9h-1.9zM569.4 481h1.9v1.9h-1.9zM596.5 469.3h1.9v1.9h-1.9z" fill="#f1aaa4" stroke="#dc6a66" stroke-width="0.45"/>
<path d="M594 464.2h1.9v1.9h-1.9zM577.9 471.9h1.9v1.9h-1.9zM573.2 455.5h1.9v1.9h-1.9zM578.1 456.8h1.9v1.9h-1.9zM588.3 453.7h1.9v1.9h-1.9zM574.9 474.7h1.9v1.9h-1.9zM591.6 470.5h1.9v1.9h-1.9zM572.3 466.2h1.9v1.9h-1.9zM585.2 478.1h1.9v1.9h-1.9zM576.3 462.5h1.9v1.9h-1.9zM568.8 479.8h1.9v1.9h-1.9zM579 467.7h1.9v1.9h-1.9z" fill="#e98d88" stroke="#dc6a66" stroke-width="0.45"/>
<path d="M574.5 470.1h1.9v1.9h-1.9z" fill="#2768aa" stroke="#dc6a66" stroke-width="0.45"/>
<path d="M586.2 473.7h1.9v1.9h-1.9zM596.4 463.3h1.9v1.9h-1.9zM595.4 471.8h1.9v1.9h-1.9zM573.4 478.1h1.9v1.9h-1.9zM572.4 453.1h1.9v1.9h-1.9zM595.7 462.4h1.9v1.9h-1.9zM589.3 450.2h1.9v1.9h-1.9zM571.3 497.7h1.9v1.9h-1.9zM592.9 468h1.9v1.9h-1.9zM576.6 480.7h1.9v1.9h-1.9z" fill="#f1aaa4" stroke="#dc6a66" stroke-width="0.45"/>
<path d="M570.5 475.1h1.9v1.9h-1.9zM584.5 457.8h1.9v1.9h-1.9zM584.5 473.6h1.9v1.9h-1.9zM596.3 455.2h1.9v1.9h-1.9zM587.8 453.7h1.9v1.9h-1.9zM574.9 454.2h1.9v1.9h-1.9zM594.8 466.7h1.9v1.9h-1.9zM583.3 462.6h1.9v1.9h-1.9z" fill="#e98d88" stroke="#dc6a66" stroke-width="0.45"/>
<path d="M578.6 458.2h1.9v1.9h-1.9zM576.8 450.1h1.9v1.9h-1.9zM574.6 453.6h1.9v1.9h-1.9zM594.7 455.3h1.9v1.9h-1.9zM592.4 465.3h1.9v1.9h-1.9zM569.5 482.3h1.9v1.9h-1.9zM577.9 480.8h1.9v1.9h-1.9zM577.5 469.4h1.9v1.9h-1.9zM574 473.4h1.9v1.9h-1.9zM596.3 469h1.9v1.9h-1.9zM577.5 465.1h1.9v1.9h-1.9zM572.7 493.3h1.9v1.9h-1.9zM584.7 470.8h1.9v1.9h-1.9zM577.3 449.3h1.9v1.9h-1.9zM570.8 489.3h1.9v1.9h-1.9zM580.2 479.6h1.9v1.9h-1.9zM592.4 469h1.9v1.9h-1.9zM586.5 462.1h1.9v1.9h-1.9zM566.9 485h1.9v1.9h-1.9zM570.1 488.5h1.9v1.9h-1.9zM567.6 487.5h1.9v1.9h-1.9zM573 476.6h1.9v1.9h-1.9zM577.5 458.3h1.9v1.9h-1.9zM588.5 457.5h1.9v1.9h-1.9zM579.5 452.2h1.9v1.9h-1.9zM596.7 468.1h1.9v1.9h-1.9z" fill="#e98d88" stroke="#dc6a66" stroke-width="0.45"/>
<path d="M584.6 461.7h1.9v1.9h-1.9zM581.6 475.2h1.9v1.9h-1.9zM570.1 475.8h1.9v1.9h-1.9zM573 465.4h1.9v1.9h-1.9zM590.2 450.5h1.9v1.9h-1.9zM582 477.6h1.9v1.9h-1.9zM574 483.9h1.9v1.9h-1.9zM589.3 454.3h1.9v1.9h-1.9zM575.2 468.2h1.9v1.9h-1.9zM582.7 474.5h1.9v1.9h-1.9zM590.9 464.9h1.9v1.9h-1.9zM589.5 453.1h1.9v1.9h-1.9zM572.5 485.9h1.9v1.9h-1.9zM594.8 461.5h1.9v1.9h-1.9zM584.5 476.2h1.9v1.9h-1.9zM567 495.9h1.9v1.9h-1.9zM573.6 494.3h1.9v1.9h-1.9zM570.9 462.7h1.9v1.9h-1.9zM574.3 461.6h1.9v1.9h-1.9zM571.6 460h1.9v1.9h-1.9zM575.4 480.1h1.9v1.9h-1.9zM569 480.5h1.9v1.9h-1.9zM575.2 454h1.9v1.9h-1.9zM571.5 462.6h1.9v1.9h-1.9zM577.7 485.9h1.9v1.9h-1.9zM587.5 452.1h1.9v1.9h-1.9zM598.6 470.3h1.9v1.9h-1.9zM591.5 460.7h1.9v1.9h-1.9zM572.8 473.2h1.9v1.9h-1.9zM579.8 479.1h1.9v1.9h-1.9zM598.1 459.4h1.9v1.9h-1.9zM574.5 492.1h1.9v1.9h-1.9zM594.7 452.9h1.9v1.9h-1.9zM567.2 478.5h1.9v1.9h-1.9z" fill="#f1aaa4" stroke="#dc6a66" stroke-width="0.45"/>
<path d="M589.9 456.4h1.9v1.9h-1.9zM576.1 475.6h1.9v1.9h-1.9z" fill="#2768aa" stroke="#dc6a66" stroke-width="0.45"/>
<path d="M566.2 481.9h1.9v1.9h-1.9zM573.4 456.4h1.9v1.9h-1.9zM593.1 474.3h1.9v1.9h-1.9zM585.9 460.4h1.9v1.9h-1.9zM596.1 471.9h1.9v1.9h-1.9zM572.4 487.8h1.9v1.9h-1.9z" fill="#e98d88" stroke="#dc6a66" stroke-width="0.45"/>
<path d="M582.1 454.4h1.9v1.9h-1.9zM597.7 464.4h1.9v1.9h-1.9zM572.9 491.2h1.9v1.9h-1.9zM576.1 461.5h1.9v1.9h-1.9zM595.5 472.5h1.9v1.9h-1.9zM590.4 470.7h1.9v1.9h-1.9zM586.8 478h1.9v1.9h-1.9zM576.5 462.2h1.9v1.9h-1.9zM577.5 461.9h1.9v1.9h-1.9zM599.8 461.5h1.9v1.9h-1.9zM579.4 477.1h1.9v1.9h-1.9zM576.9 451.7h1.9v1.9h-1.9zM572.4 492.3h1.9v1.9h-1.9zM580.9 450.6h1.9v1.9h-1.9zM585.2 477.3h1.9v1.9h-1.9zM571.1 495.8h1.9v1.9h-1.9z" fill="#f1aaa4" stroke="#dc6a66" stroke-width="0.45"/>
<path d="M582 450.5h1.9v1.9h-1.9zM578.3 470h1.9v1.9h-1.9zM577.5 452.7h1.9v1.9h-1.9zM587.1 464.5h1.9v1.9h-1.9zM591.2 467.5h1.9v1.9h-1.9z" fill="#e98d88" stroke="#dc6a66" stroke-width="0.45"/>
<path d="M568.1 492.9h1.9v1.9h-1.9zM579.1 474.2h1.9v1.9h-1.9zM573.8 463.7h1.9v1.9h-1.9zM590.6 473.2h1.9v1.9h-1.9zM590 472.1h1.9v1.9h-1.9zM576 468.7h1.9v1.9h-1.9zM571.4 457.9h1.9v1.9h-1.9zM576.2 456.3h1.9v1.9h-1.9zM589.5 461.2h1.9v1.9h-1.9zM581 453.9h1.9v1.9h-1.9z" fill="#f1aaa4" stroke="#dc6a66" stroke-width="0.45"/>
<path d="M591.5 482.9h2v2h-2z" fill="#4787bf" stroke="#123a70" stroke-width="0.35"/>
<path d="M632.1 488.8h2v2h-2z" fill="#2768aa" stroke="#123a70" stroke-width="0.35"/>
<path d="M624.8 478.5h2v2h-2zM633.4 483.3h2v2h-2zM604.4 477h2v2h-2zM613.6 479.2h2v2h-2zM584.9 487h2v2h-2zM598.4 479.1h2v2h-2zM610 481.5h2v2h-2zM611.2 475.4h2v2h-2zM640.4 493.2h2v2h-2zM603.8 482.3h2v2h-2z" fill="#184d90" stroke="#123a70" stroke-width="0.35"/>
<path d="M614.5 472.5h2v2h-2zM605.7 480.2h2v2h-2zM600.4 479.1h2v2h-2zM642.4 491h2v2h-2zM648.4 500.3h2v2h-2zM640.2 487.2h2v2h-2zM633.1 487.3h2v2h-2zM599.4 481.7h2v2h-2zM619.3 480.1h2v2h-2zM641 493.8h2v2h-2zM620.3 479.9h2v2h-2zM599.1 476.4h2v2h-2zM589.6 486.6h2v2h-2zM634.3 488.6h2v2h-2zM636.5 492.2h2v2h-2z" fill="#2768aa" stroke="#123a70" stroke-width="0.35"/>
<path d="M627.4 482.4h2v2h-2zM616.6 478.8h2v2h-2zM587.6 486.3h2v2h-2zM600.2 477.2h2v2h-2zM653.7 502.2h2v2h-2z" fill="#72a6d0" stroke="#72a6d0" stroke-width="0.35"/>
<path d="M594.6 484.4h2v2h-2zM637 491.2h2v2h-2zM647 491.3h2v2h-2zM651 501.7h2v2h-2zM648.8 495.8h2v2h-2z" fill="#4787bf" stroke="#123a70" stroke-width="0.35"/>
<path d="M598.1 480.8h2v2h-2zM595.2 478.8h2v2h-2zM600.2 475.3h2v2h-2zM615.5 475.4h2v2h-2zM608.2 474h2v2h-2zM608.5 477.6h2v2h-2zM595.5 484.1h2v2h-2z" fill="#2768aa" stroke="#123a70" stroke-width="0.35"/>
<path d="M604.2 481h2v2h-2zM636.3 485.3h2v2h-2z" fill="#4787bf" stroke="#123a70" stroke-width="0.35"/>
<path d="M587.6 478.8h2v2h-2zM584.5 482.8h2v2h-2zM622.1 480h2v2h-2zM607.3 480.4h2v2h-2zM645.6 492.7h2v2h-2zM607 476.1h2v2h-2zM602.8 478.1h2v2h-2z" fill="#184d90" stroke="#123a70" stroke-width="0.35"/>
<path d="M636.3 484.4h2v2h-2z" fill="#72a6d0" stroke="#72a6d0" stroke-width="0.35"/>
<path d="M601.2 483.1h2v2h-2zM604.1 475.9h2v2h-2zM589.7 485.3h2v2h-2zM582.6 481.5h2v2h-2zM621.3 476.8h2v2h-2zM638.4 485.4h2v2h-2zM628.1 480.6h2v2h-2zM650.7 496.2h2v2h-2zM609.5 480.6h2v2h-2zM622.9 480.4h2v2h-2zM644.8 492.8h2v2h-2zM586 483.6h2v2h-2zM653.3 497.8h2v2h-2z" fill="#184d90" stroke="#123a70" stroke-width="0.35"/>
<path d="M645.9 490.6h2v2h-2zM646.7 492.4h2v2h-2zM607.7 475.1h2v2h-2zM611.4 475.1h2v2h-2zM645 492.8h2v2h-2zM607.5 482.9h2v2h-2zM647.5 497.9h2v2h-2z" fill="#2768aa" stroke="#123a70" stroke-width="0.35"/>
<path d="M590.8 485.6h2v2h-2zM629.4 483.2h2v2h-2zM641.7 496.3h2v2h-2zM588.6 481.3h2v2h-2zM601.6 477h2v2h-2zM633.9 487h2v2h-2z" fill="#4787bf" stroke="#123a70" stroke-width="0.35"/>
<path d="M648.7 501h2v2h-2z" fill="#72a6d0" stroke="#72a6d0" stroke-width="0.35"/>
<path d="M649.5 499.8h2v2h-2zM639.3 488.5h2v2h-2zM607.7 476.8h2v2h-2zM627.1 475.9h2v2h-2zM616.2 479.9h2v2h-2zM638.7 489.4h2v2h-2zM646.5 492.4h2v2h-2zM625.1 476.2h2v2h-2zM643.1 486.9h2v2h-2zM647.7 493.7h2v2h-2zM647.4 504.3h2v2h-2zM590 479.6h2v2h-2zM615.8 477.9h2v2h-2zM602.5 475.8h2v2h-2zM642.1 494.2h2v2h-2zM639.1 490.8h2v2h-2zM647 497.2h2v2h-2zM608.3 473.8h2v2h-2zM648.3 500.1h2v2h-2zM632.1 486.7h2v2h-2zM619.2 477.6h2v2h-2zM589.5 480.8h2v2h-2zM627.8 486.1h2v2h-2zM617.8 478.6h2v2h-2zM594.9 476.8h2v2h-2zM612.4 475.4h2v2h-2zM608.8 481.6h2v2h-2zM618.9 475.3h2v2h-2z" fill="#184d90" stroke="#123a70" stroke-width="0.35"/>
<path d="M634.7 484.4h2v2h-2zM636.6 486.6h2v2h-2zM649.1 496.8h2v2h-2zM616.3 473.2h2v2h-2zM588.3 487.8h2v2h-2zM646.1 497.3h2v2h-2zM635.7 486.2h2v2h-2zM587.8 487.8h2v2h-2zM617.6 473.2h2v2h-2zM640.6 493.6h2v2h-2zM595.7 479.3h2v2h-2zM628.6 480.3h2v2h-2zM617.8 476.9h2v2h-2zM615.7 480.6h2v2h-2zM590.9 483.7h2v2h-2zM618.3 474.5h2v2h-2zM638.6 491.1h2v2h-2zM591.7 486.7h2v2h-2zM593.9 478.9h2v2h-2zM604.9 481.3h2v2h-2zM638.8 484.2h2v2h-2zM640.3 493.4h2v2h-2zM629.9 485.7h2v2h-2z" fill="#2768aa" stroke="#123a70" stroke-width="0.35"/>
<path d="M624.5 478.6h2v2h-2zM621.9 480.6h2v2h-2zM593.4 482.9h2v2h-2zM605.6 480.4h2v2h-2zM639.7 496.1h2v2h-2zM593.1 485.7h2v2h-2zM609.9 480.3h2v2h-2zM642.6 495.9h2v2h-2zM594.6 482.1h2v2h-2zM625 476h2v2h-2z" fill="#4787bf" stroke="#123a70" stroke-width="0.35"/>
<path d="M611.7 481.3h2v2h-2zM616.4 478.7h2v2h-2zM600.3 483h2v2h-2zM633.3 490.4h2v2h-2zM602.4 480.1h2v2h-2zM599 484.4h2v2h-2zM627.5 485.4h2v2h-2zM591.5 485h2v2h-2z" fill="#72a6d0" stroke="#72a6d0" stroke-width="0.35"/>
<path d="M632.9 489.3h1.9v1.9h-1.9zM617 482.8h1.9v1.9h-1.9zM621.1 489.3h1.9v1.9h-1.9zM602.7 484.3h1.9v1.9h-1.9zM633.1 489.6h1.9v1.9h-1.9z" fill="#72a6d0" stroke="#e09a90" stroke-width="0.35"/>
<path d="M593.4 495.2h1.9v1.9h-1.9zM609.7 486h1.9v1.9h-1.9zM627 491.6h1.9v1.9h-1.9zM619.2 486.4h1.9v1.9h-1.9zM647.3 504h1.9v1.9h-1.9zM621.3 491.2h1.9v1.9h-1.9zM642.5 504.7h1.9v1.9h-1.9zM623.6 485.3h1.9v1.9h-1.9zM619.5 490.5h1.9v1.9h-1.9zM589.8 493.2h1.9v1.9h-1.9zM615.5 483.8h1.9v1.9h-1.9zM611.6 487.6h1.9v1.9h-1.9zM591 493.8h1.9v1.9h-1.9zM585 488.4h1.9v1.9h-1.9zM595.4 491.8h1.9v1.9h-1.9zM587.2 495.5h1.9v1.9h-1.9zM635.8 494.6h1.9v1.9h-1.9zM648.8 504.4h1.9v1.9h-1.9zM616.4 488h1.9v1.9h-1.9zM645.9 505.5h1.9v1.9h-1.9zM632.1 490.7h1.9v1.9h-1.9zM633.2 498.7h1.9v1.9h-1.9zM624.1 491.1h1.9v1.9h-1.9z" fill="#f6d4cc" stroke="#e09a90" stroke-width="0.35"/>
<path d="M597.8 493.4h1.9v1.9h-1.9zM648.9 511.4h1.9v1.9h-1.9zM589.9 496h1.9v1.9h-1.9zM627.7 493h1.9v1.9h-1.9zM603.2 489.4h1.9v1.9h-1.9zM586.3 495.8h1.9v1.9h-1.9zM640.8 501.6h1.9v1.9h-1.9zM637.4 502.7h1.9v1.9h-1.9zM588.2 496h1.9v1.9h-1.9zM618.6 489.4h1.9v1.9h-1.9zM586.9 494.4h1.9v1.9h-1.9zM637.1 500.9h1.9v1.9h-1.9zM625.3 489.1h1.9v1.9h-1.9zM598.7 492.4h1.9v1.9h-1.9zM623.1 492.7h1.9v1.9h-1.9z" fill="#f0b0a0" stroke="#e09a90" stroke-width="0.35"/>
<path d="M640.7 498.7h1.9v1.9h-1.9zM611.8 487.1h1.9v1.9h-1.9zM640.7 496.9h1.9v1.9h-1.9z" fill="#4787bf" stroke="#e09a90" stroke-width="0.35"/>
<path d="M586.7 494h1.9v1.9h-1.9zM634.9 494.9h1.9v1.9h-1.9zM597.4 486.9h1.9v1.9h-1.9zM648.8 510.8h1.9v1.9h-1.9zM651.1 504.8h1.9v1.9h-1.9zM639.2 502.3h1.9v1.9h-1.9zM592.4 488.8h1.9v1.9h-1.9zM605.3 489.9h1.9v1.9h-1.9zM636.6 497.6h1.9v1.9h-1.9zM609.1 483.7h1.9v1.9h-1.9zM592.3 490.6h1.9v1.9h-1.9zM591.5 492.8h1.9v1.9h-1.9zM586.2 487.9h1.9v1.9h-1.9zM591.3 489.9h1.9v1.9h-1.9zM626 493.3h1.9v1.9h-1.9zM596.1 494h1.9v1.9h-1.9zM632 496.6h1.9v1.9h-1.9zM609 487.2h1.9v1.9h-1.9z" fill="#d6e7f1" stroke="#e09a90" stroke-width="0.35"/>
<path d="M599.1 486.9h1.9v1.9h-1.9zM626.4 488.6h1.9v1.9h-1.9zM583.9 492.2h1.9v1.9h-1.9zM607 484.6h1.9v1.9h-1.9zM596.4 489.8h1.9v1.9h-1.9z" fill="#f0b8a8" stroke="#e09a90" stroke-width="0.35"/>
<path d="M611.5 489.9h1.9v1.9h-1.9zM642.5 504.1h1.9v1.9h-1.9zM627.3 494.2h1.9v1.9h-1.9zM613.5 488.1h1.9v1.9h-1.9zM628.2 494.8h1.9v1.9h-1.9z" fill="#f0b0a0" stroke="#e09a90" stroke-width="0.35"/>
<path d="M625.1 489h1.9v1.9h-1.9zM644.2 499.1h1.9v1.9h-1.9zM626.4 493.6h1.9v1.9h-1.9zM609 484.5h1.9v1.9h-1.9zM646 506.2h1.9v1.9h-1.9zM629.3 488.3h1.9v1.9h-1.9zM620.7 486.9h1.9v1.9h-1.9zM616.4 490.2h1.9v1.9h-1.9zM645.7 502h1.9v1.9h-1.9z" fill="#f6d4cc" stroke="#e09a90" stroke-width="0.35"/>
<path d="M607.9 485.9h1.9v1.9h-1.9zM588.6 491.4h1.9v1.9h-1.9zM638.6 494.4h1.9v1.9h-1.9zM600.2 492.5h1.9v1.9h-1.9zM590.9 494.9h1.9v1.9h-1.9zM644 502.1h1.9v1.9h-1.9zM601.8 487h1.9v1.9h-1.9zM632 488.9h1.9v1.9h-1.9z" fill="#d6e7f1" stroke="#e09a90" stroke-width="0.35"/>
<path d="M647.8 511.8h1.9v1.9h-1.9zM589.6 492.8h1.9v1.9h-1.9zM628.7 486.2h1.9v1.9h-1.9z" fill="#72a6d0" stroke="#e09a90" stroke-width="0.35"/>
<path d="M594.3 486.8h1.9v1.9h-1.9z" fill="#4787bf" stroke="#e09a90" stroke-width="0.35"/>
<path d="M606.4 484h1.9v1.9h-1.9z" fill="#f0b8a8" stroke="#e09a90" stroke-width="0.35"/>
<path d="M603.8 485.8h1.9v1.9h-1.9zM639.9 495.4h1.9v1.9h-1.9zM627.6 491.9h1.9v1.9h-1.9zM603.1 484.7h1.9v1.9h-1.9zM640.2 503.1h1.9v1.9h-1.9zM614.5 487.7h1.9v1.9h-1.9zM617.8 488.9h1.9v1.9h-1.9zM649.2 510h1.9v1.9h-1.9zM587.8 496.1h1.9v1.9h-1.9zM611.3 488.1h1.9v1.9h-1.9zM598.4 492.1h1.9v1.9h-1.9z" fill="#f6d4cc" stroke="#e09a90" stroke-width="0.35"/>
<path d="M614.1 484.2h1.9v1.9h-1.9z" fill="#4787bf" stroke="#e09a90" stroke-width="0.35"/>
<path d="M619.8 487h1.9v1.9h-1.9zM590.9 491.6h1.9v1.9h-1.9zM611.6 491h1.9v1.9h-1.9zM622.5 487.7h1.9v1.9h-1.9zM631.2 497.9h1.9v1.9h-1.9zM617.3 487.3h1.9v1.9h-1.9zM597.9 493.6h1.9v1.9h-1.9zM622 487.7h1.9v1.9h-1.9zM629.8 495.1h1.9v1.9h-1.9zM617 489.6h1.9v1.9h-1.9z" fill="#f0b0a0" stroke="#e09a90" stroke-width="0.35"/>
<path d="M614.5 483.4h1.9v1.9h-1.9zM592 489.8h1.9v1.9h-1.9zM609.2 485.8h1.9v1.9h-1.9z" fill="#f0b8a8" stroke="#e09a90" stroke-width="0.35"/>
<path d="M630.4 494.3h1.9v1.9h-1.9zM594.7 488.4h1.9v1.9h-1.9zM640.6 496h1.9v1.9h-1.9zM595.7 487.2h1.9v1.9h-1.9zM644.3 505.3h1.9v1.9h-1.9zM647.9 506.8h1.9v1.9h-1.9zM599.2 487.9h1.9v1.9h-1.9zM616.1 482.9h1.9v1.9h-1.9z" fill="#d6e7f1" stroke="#e09a90" stroke-width="0.35"/>
<path d="M633.6 492.8h1.9v1.9h-1.9z" fill="#72a6d0" stroke="#e09a90" stroke-width="0.35"/>
<path d="M594.4 530.8l-2.4 -1.32v2.64z" fill="#d6e7f1" stroke="#d6e7f1" stroke-width="0.35"/>
<path d="M593.7 530l-2.4 -1.32v2.64zM617.5 519.3l-2.4 -1.32v2.64zM607.3 529.8l-2.4 -1.32v2.64zM595.6 529.1l-2.4 -1.32v2.64z" fill="#184d90" stroke="#184d90" stroke-width="0.35"/>
<path d="M621 523.6l-2.4 -1.32v2.64zM627.6 518.6l-2.4 -1.32v2.64zM595.4 509.4l-2.4 -1.32v2.64zM600 528.1l-2.4 -1.32v2.64zM593.7 509.9l-2.4 -1.32v2.64zM600.9 529.3l-2.4 -1.32v2.64zM593.6 532.6l-2.4 -1.32v2.64zM585.5 541.4l-2.4 -1.32v2.64zM630.2 518.4l-2.4 -1.32v2.64z" fill="#2768aa" stroke="#2768aa" stroke-width="0.35"/>
<path d="M584.2 541.2l-2.4 -1.32v2.64zM614.6 523.5l-2.4 -1.32v2.64zM612.9 517.2l-2.4 -1.32v2.64zM590 517.7l-2.4 -1.32v2.64z" fill="#4787bf" stroke="#4787bf" stroke-width="0.35"/>
<path d="M612.7 529l-2.4 -1.32v2.64z" fill="#f4b6a2" stroke="#f4b6a2" stroke-width="0.35"/>
<path d="M597.4 528.1l-2.4 -1.32v2.64z" fill="#72a6d0" stroke="#72a6d0" stroke-width="0.35"/>
<path d="M590.8 524l-2.4 -1.32v2.64z" fill="#2768aa" stroke="#2768aa" stroke-width="0.35"/>
<path d="M605.5 509.7l-2.4 -1.32v2.64z" fill="#72a6d0" stroke="#72a6d0" stroke-width="0.35"/>
<path d="M602.7 525.1l-2.4 -1.32v2.64z" fill="#4787bf" stroke="#4787bf" stroke-width="0.35"/>
<path d="M622.9 522.7l-2.4 -1.32v2.64z" fill="#d6e7f1" stroke="#d6e7f1" stroke-width="0.35"/>
<path d="M586.3 531.1l-2.4 -1.32v2.64zM608.5 509.7l-2.4 -1.32v2.64zM589.7 533.4l-2.4 -1.32v2.64zM605.9 524.9l-2.4 -1.32v2.64zM605.7 508.9l-2.4 -1.32v2.64zM608.7 515l-2.4 -1.32v2.64zM605 518.8l-2.4 -1.32v2.64zM617 523.6l-2.4 -1.32v2.64zM586.1 536.6l-2.4 -1.32v2.64z" fill="#2768aa" stroke="#2768aa" stroke-width="0.35"/>
<path d="M589.5 526.9l-2.4 -1.32v2.64zM595.7 538l-2.4 -1.32v2.64zM612.5 524.7l-2.4 -1.32v2.64zM589.1 538.6l-2.4 -1.32v2.64zM596.6 523.5l-2.4 -1.32v2.64z" fill="#4787bf" stroke="#4787bf" stroke-width="0.35"/>
<path d="M605.9 521.4l-2.4 -1.32v2.64z" fill="#f4b6a2" stroke="#f4b6a2" stroke-width="0.35"/>
<path d="M598 523.5l-2.4 -1.32v2.64zM597.5 515.1l-2.4 -1.32v2.64zM595.6 531.1l-2.4 -1.32v2.64z" fill="#72a6d0" stroke="#72a6d0" stroke-width="0.35"/>
<path d="M592 522.7l-2.4 -1.32v2.64zM609.9 523.4l-2.4 -1.32v2.64z" fill="#184d90" stroke="#184d90" stroke-width="0.35"/>
<path d="M609.5 521l-2.4 -1.32v2.64z" fill="#d6e7f1" stroke="#d6e7f1" stroke-width="0.35"/>
<path d="M609.2 525.2l-2.4 -1.32v2.64zM611.2 514.2l-2.4 -1.32v2.64zM603.9 515.6l-2.4 -1.32v2.64zM595.7 531.8l-2.4 -1.32v2.64zM585.8 528.5l-2.4 -1.32v2.64zM609.1 511.3l-2.4 -1.32v2.64zM595.7 513.3l-2.4 -1.32v2.64zM617.9 516.6l-2.4 -1.32v2.64zM593.9 515.4l-2.4 -1.32v2.64zM605.5 513.5l-2.4 -1.32v2.64zM591.6 514.2l-2.4 -1.32v2.64zM599.8 531.4l-2.4 -1.32v2.64z" fill="#4787bf" stroke="#4787bf" stroke-width="0.35"/>
<path d="M586.8 529.6l-2.4 -1.32v2.64zM606.1 530.6l-2.4 -1.32v2.64zM601.2 509.1l-2.4 -1.32v2.64zM585.8 536.2l-2.4 -1.32v2.64zM589.6 522.1l-2.4 -1.32v2.64zM603.4 524.4l-2.4 -1.32v2.64zM603.9 521.8l-2.4 -1.32v2.64zM590.2 516l-2.4 -1.32v2.64zM585.9 540.9l-2.4 -1.32v2.64zM593.3 519.8l-2.4 -1.32v2.64zM597.7 526.6l-2.4 -1.32v2.64zM590.4 530.9l-2.4 -1.32v2.64z" fill="#184d90" stroke="#184d90" stroke-width="0.35"/>
<path d="M623.2 523.8l-2.4 -1.32v2.64zM610.7 521.9l-2.4 -1.32v2.64zM610.2 526.8l-2.4 -1.32v2.64zM599.3 504.1l-2.4 -1.32v2.64zM606 520.9l-2.4 -1.32v2.64zM598.4 516.5l-2.4 -1.32v2.64zM600.3 524.3l-2.4 -1.32v2.64zM594 532.9l-2.4 -1.32v2.64zM626.8 519.2l-2.4 -1.32v2.64zM587.9 540.1l-2.4 -1.32v2.64zM590.9 529l-2.4 -1.32v2.64zM597.8 525.3l-2.4 -1.32v2.64zM606.5 532.3l-2.4 -1.32v2.64zM615 526l-2.4 -1.32v2.64zM600.5 506.6l-2.4 -1.32v2.64z" fill="#2768aa" stroke="#2768aa" stroke-width="0.35"/>
<path d="M583.4 537.3l-2.4 -1.32v2.64zM588.7 516.7l-2.4 -1.32v2.64zM622.5 522.5l-2.4 -1.32v2.64zM606.1 524l-2.4 -1.32v2.64z" fill="#72a6d0" stroke="#72a6d0" stroke-width="0.35"/>
<path d="M613.4 512.6l-2.4 -1.32v2.64zM599.7 505.1l-2.4 -1.32v2.64zM613 514.4l-2.4 -1.32v2.64zM596.8 527.5l-2.4 -1.32v2.64zM586.5 523.6l-2.4 -1.32v2.64z" fill="#d6e7f1" stroke="#d6e7f1" stroke-width="0.35"/>
<path d="M594.3 512l-2.4 -1.32v2.64zM591.7 519.3l-2.4 -1.32v2.64zM586.9 541.9l-2.4 -1.32v2.64zM600 516.7l-2.4 -1.32v2.64zM606 523.4l-2.4 -1.32v2.64zM617.4 514.8l-2.4 -1.32v2.64zM590.1 523.2l-2.4 -1.32v2.64zM618.4 518.5l-2.4 -1.32v2.64zM605.3 518.4l-2.4 -1.32v2.64zM594.6 529.8l-2.4 -1.32v2.64zM589.1 531.7l-2.4 -1.32v2.64zM590.1 527.6l-2.4 -1.32v2.64zM583.2 535.5l-2.4 -1.32v2.64zM589.4 514.6l-2.4 -1.32v2.64zM589.4 534.9l-2.4 -1.32v2.64zM610.6 515.6l-2.4 -1.32v2.64zM595.8 508.1l-2.4 -1.32v2.64zM600.4 518.5l-2.4 -1.32v2.64zM601.5 510l-2.4 -1.32v2.64zM593.6 531.3l-2.4 -1.32v2.64z" fill="#184d90" stroke="#184d90" stroke-width="0.35"/>
<path d="M585.2 523.8l-2.4 -1.32v2.64zM604.6 524.2l-2.4 -1.32v2.64zM597.8 509.6l-2.4 -1.32v2.64zM588 539.1l-2.4 -1.32v2.64zM595 520.3l-2.4 -1.32v2.64zM617.1 518.7l-2.4 -1.32v2.64zM592.8 527.9l-2.4 -1.32v2.64zM591.2 522.4l-2.4 -1.32v2.64zM593 518.1l-2.4 -1.32v2.64zM607.5 515l-2.4 -1.32v2.64zM599.5 512l-2.4 -1.32v2.64zM608.4 528.2l-2.4 -1.32v2.64zM600 512.9l-2.4 -1.32v2.64zM603.8 513.8l-2.4 -1.32v2.64zM601.9 516l-2.4 -1.32v2.64zM599.4 509.8l-2.4 -1.32v2.64zM593.1 527l-2.4 -1.32v2.64z" fill="#4787bf" stroke="#4787bf" stroke-width="0.35"/>
<path d="M608.3 518.2l-2.4 -1.32v2.64zM597.6 534.6l-2.4 -1.32v2.64zM625 519.8l-2.4 -1.32v2.64zM619.4 520.2l-2.4 -1.32v2.64zM588.4 520.4l-2.4 -1.32v2.64zM626.8 520.3l-2.4 -1.32v2.64zM591.1 530.3l-2.4 -1.32v2.64zM608 526.6l-2.4 -1.32v2.64zM593.7 517.8l-2.4 -1.32v2.64zM589.4 525.1l-2.4 -1.32v2.64zM596.5 513.4l-2.4 -1.32v2.64zM622.6 519.4l-2.4 -1.32v2.64zM589.7 526.9l-2.4 -1.32v2.64zM592.3 518.8l-2.4 -1.32v2.64zM614.8 517.9l-2.4 -1.32v2.64zM606.6 532.4l-2.4 -1.32v2.64zM602.9 523.8l-2.4 -1.32v2.64zM629.1 519.3l-2.4 -1.32v2.64z" fill="#2768aa" stroke="#2768aa" stroke-width="0.35"/>
<path d="M595.4 535.9l-2.4 -1.32v2.64zM630.5 518.9l-2.4 -1.32v2.64zM595.9 515.6l-2.4 -1.32v2.64zM603.3 532.9l-2.4 -1.32v2.64zM621.7 520l-2.4 -1.32v2.64zM600.2 533.6l-2.4 -1.32v2.64z" fill="#d6e7f1" stroke="#d6e7f1" stroke-width="0.35"/>
<path d="M619.2 515.1l-2.4 -1.32v2.64zM603.6 526l-2.4 -1.32v2.64zM601 511.7l-2.4 -1.32v2.64zM600.3 516.1l-2.4 -1.32v2.64z" fill="#72a6d0" stroke="#72a6d0" stroke-width="0.35"/>
<path d="M590.2 519.1l-2.4 -1.32v2.64zM616.3 515.7l-2.4 -1.32v2.64zM608.9 520.3l-2.4 -1.32v2.64z" fill="#f4b6a2" stroke="#f4b6a2" stroke-width="0.35"/>
<path d="M598.1 515.2l-2.4 -1.32v2.64zM588.1 527.6l-2.4 -1.32v2.64zM597.7 516.5l-2.4 -1.32v2.64zM606.5 513.5l-2.4 -1.32v2.64zM610.4 522.7l-2.4 -1.32v2.64zM587.1 543.5l-2.4 -1.32v2.64zM590 523.1l-2.4 -1.32v2.64z" fill="#2768aa" stroke="#2768aa" stroke-width="0.35"/>
<path d="M603.4 519.9l-2.4 -1.32v2.64zM604.7 523.5l-2.4 -1.32v2.64zM617.2 514.6l-2.4 -1.32v2.64zM597.4 504.9l-2.4 -1.32v2.64z" fill="#f4b6a2" stroke="#f4b6a2" stroke-width="0.35"/>
<path d="M606.1 516.4l-2.4 -1.32v2.64zM585.9 531.3l-2.4 -1.32v2.64zM593.4 522.3l-2.4 -1.32v2.64zM614.7 513l-2.4 -1.32v2.64zM601.7 511.7l-2.4 -1.32v2.64zM583.8 539.8l-2.4 -1.32v2.64zM618.5 515.1l-2.4 -1.32v2.64zM606.6 532.1l-2.4 -1.32v2.64z" fill="#184d90" stroke="#184d90" stroke-width="0.35"/>
<path d="M602.1 520.9l-2.4 -1.32v2.64zM621.9 519.1l-2.4 -1.32v2.64zM585.2 533.3l-2.4 -1.32v2.64zM598.4 529.5l-2.4 -1.32v2.64zM593.9 530.8l-2.4 -1.32v2.64zM617.2 515.5l-2.4 -1.32v2.64zM583.9 529.7l-2.4 -1.32v2.64z" fill="#4787bf" stroke="#4787bf" stroke-width="0.35"/>
<path d="M585.7 541.6l-2.4 -1.32v2.64z" fill="#72a6d0" stroke="#72a6d0" stroke-width="0.35"/>
<path d="M612.5 525.7l-2.4 -1.32v2.64z" fill="#72a6d0" stroke="#72a6d0" stroke-width="0.35"/>
<path d="M612.6 521.5l-2.4 -1.32v2.64z" fill="#184d90" stroke="#184d90" stroke-width="0.35"/>
<path d="M485.3 536.6h2.4v2.4h-2.4z" fill="#184d90" stroke="#184d90" stroke-width="0.35"/>
<path d="M507.9 536.4h2.4v2.4h-2.4zM490 538.7h2.4v2.4h-2.4zM501.8 540.1h2.4v2.4h-2.4zM482.7 549.8h2.4v2.4h-2.4zM480.1 540.2h2.4v2.4h-2.4zM506.9 529.1h2.4v2.4h-2.4zM487.6 551.8h2.4v2.4h-2.4zM484.3 535.5h2.4v2.4h-2.4zM481.4 556.5h2.4v2.4h-2.4zM479.3 557.4h2.4v2.4h-2.4zM477.7 547.5h2.4v2.4h-2.4zM491.6 540.3h2.4v2.4h-2.4zM512.1 528.4h2.4v2.4h-2.4zM500.6 536.8h2.4v2.4h-2.4zM514.1 532.8h2.4v2.4h-2.4zM485.6 545.8h2.4v2.4h-2.4zM504.8 532.5h2.4v2.4h-2.4zM517.7 527.6h2.4v2.4h-2.4zM495.4 552.8h2.4v2.4h-2.4zM496.9 550.9h2.4v2.4h-2.4zM490.8 540.1h2.4v2.4h-2.4zM500.8 536h2.4v2.4h-2.4zM504.7 536.9h2.4v2.4h-2.4zM511.1 536.7h2.4v2.4h-2.4zM489.4 543.2h2.4v2.4h-2.4zM504.2 531.4h2.4v2.4h-2.4z" fill="#184d90" stroke="#184d90" stroke-width="0.35"/>
<path d="M507.8 539.8h2.4v2.4h-2.4zM514.9 531h2.4v2.4h-2.4zM495.3 532.9h2.4v2.4h-2.4zM485.4 534.5h2.4v2.4h-2.4zM483.6 555.6h2.4v2.4h-2.4zM497 552.5h2.4v2.4h-2.4zM486.8 554.1h2.4v2.4h-2.4zM497.9 529.9h2.4v2.4h-2.4zM496 538.1h2.4v2.4h-2.4zM499.3 543.1h2.4v2.4h-2.4zM488.3 548.1h2.4v2.4h-2.4zM499.4 548.8h2.4v2.4h-2.4zM492.8 545.3h2.4v2.4h-2.4zM504.3 529.9h2.4v2.4h-2.4zM498.5 526.5h2.4v2.4h-2.4zM503.9 537.3h2.4v2.4h-2.4zM486.6 539.9h2.4v2.4h-2.4zM493.1 540.3h2.4v2.4h-2.4zM503.6 539.6h2.4v2.4h-2.4zM508.9 524.9h2.4v2.4h-2.4zM480.4 554.2h2.4v2.4h-2.4zM491.9 529.7h2.4v2.4h-2.4z" fill="#2768aa" stroke="#2768aa" stroke-width="0.35"/>
<path d="M507.7 529.8h2.4v2.4h-2.4zM498.8 542.6h2.4v2.4h-2.4zM495.4 529.1h2.4v2.4h-2.4zM503.6 543h2.4v2.4h-2.4zM485.7 537h2.4v2.4h-2.4zM489.9 548.6h2.4v2.4h-2.4zM513.8 528.5h2.4v2.4h-2.4zM488.2 549.2h2.4v2.4h-2.4zM505.1 546.8h2.4v2.4h-2.4zM496.4 545.9h2.4v2.4h-2.4z" fill="#72a6d0" stroke="#72a6d0" stroke-width="0.35"/>
<path d="M511 531.3h2.4v2.4h-2.4zM503.9 540.2h2.4v2.4h-2.4z" fill="#d6e7f1" stroke="#d6e7f1" stroke-width="0.35"/>
<path d="M489.6 538.2h2.4v2.4h-2.4zM488 549.9h2.4v2.4h-2.4z" fill="#f4b6a2" stroke="#f4b6a2" stroke-width="0.35"/>
<path d="M501.8 538.4h2.4v2.4h-2.4zM507.2 529.4h2.4v2.4h-2.4zM503.5 544h2.4v2.4h-2.4zM510.4 526.9h2.4v2.4h-2.4zM475.3 544.5h2.4v2.4h-2.4zM501.5 527.1h2.4v2.4h-2.4zM478.8 557.4h2.4v2.4h-2.4zM515.1 525h2.4v2.4h-2.4zM505.6 528h2.4v2.4h-2.4z" fill="#4787bf" stroke="#4787bf" stroke-width="0.35"/>
<path d="M486.1 546.7h2.4v2.4h-2.4zM476.3 550.8h2.4v2.4h-2.4zM476.8 551.3h2.4v2.4h-2.4zM476.4 555.6h2.4v2.4h-2.4zM492 555.6h2.4v2.4h-2.4zM478.2 547.5h2.4v2.4h-2.4zM486.1 552.3h2.4v2.4h-2.4zM500.3 537h2.4v2.4h-2.4zM481.7 551.4h2.4v2.4h-2.4zM485 558h2.4v2.4h-2.4zM481.6 549.3h2.4v2.4h-2.4zM501.7 531.3h2.4v2.4h-2.4zM515.6 526.4h2.4v2.4h-2.4zM508.2 534h2.4v2.4h-2.4zM502.9 540.8h2.4v2.4h-2.4zM505 530.1h2.4v2.4h-2.4zM499.1 547h2.4v2.4h-2.4zM517.9 530.1h2.4v2.4h-2.4zM502.6 550.1h2.4v2.4h-2.4zM478.1 557.3h2.4v2.4h-2.4zM492.6 537.7h2.4v2.4h-2.4zM490.7 539.4h2.4v2.4h-2.4zM500.1 533.4h2.4v2.4h-2.4zM496.7 534.9h2.4v2.4h-2.4zM510.6 528.6h2.4v2.4h-2.4zM489.2 554.2h2.4v2.4h-2.4zM494.3 533.8h2.4v2.4h-2.4zM493.6 546.4h2.4v2.4h-2.4zM474.8 553.7h2.4v2.4h-2.4zM489.2 552.5h2.4v2.4h-2.4z" fill="#184d90" stroke="#184d90" stroke-width="0.35"/>
<path d="M473.1 551.7h2.4v2.4h-2.4zM488.3 552.9h2.4v2.4h-2.4zM502.9 546.5h2.4v2.4h-2.4zM515 526.4h2.4v2.4h-2.4zM502.5 546h2.4v2.4h-2.4zM496.7 550.3h2.4v2.4h-2.4zM487.7 534.6h2.4v2.4h-2.4zM480.3 540h2.4v2.4h-2.4zM499.5 543.9h2.4v2.4h-2.4zM503.6 539.7h2.4v2.4h-2.4zM484.1 554.3h2.4v2.4h-2.4zM491.3 531.4h2.4v2.4h-2.4zM502.4 527.4h2.4v2.4h-2.4zM509.2 525.3h2.4v2.4h-2.4zM497.8 542.9h2.4v2.4h-2.4zM502.8 531.2h2.4v2.4h-2.4zM514.6 536.5h2.4v2.4h-2.4zM483.4 543.4h2.4v2.4h-2.4zM502.4 535.6h2.4v2.4h-2.4zM478.2 550.5h2.4v2.4h-2.4zM483.5 540.9h2.4v2.4h-2.4zM512.2 528.7h2.4v2.4h-2.4zM493.4 549.5h2.4v2.4h-2.4z" fill="#2768aa" stroke="#2768aa" stroke-width="0.35"/>
<path d="M513.1 538h2.4v2.4h-2.4zM512.3 524.1h2.4v2.4h-2.4zM501.1 527.5h2.4v2.4h-2.4zM515 530.4h2.4v2.4h-2.4zM494 555.3h2.4v2.4h-2.4zM500.9 544.7h2.4v2.4h-2.4zM477.2 546h2.4v2.4h-2.4zM481.7 550.7h2.4v2.4h-2.4zM505.3 540.4h2.4v2.4h-2.4zM502.9 528.3h2.4v2.4h-2.4zM490 550.2h2.4v2.4h-2.4z" fill="#72a6d0" stroke="#72a6d0" stroke-width="0.35"/>
<path d="M487.8 547.5h2.4v2.4h-2.4zM499.7 532.6h2.4v2.4h-2.4zM483 554.5h2.4v2.4h-2.4z" fill="#d6e7f1" stroke="#d6e7f1" stroke-width="0.35"/>
<path d="M479.4 556.3h2.4v2.4h-2.4zM513.9 528.3h2.4v2.4h-2.4zM492.2 535.5h2.4v2.4h-2.4zM517.6 526.7h2.4v2.4h-2.4zM474.2 553.9h2.4v2.4h-2.4zM479.3 548.3h2.4v2.4h-2.4z" fill="#4787bf" stroke="#4787bf" stroke-width="0.35"/>
<path d="M504.1 525.8h2.4v2.4h-2.4zM508.8 525.1h2.4v2.4h-2.4zM490.3 530.6h2.4v2.4h-2.4zM514 536.1h2.4v2.4h-2.4zM495.2 532h2.4v2.4h-2.4z" fill="#f4b6a2" stroke="#f4b6a2" stroke-width="0.35"/>
<path d="M515.5 537.3h2.4v2.4h-2.4zM512.7 523.2h2.4v2.4h-2.4zM484.2 545.7h2.4v2.4h-2.4zM508.4 527h2.4v2.4h-2.4zM516 531.5h2.4v2.4h-2.4zM491.9 554.2h2.4v2.4h-2.4zM487.4 549.5h2.4v2.4h-2.4zM485.9 543.5h2.4v2.4h-2.4zM501.8 530h2.4v2.4h-2.4z" fill="#2768aa" stroke="#2768aa" stroke-width="0.35"/>
<path d="M492.1 551.6h2.4v2.4h-2.4zM510 543.3h2.4v2.4h-2.4zM481.5 544.4h2.4v2.4h-2.4zM505.2 526.2h2.4v2.4h-2.4zM503.3 538.2h2.4v2.4h-2.4zM493.6 544.4h2.4v2.4h-2.4zM481.6 555.6h2.4v2.4h-2.4zM503.5 524h2.4v2.4h-2.4zM493.1 535.6h2.4v2.4h-2.4zM478.3 550.2h2.4v2.4h-2.4zM492.6 543.3h2.4v2.4h-2.4zM505.2 534.8h2.4v2.4h-2.4zM476.3 553.1h2.4v2.4h-2.4z" fill="#184d90" stroke="#184d90" stroke-width="0.35"/>
<path d="M491.4 540.1h2.4v2.4h-2.4zM511.5 533.6h2.4v2.4h-2.4z" fill="#72a6d0" stroke="#72a6d0" stroke-width="0.35"/>
<path d="M499.9 535.7h2.4v2.4h-2.4zM510.3 538.1h2.4v2.4h-2.4zM503.3 536h2.4v2.4h-2.4z" fill="#f4b6a2" stroke="#f4b6a2" stroke-width="0.35"/>
<path d="M493.3 534.3h2.4v2.4h-2.4zM504.1 541.7h2.4v2.4h-2.4zM488.3 538.5h2.4v2.4h-2.4zM506.5 541.7h2.4v2.4h-2.4zM500.2 527.2h2.4v2.4h-2.4zM505.5 537.5h2.4v2.4h-2.4z" fill="#4787bf" stroke="#4787bf" stroke-width="0.35"/>
<path d="M506 547.4h2.4v2.4h-2.4z" fill="#d6e7f1" stroke="#d6e7f1" stroke-width="0.35"/>
<path d="M503.6 549.6h2.4v2.4h-2.4zM502.7 545.1h2.4v2.4h-2.4z" fill="#4787bf" stroke="#4787bf" stroke-width="0.35"/>
<path d="M493 550.8h2.4v2.4h-2.4zM503.4 543.5h2.4v2.4h-2.4zM475.2 546.8h2.4v2.4h-2.4zM513.3 525.3h2.4v2.4h-2.4zM508.7 534.9h2.4v2.4h-2.4zM487 556.5h2.4v2.4h-2.4zM474.7 549.3h2.4v2.4h-2.4z" fill="#184d90" stroke="#184d90" stroke-width="0.35"/>
<path d="M500.5 547.4h2.4v2.4h-2.4zM505.5 535.8h2.4v2.4h-2.4zM479.3 558.8h2.4v2.4h-2.4zM473.8 554.8h2.4v2.4h-2.4zM481.3 552.5h2.4v2.4h-2.4zM503.8 533.6h2.4v2.4h-2.4zM475.9 548.7h2.4v2.4h-2.4zM501.2 532.1h2.4v2.4h-2.4zM483.4 557h2.4v2.4h-2.4zM490.6 550.7h2.4v2.4h-2.4zM518.3 527.1h2.4v2.4h-2.4z" fill="#2768aa" stroke="#2768aa" stroke-width="0.35"/>
<path d="M504.3 534.4h2.4v2.4h-2.4zM483 537.4h2.4v2.4h-2.4zM507.4 542.3h2.4v2.4h-2.4zM494.1 538.1h2.4v2.4h-2.4z" fill="#72a6d0" stroke="#72a6d0" stroke-width="0.35"/>
<path d="M488 540.8h2.4v2.4h-2.4z" fill="#d6e7f1" stroke="#d6e7f1" stroke-width="0.35"/>
<path d="M505.8 547.2h2.4v2.4h-2.4z" fill="#f4b6a2" stroke="#f4b6a2" stroke-width="0.35"/>
<path d="M557.1 521.8l1.2 1.44l-1.2 1.44l-1.2 -1.44zM562.3 530.9l1.2 1.44l-1.2 1.44l-1.2 -1.44z" fill="#72a6d0" stroke="#7a4a38" stroke-width="0.35"/>
<path d="M551.2 526.1l1.2 1.44l-1.2 1.44l-1.2 -1.44zM560.6 541.1l1.2 1.44l-1.2 1.44l-1.2 -1.44zM558.1 523.1l1.2 1.44l-1.2 1.44l-1.2 -1.44z" fill="#e2878a" stroke="#7a4a38" stroke-width="0.35"/>
<path d="M558.7 526.6l1.2 1.44l-1.2 1.44l-1.2 -1.44zM556.9 532.4l1.2 1.44l-1.2 1.44l-1.2 -1.44zM557.5 535.2l1.2 1.44l-1.2 1.44l-1.2 -1.44zM559.4 531.2l1.2 1.44l-1.2 1.44l-1.2 -1.44zM549.5 537.4l1.2 1.44l-1.2 1.44l-1.2 -1.44zM546.2 538.3l1.2 1.44l-1.2 1.44l-1.2 -1.44zM547.7 536.6l1.2 1.44l-1.2 1.44l-1.2 -1.44zM555.4 529.3l1.2 1.44l-1.2 1.44l-1.2 -1.44z" fill="#f4b6a2" stroke="#7a4a38" stroke-width="0.35"/>
<path d="M547.3 547.8l1.2 1.44l-1.2 1.44l-1.2 -1.44zM557.9 531.1l1.2 1.44l-1.2 1.44l-1.2 -1.44zM557.9 535.4l1.2 1.44l-1.2 1.44l-1.2 -1.44zM548.5 532.4l1.2 1.44l-1.2 1.44l-1.2 -1.44zM552.8 539.4l1.2 1.44l-1.2 1.44l-1.2 -1.44zM544.5 534.3l1.2 1.44l-1.2 1.44l-1.2 -1.44zM548.3 548.4l1.2 1.44l-1.2 1.44l-1.2 -1.44zM544.5 544l1.2 1.44l-1.2 1.44l-1.2 -1.44zM564.2 525.9l1.2 1.44l-1.2 1.44l-1.2 -1.44zM547 535.1l1.2 1.44l-1.2 1.44l-1.2 -1.44zM547.8 537.4l1.2 1.44l-1.2 1.44l-1.2 -1.44zM558.6 532.9l1.2 1.44l-1.2 1.44l-1.2 -1.44zM547 533.9l1.2 1.44l-1.2 1.44l-1.2 -1.44zM555.7 534.1l1.2 1.44l-1.2 1.44l-1.2 -1.44zM548.8 534.4l1.2 1.44l-1.2 1.44l-1.2 -1.44zM551 545.3l1.2 1.44l-1.2 1.44l-1.2 -1.44zM543.8 535.2l1.2 1.44l-1.2 1.44l-1.2 -1.44zM558.3 529.5l1.2 1.44l-1.2 1.44l-1.2 -1.44zM562.8 535.5l1.2 1.44l-1.2 1.44l-1.2 -1.44z" fill="#f4b6a2" stroke="#7a4a38" stroke-width="0.35"/>
<path d="M556.3 540.4l1.2 1.44l-1.2 1.44l-1.2 -1.44zM560.4 526.3l1.2 1.44l-1.2 1.44l-1.2 -1.44zM545.6 539l1.2 1.44l-1.2 1.44l-1.2 -1.44zM564 529.5l1.2 1.44l-1.2 1.44l-1.2 -1.44zM562 530.7l1.2 1.44l-1.2 1.44l-1.2 -1.44zM551.6 530.7l1.2 1.44l-1.2 1.44l-1.2 -1.44zM554.6 532.8l1.2 1.44l-1.2 1.44l-1.2 -1.44zM558.1 541.2l1.2 1.44l-1.2 1.44l-1.2 -1.44zM549.6 546l1.2 1.44l-1.2 1.44l-1.2 -1.44zM563 526.3l1.2 1.44l-1.2 1.44l-1.2 -1.44zM549.3 536.1l1.2 1.44l-1.2 1.44l-1.2 -1.44z" fill="#e2878a" stroke="#7a4a38" stroke-width="0.35"/>
<path d="M562.4 529l1.2 1.44l-1.2 1.44l-1.2 -1.44zM552.1 530.8l1.2 1.44l-1.2 1.44l-1.2 -1.44z" fill="#72a6d0" stroke="#7a4a38" stroke-width="0.35"/>
<path d="M547.2 541.9l1.2 1.44l-1.2 1.44l-1.2 -1.44zM554.7 529.8l1.2 1.44l-1.2 1.44l-1.2 -1.44zM556.3 543.3l1.2 1.44l-1.2 1.44l-1.2 -1.44zM550.2 530.7l1.2 1.44l-1.2 1.44l-1.2 -1.44zM556.7 534.1l1.2 1.44l-1.2 1.44l-1.2 -1.44zM561.7 543.7l1.2 1.44l-1.2 1.44l-1.2 -1.44zM565.2 532.2l1.2 1.44l-1.2 1.44l-1.2 -1.44zM557 529.8l1.2 1.44l-1.2 1.44l-1.2 -1.44zM553.2 536.8l1.2 1.44l-1.2 1.44l-1.2 -1.44zM561.6 532.7l1.2 1.44l-1.2 1.44l-1.2 -1.44zM562.7 531.2l1.2 1.44l-1.2 1.44l-1.2 -1.44z" fill="#e2878a" stroke="#7a4a38" stroke-width="0.35"/>
<path d="M549.8 542.3l1.2 1.44l-1.2 1.44l-1.2 -1.44zM543.1 540l1.2 1.44l-1.2 1.44l-1.2 -1.44zM563.2 538.2l1.2 1.44l-1.2 1.44l-1.2 -1.44zM549 543.9l1.2 1.44l-1.2 1.44l-1.2 -1.44zM548 531.3l1.2 1.44l-1.2 1.44l-1.2 -1.44zM562.6 526.1l1.2 1.44l-1.2 1.44l-1.2 -1.44zM558.8 539.1l1.2 1.44l-1.2 1.44l-1.2 -1.44zM544.8 541.2l1.2 1.44l-1.2 1.44l-1.2 -1.44zM561.1 537.6l1.2 1.44l-1.2 1.44l-1.2 -1.44zM563 529l1.2 1.44l-1.2 1.44l-1.2 -1.44zM548.1 541.6l1.2 1.44l-1.2 1.44l-1.2 -1.44zM557.4 538l1.2 1.44l-1.2 1.44l-1.2 -1.44zM560.4 522.9l1.2 1.44l-1.2 1.44l-1.2 -1.44zM545.1 544l1.2 1.44l-1.2 1.44l-1.2 -1.44zM555.8 535.7l1.2 1.44l-1.2 1.44l-1.2 -1.44zM552.1 535.1l1.2 1.44l-1.2 1.44l-1.2 -1.44zM559.8 525.9l1.2 1.44l-1.2 1.44l-1.2 -1.44zM553.5 527.6l1.2 1.44l-1.2 1.44l-1.2 -1.44zM562.9 534.3l1.2 1.44l-1.2 1.44l-1.2 -1.44zM559.1 545.5l1.2 1.44l-1.2 1.44l-1.2 -1.44zM550.8 533.6l1.2 1.44l-1.2 1.44l-1.2 -1.44zM560.4 524.9l1.2 1.44l-1.2 1.44l-1.2 -1.44zM563.1 537.3l1.2 1.44l-1.2 1.44l-1.2 -1.44zM544.3 538.8l1.2 1.44l-1.2 1.44l-1.2 -1.44zM549 537.2l1.2 1.44l-1.2 1.44l-1.2 -1.44zM553.4 538.1l1.2 1.44l-1.2 1.44l-1.2 -1.44zM554.7 542.3l1.2 1.44l-1.2 1.44l-1.2 -1.44zM544.9 541.6l1.2 1.44l-1.2 1.44l-1.2 -1.44zM551.4 538.1l1.2 1.44l-1.2 1.44l-1.2 -1.44zM551.7 546l1.2 1.44l-1.2 1.44l-1.2 -1.44zM549.8 528.9l1.2 1.44l-1.2 1.44l-1.2 -1.44zM561.9 535.7l1.2 1.44l-1.2 1.44l-1.2 -1.44zM548.2 542.2l1.2 1.44l-1.2 1.44l-1.2 -1.44zM555.8 543l1.2 1.44l-1.2 1.44l-1.2 -1.44zM549.9 542l1.2 1.44l-1.2 1.44l-1.2 -1.44z" fill="#f4b6a2" stroke="#7a4a38" stroke-width="0.35"/>
<path d="M564.1 529.4l1.2 1.44l-1.2 1.44l-1.2 -1.44zM561.6 522.2l1.2 1.44l-1.2 1.44l-1.2 -1.44z" fill="#72a6d0" stroke="#7a4a38" stroke-width="0.35"/>
<path d="M545.2 537.4l1.2 1.44l-1.2 1.44l-1.2 -1.44zM552.8 546.8l1.2 1.44l-1.2 1.44l-1.2 -1.44zM556.9 538.6l1.2 1.44l-1.2 1.44l-1.2 -1.44zM542.3 537.5l1.2 1.44l-1.2 1.44l-1.2 -1.44zM550 541.7l1.2 1.44l-1.2 1.44l-1.2 -1.44zM544.8 544.4l1.2 1.44l-1.2 1.44l-1.2 -1.44zM558.9 529.7l1.2 1.44l-1.2 1.44l-1.2 -1.44z" fill="#e2878a" stroke="#7a4a38" stroke-width="0.35"/>
<path d="M562.9 531.6l1.2 1.44l-1.2 1.44l-1.2 -1.44zM549.2 536.3l1.2 1.44l-1.2 1.44l-1.2 -1.44zM553.2 534.3l1.2 1.44l-1.2 1.44l-1.2 -1.44zM552.6 525.9l1.2 1.44l-1.2 1.44l-1.2 -1.44zM556.2 522.3l1.2 1.44l-1.2 1.44l-1.2 -1.44zM562.1 535l1.2 1.44l-1.2 1.44l-1.2 -1.44zM556.4 539.2l1.2 1.44l-1.2 1.44l-1.2 -1.44zM554.3 542.1l1.2 1.44l-1.2 1.44l-1.2 -1.44zM551.9 533.1l1.2 1.44l-1.2 1.44l-1.2 -1.44zM559.1 539.8l1.2 1.44l-1.2 1.44l-1.2 -1.44zM550.8 540.7l1.2 1.44l-1.2 1.44l-1.2 -1.44zM563.4 528.8l1.2 1.44l-1.2 1.44l-1.2 -1.44zM563.1 539.7l1.2 1.44l-1.2 1.44l-1.2 -1.44zM549.6 544.8l1.2 1.44l-1.2 1.44l-1.2 -1.44zM547.5 547.8l1.2 1.44l-1.2 1.44l-1.2 -1.44zM561.5 537.1l1.2 1.44l-1.2 1.44l-1.2 -1.44z" fill="#f4b6a2" stroke="#7a4a38" stroke-width="0.35"/>
<path d="M548.7 533.9l1.2 1.44l-1.2 1.44l-1.2 -1.44zM544.9 535.6l1.2 1.44l-1.2 1.44l-1.2 -1.44zM542.9 535.9l1.2 1.44l-1.2 1.44l-1.2 -1.44zM560.2 537.8l1.2 1.44l-1.2 1.44l-1.2 -1.44z" fill="#72a6d0" stroke="#7a4a38" stroke-width="0.35"/>
<polyline points="555,527 560,523 566,521" fill="none" stroke="#5aa0a0" stroke-width="1.2" />
<polyline points="538.5,549.5 528.8,551 529.2,563.5" fill="none" stroke="#6aa6a6" stroke-width="1.1" />
<path d="M530 551.9l0.9 1.08l-0.9 1.08l-0.9 -1.08zM529 555.9l0.9 1.08l-0.9 1.08l-0.9 -1.08zM530 558.9l0.9 1.08l-0.9 1.08l-0.9 -1.08zM533 549.4l0.9 1.08l-0.9 1.08l-0.9 -1.08zM536 548.9l0.9 1.08l-0.9 1.08l-0.9 -1.08z" fill="#e0906a" stroke="#8a5a48" stroke-width="0.35"/>
<path d="M539.5 581.3l1.25 1.5l-1.25 1.5l-1.25 -1.5zM542 591.9l1.25 1.5l-1.25 1.5l-1.25 -1.5zM535.3 592.8l1.25 1.5l-1.25 1.5l-1.25 -1.5zM554.2 586.3l1.25 1.5l-1.25 1.5l-1.25 -1.5zM558.8 558.4l1.25 1.5l-1.25 1.5l-1.25 -1.5zM541.3 582.7l1.25 1.5l-1.25 1.5l-1.25 -1.5zM539.4 577.6l1.25 1.5l-1.25 1.5l-1.25 -1.5zM551.4 580.9l1.25 1.5l-1.25 1.5l-1.25 -1.5zM547 585.5l1.25 1.5l-1.25 1.5l-1.25 -1.5zM554.8 558.4l1.25 1.5l-1.25 1.5l-1.25 -1.5zM543.1 577.6l1.25 1.5l-1.25 1.5l-1.25 -1.5zM539 578.4l1.25 1.5l-1.25 1.5l-1.25 -1.5zM542.3 590.3l1.25 1.5l-1.25 1.5l-1.25 -1.5zM557.1 565.3l1.25 1.5l-1.25 1.5l-1.25 -1.5zM563.1 565.5l1.25 1.5l-1.25 1.5l-1.25 -1.5zM542.1 595.8l1.25 1.5l-1.25 1.5l-1.25 -1.5zM551.7 568.2l1.25 1.5l-1.25 1.5l-1.25 -1.5zM538.2 601.7l1.25 1.5l-1.25 1.5l-1.25 -1.5zM564.2 566.9l1.25 1.5l-1.25 1.5l-1.25 -1.5zM540.8 599.8l1.25 1.5l-1.25 1.5l-1.25 -1.5zM541.2 584.9l1.25 1.5l-1.25 1.5l-1.25 -1.5zM543.6 582.7l1.25 1.5l-1.25 1.5l-1.25 -1.5zM548.6 594.7l1.25 1.5l-1.25 1.5l-1.25 -1.5zM543.3 582.6l1.25 1.5l-1.25 1.5l-1.25 -1.5zM551 589.6l1.25 1.5l-1.25 1.5l-1.25 -1.5zM541.4 600.8l1.25 1.5l-1.25 1.5l-1.25 -1.5zM550.5 565.6l1.25 1.5l-1.25 1.5l-1.25 -1.5zM534.6 586.7l1.25 1.5l-1.25 1.5l-1.25 -1.5zM547.7 586.5l1.25 1.5l-1.25 1.5l-1.25 -1.5zM557.9 574.2l1.25 1.5l-1.25 1.5l-1.25 -1.5zM536.8 600.1l1.25 1.5l-1.25 1.5l-1.25 -1.5zM536.9 592.4l1.25 1.5l-1.25 1.5l-1.25 -1.5zM547.6 567.4l1.25 1.5l-1.25 1.5l-1.25 -1.5zM544.9 579.8l1.25 1.5l-1.25 1.5l-1.25 -1.5zM545.8 592.4l1.25 1.5l-1.25 1.5l-1.25 -1.5zM540.4 580.8l1.25 1.5l-1.25 1.5l-1.25 -1.5zM558.6 569.4l1.25 1.5l-1.25 1.5l-1.25 -1.5zM547.7 597.5l1.25 1.5l-1.25 1.5l-1.25 -1.5zM561.8 555.6l1.25 1.5l-1.25 1.5l-1.25 -1.5zM549.6 590.9l1.25 1.5l-1.25 1.5l-1.25 -1.5zM561.1 570.1l1.25 1.5l-1.25 1.5l-1.25 -1.5zM541.4 601.5l1.25 1.5l-1.25 1.5l-1.25 -1.5zM561.8 553.1l1.25 1.5l-1.25 1.5l-1.25 -1.5zM561.8 559.5l1.25 1.5l-1.25 1.5l-1.25 -1.5zM533.8 588.7l1.25 1.5l-1.25 1.5l-1.25 -1.5zM548.3 596.4l1.25 1.5l-1.25 1.5l-1.25 -1.5zM549.7 574.9l1.25 1.5l-1.25 1.5l-1.25 -1.5zM564.6 567.8l1.25 1.5l-1.25 1.5l-1.25 -1.5zM550.5 570.2l1.25 1.5l-1.25 1.5l-1.25 -1.5zM536.7 591.3l1.25 1.5l-1.25 1.5l-1.25 -1.5zM556.1 565l1.25 1.5l-1.25 1.5l-1.25 -1.5zM553.2 568l1.25 1.5l-1.25 1.5l-1.25 -1.5zM561.9 563l1.25 1.5l-1.25 1.5l-1.25 -1.5zM546.1 587l1.25 1.5l-1.25 1.5l-1.25 -1.5zM536.4 583.6l1.25 1.5l-1.25 1.5l-1.25 -1.5zM536.4 599.6l1.25 1.5l-1.25 1.5l-1.25 -1.5zM546.2 586.6l1.25 1.5l-1.25 1.5l-1.25 -1.5zM561.9 568.8l1.25 1.5l-1.25 1.5l-1.25 -1.5zM542.2 599.7l1.25 1.5l-1.25 1.5l-1.25 -1.5zM542.3 600.3l1.25 1.5l-1.25 1.5l-1.25 -1.5zM542.2 595.8l1.25 1.5l-1.25 1.5l-1.25 -1.5zM564.1 560.6l1.25 1.5l-1.25 1.5l-1.25 -1.5zM560.5 554.5l1.25 1.5l-1.25 1.5l-1.25 -1.5zM553.1 585.3l1.25 1.5l-1.25 1.5l-1.25 -1.5zM536 594.8l1.25 1.5l-1.25 1.5l-1.25 -1.5zM564.5 569.4l1.25 1.5l-1.25 1.5l-1.25 -1.5zM562.7 562l1.25 1.5l-1.25 1.5l-1.25 -1.5zM559.3 577.2l1.25 1.5l-1.25 1.5l-1.25 -1.5zM548.3 585.6l1.25 1.5l-1.25 1.5l-1.25 -1.5zM548.3 597.4l1.25 1.5l-1.25 1.5l-1.25 -1.5zM548.5 579.8l1.25 1.5l-1.25 1.5l-1.25 -1.5zM539.8 577.7l1.25 1.5l-1.25 1.5l-1.25 -1.5zM538.2 596.2l1.25 1.5l-1.25 1.5l-1.25 -1.5zM543.5 580.4l1.25 1.5l-1.25 1.5l-1.25 -1.5zM555.5 574l1.25 1.5l-1.25 1.5l-1.25 -1.5zM546.7 599.7l1.25 1.5l-1.25 1.5l-1.25 -1.5zM560.7 564.4l1.25 1.5l-1.25 1.5l-1.25 -1.5zM537.6 583l1.25 1.5l-1.25 1.5l-1.25 -1.5zM553 580.5l1.25 1.5l-1.25 1.5l-1.25 -1.5zM544.4 593.3l1.25 1.5l-1.25 1.5l-1.25 -1.5zM538.6 585.8l1.25 1.5l-1.25 1.5l-1.25 -1.5zM542.3 599.2l1.25 1.5l-1.25 1.5l-1.25 -1.5zM559.6 562.5l1.25 1.5l-1.25 1.5l-1.25 -1.5zM548.8 585.6l1.25 1.5l-1.25 1.5l-1.25 -1.5zM540 598.5l1.25 1.5l-1.25 1.5l-1.25 -1.5zM557.8 578.6l1.25 1.5l-1.25 1.5l-1.25 -1.5zM539.3 579.1l1.25 1.5l-1.25 1.5l-1.25 -1.5zM545 576.7l1.25 1.5l-1.25 1.5l-1.25 -1.5zM540.4 585.2l1.25 1.5l-1.25 1.5l-1.25 -1.5zM538.6 586.6l1.25 1.5l-1.25 1.5l-1.25 -1.5zM550.8 565.3l1.25 1.5l-1.25 1.5l-1.25 -1.5zM556.7 576.5l1.25 1.5l-1.25 1.5l-1.25 -1.5zM560.9 569.3l1.25 1.5l-1.25 1.5l-1.25 -1.5zM550.1 588.7l1.25 1.5l-1.25 1.5l-1.25 -1.5zM557.4 566.2l1.25 1.5l-1.25 1.5l-1.25 -1.5zM560.1 560l1.25 1.5l-1.25 1.5l-1.25 -1.5zM544.3 586.9l1.25 1.5l-1.25 1.5l-1.25 -1.5zM549 578.6l1.25 1.5l-1.25 1.5l-1.25 -1.5zM538.1 578.8l1.25 1.5l-1.25 1.5l-1.25 -1.5zM557.6 562.9l1.25 1.5l-1.25 1.5l-1.25 -1.5zM540.6 600.3l1.25 1.5l-1.25 1.5l-1.25 -1.5zM564.5 553.8l1.25 1.5l-1.25 1.5l-1.25 -1.5zM558.6 568.7l1.25 1.5l-1.25 1.5l-1.25 -1.5zM545.6 591.9l1.25 1.5l-1.25 1.5l-1.25 -1.5zM544.4 586.8l1.25 1.5l-1.25 1.5l-1.25 -1.5zM539.3 598.7l1.25 1.5l-1.25 1.5l-1.25 -1.5zM544.2 586.4l1.25 1.5l-1.25 1.5l-1.25 -1.5zM563 558.5l1.25 1.5l-1.25 1.5l-1.25 -1.5zM536.3 595.7l1.25 1.5l-1.25 1.5l-1.25 -1.5zM540.8 589.5l1.25 1.5l-1.25 1.5l-1.25 -1.5zM550.9 567.7l1.25 1.5l-1.25 1.5l-1.25 -1.5zM564.2 567.3l1.25 1.5l-1.25 1.5l-1.25 -1.5zM548.7 589.3l1.25 1.5l-1.25 1.5l-1.25 -1.5zM548.7 584.4l1.25 1.5l-1.25 1.5l-1.25 -1.5zM565.4 554.8l1.25 1.5l-1.25 1.5l-1.25 -1.5zM542.2 597l1.25 1.5l-1.25 1.5l-1.25 -1.5zM555.3 565.5l1.25 1.5l-1.25 1.5l-1.25 -1.5zM550.1 568.5l1.25 1.5l-1.25 1.5l-1.25 -1.5zM545 582l1.25 1.5l-1.25 1.5l-1.25 -1.5zM534.4 589.4l1.25 1.5l-1.25 1.5l-1.25 -1.5zM563.4 564.8l1.25 1.5l-1.25 1.5l-1.25 -1.5z" fill="#f4b6a2" stroke="#6a3a28" stroke-width="0.4"/>
<path d="M558.3 557l1.25 1.5l-1.25 1.5l-1.25 -1.5zM551.9 590.4l1.25 1.5l-1.25 1.5l-1.25 -1.5zM539.5 591.4l1.25 1.5l-1.25 1.5l-1.25 -1.5zM545.1 594.3l1.25 1.5l-1.25 1.5l-1.25 -1.5zM536.9 579.9l1.25 1.5l-1.25 1.5l-1.25 -1.5zM542.7 598.4l1.25 1.5l-1.25 1.5l-1.25 -1.5zM549.3 592.8l1.25 1.5l-1.25 1.5l-1.25 -1.5zM556.1 558.4l1.25 1.5l-1.25 1.5l-1.25 -1.5zM540.5 590.6l1.25 1.5l-1.25 1.5l-1.25 -1.5zM533.7 595.3l1.25 1.5l-1.25 1.5l-1.25 -1.5z" fill="#4787bf" stroke="#6a3a28" stroke-width="0.4"/>
<path d="M547 570.8l1.25 1.5l-1.25 1.5l-1.25 -1.5zM566.5 563.4l1.25 1.5l-1.25 1.5l-1.25 -1.5zM561.9 569.7l1.25 1.5l-1.25 1.5l-1.25 -1.5zM555.6 583.2l1.25 1.5l-1.25 1.5l-1.25 -1.5zM559.2 569.6l1.25 1.5l-1.25 1.5l-1.25 -1.5zM553.1 563.1l1.25 1.5l-1.25 1.5l-1.25 -1.5zM546 574.2l1.25 1.5l-1.25 1.5l-1.25 -1.5zM543.9 577.8l1.25 1.5l-1.25 1.5l-1.25 -1.5zM537.8 596.6l1.25 1.5l-1.25 1.5l-1.25 -1.5zM545.3 595.3l1.25 1.5l-1.25 1.5l-1.25 -1.5zM541.9 593.4l1.25 1.5l-1.25 1.5l-1.25 -1.5zM559.2 570.1l1.25 1.5l-1.25 1.5l-1.25 -1.5zM559.1 554.2l1.25 1.5l-1.25 1.5l-1.25 -1.5zM541.3 600.6l1.25 1.5l-1.25 1.5l-1.25 -1.5zM560.6 555.3l1.25 1.5l-1.25 1.5l-1.25 -1.5zM538.2 587.9l1.25 1.5l-1.25 1.5l-1.25 -1.5zM555.1 561.9l1.25 1.5l-1.25 1.5l-1.25 -1.5zM550.7 583.9l1.25 1.5l-1.25 1.5l-1.25 -1.5zM542.1 591.1l1.25 1.5l-1.25 1.5l-1.25 -1.5zM561.8 564l1.25 1.5l-1.25 1.5l-1.25 -1.5zM541.9 601.4l1.25 1.5l-1.25 1.5l-1.25 -1.5zM535.8 593.7l1.25 1.5l-1.25 1.5l-1.25 -1.5zM560 565.1l1.25 1.5l-1.25 1.5l-1.25 -1.5zM559.9 564.9l1.25 1.5l-1.25 1.5l-1.25 -1.5zM547.8 594.4l1.25 1.5l-1.25 1.5l-1.25 -1.5zM566.4 555.2l1.25 1.5l-1.25 1.5l-1.25 -1.5zM551.7 586.3l1.25 1.5l-1.25 1.5l-1.25 -1.5zM533 587.9l1.25 1.5l-1.25 1.5l-1.25 -1.5zM544.9 578.7l1.25 1.5l-1.25 1.5l-1.25 -1.5zM562.9 565.5l1.25 1.5l-1.25 1.5l-1.25 -1.5zM537.7 582.8l1.25 1.5l-1.25 1.5l-1.25 -1.5zM550.1 584.8l1.25 1.5l-1.25 1.5l-1.25 -1.5zM549.2 575.6l1.25 1.5l-1.25 1.5l-1.25 -1.5zM533.5 597l1.25 1.5l-1.25 1.5l-1.25 -1.5zM549.9 583l1.25 1.5l-1.25 1.5l-1.25 -1.5zM546.2 596.6l1.25 1.5l-1.25 1.5l-1.25 -1.5zM553.7 565.4l1.25 1.5l-1.25 1.5l-1.25 -1.5zM535.8 594.7l1.25 1.5l-1.25 1.5l-1.25 -1.5zM552.9 587.8l1.25 1.5l-1.25 1.5l-1.25 -1.5zM550.5 584.8l1.25 1.5l-1.25 1.5l-1.25 -1.5zM549 590.1l1.25 1.5l-1.25 1.5l-1.25 -1.5zM552.1 566.7l1.25 1.5l-1.25 1.5l-1.25 -1.5zM541.1 588l1.25 1.5l-1.25 1.5l-1.25 -1.5zM547.6 569.6l1.25 1.5l-1.25 1.5l-1.25 -1.5zM541.4 590.6l1.25 1.5l-1.25 1.5l-1.25 -1.5zM561.8 568.3l1.25 1.5l-1.25 1.5l-1.25 -1.5zM562.7 563.2l1.25 1.5l-1.25 1.5l-1.25 -1.5zM544.7 596.1l1.25 1.5l-1.25 1.5l-1.25 -1.5zM541.6 579.5l1.25 1.5l-1.25 1.5l-1.25 -1.5zM542 579.2l1.25 1.5l-1.25 1.5l-1.25 -1.5zM551 563.5l1.25 1.5l-1.25 1.5l-1.25 -1.5zM540.3 591.2l1.25 1.5l-1.25 1.5l-1.25 -1.5zM564.9 560.9l1.25 1.5l-1.25 1.5l-1.25 -1.5zM550.4 575.4l1.25 1.5l-1.25 1.5l-1.25 -1.5zM561.5 557.5l1.25 1.5l-1.25 1.5l-1.25 -1.5zM535.3 598.7l1.25 1.5l-1.25 1.5l-1.25 -1.5zM538.3 579.6l1.25 1.5l-1.25 1.5l-1.25 -1.5zM538.2 594l1.25 1.5l-1.25 1.5l-1.25 -1.5zM537.1 599.8l1.25 1.5l-1.25 1.5l-1.25 -1.5zM546 586.9l1.25 1.5l-1.25 1.5l-1.25 -1.5zM538.4 601.2l1.25 1.5l-1.25 1.5l-1.25 -1.5zM537.1 595.4l1.25 1.5l-1.25 1.5l-1.25 -1.5zM543.7 572.3l1.25 1.5l-1.25 1.5l-1.25 -1.5zM550.4 574.5l1.25 1.5l-1.25 1.5l-1.25 -1.5zM533.3 597l1.25 1.5l-1.25 1.5l-1.25 -1.5zM561.6 555.2l1.25 1.5l-1.25 1.5l-1.25 -1.5zM567.4 559.2l1.25 1.5l-1.25 1.5l-1.25 -1.5zM559.2 564.9l1.25 1.5l-1.25 1.5l-1.25 -1.5zM538.1 589.7l1.25 1.5l-1.25 1.5l-1.25 -1.5zM554.9 567.6l1.25 1.5l-1.25 1.5l-1.25 -1.5zM545.3 594.8l1.25 1.5l-1.25 1.5l-1.25 -1.5zM544.9 572.5l1.25 1.5l-1.25 1.5l-1.25 -1.5zM564.6 561.8l1.25 1.5l-1.25 1.5l-1.25 -1.5zM553.8 581.6l1.25 1.5l-1.25 1.5l-1.25 -1.5zM543.4 589.3l1.25 1.5l-1.25 1.5l-1.25 -1.5zM549.2 574.6l1.25 1.5l-1.25 1.5l-1.25 -1.5zM544.4 588.3l1.25 1.5l-1.25 1.5l-1.25 -1.5zM550.5 577.9l1.25 1.5l-1.25 1.5l-1.25 -1.5zM563.4 569.8l1.25 1.5l-1.25 1.5l-1.25 -1.5z" fill="#e2878a" stroke="#6a3a28" stroke-width="0.4"/>
<path d="M597.6 565.2l1.15 1.38l-1.15 1.38l-1.15 -1.38zM605.3 580.9l1.15 1.38l-1.15 1.38l-1.15 -1.38zM605.2 578.8l1.15 1.38l-1.15 1.38l-1.15 -1.38zM599.6 569.2l1.15 1.38l-1.15 1.38l-1.15 -1.38zM582.8 560.9l1.15 1.38l-1.15 1.38l-1.15 -1.38zM587.6 559.2l1.15 1.38l-1.15 1.38l-1.15 -1.38zM584.3 556.2l1.15 1.38l-1.15 1.38l-1.15 -1.38zM586.4 562.4l1.15 1.38l-1.15 1.38l-1.15 -1.38zM584.5 554.7l1.15 1.38l-1.15 1.38l-1.15 -1.38z" fill="#eaa08e" stroke="#b06a5c" stroke-width="0.35"/>
<path d="M582.4 561l1.15 1.38l-1.15 1.38l-1.15 -1.38zM591.6 570.2l1.15 1.38l-1.15 1.38l-1.15 -1.38zM612.4 576.3l1.15 1.38l-1.15 1.38l-1.15 -1.38zM604.1 577l1.15 1.38l-1.15 1.38l-1.15 -1.38zM610.8 582.9l1.15 1.38l-1.15 1.38l-1.15 -1.38zM604.8 583.9l1.15 1.38l-1.15 1.38l-1.15 -1.38z" fill="#e08a7c" stroke="#b06a5c" stroke-width="0.35"/>
<path d="M581.2 555.2l1.15 1.38l-1.15 1.38l-1.15 -1.38zM590.4 562.2l1.15 1.38l-1.15 1.38l-1.15 -1.38z" fill="#4787bf" stroke="#b06a5c" stroke-width="0.35"/>
<path d="M574.1 555.1l1.15 1.38l-1.15 1.38l-1.15 -1.38zM594.4 566.9l1.15 1.38l-1.15 1.38l-1.15 -1.38zM586.3 556.3l1.15 1.38l-1.15 1.38l-1.15 -1.38zM582.3 566l1.15 1.38l-1.15 1.38l-1.15 -1.38zM576.6 551.2l1.15 1.38l-1.15 1.38l-1.15 -1.38zM570.9 556.1l1.15 1.38l-1.15 1.38l-1.15 -1.38zM587.7 568.1l1.15 1.38l-1.15 1.38l-1.15 -1.38zM588.6 569.3l1.15 1.38l-1.15 1.38l-1.15 -1.38zM588.8 557.8l1.15 1.38l-1.15 1.38l-1.15 -1.38zM610.1 579.5l1.15 1.38l-1.15 1.38l-1.15 -1.38zM582.7 556.1l1.15 1.38l-1.15 1.38l-1.15 -1.38zM595.6 563.2l1.15 1.38l-1.15 1.38l-1.15 -1.38zM599.9 568.8l1.15 1.38l-1.15 1.38l-1.15 -1.38z" fill="#eaa08e" stroke="#b06a5c" stroke-width="0.35"/>
<path d="M572.3 555l1.15 1.38l-1.15 1.38l-1.15 -1.38zM580.4 561.5l1.15 1.38l-1.15 1.38l-1.15 -1.38zM604.3 578.5l1.15 1.38l-1.15 1.38l-1.15 -1.38zM573.4 553.6l1.15 1.38l-1.15 1.38l-1.15 -1.38zM592.6 573.7l1.15 1.38l-1.15 1.38l-1.15 -1.38zM578.6 554.9l1.15 1.38l-1.15 1.38l-1.15 -1.38z" fill="#e08a7c" stroke="#b06a5c" stroke-width="0.35"/>
<path d="M606.7 576.1l1.15 1.38l-1.15 1.38l-1.15 -1.38zM580.7 559.7l1.15 1.38l-1.15 1.38l-1.15 -1.38zM605.6 569.4l1.15 1.38l-1.15 1.38l-1.15 -1.38zM603.9 573.3l1.15 1.38l-1.15 1.38l-1.15 -1.38zM585.9 557.2l1.15 1.38l-1.15 1.38l-1.15 -1.38zM594.3 562.5l1.15 1.38l-1.15 1.38l-1.15 -1.38zM586.2 561.1l1.15 1.38l-1.15 1.38l-1.15 -1.38zM579.9 549.9l1.15 1.38l-1.15 1.38l-1.15 -1.38zM592.2 572.4l1.15 1.38l-1.15 1.38l-1.15 -1.38zM586.5 563.6l1.15 1.38l-1.15 1.38l-1.15 -1.38zM580.4 552.4l1.15 1.38l-1.15 1.38l-1.15 -1.38zM605.7 578.3l1.15 1.38l-1.15 1.38l-1.15 -1.38zM586.6 568.9l1.15 1.38l-1.15 1.38l-1.15 -1.38zM582.7 564.7l1.15 1.38l-1.15 1.38l-1.15 -1.38zM587.6 562.9l1.15 1.38l-1.15 1.38l-1.15 -1.38zM593.4 564.7l1.15 1.38l-1.15 1.38l-1.15 -1.38zM582.2 555.8l1.15 1.38l-1.15 1.38l-1.15 -1.38zM595.8 570.6l1.15 1.38l-1.15 1.38l-1.15 -1.38zM605.8 572l1.15 1.38l-1.15 1.38l-1.15 -1.38zM602.6 575.7l1.15 1.38l-1.15 1.38l-1.15 -1.38zM586 555.8l1.15 1.38l-1.15 1.38l-1.15 -1.38zM611.5 580.9l1.15 1.38l-1.15 1.38l-1.15 -1.38zM603.4 581.9l1.15 1.38l-1.15 1.38l-1.15 -1.38z" fill="#eaa08e" stroke="#b06a5c" stroke-width="0.35"/>
<path d="M590.5 562.9l1.15 1.38l-1.15 1.38l-1.15 -1.38zM577.9 550.7l1.15 1.38l-1.15 1.38l-1.15 -1.38zM572.9 550.5l1.15 1.38l-1.15 1.38l-1.15 -1.38zM613.4 580l1.15 1.38l-1.15 1.38l-1.15 -1.38z" fill="#4787bf" stroke="#b06a5c" stroke-width="0.35"/>
<path d="M573.8 558.5l1.15 1.38l-1.15 1.38l-1.15 -1.38zM595.1 568.9l1.15 1.38l-1.15 1.38l-1.15 -1.38zM599.6 572.6l1.15 1.38l-1.15 1.38l-1.15 -1.38zM590 565.9l1.15 1.38l-1.15 1.38l-1.15 -1.38zM601.5 571.2l1.15 1.38l-1.15 1.38l-1.15 -1.38zM594.3 562.7l1.15 1.38l-1.15 1.38l-1.15 -1.38zM593 572l1.15 1.38l-1.15 1.38l-1.15 -1.38zM600.8 575.5l1.15 1.38l-1.15 1.38l-1.15 -1.38zM593.9 563.6l1.15 1.38l-1.15 1.38l-1.15 -1.38zM600.5 578l1.15 1.38l-1.15 1.38l-1.15 -1.38zM604.5 568.9l1.15 1.38l-1.15 1.38l-1.15 -1.38z" fill="#e08a7c" stroke="#b06a5c" stroke-width="0.35"/>
<path d="M598.5 573.6l1.15 1.38l-1.15 1.38l-1.15 -1.38zM595.6 574.4l1.15 1.38l-1.15 1.38l-1.15 -1.38z" fill="#2768aa" stroke="#b06a5c" stroke-width="0.35"/>
<path d="M606.7 570.9l1.15 1.38l-1.15 1.38l-1.15 -1.38zM602.7 568.4l1.15 1.38l-1.15 1.38l-1.15 -1.38zM575.2 554.3l1.15 1.38l-1.15 1.38l-1.15 -1.38zM583.6 562.8l1.15 1.38l-1.15 1.38l-1.15 -1.38zM572.6 558.4l1.15 1.38l-1.15 1.38l-1.15 -1.38zM593.9 573.6l1.15 1.38l-1.15 1.38l-1.15 -1.38z" fill="#eaa08e" stroke="#b06a5c" stroke-width="0.35"/>
<path d="M612.7 576.8l1.15 1.38l-1.15 1.38l-1.15 -1.38zM601.9 578.1l1.15 1.38l-1.15 1.38l-1.15 -1.38zM600.4 565.3l1.15 1.38l-1.15 1.38l-1.15 -1.38zM575 555.1l1.15 1.38l-1.15 1.38l-1.15 -1.38zM607.7 572.8l1.15 1.38l-1.15 1.38l-1.15 -1.38zM589.4 562l1.15 1.38l-1.15 1.38l-1.15 -1.38zM572 552.6l1.15 1.38l-1.15 1.38l-1.15 -1.38zM585.6 562.6l1.15 1.38l-1.15 1.38l-1.15 -1.38zM610.7 582.9l1.15 1.38l-1.15 1.38l-1.15 -1.38zM610.7 580.7l1.15 1.38l-1.15 1.38l-1.15 -1.38zM586 561.7l1.15 1.38l-1.15 1.38l-1.15 -1.38z" fill="#e08a7c" stroke="#b06a5c" stroke-width="0.35"/>
<path d="M579.5 561.8l1.15 1.38l-1.15 1.38l-1.15 -1.38zM580 550.8l1.15 1.38l-1.15 1.38l-1.15 -1.38zM577.1 556.8l1.15 1.38l-1.15 1.38l-1.15 -1.38zM579.7 561.8l1.15 1.38l-1.15 1.38l-1.15 -1.38zM584.5 559.7l1.15 1.38l-1.15 1.38l-1.15 -1.38zM602.3 571.2l1.15 1.38l-1.15 1.38l-1.15 -1.38zM607.4 582.3l1.15 1.38l-1.15 1.38l-1.15 -1.38zM592.8 562.2l1.15 1.38l-1.15 1.38l-1.15 -1.38zM579.5 562.1l1.15 1.38l-1.15 1.38l-1.15 -1.38zM588.4 557.2l1.15 1.38l-1.15 1.38l-1.15 -1.38zM577 558.5l1.15 1.38l-1.15 1.38l-1.15 -1.38zM593.3 573.9l1.15 1.38l-1.15 1.38l-1.15 -1.38zM604.8 569.4l1.15 1.38l-1.15 1.38l-1.15 -1.38zM604.5 573.5l1.15 1.38l-1.15 1.38l-1.15 -1.38zM578.4 557.2l1.15 1.38l-1.15 1.38l-1.15 -1.38zM600.9 572.4l1.15 1.38l-1.15 1.38l-1.15 -1.38zM589.1 561.2l1.15 1.38l-1.15 1.38l-1.15 -1.38zM588.1 556l1.15 1.38l-1.15 1.38l-1.15 -1.38zM594.3 574.1l1.15 1.38l-1.15 1.38l-1.15 -1.38zM590 558.2l1.15 1.38l-1.15 1.38l-1.15 -1.38zM578 560.4l1.15 1.38l-1.15 1.38l-1.15 -1.38zM598.2 571.7l1.15 1.38l-1.15 1.38l-1.15 -1.38zM570.8 554.5l1.15 1.38l-1.15 1.38l-1.15 -1.38zM585.8 566.7l1.15 1.38l-1.15 1.38l-1.15 -1.38zM592.7 565l1.15 1.38l-1.15 1.38l-1.15 -1.38zM593.4 571.4l1.15 1.38l-1.15 1.38l-1.15 -1.38zM578.7 560.3l1.15 1.38l-1.15 1.38l-1.15 -1.38zM590.6 569.8l1.15 1.38l-1.15 1.38l-1.15 -1.38zM604 572.2l1.15 1.38l-1.15 1.38l-1.15 -1.38zM599.6 569.7l1.15 1.38l-1.15 1.38l-1.15 -1.38zM573.6 553.5l1.15 1.38l-1.15 1.38l-1.15 -1.38zM589.5 558.6l1.15 1.38l-1.15 1.38l-1.15 -1.38zM602.8 570.1l1.15 1.38l-1.15 1.38l-1.15 -1.38zM582 552.3l1.15 1.38l-1.15 1.38l-1.15 -1.38zM573.9 556.1l1.15 1.38l-1.15 1.38l-1.15 -1.38zM586.3 568.7l1.15 1.38l-1.15 1.38l-1.15 -1.38zM600.2 572l1.15 1.38l-1.15 1.38l-1.15 -1.38zM597.7 571.5l1.15 1.38l-1.15 1.38l-1.15 -1.38zM592.3 561.9l1.15 1.38l-1.15 1.38l-1.15 -1.38zM603.8 579.3l1.15 1.38l-1.15 1.38l-1.15 -1.38zM601.1 570.4l1.15 1.38l-1.15 1.38l-1.15 -1.38zM593 560.5l1.15 1.38l-1.15 1.38l-1.15 -1.38zM573.3 559.2l1.15 1.38l-1.15 1.38l-1.15 -1.38zM594.8 567.2l1.15 1.38l-1.15 1.38l-1.15 -1.38zM614.6 579l1.15 1.38l-1.15 1.38l-1.15 -1.38zM605.2 577.7l1.15 1.38l-1.15 1.38l-1.15 -1.38zM592.7 565.4l1.15 1.38l-1.15 1.38l-1.15 -1.38zM595 566.2l1.15 1.38l-1.15 1.38l-1.15 -1.38zM601.6 578.9l1.15 1.38l-1.15 1.38l-1.15 -1.38zM608 580l1.15 1.38l-1.15 1.38l-1.15 -1.38z" fill="#eaa08e" stroke="#b06a5c" stroke-width="0.35"/>
<path d="M603.2 581.5l1.15 1.38l-1.15 1.38l-1.15 -1.38zM596.8 576.5l1.15 1.38l-1.15 1.38l-1.15 -1.38zM601.6 579.9l1.15 1.38l-1.15 1.38l-1.15 -1.38zM591 564.3l1.15 1.38l-1.15 1.38l-1.15 -1.38zM608.3 572.5l1.15 1.38l-1.15 1.38l-1.15 -1.38zM600.2 566.7l1.15 1.38l-1.15 1.38l-1.15 -1.38zM600.2 577l1.15 1.38l-1.15 1.38l-1.15 -1.38zM590.2 559.4l1.15 1.38l-1.15 1.38l-1.15 -1.38zM588.8 570.4l1.15 1.38l-1.15 1.38l-1.15 -1.38zM596.7 566.1l1.15 1.38l-1.15 1.38l-1.15 -1.38zM610.7 583.8l1.15 1.38l-1.15 1.38l-1.15 -1.38zM610.6 582.5l1.15 1.38l-1.15 1.38l-1.15 -1.38zM593 566.4l1.15 1.38l-1.15 1.38l-1.15 -1.38zM592.6 566.2l1.15 1.38l-1.15 1.38l-1.15 -1.38zM604.7 573.3l1.15 1.38l-1.15 1.38l-1.15 -1.38zM612.3 577.9l1.15 1.38l-1.15 1.38l-1.15 -1.38zM596 576.3l1.15 1.38l-1.15 1.38l-1.15 -1.38z" fill="#e08a7c" stroke="#b06a5c" stroke-width="0.35"/>
<path d="M603.5 573.9l1.15 1.38l-1.15 1.38l-1.15 -1.38zM613.1 577l1.15 1.38l-1.15 1.38l-1.15 -1.38zM590.4 560.1l1.15 1.38l-1.15 1.38l-1.15 -1.38zM580.8 557.5l1.15 1.38l-1.15 1.38l-1.15 -1.38zM578.4 552.3l1.15 1.38l-1.15 1.38l-1.15 -1.38z" fill="#4787bf" stroke="#b06a5c" stroke-width="0.35"/>
<path d="M580.9 561.2l1.15 1.38l-1.15 1.38l-1.15 -1.38zM589.6 564.8l1.15 1.38l-1.15 1.38l-1.15 -1.38zM579.7 558.6l1.15 1.38l-1.15 1.38l-1.15 -1.38zM611.3 583l1.15 1.38l-1.15 1.38l-1.15 -1.38zM589.3 564.8l1.15 1.38l-1.15 1.38l-1.15 -1.38z" fill="#2768aa" stroke="#b06a5c" stroke-width="0.35"/>
<path d="M606.1 547.7l1 1.2l-1 1.2l-1 -1.2zM609 550.8l1 1.2l-1 1.2l-1 -1.2zM611 554.4l1 1.2l-1 1.2l-1 -1.2zM611.6 552.7l1 1.2l-1 1.2l-1 -1.2zM610.5 552.2l1 1.2l-1 1.2l-1 -1.2zM610.4 552l1 1.2l-1 1.2l-1 -1.2zM606.1 549.1l1 1.2l-1 1.2l-1 -1.2zM608.2 550.6l1 1.2l-1 1.2l-1 -1.2z" fill="#2768aa" stroke="#123a70" stroke-width="0.35"/>
<path d="M610.6 550.6l1 1.2l-1 1.2l-1 -1.2zM610.1 550.2l1 1.2l-1 1.2l-1 -1.2z" fill="#f4b6a2" stroke="#f4b6a2" stroke-width="0.35"/>
<text x="512.5" y="458.6" font-size="6.9" text-anchor="start" fill="#231f20" font-weight="normal" >S2</text>
<text x="617" y="472" font-size="6.9" text-anchor="start" fill="#231f20" font-weight="normal" >S1</text>
<text x="471.2" y="517.6" font-size="6.9" text-anchor="start" fill="#231f20" font-weight="normal" >S3</text>
<text x="617.4" y="557.5" font-size="6.9" text-anchor="start" fill="#231f20" font-weight="normal" >S5</text>
<text x="500.2" y="583" font-size="6.9" text-anchor="start" fill="#231f20" font-weight="normal" >S4</text>
<line x1="467.8" y1="593.6" x2="467.8" y2="568" stroke="#000" stroke-width="0.9" />
<polygon points="467.8,565.3 465.9,569.6 469.7,569.6" fill="#000" stroke="none" stroke-width="0" />
<line x1="467.8" y1="593.6" x2="493.5" y2="593.6" stroke="#000" stroke-width="0.9" />
<polygon points="496.3,593.6 492,591.7 492,595.5" fill="#000" stroke="none" stroke-width="0" />
<text x="0" y="0" font-size="8.3" text-anchor="middle" fill="#231f20" font-weight="normal" transform="translate(462.3,580.0) rotate(-90)"><tspan font-style="italic">t</tspan>-SNE 2</text>
<text x="482.3" y="607.6" font-size="8.2" text-anchor="middle" fill="#231f20" font-weight="normal" ><tspan font-style="italic">t</tspan>-SNE 1</text>
<text x="668.3" y="446.5" font-size="8.8" text-anchor="middle" fill="#231f20" font-weight="normal" >Fatigue</text>
<text x="668.3" y="455.8" font-size="8.8" text-anchor="middle" fill="#231f20" font-weight="normal" >level</text>
<rect x="663.3" y="462.1" width="10.2" height="17.2" fill="#184d90" stroke="none" stroke-width="0" />
<line x1="673.5" y1="470.7" x2="675.6" y2="470.7" stroke="#444" stroke-width="0.6" />
<text x="677.4" y="473.7" font-size="8.2" text-anchor="start" fill="#231f20" font-weight="normal" >7</text>
<rect x="663.3" y="479.3" width="10.2" height="17.2" fill="#2768aa" stroke="none" stroke-width="0" />
<line x1="673.5" y1="487.9" x2="675.6" y2="487.9" stroke="#444" stroke-width="0.6" />
<text x="677.4" y="490.9" font-size="8.2" text-anchor="start" fill="#231f20" font-weight="normal" >6</text>
<rect x="663.3" y="496.5" width="10.2" height="17.2" fill="#4787bf" stroke="none" stroke-width="0" />
<line x1="673.5" y1="505.1" x2="675.6" y2="505.1" stroke="#444" stroke-width="0.6" />
<text x="677.4" y="508.1" font-size="8.2" text-anchor="start" fill="#231f20" font-weight="normal" >5</text>
<rect x="663.3" y="513.7" width="10.2" height="17.2" fill="#72a6d0" stroke="none" stroke-width="0" />
<line x1="673.5" y1="522.3" x2="675.6" y2="522.3" stroke="#444" stroke-width="0.6" />
<text x="677.4" y="525.3" font-size="8.2" text-anchor="start" fill="#231f20" font-weight="normal" >4</text>
<rect x="663.3" y="530.9" width="10.2" height="17.2" fill="#d6e7f1" stroke="none" stroke-width="0" />
<line x1="673.5" y1="539.5" x2="675.6" y2="539.5" stroke="#444" stroke-width="0.6" />
<text x="677.4" y="542.5" font-size="8.2" text-anchor="start" fill="#231f20" font-weight="normal" >3</text>
<rect x="663.3" y="548.1" width="10.2" height="17.2" fill="#f4b6a2" stroke="none" stroke-width="0" />
<line x1="673.5" y1="556.7" x2="675.6" y2="556.7" stroke="#444" stroke-width="0.6" />
<text x="677.4" y="559.7" font-size="8.2" text-anchor="start" fill="#231f20" font-weight="normal" >2</text>
<rect x="663.3" y="565.3" width="10.2" height="17.2" fill="#e2878a" stroke="none" stroke-width="0" />
<line x1="673.5" y1="573.9" x2="675.6" y2="573.9" stroke="#444" stroke-width="0.6" />
<text x="677.4" y="576.9" font-size="8.2" text-anchor="start" fill="#231f20" font-weight="normal" >1</text>
<rect x="663.3" y="462.1" width="10.2" height="120.4" fill="none" stroke="#555" stroke-width="0.6" />
</svg></body></html>
